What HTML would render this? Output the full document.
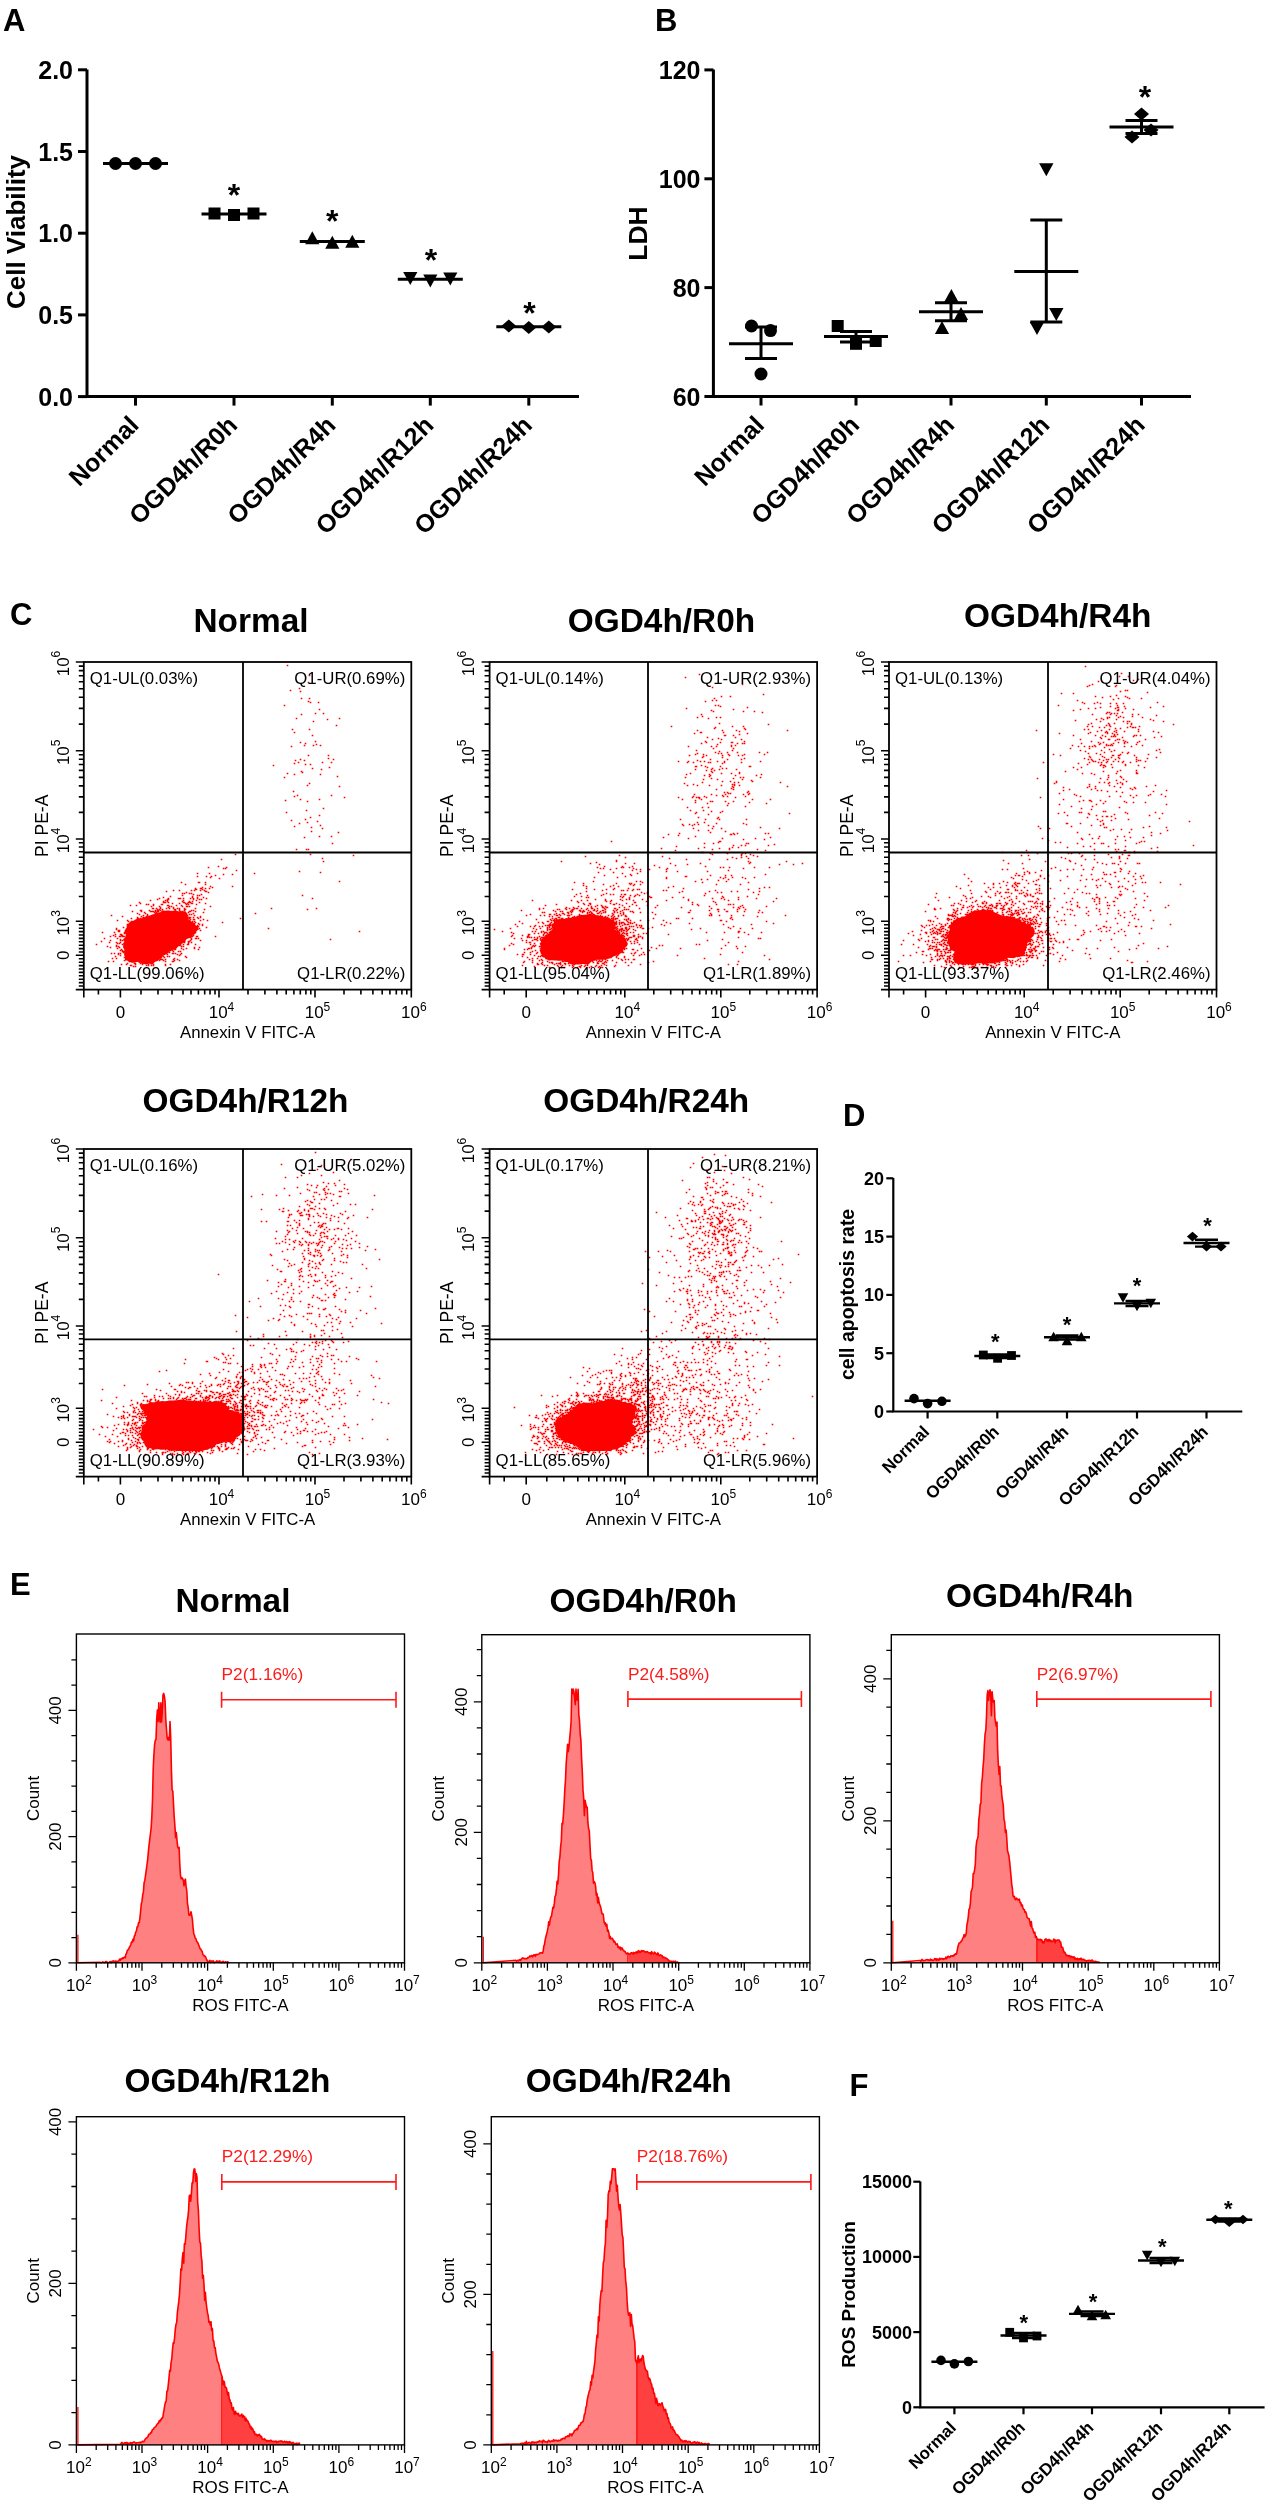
<!DOCTYPE html>
<html><head><meta charset="utf-8"><style>html,body{margin:0;padding:0;background:#fff;width:1267px;height:2500px;overflow:hidden}svg{display:block;will-change:transform}</style></head><body>
<svg width="1267" height="2500" viewBox="0 0 1267 2500">
<rect width="1267" height="2500" fill="#fff"/>
<g stroke="#000" stroke-width="3" fill="none">
<path d="M87 69.5V396.6H579"/>
<path d="M78 396.6H87"/>
<path d="M78 314.9H87"/>
<path d="M78 233.2H87"/>
<path d="M78 151.5H87"/>
<path d="M78 69.8H87"/>
<path d="M135.5 396.6V405.6"/>
<path d="M234 396.6V405.6"/>
<path d="M332.3 396.6V405.6"/>
<path d="M430.3 396.6V405.6"/>
<path d="M528.8 396.6V405.6"/>
</g>
<g font-family="Liberation Sans" font-weight="bold" font-size="25" text-anchor="end" fill="#000">
<text x="73" y="405.6">0.0</text>
<text x="73" y="323.9">0.5</text>
<text x="73" y="242.2">1.0</text>
<text x="73" y="160.5">1.5</text>
<text x="73" y="78.8">2.0</text>
</g>
<text font-family="Liberation Sans" font-weight="bold" font-size="26" text-anchor="middle" transform="translate(24.5 232) rotate(-90)">Cell Viability</text>
<g font-family="Liberation Sans" font-weight="bold" font-size="25" text-anchor="end">
<text transform="translate(140.2 426.6) rotate(-45)">Normal</text>
<text transform="translate(238.7 426.6) rotate(-45)">OGD4h/R0h</text>
<text transform="translate(337 426.6) rotate(-45)">OGD4h/R4h</text>
<text transform="translate(435 426.6) rotate(-45)">OGD4h/R12h</text>
<text transform="translate(533.5 426.6) rotate(-45)">OGD4h/R24h</text>
</g>
<g fill="#000">
<circle cx="115.5" cy="163.5" r="6.5"/>
<circle cx="135.5" cy="163.5" r="6.5"/>
<circle cx="155.5" cy="163.5" r="6.5"/>
<rect x="208.5" y="207.5" width="12" height="12"/>
<rect x="228" y="209" width="12" height="12"/>
<rect x="247.5" y="207.5" width="12" height="12"/>
<path d="M312.3 231.3L319.4 244.3L305.2 244.3Z"/>
<path d="M332.3 235.8L339.4 248.8L325.2 248.8Z"/>
<path d="M352.3 234.8L359.4 247.8L345.2 247.8Z"/>
<path d="M410.3 285.1L417.4 272.1L403.2 272.1Z"/>
<path d="M430.3 287.6L437.4 274.6L423.2 274.6Z"/>
<path d="M450.3 285.6L457.4 272.6L443.2 272.6Z"/>
<path d="M508.8 319.5L516.3 326L508.8 332.5L501.3 326Z"/>
<path d="M528.8 321L536.3 327.5L528.8 334L521.3 327.5Z"/>
<path d="M548.8 320.5L556.3 327L548.8 333.5L541.3 327Z"/>
</g>
<g stroke="#000" stroke-width="3" fill="none">
<path d="M103 163.5H168"/>
<path d="M201.5 213.9H266.5"/>
<path d="M299.8 241.4H364.8"/>
<path d="M397.8 279.3H462.8"/>
<path d="M496.3 326.8H561.3"/>
</g>
<g font-family="Liberation Sans" font-weight="bold" font-size="32" text-anchor="middle">
<text x="234" y="206.3">*</text>
<text x="332.3" y="232.3">*</text>
<text x="431" y="271.1">*</text>
<text x="529.5" y="324.1">*</text>
</g>
<g stroke="#000" stroke-width="3" fill="none">
<path d="M713.4 69.5V396.5H1191"/>
<path d="M704.4 396.5H713.4"/>
<path d="M704.4 287.6H713.4"/>
<path d="M704.4 178.8H713.4"/>
<path d="M704.4 69.9H713.4"/>
<path d="M761 396.5V405.5"/>
<path d="M856 396.5V405.5"/>
<path d="M951 396.5V405.5"/>
<path d="M1046.3 396.5V405.5"/>
<path d="M1141.5 396.5V405.5"/>
</g>
<g font-family="Liberation Sans" font-weight="bold" font-size="25" text-anchor="end" fill="#000">
<text x="700.5" y="405.5">60</text>
<text x="700.5" y="296.6">80</text>
<text x="700.5" y="187.8">100</text>
<text x="700.5" y="78.9">120</text>
</g>
<text font-family="Liberation Sans" font-weight="bold" font-size="26.5" text-anchor="middle" transform="translate(647 233.5) rotate(-90)">LDH</text>
<g font-family="Liberation Sans" font-weight="bold" font-size="25" text-anchor="end">
<text transform="translate(765.7 426.5) rotate(-45)">Normal</text>
<text transform="translate(860.7 426.5) rotate(-45)">OGD4h/R0h</text>
<text transform="translate(955.7 426.5) rotate(-45)">OGD4h/R4h</text>
<text transform="translate(1051 426.5) rotate(-45)">OGD4h/R12h</text>
<text transform="translate(1146.2 426.5) rotate(-45)">OGD4h/R24h</text>
</g>
<g fill="#000">
<circle cx="751.5" cy="326" r="6.5"/>
<circle cx="770.5" cy="330.6" r="6.5"/>
<circle cx="761" cy="374" r="6.5"/>
<rect x="831.7" y="320" width="12" height="12"/>
<rect x="850" y="337.8" width="12" height="12"/>
<rect x="869.7" y="335" width="12" height="12"/>
<path d="M951.4 288.9L958.5 301.9L944.2 301.9Z"/>
<path d="M961 306.9L968.1 319.9L953.9 319.9Z"/>
<path d="M942 320.9L949.1 333.9L934.9 333.9Z"/>
<path d="M1046.3 176.2L1053.5 163.2L1039.1 163.2Z"/>
<path d="M1056.3 321.1L1063.5 308.1L1049.1 308.1Z"/>
<path d="M1037 335.1L1044.2 322.1L1029.8 322.1Z"/>
<path d="M1141.5 107.5L1149 114L1141.5 120.5L1134 114Z"/>
<path d="M1151 123.5L1158.5 130L1151 136.5L1143.5 130Z"/>
<path d="M1132 130.5L1139.5 137L1132 143.5L1124.5 137Z"/>
</g>
<g stroke="#000" stroke-width="3" fill="none">
<path d="M729 343.8H793"/>
<path d="M761 327V358.6M745 327H777M745 358.6H777"/>
<path d="M824 336.5H888"/>
<path d="M856 331.5V341.9M840 331.5H872M840 341.9H872"/>
<path d="M919 311.7H983"/>
<path d="M951 302.8V320.8M935 302.8H967M935 320.8H967"/>
<path d="M1014.3 271.5H1078.3"/>
<path d="M1046.3 220V322M1030.3 220H1062.3M1030.3 322H1062.3"/>
<path d="M1109.5 127H1173.5"/>
<path d="M1141.5 120.6V133.4M1125.5 120.6H1157.5M1125.5 133.4H1157.5"/>
</g>
<g font-family="Liberation Sans" font-weight="bold" font-size="32" text-anchor="middle">
<text x="1145" y="108.3">*</text>
</g>
<g stroke="#000" stroke-width="2.2" fill="none">
<path d="M893.3 1178V1411.5H1242.3"/>
<path d="M886.3 1411.5H893.3"/>
<path d="M886.3 1353.2H893.3"/>
<path d="M886.3 1294.9H893.3"/>
<path d="M886.3 1236.6H893.3"/>
<path d="M886.3 1178.3H893.3"/>
<path d="M927.6 1411.5V1418.5"/>
<path d="M997.3 1411.5V1418.5"/>
<path d="M1067 1411.5V1418.5"/>
<path d="M1137 1411.5V1418.5"/>
<path d="M1206.5 1411.5V1418.5"/>
</g>
<g font-family="Liberation Sans" font-weight="bold" font-size="18" text-anchor="end" fill="#000">
<text x="884" y="1418">0</text>
<text x="884" y="1359.7">5</text>
<text x="884" y="1301.4">10</text>
<text x="884" y="1243.1">15</text>
<text x="884" y="1184.8">20</text>
</g>
<text font-family="Liberation Sans" font-weight="bold" font-size="19.5" text-anchor="middle" transform="translate(854 1294.4) rotate(-90)">cell apoptosis rate</text>
<g font-family="Liberation Sans" font-weight="bold" font-size="17" text-anchor="end">
<text transform="translate(930.3 1432.8) rotate(-45)">Normal</text>
<text transform="translate(1000 1432.8) rotate(-45)">OGD4h/R0h</text>
<text transform="translate(1069.7 1432.8) rotate(-45)">OGD4h/R4h</text>
<text transform="translate(1139.7 1432.8) rotate(-45)">OGD4h/R12h</text>
<text transform="translate(1209.2 1432.8) rotate(-45)">OGD4h/R24h</text>
</g>
<g fill="#000">
<circle cx="914" cy="1398.6" r="4.8"/>
<circle cx="927.6" cy="1403.6" r="4.8"/>
<circle cx="941.9" cy="1401.3" r="4.8"/>
<rect x="978.9" y="1350.6" width="8.8" height="8.8"/>
<rect x="993.2" y="1353.9" width="8.8" height="8.8"/>
<rect x="1007.1" y="1351.1" width="8.8" height="8.8"/>
<path d="M1053.6 1331.7L1058.9 1341.3L1048.3 1341.3Z"/>
<path d="M1067 1335.7L1072.3 1345.3L1061.7 1345.3Z"/>
<path d="M1081.3 1331.7L1086.6 1341.3L1076 1341.3Z"/>
<path d="M1123 1302.8L1128.3 1293.2L1117.7 1293.2Z"/>
<path d="M1137 1311.3L1142.3 1301.7L1131.7 1301.7Z"/>
<path d="M1150.8 1308.3L1156.1 1298.7L1145.5 1298.7Z"/>
<path d="M1192.5 1231.8L1198.1 1236.6L1192.5 1241.4L1186.9 1236.6Z"/>
<path d="M1206.5 1241.8L1212.1 1246.6L1206.5 1251.4L1200.9 1246.6Z"/>
<path d="M1221 1241.8L1226.6 1246.6L1221 1251.4L1215.4 1246.6Z"/>
</g>
<g stroke="#000" stroke-width="2.4" fill="none">
<path d="M904.6 1400.8H950.6"/>
<path d="M974.3 1356H1020.3"/>
<path d="M997.3 1354.5V1358M985.8 1354.5H1008.8M985.8 1358H1008.8"/>
<path d="M1044 1337.3H1090"/>
<path d="M1067 1335.5V1339.5M1055.5 1335.5H1078.5M1055.5 1339.5H1078.5"/>
<path d="M1114 1303.4H1160"/>
<path d="M1137 1301V1306M1125.5 1301H1148.5M1125.5 1306H1148.5"/>
<path d="M1183.5 1243H1229.5"/>
<path d="M1206.5 1239.8V1246.6M1195 1239.8H1218M1195 1246.6H1218"/>
</g>
<g font-family="Liberation Sans" font-weight="bold" font-size="22" text-anchor="middle">
<text x="995.2" y="1348.5">*</text>
<text x="1067" y="1332">*</text>
<text x="1137" y="1293.2">*</text>
<text x="1207.6" y="1232.5">*</text>
</g>
<g stroke="#000" stroke-width="2.2" fill="none">
<path d="M920.3 2181.5V2407.3H1264.6"/>
<path d="M913.3 2407.3H920.3"/>
<path d="M913.3 2332.1H920.3"/>
<path d="M913.3 2256.9H920.3"/>
<path d="M913.3 2181.7H920.3"/>
<path d="M954.4 2407.3V2414.3"/>
<path d="M1023.5 2407.3V2414.3"/>
<path d="M1092 2407.3V2414.3"/>
<path d="M1161 2407.3V2414.3"/>
<path d="M1229.3 2407.3V2414.3"/>
</g>
<g font-family="Liberation Sans" font-weight="bold" font-size="18" text-anchor="end" fill="#000">
<text x="912" y="2413.8">0</text>
<text x="912" y="2338.6">5000</text>
<text x="912" y="2263.4">10000</text>
<text x="912" y="2188.2">15000</text>
</g>
<text font-family="Liberation Sans" font-weight="bold" font-size="19" text-anchor="middle" transform="translate(854.5 2294.5) rotate(-90)">ROS Production</text>
<g font-family="Liberation Sans" font-weight="bold" font-size="17" text-anchor="end">
<text transform="translate(957.1 2428.6) rotate(-45)">Normal</text>
<text transform="translate(1026.2 2428.6) rotate(-45)">OGD4h/R0h</text>
<text transform="translate(1094.7 2428.6) rotate(-45)">OGD4h/R4h</text>
<text transform="translate(1163.7 2428.6) rotate(-45)">OGD4h/R12h</text>
<text transform="translate(1232 2428.6) rotate(-45)">OGD4h/R24h</text>
</g>
<g fill="#000">
<circle cx="941" cy="2360.4" r="4.8"/>
<circle cx="954.4" cy="2363.9" r="4.8"/>
<circle cx="968.4" cy="2361.5" r="4.8"/>
<rect x="1005.3" y="2327.9" width="8.8" height="8.8"/>
<rect x="1019.1" y="2333.5" width="8.8" height="8.8"/>
<rect x="1032.6" y="2331.6" width="8.8" height="8.8"/>
<path d="M1078 2304.7L1083.3 2314.3L1072.7 2314.3Z"/>
<path d="M1092 2310.7L1097.3 2320.3L1086.7 2320.3Z"/>
<path d="M1105.7 2309.7L1111 2319.3L1100.4 2319.3Z"/>
<path d="M1147.2 2260.3L1152.5 2250.7L1141.9 2250.7Z"/>
<path d="M1161 2267.3L1166.3 2257.7L1155.7 2257.7Z"/>
<path d="M1174.8 2266.3L1180.1 2256.7L1169.5 2256.7Z"/>
<path d="M1215.4 2214.7L1221 2219.5L1215.4 2224.3L1209.8 2219.5Z"/>
<path d="M1229.3 2217.5L1234.9 2222.3L1229.3 2227.1L1223.7 2222.3Z"/>
<path d="M1243 2214.7L1248.6 2219.5L1243 2224.3L1237.4 2219.5Z"/>
</g>
<g stroke="#000" stroke-width="2.4" fill="none">
<path d="M931.4 2361.8H977.4"/>
<path d="M1000.5 2335.5H1046.5"/>
<path d="M1023.5 2333V2338M1012 2333H1035M1012 2338H1035"/>
<path d="M1069 2313.9H1115"/>
<path d="M1092 2311.5V2316M1080.5 2311.5H1103.5M1080.5 2316H1103.5"/>
<path d="M1138 2260.5H1184"/>
<path d="M1161 2258V2263M1149.5 2258H1172.5M1149.5 2263H1172.5"/>
<path d="M1206.3 2219.8H1252.3"/>
<path d="M1229.3 2218.5V2221.5M1217.8 2218.5H1240.8M1217.8 2221.5H1240.8"/>
</g>
<g font-family="Liberation Sans" font-weight="bold" font-size="22" text-anchor="middle">
<text x="1023.9" y="2329.8">*</text>
<text x="1093" y="2309.2">*</text>
<text x="1162.2" y="2254.2">*</text>
<text x="1228.3" y="2215.7">*</text>
</g>
<text x="3" y="31" font-family="Liberation Sans" font-weight="bold" font-size="31">A</text>
<text x="655" y="31" font-family="Liberation Sans" font-weight="bold" font-size="31">B</text>
<text x="10" y="624.5" font-family="Liberation Sans" font-weight="bold" font-size="31">C</text>
<text x="843" y="1126" font-family="Liberation Sans" font-weight="bold" font-size="31">D</text>
<text x="10" y="1595" font-family="Liberation Sans" font-weight="bold" font-size="31">E</text>
<text x="849.5" y="2096" font-family="Liberation Sans" font-weight="bold" font-size="31">F</text>
<text x="251" y="631.6" font-family="Liberation Sans" font-weight="bold" font-size="33.4" text-anchor="middle">Normal</text>
<path fill="#ff0000" d="M190.4 920.4 191.7 921.7 193.6 922.4 195.3 923.3 195.2 924.7 196.2 925.8 198.8 926.6 198.3 928.1 198.9 929.4 196.5 931 196.4 932.4 195.5 933.8 192.8 935.2 192.5 936.5 190.6 937.7 187.3 938.7 185.9 939.7 185.5 940.9 185.1 942.2 183 943 181.6 944 180.7 945.2 178.9 945.9 177.7 947.1 176.5 948.2 175 949.2 173 949.8 171.4 950.8 169.6 951.8 168 953.2 165.6 954.5 163.2 955.8 161.5 958.4 159.4 959.5 157.4 961.1 155.3 961.6 153.1 963.8 151 964.4 149.3 963.6 147.4 964 145.5 964.5 144 964.1 142.4 963.9 141.5 962.6 139.8 962.9 138.6 962.4 137.5 961.7 135.6 962.2 133.5 962.8 131.7 962.8 130.5 962.3 128.7 962.2 128.2 961 126.7 960.6 124.9 960.4 125 958.7 125.2 957.1 124.4 956.1 124.1 954.7 124.1 953.1 124.6 951.1 124.2 949.6 123.8 948.3 122.9 947.3 123.2 946 123.3 944.8 123 943.7 124.1 942.3 124.3 941.2 123.4 940.2 123.3 939.1 124.7 937.9 125.6 936.7 126.5 935.6 126 934.5 125.1 933.2 125.5 931.9 125.9 930.6 125.3 929 126.6 927.8 126.7 926.1 126.9 924.4 128.8 923.2 130.7 922 133 921 134.9 919.9 137 918.7 140.5 919 142.3 917.6 144.8 917 147.7 916 150.5 915.3 152.7 914.4 154.8 914 156.7 913.1 158.6 912.5 160.3 912.3 162.4 910.5 164.1 910.6 165.6 911 167.3 910.4 168.8 910.5 170.1 910.9 171.5 911.1 173.1 910.9 174.6 910.8 176.1 910.8 177.5 910.9 178.5 911.6 180.3 911.2 181.7 911.5 183.7 911.2 185.4 911.3 186.2 912.2 187 913.2 187.6 914.2 187 916.1 188.6 916.5 188.9 917.8 188.5 919.6Z"/>
<path fill="none" stroke="#ff0000" stroke-width="1.6" stroke-linecap="square" d="M287.5 665.5h0M309.5 675.5h0M308.5 682.5h0M299.5 688.5h0M290.5 690.5h0M300.5 691.5h0M301.5 698.5h0M309.5 698.5h0M308.5 701.5h0M310.5 702.5h0M318.5 702.5h0M284.5 705.5h0M319.5 709.5h0M315.5 713.5h0M323.5 713.5h0M301.5 714.5h0M296.5 718.5h0M339.5 718.5h0M327.5 719.5h0M313.5 721.5h0M336.5 725.5h0M292.5 729.5h0M309.5 729.5h0M294.5 732.5h0M312.5 735.5h0M315.5 741.5h0M300.5 742.5h0M305.5 743.5h0M316.5 744.5h0M304.5 745.5h0M313.5 745.5h0M320.5 745.5h0M291.5 746.5h0M308.5 755.5h0M328.5 755.5h0M328.5 758.5h0M300.5 759.5h0M333.5 759.5h0M295.5 760.5h0M304.5 760.5h0M298.5 762.5h0M322.5 762.5h0M331.5 762.5h0M294.5 763.5h0M305.5 764.5h0M310.5 764.5h0M273.5 765.5h0M329.5 767.5h0M312.5 768.5h0M321.5 769.5h0M301.5 771.5h0M302.5 772.5h0M287.5 773.5h0M294.5 774.5h0M320.5 774.5h0M337.5 776.5h0M284.5 777.5h0M309.5 783.5h0M307.5 785.5h0M339.5 786.5h0M293.5 791.5h0M297.5 795.5h0M331.5 795.5h0M294.5 796.5h0M344.5 797.5h0M300.5 799.5h0M319.5 799.5h0M285.5 800.5h0M307.5 801.5h0M323.5 808.5h0M306.5 810.5h0M286.5 812.5h0M319.5 815.5h0M310.5 817.5h0M305.5 819.5h0M291.5 820.5h0M317.5 821.5h0M307.5 822.5h0M299.5 823.5h0M320.5 825.5h0M294.5 826.5h0M311.5 827.5h0M322.5 828.5h0M311.5 831.5h0M338.5 832.5h0M319.5 836.5h0M331.5 836.5h0M304.5 837.5h0M332.5 843.5h0M296.5 849.5h0M306.5 849.5h0M308.5 849.5h0M235.5 854.5h0M310.5 854.5h0M353.5 855.5h0M322.5 858.5h0M221.5 859.5h0M323.5 861.5h0M218.5 866.5h0M208.5 867.5h0M226.5 867.5h0M223.5 868.5h0M225.5 868.5h0M236.5 870.5h0M299.5 871.5h0M320.5 872.5h0M197.5 873.5h0M209.5 873.5h0M254.5 873.5h0M223.5 874.5h0M232.5 874.5h0M215.5 875.5h0M197.5 876.5h0M206.5 876.5h0M211.5 876.5h0M210.5 877.5h0M219.5 878.5h0M339.5 881.5h0M181.5 882.5h0M198.5 882.5h0M199.5 882.5h0M205.5 882.5h0M185.5 884.5h0M205.5 884.5h0M210.5 886.5h0M232.5 886.5h0M202.5 887.5h0M212.5 887.5h0M195.5 888.5h0M200.5 888.5h0M201.5 888.5h0M205.5 888.5h0M209.5 888.5h0M195.5 889.5h0M196.5 889.5h0M202.5 889.5h0M173.5 890.5h0M179.5 890.5h0M191.5 890.5h0M194.5 890.5h0M200.5 890.5h0M204.5 890.5h0M166.5 891.5h0M205.5 891.5h0M206.5 891.5h0M186.5 892.5h0M208.5 892.5h0M182.5 893.5h0M184.5 893.5h0M189.5 893.5h0M191.5 893.5h0M193.5 894.5h0M201.5 894.5h0M182.5 895.5h0M197.5 895.5h0M199.5 895.5h0M302.5 895.5h0M170.5 896.5h0M192.5 896.5h0M163.5 897.5h0M192.5 897.5h0M197.5 897.5h0M203.5 897.5h0M159.5 898.5h0M168.5 898.5h0M178.5 898.5h0M179.5 898.5h0M180.5 898.5h0M183.5 898.5h0M190.5 898.5h0M193.5 898.5h0M197.5 898.5h0M206.5 898.5h0M312.5 898.5h0M157.5 899.5h0M167.5 899.5h0M168.5 899.5h0M193.5 899.5h0M199.5 899.5h0M201.5 899.5h0M150.5 900.5h0M165.5 900.5h0M167.5 900.5h0M183.5 900.5h0M196.5 900.5h0M163.5 901.5h0M167.5 901.5h0M182.5 901.5h0M189.5 901.5h0M192.5 901.5h0M139.5 902.5h0M163.5 902.5h0M164.5 902.5h0M165.5 902.5h0M168.5 902.5h0M183.5 902.5h0M184.5 902.5h0M188.5 902.5h0M189.5 902.5h0M190.5 902.5h0M199.5 902.5h0M140.5 903.5h0M172.5 903.5h0M179.5 903.5h0M185.5 903.5h0M187.5 903.5h0M191.5 903.5h0M192.5 903.5h0M205.5 903.5h0M146.5 904.5h0M148.5 904.5h0M153.5 904.5h0M161.5 904.5h0M162.5 904.5h0M186.5 904.5h0M188.5 904.5h0M196.5 904.5h0M130.5 905.5h0M136.5 905.5h0M153.5 905.5h0M167.5 905.5h0M168.5 905.5h0M176.5 905.5h0M181.5 905.5h0M151.5 906.5h0M159.5 906.5h0M169.5 906.5h0M171.5 906.5h0M182.5 906.5h0M186.5 906.5h0M187.5 906.5h0M189.5 906.5h0M210.5 906.5h0M160.5 907.5h0M168.5 907.5h0M173.5 907.5h0M152.5 908.5h0M153.5 908.5h0M156.5 908.5h0M160.5 908.5h0M166.5 908.5h0M169.5 908.5h0M173.5 908.5h0M177.5 908.5h0M179.5 908.5h0M184.5 908.5h0M195.5 908.5h0M271.5 908.5h0M316.5 908.5h0M157.5 909.5h0M159.5 909.5h0M162.5 909.5h0M174.5 909.5h0M175.5 909.5h0M179.5 909.5h0M184.5 909.5h0M185.5 909.5h0M204.5 909.5h0M307.5 909.5h0M140.5 910.5h0M141.5 910.5h0M149.5 910.5h0M155.5 910.5h0M157.5 910.5h0M158.5 910.5h0M160.5 910.5h0M175.5 910.5h0M179.5 910.5h0M184.5 910.5h0M191.5 910.5h0M193.5 910.5h0M132.5 911.5h0M141.5 911.5h0M150.5 911.5h0M151.5 911.5h0M152.5 911.5h0M153.5 911.5h0M155.5 911.5h0M157.5 911.5h0M158.5 911.5h0M162.5 911.5h0M165.5 911.5h0M166.5 911.5h0M169.5 911.5h0M171.5 911.5h0M173.5 911.5h0M174.5 911.5h0M180.5 911.5h0M182.5 911.5h0M189.5 911.5h0M190.5 911.5h0M195.5 911.5h0M144.5 912.5h0M154.5 912.5h0M156.5 912.5h0M165.5 912.5h0M171.5 912.5h0M175.5 912.5h0M176.5 912.5h0M179.5 912.5h0M181.5 912.5h0M188.5 912.5h0M203.5 912.5h0M137.5 913.5h0M145.5 913.5h0M155.5 913.5h0M157.5 913.5h0M166.5 913.5h0M170.5 913.5h0M171.5 913.5h0M172.5 913.5h0M173.5 913.5h0M174.5 913.5h0M178.5 913.5h0M180.5 913.5h0M184.5 913.5h0M193.5 913.5h0M255.5 913.5h0M139.5 914.5h0M147.5 914.5h0M163.5 914.5h0M164.5 914.5h0M167.5 914.5h0M169.5 914.5h0M171.5 914.5h0M172.5 914.5h0M176.5 914.5h0M181.5 914.5h0M182.5 914.5h0M185.5 914.5h0M189.5 914.5h0M191.5 914.5h0M111.5 915.5h0M143.5 915.5h0M147.5 915.5h0M152.5 915.5h0M153.5 915.5h0M154.5 915.5h0M156.5 915.5h0M157.5 915.5h0M164.5 915.5h0M165.5 915.5h0M166.5 915.5h0M168.5 915.5h0M169.5 915.5h0M172.5 915.5h0M173.5 915.5h0M174.5 915.5h0M175.5 915.5h0M184.5 915.5h0M187.5 915.5h0M194.5 915.5h0M122.5 916.5h0M141.5 916.5h0M146.5 916.5h0M153.5 916.5h0M154.5 916.5h0M156.5 916.5h0M157.5 916.5h0M158.5 916.5h0M163.5 916.5h0M164.5 916.5h0M165.5 916.5h0M166.5 916.5h0M167.5 916.5h0M172.5 916.5h0M174.5 916.5h0M177.5 916.5h0M178.5 916.5h0M179.5 916.5h0M181.5 916.5h0M185.5 916.5h0M200.5 916.5h0M137.5 917.5h0M143.5 917.5h0M148.5 917.5h0M152.5 917.5h0M154.5 917.5h0M155.5 917.5h0M157.5 917.5h0M158.5 917.5h0M160.5 917.5h0M165.5 917.5h0M166.5 917.5h0M169.5 917.5h0M172.5 917.5h0M175.5 917.5h0M177.5 917.5h0M178.5 917.5h0M179.5 917.5h0M184.5 917.5h0M189.5 917.5h0M190.5 917.5h0M193.5 917.5h0M197.5 917.5h0M200.5 917.5h0M131.5 918.5h0M137.5 918.5h0M138.5 918.5h0M140.5 918.5h0M151.5 918.5h0M154.5 918.5h0M156.5 918.5h0M158.5 918.5h0M161.5 918.5h0M162.5 918.5h0M163.5 918.5h0M167.5 918.5h0M168.5 918.5h0M170.5 918.5h0M172.5 918.5h0M174.5 918.5h0M177.5 918.5h0M185.5 918.5h0M189.5 918.5h0M198.5 918.5h0M240.5 918.5h0M139.5 919.5h0M140.5 919.5h0M143.5 919.5h0M145.5 919.5h0M151.5 919.5h0M153.5 919.5h0M154.5 919.5h0M157.5 919.5h0M158.5 919.5h0M161.5 919.5h0M162.5 919.5h0M163.5 919.5h0M164.5 919.5h0M170.5 919.5h0M171.5 919.5h0M174.5 919.5h0M178.5 919.5h0M182.5 919.5h0M183.5 919.5h0M186.5 919.5h0M187.5 919.5h0M190.5 919.5h0M193.5 919.5h0M194.5 919.5h0M203.5 919.5h0M117.5 920.5h0M127.5 920.5h0M135.5 920.5h0M138.5 920.5h0M139.5 920.5h0M142.5 920.5h0M143.5 920.5h0M145.5 920.5h0M150.5 920.5h0M153.5 920.5h0M154.5 920.5h0M155.5 920.5h0M158.5 920.5h0M159.5 920.5h0M160.5 920.5h0M161.5 920.5h0M163.5 920.5h0M164.5 920.5h0M165.5 920.5h0M167.5 920.5h0M169.5 920.5h0M170.5 920.5h0M171.5 920.5h0M173.5 920.5h0M174.5 920.5h0M177.5 920.5h0M178.5 920.5h0M180.5 920.5h0M183.5 920.5h0M185.5 920.5h0M186.5 920.5h0M187.5 920.5h0M189.5 920.5h0M200.5 920.5h0M207.5 920.5h0M128.5 921.5h0M131.5 921.5h0M132.5 921.5h0M135.5 921.5h0M140.5 921.5h0M144.5 921.5h0M147.5 921.5h0M148.5 921.5h0M150.5 921.5h0M153.5 921.5h0M154.5 921.5h0M155.5 921.5h0M157.5 921.5h0M160.5 921.5h0M161.5 921.5h0M162.5 921.5h0M163.5 921.5h0M165.5 921.5h0M166.5 921.5h0M167.5 921.5h0M169.5 921.5h0M171.5 921.5h0M172.5 921.5h0M176.5 921.5h0M177.5 921.5h0M179.5 921.5h0M184.5 921.5h0M192.5 921.5h0M194.5 921.5h0M130.5 922.5h0M139.5 922.5h0M141.5 922.5h0M145.5 922.5h0M146.5 922.5h0M150.5 922.5h0M153.5 922.5h0M155.5 922.5h0M157.5 922.5h0M160.5 922.5h0M161.5 922.5h0M162.5 922.5h0M163.5 922.5h0M165.5 922.5h0M166.5 922.5h0M171.5 922.5h0M172.5 922.5h0M173.5 922.5h0M175.5 922.5h0M177.5 922.5h0M180.5 922.5h0M181.5 922.5h0M183.5 922.5h0M186.5 922.5h0M187.5 922.5h0M195.5 922.5h0M222.5 922.5h0M133.5 923.5h0M134.5 923.5h0M136.5 923.5h0M138.5 923.5h0M141.5 923.5h0M142.5 923.5h0M143.5 923.5h0M147.5 923.5h0M151.5 923.5h0M153.5 923.5h0M155.5 923.5h0M156.5 923.5h0M157.5 923.5h0M158.5 923.5h0M159.5 923.5h0M160.5 923.5h0M161.5 923.5h0M163.5 923.5h0M164.5 923.5h0M165.5 923.5h0M167.5 923.5h0M169.5 923.5h0M170.5 923.5h0M171.5 923.5h0M172.5 923.5h0M175.5 923.5h0M176.5 923.5h0M177.5 923.5h0M198.5 923.5h0M127.5 924.5h0M132.5 924.5h0M134.5 924.5h0M138.5 924.5h0M140.5 924.5h0M141.5 924.5h0M144.5 924.5h0M146.5 924.5h0M147.5 924.5h0M148.5 924.5h0M149.5 924.5h0M151.5 924.5h0M152.5 924.5h0M153.5 924.5h0M154.5 924.5h0M156.5 924.5h0M157.5 924.5h0M158.5 924.5h0M159.5 924.5h0M160.5 924.5h0M164.5 924.5h0M166.5 924.5h0M167.5 924.5h0M168.5 924.5h0M169.5 924.5h0M170.5 924.5h0M172.5 924.5h0M174.5 924.5h0M176.5 924.5h0M177.5 924.5h0M178.5 924.5h0M182.5 924.5h0M199.5 924.5h0M202.5 924.5h0M131.5 925.5h0M133.5 925.5h0M139.5 925.5h0M140.5 925.5h0M141.5 925.5h0M142.5 925.5h0M143.5 925.5h0M145.5 925.5h0M146.5 925.5h0M147.5 925.5h0M148.5 925.5h0M153.5 925.5h0M155.5 925.5h0M156.5 925.5h0M158.5 925.5h0M160.5 925.5h0M162.5 925.5h0M163.5 925.5h0M164.5 925.5h0M165.5 925.5h0M166.5 925.5h0M172.5 925.5h0M174.5 925.5h0M175.5 925.5h0M178.5 925.5h0M179.5 925.5h0M180.5 925.5h0M184.5 925.5h0M197.5 925.5h0M202.5 925.5h0M129.5 926.5h0M132.5 926.5h0M140.5 926.5h0M141.5 926.5h0M142.5 926.5h0M146.5 926.5h0M150.5 926.5h0M151.5 926.5h0M152.5 926.5h0M153.5 926.5h0M155.5 926.5h0M156.5 926.5h0M158.5 926.5h0M160.5 926.5h0M161.5 926.5h0M162.5 926.5h0M163.5 926.5h0M164.5 926.5h0M165.5 926.5h0M166.5 926.5h0M168.5 926.5h0M169.5 926.5h0M171.5 926.5h0M175.5 926.5h0M176.5 926.5h0M179.5 926.5h0M180.5 926.5h0M181.5 926.5h0M182.5 926.5h0M184.5 926.5h0M189.5 926.5h0M194.5 926.5h0M197.5 926.5h0M198.5 926.5h0M123.5 927.5h0M128.5 927.5h0M129.5 927.5h0M132.5 927.5h0M135.5 927.5h0M136.5 927.5h0M141.5 927.5h0M142.5 927.5h0M145.5 927.5h0M147.5 927.5h0M148.5 927.5h0M149.5 927.5h0M152.5 927.5h0M155.5 927.5h0M158.5 927.5h0M159.5 927.5h0M160.5 927.5h0M161.5 927.5h0M162.5 927.5h0M164.5 927.5h0M168.5 927.5h0M169.5 927.5h0M170.5 927.5h0M171.5 927.5h0M172.5 927.5h0M176.5 927.5h0M182.5 927.5h0M183.5 927.5h0M189.5 927.5h0M191.5 927.5h0M206.5 927.5h0M116.5 928.5h0M134.5 928.5h0M136.5 928.5h0M142.5 928.5h0M143.5 928.5h0M144.5 928.5h0M146.5 928.5h0M147.5 928.5h0M148.5 928.5h0M150.5 928.5h0M151.5 928.5h0M152.5 928.5h0M153.5 928.5h0M154.5 928.5h0M158.5 928.5h0M159.5 928.5h0M160.5 928.5h0M161.5 928.5h0M162.5 928.5h0M163.5 928.5h0M164.5 928.5h0M166.5 928.5h0M167.5 928.5h0M168.5 928.5h0M169.5 928.5h0M170.5 928.5h0M171.5 928.5h0M172.5 928.5h0M173.5 928.5h0M174.5 928.5h0M175.5 928.5h0M178.5 928.5h0M179.5 928.5h0M180.5 928.5h0M185.5 928.5h0M190.5 928.5h0M195.5 928.5h0M199.5 928.5h0M268.5 928.5h0M116.5 929.5h0M127.5 929.5h0M131.5 929.5h0M132.5 929.5h0M137.5 929.5h0M139.5 929.5h0M140.5 929.5h0M143.5 929.5h0M147.5 929.5h0M150.5 929.5h0M154.5 929.5h0M155.5 929.5h0M156.5 929.5h0M157.5 929.5h0M158.5 929.5h0M159.5 929.5h0M160.5 929.5h0M161.5 929.5h0M162.5 929.5h0M164.5 929.5h0M165.5 929.5h0M166.5 929.5h0M167.5 929.5h0M168.5 929.5h0M169.5 929.5h0M171.5 929.5h0M174.5 929.5h0M176.5 929.5h0M177.5 929.5h0M178.5 929.5h0M183.5 929.5h0M184.5 929.5h0M185.5 929.5h0M194.5 929.5h0M118.5 930.5h0M119.5 930.5h0M125.5 930.5h0M128.5 930.5h0M132.5 930.5h0M133.5 930.5h0M135.5 930.5h0M137.5 930.5h0M139.5 930.5h0M140.5 930.5h0M141.5 930.5h0M142.5 930.5h0M143.5 930.5h0M144.5 930.5h0M145.5 930.5h0M146.5 930.5h0M147.5 930.5h0M148.5 930.5h0M149.5 930.5h0M150.5 930.5h0M151.5 930.5h0M152.5 930.5h0M153.5 930.5h0M154.5 930.5h0M156.5 930.5h0M157.5 930.5h0M158.5 930.5h0M159.5 930.5h0M160.5 930.5h0M163.5 930.5h0M164.5 930.5h0M165.5 930.5h0M166.5 930.5h0M167.5 930.5h0M168.5 930.5h0M170.5 930.5h0M171.5 930.5h0M172.5 930.5h0M173.5 930.5h0M175.5 930.5h0M176.5 930.5h0M177.5 930.5h0M183.5 930.5h0M187.5 930.5h0M188.5 930.5h0M190.5 930.5h0M192.5 930.5h0M200.5 930.5h0M118.5 931.5h0M119.5 931.5h0M125.5 931.5h0M130.5 931.5h0M133.5 931.5h0M134.5 931.5h0M135.5 931.5h0M138.5 931.5h0M140.5 931.5h0M141.5 931.5h0M142.5 931.5h0M144.5 931.5h0M146.5 931.5h0M147.5 931.5h0M148.5 931.5h0M149.5 931.5h0M150.5 931.5h0M151.5 931.5h0M154.5 931.5h0M155.5 931.5h0M158.5 931.5h0M159.5 931.5h0M160.5 931.5h0M162.5 931.5h0M163.5 931.5h0M165.5 931.5h0M166.5 931.5h0M167.5 931.5h0M168.5 931.5h0M170.5 931.5h0M172.5 931.5h0M174.5 931.5h0M176.5 931.5h0M177.5 931.5h0M178.5 931.5h0M182.5 931.5h0M183.5 931.5h0M185.5 931.5h0M188.5 931.5h0M190.5 931.5h0M359.5 931.5h0M102.5 932.5h0M114.5 932.5h0M124.5 932.5h0M125.5 932.5h0M129.5 932.5h0M131.5 932.5h0M132.5 932.5h0M135.5 932.5h0M141.5 932.5h0M142.5 932.5h0M143.5 932.5h0M144.5 932.5h0M145.5 932.5h0M146.5 932.5h0M147.5 932.5h0M148.5 932.5h0M150.5 932.5h0M151.5 932.5h0M152.5 932.5h0M153.5 932.5h0M154.5 932.5h0M155.5 932.5h0M157.5 932.5h0M158.5 932.5h0M159.5 932.5h0M160.5 932.5h0M161.5 932.5h0M162.5 932.5h0M163.5 932.5h0M164.5 932.5h0M165.5 932.5h0M167.5 932.5h0M169.5 932.5h0M170.5 932.5h0M171.5 932.5h0M172.5 932.5h0M173.5 932.5h0M175.5 932.5h0M176.5 932.5h0M181.5 932.5h0M183.5 932.5h0M189.5 932.5h0M124.5 933.5h0M126.5 933.5h0M129.5 933.5h0M132.5 933.5h0M133.5 933.5h0M136.5 933.5h0M137.5 933.5h0M139.5 933.5h0M143.5 933.5h0M144.5 933.5h0M145.5 933.5h0M147.5 933.5h0M148.5 933.5h0M150.5 933.5h0M153.5 933.5h0M154.5 933.5h0M155.5 933.5h0M157.5 933.5h0M158.5 933.5h0M159.5 933.5h0M160.5 933.5h0M161.5 933.5h0M162.5 933.5h0M163.5 933.5h0M164.5 933.5h0M165.5 933.5h0M167.5 933.5h0M168.5 933.5h0M169.5 933.5h0M170.5 933.5h0M171.5 933.5h0M174.5 933.5h0M176.5 933.5h0M177.5 933.5h0M178.5 933.5h0M181.5 933.5h0M187.5 933.5h0M192.5 933.5h0M115.5 934.5h0M120.5 934.5h0M121.5 934.5h0M126.5 934.5h0M127.5 934.5h0M132.5 934.5h0M133.5 934.5h0M135.5 934.5h0M140.5 934.5h0M141.5 934.5h0M143.5 934.5h0M144.5 934.5h0M145.5 934.5h0M146.5 934.5h0M147.5 934.5h0M148.5 934.5h0M149.5 934.5h0M150.5 934.5h0M151.5 934.5h0M153.5 934.5h0M154.5 934.5h0M155.5 934.5h0M158.5 934.5h0M159.5 934.5h0M160.5 934.5h0M161.5 934.5h0M162.5 934.5h0M163.5 934.5h0M164.5 934.5h0M165.5 934.5h0M166.5 934.5h0M167.5 934.5h0M169.5 934.5h0M171.5 934.5h0M172.5 934.5h0M173.5 934.5h0M174.5 934.5h0M175.5 934.5h0M181.5 934.5h0M186.5 934.5h0M189.5 934.5h0M113.5 935.5h0M121.5 935.5h0M122.5 935.5h0M126.5 935.5h0M128.5 935.5h0M129.5 935.5h0M137.5 935.5h0M138.5 935.5h0M139.5 935.5h0M141.5 935.5h0M142.5 935.5h0M143.5 935.5h0M144.5 935.5h0M145.5 935.5h0M146.5 935.5h0M147.5 935.5h0M148.5 935.5h0M150.5 935.5h0M151.5 935.5h0M152.5 935.5h0M153.5 935.5h0M154.5 935.5h0M155.5 935.5h0M156.5 935.5h0M157.5 935.5h0M158.5 935.5h0M159.5 935.5h0M160.5 935.5h0M161.5 935.5h0M162.5 935.5h0M164.5 935.5h0M165.5 935.5h0M166.5 935.5h0M169.5 935.5h0M171.5 935.5h0M173.5 935.5h0M176.5 935.5h0M177.5 935.5h0M180.5 935.5h0M181.5 935.5h0M182.5 935.5h0M186.5 935.5h0M189.5 935.5h0M193.5 935.5h0M110.5 936.5h0M115.5 936.5h0M119.5 936.5h0M120.5 936.5h0M122.5 936.5h0M123.5 936.5h0M124.5 936.5h0M126.5 936.5h0M127.5 936.5h0M130.5 936.5h0M131.5 936.5h0M133.5 936.5h0M136.5 936.5h0M137.5 936.5h0M138.5 936.5h0M141.5 936.5h0M142.5 936.5h0M144.5 936.5h0M145.5 936.5h0M146.5 936.5h0M147.5 936.5h0M148.5 936.5h0M150.5 936.5h0M151.5 936.5h0M152.5 936.5h0M153.5 936.5h0M154.5 936.5h0M155.5 936.5h0M156.5 936.5h0M157.5 936.5h0M158.5 936.5h0M159.5 936.5h0M160.5 936.5h0M161.5 936.5h0M162.5 936.5h0M163.5 936.5h0M164.5 936.5h0M165.5 936.5h0M167.5 936.5h0M168.5 936.5h0M169.5 936.5h0M170.5 936.5h0M178.5 936.5h0M180.5 936.5h0M181.5 936.5h0M183.5 936.5h0M187.5 936.5h0M191.5 936.5h0M192.5 936.5h0M196.5 936.5h0M197.5 936.5h0M215.5 936.5h0M128.5 937.5h0M133.5 937.5h0M134.5 937.5h0M136.5 937.5h0M138.5 937.5h0M139.5 937.5h0M140.5 937.5h0M141.5 937.5h0M142.5 937.5h0M144.5 937.5h0M145.5 937.5h0M146.5 937.5h0M148.5 937.5h0M149.5 937.5h0M150.5 937.5h0M151.5 937.5h0M152.5 937.5h0M153.5 937.5h0M154.5 937.5h0M156.5 937.5h0M157.5 937.5h0M158.5 937.5h0M159.5 937.5h0M160.5 937.5h0M161.5 937.5h0M162.5 937.5h0M164.5 937.5h0M167.5 937.5h0M168.5 937.5h0M170.5 937.5h0M174.5 937.5h0M175.5 937.5h0M176.5 937.5h0M177.5 937.5h0M180.5 937.5h0M181.5 937.5h0M183.5 937.5h0M190.5 937.5h0M104.5 938.5h0M117.5 938.5h0M133.5 938.5h0M134.5 938.5h0M136.5 938.5h0M138.5 938.5h0M139.5 938.5h0M142.5 938.5h0M143.5 938.5h0M144.5 938.5h0M145.5 938.5h0M146.5 938.5h0M147.5 938.5h0M148.5 938.5h0M149.5 938.5h0M152.5 938.5h0M154.5 938.5h0M155.5 938.5h0M157.5 938.5h0M159.5 938.5h0M160.5 938.5h0M162.5 938.5h0M163.5 938.5h0M164.5 938.5h0M166.5 938.5h0M167.5 938.5h0M170.5 938.5h0M171.5 938.5h0M174.5 938.5h0M175.5 938.5h0M176.5 938.5h0M180.5 938.5h0M181.5 938.5h0M184.5 938.5h0M191.5 938.5h0M195.5 938.5h0M196.5 938.5h0M198.5 938.5h0M120.5 939.5h0M124.5 939.5h0M126.5 939.5h0M129.5 939.5h0M133.5 939.5h0M134.5 939.5h0M136.5 939.5h0M137.5 939.5h0M138.5 939.5h0M141.5 939.5h0M142.5 939.5h0M145.5 939.5h0M146.5 939.5h0M147.5 939.5h0M150.5 939.5h0M151.5 939.5h0M152.5 939.5h0M155.5 939.5h0M156.5 939.5h0M158.5 939.5h0M159.5 939.5h0M160.5 939.5h0M162.5 939.5h0M163.5 939.5h0M164.5 939.5h0M166.5 939.5h0M167.5 939.5h0M168.5 939.5h0M169.5 939.5h0M170.5 939.5h0M171.5 939.5h0M172.5 939.5h0M175.5 939.5h0M176.5 939.5h0M178.5 939.5h0M180.5 939.5h0M181.5 939.5h0M184.5 939.5h0M191.5 939.5h0M330.5 939.5h0M110.5 940.5h0M120.5 940.5h0M122.5 940.5h0M124.5 940.5h0M127.5 940.5h0M131.5 940.5h0M133.5 940.5h0M134.5 940.5h0M138.5 940.5h0M139.5 940.5h0M141.5 940.5h0M143.5 940.5h0M145.5 940.5h0M146.5 940.5h0M147.5 940.5h0M149.5 940.5h0M151.5 940.5h0M152.5 940.5h0M153.5 940.5h0M154.5 940.5h0M155.5 940.5h0M156.5 940.5h0M158.5 940.5h0M162.5 940.5h0M163.5 940.5h0M167.5 940.5h0M169.5 940.5h0M171.5 940.5h0M173.5 940.5h0M174.5 940.5h0M175.5 940.5h0M178.5 940.5h0M180.5 940.5h0M182.5 940.5h0M190.5 940.5h0M200.5 940.5h0M101.5 941.5h0M130.5 941.5h0M131.5 941.5h0M133.5 941.5h0M137.5 941.5h0M138.5 941.5h0M139.5 941.5h0M140.5 941.5h0M141.5 941.5h0M145.5 941.5h0M146.5 941.5h0M149.5 941.5h0M150.5 941.5h0M151.5 941.5h0M153.5 941.5h0M154.5 941.5h0M156.5 941.5h0M157.5 941.5h0M158.5 941.5h0M160.5 941.5h0M161.5 941.5h0M163.5 941.5h0M165.5 941.5h0M166.5 941.5h0M167.5 941.5h0M171.5 941.5h0M173.5 941.5h0M174.5 941.5h0M175.5 941.5h0M179.5 941.5h0M180.5 941.5h0M181.5 941.5h0M184.5 941.5h0M188.5 941.5h0M189.5 941.5h0M109.5 942.5h0M116.5 942.5h0M120.5 942.5h0M130.5 942.5h0M132.5 942.5h0M133.5 942.5h0M134.5 942.5h0M135.5 942.5h0M137.5 942.5h0M139.5 942.5h0M140.5 942.5h0M141.5 942.5h0M143.5 942.5h0M147.5 942.5h0M148.5 942.5h0M149.5 942.5h0M150.5 942.5h0M152.5 942.5h0M153.5 942.5h0M154.5 942.5h0M155.5 942.5h0M156.5 942.5h0M158.5 942.5h0M159.5 942.5h0M160.5 942.5h0M161.5 942.5h0M163.5 942.5h0M164.5 942.5h0M165.5 942.5h0M166.5 942.5h0M167.5 942.5h0M170.5 942.5h0M173.5 942.5h0M174.5 942.5h0M175.5 942.5h0M177.5 942.5h0M178.5 942.5h0M184.5 942.5h0M188.5 942.5h0M191.5 942.5h0M117.5 943.5h0M119.5 943.5h0M124.5 943.5h0M126.5 943.5h0M131.5 943.5h0M133.5 943.5h0M136.5 943.5h0M140.5 943.5h0M141.5 943.5h0M142.5 943.5h0M147.5 943.5h0M148.5 943.5h0M149.5 943.5h0M150.5 943.5h0M151.5 943.5h0M152.5 943.5h0M156.5 943.5h0M157.5 943.5h0M158.5 943.5h0M159.5 943.5h0M160.5 943.5h0M164.5 943.5h0M166.5 943.5h0M168.5 943.5h0M170.5 943.5h0M171.5 943.5h0M175.5 943.5h0M176.5 943.5h0M178.5 943.5h0M180.5 943.5h0M188.5 943.5h0M96.5 944.5h0M122.5 944.5h0M125.5 944.5h0M128.5 944.5h0M131.5 944.5h0M133.5 944.5h0M135.5 944.5h0M137.5 944.5h0M138.5 944.5h0M139.5 944.5h0M140.5 944.5h0M141.5 944.5h0M142.5 944.5h0M144.5 944.5h0M146.5 944.5h0M147.5 944.5h0M150.5 944.5h0M151.5 944.5h0M152.5 944.5h0M153.5 944.5h0M154.5 944.5h0M156.5 944.5h0M157.5 944.5h0M158.5 944.5h0M159.5 944.5h0M161.5 944.5h0M162.5 944.5h0M165.5 944.5h0M166.5 944.5h0M167.5 944.5h0M168.5 944.5h0M169.5 944.5h0M170.5 944.5h0M171.5 944.5h0M172.5 944.5h0M176.5 944.5h0M178.5 944.5h0M183.5 944.5h0M187.5 944.5h0M188.5 944.5h0M195.5 944.5h0M116.5 945.5h0M128.5 945.5h0M131.5 945.5h0M133.5 945.5h0M134.5 945.5h0M136.5 945.5h0M140.5 945.5h0M143.5 945.5h0M144.5 945.5h0M149.5 945.5h0M152.5 945.5h0M153.5 945.5h0M154.5 945.5h0M155.5 945.5h0M157.5 945.5h0M158.5 945.5h0M160.5 945.5h0M161.5 945.5h0M164.5 945.5h0M165.5 945.5h0M167.5 945.5h0M170.5 945.5h0M179.5 945.5h0M180.5 945.5h0M107.5 946.5h0M116.5 946.5h0M118.5 946.5h0M128.5 946.5h0M130.5 946.5h0M132.5 946.5h0M136.5 946.5h0M138.5 946.5h0M142.5 946.5h0M143.5 946.5h0M144.5 946.5h0M145.5 946.5h0M147.5 946.5h0M149.5 946.5h0M150.5 946.5h0M152.5 946.5h0M154.5 946.5h0M155.5 946.5h0M156.5 946.5h0M157.5 946.5h0M158.5 946.5h0M159.5 946.5h0M160.5 946.5h0M162.5 946.5h0M163.5 946.5h0M164.5 946.5h0M167.5 946.5h0M168.5 946.5h0M169.5 946.5h0M173.5 946.5h0M176.5 946.5h0M181.5 946.5h0M183.5 946.5h0M110.5 947.5h0M119.5 947.5h0M124.5 947.5h0M125.5 947.5h0M126.5 947.5h0M128.5 947.5h0M132.5 947.5h0M134.5 947.5h0M139.5 947.5h0M141.5 947.5h0M142.5 947.5h0M144.5 947.5h0M145.5 947.5h0M146.5 947.5h0M148.5 947.5h0M149.5 947.5h0M150.5 947.5h0M152.5 947.5h0M153.5 947.5h0M154.5 947.5h0M162.5 947.5h0M165.5 947.5h0M168.5 947.5h0M169.5 947.5h0M171.5 947.5h0M172.5 947.5h0M175.5 947.5h0M194.5 947.5h0M199.5 947.5h0M117.5 948.5h0M136.5 948.5h0M137.5 948.5h0M138.5 948.5h0M139.5 948.5h0M141.5 948.5h0M143.5 948.5h0M145.5 948.5h0M146.5 948.5h0M147.5 948.5h0M150.5 948.5h0M151.5 948.5h0M152.5 948.5h0M154.5 948.5h0M155.5 948.5h0M156.5 948.5h0M157.5 948.5h0M158.5 948.5h0M159.5 948.5h0M160.5 948.5h0M162.5 948.5h0M163.5 948.5h0M164.5 948.5h0M166.5 948.5h0M168.5 948.5h0M173.5 948.5h0M175.5 948.5h0M181.5 948.5h0M186.5 948.5h0M194.5 948.5h0M121.5 949.5h0M128.5 949.5h0M139.5 949.5h0M140.5 949.5h0M143.5 949.5h0M144.5 949.5h0M145.5 949.5h0M147.5 949.5h0M148.5 949.5h0M150.5 949.5h0M153.5 949.5h0M156.5 949.5h0M157.5 949.5h0M159.5 949.5h0M160.5 949.5h0M162.5 949.5h0M163.5 949.5h0M166.5 949.5h0M168.5 949.5h0M169.5 949.5h0M174.5 949.5h0M175.5 949.5h0M183.5 949.5h0M198.5 949.5h0M120.5 950.5h0M122.5 950.5h0M130.5 950.5h0M133.5 950.5h0M134.5 950.5h0M136.5 950.5h0M137.5 950.5h0M138.5 950.5h0M139.5 950.5h0M144.5 950.5h0M145.5 950.5h0M148.5 950.5h0M151.5 950.5h0M153.5 950.5h0M154.5 950.5h0M155.5 950.5h0M157.5 950.5h0M158.5 950.5h0M160.5 950.5h0M161.5 950.5h0M163.5 950.5h0M164.5 950.5h0M172.5 950.5h0M122.5 951.5h0M123.5 951.5h0M124.5 951.5h0M127.5 951.5h0M133.5 951.5h0M134.5 951.5h0M136.5 951.5h0M138.5 951.5h0M139.5 951.5h0M140.5 951.5h0M141.5 951.5h0M144.5 951.5h0M147.5 951.5h0M148.5 951.5h0M149.5 951.5h0M150.5 951.5h0M151.5 951.5h0M153.5 951.5h0M154.5 951.5h0M155.5 951.5h0M160.5 951.5h0M161.5 951.5h0M163.5 951.5h0M164.5 951.5h0M166.5 951.5h0M167.5 951.5h0M173.5 951.5h0M178.5 951.5h0M180.5 951.5h0M123.5 952.5h0M129.5 952.5h0M134.5 952.5h0M136.5 952.5h0M137.5 952.5h0M139.5 952.5h0M140.5 952.5h0M141.5 952.5h0M143.5 952.5h0M145.5 952.5h0M146.5 952.5h0M147.5 952.5h0M149.5 952.5h0M150.5 952.5h0M151.5 952.5h0M153.5 952.5h0M154.5 952.5h0M155.5 952.5h0M157.5 952.5h0M160.5 952.5h0M161.5 952.5h0M163.5 952.5h0M165.5 952.5h0M166.5 952.5h0M169.5 952.5h0M111.5 953.5h0M114.5 953.5h0M118.5 953.5h0M120.5 953.5h0M126.5 953.5h0M129.5 953.5h0M132.5 953.5h0M133.5 953.5h0M135.5 953.5h0M136.5 953.5h0M138.5 953.5h0M144.5 953.5h0M146.5 953.5h0M147.5 953.5h0M150.5 953.5h0M152.5 953.5h0M159.5 953.5h0M160.5 953.5h0M165.5 953.5h0M166.5 953.5h0M172.5 953.5h0M173.5 953.5h0M175.5 953.5h0M181.5 953.5h0M118.5 954.5h0M133.5 954.5h0M134.5 954.5h0M142.5 954.5h0M143.5 954.5h0M145.5 954.5h0M147.5 954.5h0M148.5 954.5h0M151.5 954.5h0M154.5 954.5h0M155.5 954.5h0M159.5 954.5h0M167.5 954.5h0M177.5 954.5h0M180.5 954.5h0M120.5 955.5h0M127.5 955.5h0M128.5 955.5h0M129.5 955.5h0M133.5 955.5h0M134.5 955.5h0M135.5 955.5h0M137.5 955.5h0M139.5 955.5h0M140.5 955.5h0M142.5 955.5h0M144.5 955.5h0M147.5 955.5h0M149.5 955.5h0M179.5 955.5h0M115.5 956.5h0M128.5 956.5h0M129.5 956.5h0M131.5 956.5h0M132.5 956.5h0M133.5 956.5h0M144.5 956.5h0M150.5 956.5h0M152.5 956.5h0M153.5 956.5h0M160.5 956.5h0M163.5 956.5h0M167.5 956.5h0M169.5 956.5h0M185.5 956.5h0M124.5 957.5h0M125.5 957.5h0M126.5 957.5h0M131.5 957.5h0M132.5 957.5h0M133.5 957.5h0M136.5 957.5h0M142.5 957.5h0M143.5 957.5h0M145.5 957.5h0M147.5 957.5h0M149.5 957.5h0M151.5 957.5h0M155.5 957.5h0M157.5 957.5h0M158.5 957.5h0M164.5 957.5h0M186.5 957.5h0M112.5 958.5h0M116.5 958.5h0M129.5 958.5h0M131.5 958.5h0M140.5 958.5h0M145.5 958.5h0M155.5 958.5h0M159.5 958.5h0M174.5 958.5h0M129.5 959.5h0M130.5 959.5h0M132.5 959.5h0M135.5 959.5h0M141.5 959.5h0M148.5 959.5h0M152.5 959.5h0M153.5 959.5h0M160.5 959.5h0M161.5 959.5h0M162.5 959.5h0M165.5 959.5h0M173.5 959.5h0M177.5 959.5h0M124.5 960.5h0M131.5 960.5h0M134.5 960.5h0M136.5 960.5h0M137.5 960.5h0M139.5 960.5h0M144.5 960.5h0M145.5 960.5h0M147.5 960.5h0M150.5 960.5h0M152.5 960.5h0M154.5 960.5h0M155.5 960.5h0M156.5 960.5h0M159.5 960.5h0M163.5 960.5h0M174.5 960.5h0M179.5 960.5h0M108.5 961.5h0M113.5 961.5h0M134.5 961.5h0M139.5 961.5h0M146.5 961.5h0M151.5 961.5h0M165.5 961.5h0M172.5 961.5h0M173.5 961.5h0M141.5 962.5h0M142.5 962.5h0M145.5 962.5h0M149.5 962.5h0M150.5 962.5h0M152.5 962.5h0M127.5 963.5h0M134.5 963.5h0M135.5 963.5h0M140.5 963.5h0M142.5 963.5h0M147.5 963.5h0M151.5 963.5h0M152.5 963.5h0M121.5 964.5h0M126.5 964.5h0M135.5 964.5h0M142.5 964.5h0M148.5 964.5h0M153.5 964.5h0M165.5 964.5h0M170.5 964.5h0M130.5 965.5h0M131.5 965.5h0M146.5 965.5h0M148.5 965.5h0M151.5 965.5h0M153.5 965.5h0M165.5 965.5h0M133.5 966.5h0M135.5 966.5h0"/>
<g stroke="#000" stroke-width="1.8" fill="none">
<rect x="83.8" y="662" width="327.5" height="327.6"/>
<path d="M243 662V989.6M83.8 852.5H411.3"/>
<path stroke-width="1.6" d="M83.8 989.6v8M120.4 989.6v8M219 989.6v8M315 989.6v8M411.3 989.6v8M98.4 989.6v5M141 989.6v5M158 989.6v5M172 989.6v5M183 989.6v5M191 989.6v5M198.4 989.6v5M204.7 989.6v5M210 989.6v5M215 989.6v5M248 989.6v5M264.9 989.6v5M276.9 989.6v5M286.2 989.6v5M293.9 989.6v5M300.3 989.6v5M305.9 989.6v5M310.8 989.6v5M344 989.6v5M360.9 989.6v5M372.9 989.6v5M382.2 989.6v5M389.9 989.6v5M396.3 989.6v5M401.9 989.6v5M406.8 989.6v5M83.8 662h-8M83.8 750.8h-8M83.8 839h-8M83.8 921.3h-8M83.8 955.3h-8M83.8 989.6h-8M83.8 724.1h-5M83.8 708.4h-5M83.8 697.3h-5M83.8 688.7h-5M83.8 681.7h-5M83.8 675.8h-5M83.8 670.6h-5M83.8 666.1h-5M83.8 812.4h-5M83.8 796.9h-5M83.8 785.9h-5M83.8 777.4h-5M83.8 770.4h-5M83.8 764.5h-5M83.8 759.3h-5M83.8 754.8h-5M83.8 896.5h-5M83.8 882h-5M83.8 871.8h-5M83.8 863.8h-5M83.8 857.3h-5M83.8 851.7h-5M83.8 847h-5M83.8 842.8h-5M83.8 924.8h-5M83.8 928.2h-5M83.8 931.6h-5M83.8 935h-5M83.8 938.4h-5M83.8 941.8h-5M83.8 945.2h-5M83.8 948.6h-5M83.8 952h-5M83.8 958.8h-5M83.8 962.2h-5M83.8 965.6h-5M83.8 969h-5M83.8 972.4h-5M83.8 975.8h-5M83.8 979.2h-5M83.8 982.6h-5M83.8 986h-5"/>
</g>
<g font-family="Liberation Sans" fill="#000">
<text x="120.4" y="1017.6" font-size="17" text-anchor="middle">0</text>
<text x="221.5" y="1017.6" font-size="17" text-anchor="middle">10<tspan font-size="12" dy="-6.5">4</tspan></text>
<text x="317.5" y="1017.6" font-size="17" text-anchor="middle">10<tspan font-size="12" dy="-6.5">5</tspan></text>
<text x="413.8" y="1017.6" font-size="17" text-anchor="middle">10<tspan font-size="12" dy="-6.5">6</tspan></text>
<text x="0" y="0" font-size="17" text-anchor="middle" transform="translate(68.5 955.3) rotate(-90)">0</text>
<text x="0" y="0" font-size="17" text-anchor="middle" transform="translate(68.5 922.8) rotate(-90)">10<tspan font-size="12" dy="-8.5">3</tspan></text>
<text x="0" y="0" font-size="17" text-anchor="middle" transform="translate(68.5 840.5) rotate(-90)">10<tspan font-size="12" dy="-8.5">4</tspan></text>
<text x="0" y="0" font-size="17" text-anchor="middle" transform="translate(68.5 752.3) rotate(-90)">10<tspan font-size="12" dy="-8.5">5</tspan></text>
<text x="0" y="0" font-size="17" text-anchor="middle" transform="translate(68.5 663.5) rotate(-90)">10<tspan font-size="12" dy="-8.5">6</tspan></text>
<text x="247.6" y="1038.1" font-size="16.8" text-anchor="middle">Annexin V FITC-A</text>
<text transform="translate(47.5 825.8) rotate(-90)" font-size="17.5" text-anchor="middle">PI PE-A</text>
<g font-size="16.8">
<text x="89.8" y="684">Q1-UL(0.03%)</text>
<text x="405.3" y="684" text-anchor="end">Q1-UR(0.69%)</text>
<text x="89.8" y="978.6">Q1-LL(99.06%)</text>
<text x="405.3" y="978.6" text-anchor="end">Q1-LR(0.22%)</text>
</g></g>
<text x="661.5" y="631.6" font-family="Liberation Sans" font-weight="bold" font-size="33.4" text-anchor="middle">OGD4h/R0h</text>
<path fill="#ff0000" d="M623.8 936.4 625.2 938.2 626.4 939.8 626.4 941.3 627.6 942.9 627.6 944.3 627.1 945.7 625.3 946.9 624.9 948.3 623.6 949.4 623.1 950.7 622.5 952 621.2 953.1 619.1 953.9 617.7 954.8 616 955.6 614.1 956.3 612.4 957.1 611.3 958.2 609 958.5 606.9 958.9 605.4 959.8 602.7 959.6 600.6 959.8 598.2 959.7 596.1 959.8 594.4 960.7 592.4 961.1 590.5 962.3 588.3 963.7 585.1 964 582 963.9 579.2 964.5 576.7 964.5 574.4 964.5 572.2 964.5 570.4 963.9 568.7 963.2 567.6 961.9 565.4 962.1 563.8 961.6 563.1 960.2 560.5 960.8 558.5 960.7 556.6 960.4 554.2 960.4 551.9 960.3 548.9 960.5 547.7 959.5 545.3 959.1 544.8 957.8 542.6 957.2 541.7 956 542.1 954.3 541.4 953 540.2 951.9 540.3 950.4 540.6 948.8 541 947.2 540.6 945.6 539.6 943.8 541.2 941.8 540 940.2 542.6 938.8 542.2 937.4 545.2 936.3 545.2 935.1 547.4 934.2 549.3 933.3 550.3 932.4 550.8 931.4 551.5 930.4 552.3 929.5 552.5 928.3 551.9 926.7 551.2 924.9 552.2 923.8 553.9 923.1 553.7 921.2 555.3 920.3 556.9 919.3 559.9 919.6 561.4 918.5 564.4 919.1 566 918.1 568.6 918.3 570.8 917.9 572.6 916.6 575.3 917.1 577.7 915.9 580.8 914.8 584.1 915.1 586.8 914.7 589.6 913.5 591.9 914.2 594.3 914 596 915.3 598.2 915.3 599.9 916.1 602.2 915.9 603.3 917.2 606.1 916.5 606.6 918.2 609.4 917.7 610 919.1 612 919.5 614.3 919.6 614.2 921.3 615 922.3 616.4 923.1 615.9 924.7 615 926.4 616.9 926.9 614.9 928.8 614.7 930.1 615.8 930.9 617.2 931.7 618.6 932.6 618.6 933.9 620.8 935Z"/>
<path fill="none" stroke="#ff0000" stroke-width="1.6" stroke-linecap="square" d="M699.5 674.5h0M685.5 677.5h0M742.5 684.5h0M712.5 687.5h0M763.5 694.5h0M721.5 696.5h0M730.5 696.5h0M714.5 698.5h0M712.5 700.5h0M716.5 700.5h0M705.5 701.5h0M715.5 705.5h0M718.5 705.5h0M720.5 706.5h0M747.5 707.5h0M686.5 708.5h0M733.5 709.5h0M711.5 710.5h0M713.5 711.5h0M743.5 711.5h0M754.5 711.5h0M762.5 712.5h0M701.5 714.5h0M702.5 716.5h0M697.5 717.5h0M716.5 717.5h0M720.5 717.5h0M708.5 718.5h0M719.5 723.5h0M768.5 724.5h0M671.5 726.5h0M732.5 726.5h0M743.5 726.5h0M715.5 727.5h0M714.5 728.5h0M744.5 728.5h0M745.5 729.5h0M697.5 730.5h0M722.5 730.5h0M736.5 730.5h0M787.5 730.5h0M739.5 731.5h0M700.5 732.5h0M701.5 732.5h0M723.5 732.5h0M694.5 733.5h0M747.5 733.5h0M739.5 734.5h0M724.5 735.5h0M725.5 735.5h0M733.5 735.5h0M707.5 737.5h0M735.5 737.5h0M718.5 738.5h0M712.5 739.5h0M721.5 739.5h0M741.5 739.5h0M705.5 741.5h0M744.5 741.5h0M706.5 742.5h0M720.5 742.5h0M731.5 742.5h0M732.5 742.5h0M701.5 743.5h0M737.5 743.5h0M742.5 743.5h0M744.5 743.5h0M717.5 744.5h0M731.5 745.5h0M735.5 745.5h0M688.5 746.5h0M711.5 746.5h0M716.5 746.5h0M731.5 746.5h0M713.5 748.5h0M733.5 748.5h0M696.5 750.5h0M732.5 750.5h0M719.5 751.5h0M715.5 752.5h0M727.5 752.5h0M737.5 752.5h0M759.5 752.5h0M767.5 752.5h0M697.5 753.5h0M718.5 753.5h0M721.5 753.5h0M695.5 754.5h0M703.5 754.5h0M728.5 754.5h0M744.5 754.5h0M764.5 754.5h0M689.5 755.5h0M706.5 755.5h0M722.5 755.5h0M729.5 755.5h0M738.5 755.5h0M742.5 755.5h0M703.5 756.5h0M702.5 757.5h0M722.5 757.5h0M744.5 758.5h0M710.5 759.5h0M727.5 759.5h0M741.5 759.5h0M697.5 760.5h0M678.5 761.5h0M688.5 761.5h0M700.5 761.5h0M704.5 761.5h0M717.5 761.5h0M724.5 761.5h0M760.5 761.5h0M687.5 762.5h0M693.5 762.5h0M708.5 762.5h0M710.5 762.5h0M724.5 762.5h0M741.5 762.5h0M722.5 763.5h0M701.5 765.5h0M695.5 766.5h0M696.5 766.5h0M705.5 766.5h0M720.5 766.5h0M749.5 766.5h0M750.5 766.5h0M707.5 767.5h0M712.5 768.5h0M722.5 768.5h0M726.5 768.5h0M695.5 769.5h0M711.5 769.5h0M719.5 769.5h0M736.5 769.5h0M706.5 770.5h0M714.5 770.5h0M711.5 771.5h0M712.5 772.5h0M739.5 772.5h0M690.5 773.5h0M721.5 773.5h0M731.5 773.5h0M739.5 773.5h0M686.5 774.5h0M709.5 774.5h0M761.5 774.5h0M704.5 775.5h0M710.5 775.5h0M735.5 775.5h0M756.5 775.5h0M709.5 776.5h0M685.5 777.5h0M740.5 777.5h0M743.5 777.5h0M760.5 777.5h0M711.5 778.5h0M733.5 778.5h0M703.5 779.5h0M717.5 779.5h0M742.5 779.5h0M751.5 780.5h0M722.5 781.5h0M730.5 781.5h0M752.5 781.5h0M702.5 782.5h0M734.5 782.5h0M738.5 782.5h0M780.5 782.5h0M684.5 783.5h0M693.5 784.5h0M732.5 784.5h0M734.5 784.5h0M687.5 785.5h0M697.5 785.5h0M709.5 785.5h0M721.5 785.5h0M734.5 785.5h0M739.5 785.5h0M732.5 786.5h0M787.5 786.5h0M733.5 787.5h0M731.5 788.5h0M716.5 789.5h0M733.5 789.5h0M748.5 791.5h0M724.5 792.5h0M727.5 792.5h0M747.5 792.5h0M728.5 793.5h0M730.5 793.5h0M749.5 793.5h0M694.5 794.5h0M711.5 794.5h0M725.5 794.5h0M743.5 794.5h0M748.5 794.5h0M716.5 795.5h0M722.5 795.5h0M693.5 796.5h0M704.5 796.5h0M723.5 796.5h0M727.5 796.5h0M745.5 796.5h0M678.5 797.5h0M692.5 797.5h0M696.5 797.5h0M698.5 797.5h0M699.5 797.5h0M706.5 797.5h0M735.5 797.5h0M699.5 798.5h0M682.5 799.5h0M701.5 799.5h0M752.5 799.5h0M770.5 799.5h0M695.5 800.5h0M710.5 801.5h0M712.5 801.5h0M725.5 801.5h0M733.5 801.5h0M695.5 802.5h0M749.5 802.5h0M707.5 803.5h0M728.5 803.5h0M766.5 803.5h0M727.5 805.5h0M745.5 806.5h0M687.5 807.5h0M702.5 807.5h0M708.5 807.5h0M690.5 810.5h0M703.5 810.5h0M711.5 811.5h0M722.5 811.5h0M696.5 812.5h0M720.5 812.5h0M695.5 813.5h0M789.5 813.5h0M708.5 814.5h0M698.5 817.5h0M718.5 817.5h0M717.5 818.5h0M680.5 819.5h0M705.5 819.5h0M719.5 819.5h0M746.5 819.5h0M697.5 822.5h0M704.5 822.5h0M716.5 823.5h0M743.5 823.5h0M682.5 824.5h0M689.5 824.5h0M694.5 824.5h0M698.5 824.5h0M746.5 824.5h0M683.5 825.5h0M692.5 825.5h0M708.5 825.5h0M713.5 826.5h0M760.5 827.5h0M693.5 828.5h0M712.5 828.5h0M721.5 828.5h0M779.5 828.5h0M698.5 830.5h0M708.5 830.5h0M725.5 831.5h0M710.5 832.5h0M679.5 833.5h0M733.5 833.5h0M737.5 833.5h0M765.5 833.5h0M768.5 833.5h0M668.5 834.5h0M730.5 834.5h0M731.5 834.5h0M734.5 834.5h0M678.5 835.5h0M695.5 836.5h0M663.5 837.5h0M770.5 837.5h0M688.5 838.5h0M722.5 838.5h0M755.5 838.5h0M743.5 839.5h0M764.5 839.5h0M611.5 841.5h0M719.5 841.5h0M720.5 841.5h0M718.5 842.5h0M704.5 843.5h0M713.5 843.5h0M746.5 843.5h0M748.5 843.5h0M774.5 844.5h0M733.5 845.5h0M741.5 845.5h0M745.5 845.5h0M768.5 845.5h0M676.5 846.5h0M704.5 847.5h0M732.5 847.5h0M738.5 847.5h0M661.5 848.5h0M698.5 848.5h0M719.5 848.5h0M729.5 848.5h0M712.5 849.5h0M729.5 849.5h0M757.5 849.5h0M675.5 850.5h0M765.5 850.5h0M701.5 852.5h0M703.5 852.5h0M710.5 853.5h0M727.5 853.5h0M742.5 853.5h0M745.5 853.5h0M712.5 854.5h0M741.5 854.5h0M750.5 854.5h0M619.5 855.5h0M741.5 855.5h0M753.5 855.5h0M585.5 856.5h0M662.5 856.5h0M746.5 856.5h0M757.5 856.5h0M625.5 857.5h0M732.5 857.5h0M741.5 857.5h0M669.5 858.5h0M736.5 858.5h0M748.5 858.5h0M686.5 859.5h0M709.5 859.5h0M727.5 859.5h0M616.5 860.5h0M561.5 861.5h0M616.5 861.5h0M748.5 861.5h0M786.5 861.5h0M596.5 862.5h0M750.5 862.5h0M590.5 863.5h0M625.5 863.5h0M634.5 863.5h0M670.5 863.5h0M700.5 863.5h0M749.5 863.5h0M802.5 863.5h0M599.5 864.5h0M687.5 864.5h0M779.5 864.5h0M793.5 864.5h0M654.5 865.5h0M675.5 865.5h0M604.5 866.5h0M622.5 866.5h0M632.5 866.5h0M705.5 866.5h0M597.5 867.5h0M621.5 867.5h0M623.5 867.5h0M629.5 867.5h0M659.5 867.5h0M720.5 867.5h0M723.5 867.5h0M729.5 867.5h0M754.5 867.5h0M769.5 867.5h0M600.5 868.5h0M603.5 868.5h0M616.5 868.5h0M633.5 868.5h0M667.5 868.5h0M743.5 868.5h0M610.5 869.5h0M636.5 869.5h0M640.5 869.5h0M649.5 869.5h0M666.5 869.5h0M632.5 870.5h0M728.5 870.5h0M640.5 871.5h0M666.5 871.5h0M677.5 871.5h0M707.5 871.5h0M598.5 872.5h0M613.5 872.5h0M622.5 873.5h0M637.5 873.5h0M630.5 874.5h0M765.5 874.5h0M604.5 875.5h0M631.5 875.5h0M710.5 875.5h0M725.5 875.5h0M731.5 875.5h0M625.5 876.5h0M685.5 876.5h0M686.5 876.5h0M594.5 877.5h0M617.5 877.5h0M666.5 877.5h0M720.5 877.5h0M725.5 877.5h0M732.5 877.5h0M742.5 877.5h0M754.5 877.5h0M666.5 878.5h0M723.5 878.5h0M745.5 878.5h0M701.5 879.5h0M707.5 879.5h0M728.5 879.5h0M718.5 880.5h0M593.5 881.5h0M636.5 881.5h0M640.5 881.5h0M695.5 881.5h0M726.5 881.5h0M574.5 882.5h0M642.5 882.5h0M702.5 882.5h0M748.5 882.5h0M583.5 883.5h0M616.5 883.5h0M629.5 883.5h0M631.5 883.5h0M603.5 884.5h0M630.5 884.5h0M634.5 884.5h0M640.5 884.5h0M716.5 884.5h0M740.5 884.5h0M583.5 885.5h0M613.5 885.5h0M633.5 885.5h0M586.5 886.5h0M610.5 886.5h0M618.5 886.5h0M673.5 886.5h0M668.5 887.5h0M764.5 887.5h0M769.5 887.5h0M586.5 888.5h0M614.5 888.5h0M628.5 888.5h0M683.5 888.5h0M759.5 888.5h0M572.5 889.5h0M594.5 889.5h0M606.5 889.5h0M613.5 889.5h0M633.5 889.5h0M637.5 889.5h0M639.5 889.5h0M748.5 889.5h0M602.5 890.5h0M621.5 890.5h0M623.5 890.5h0M627.5 890.5h0M632.5 890.5h0M663.5 890.5h0M666.5 890.5h0M715.5 890.5h0M586.5 891.5h0M682.5 891.5h0M709.5 891.5h0M731.5 891.5h0M737.5 891.5h0M759.5 891.5h0M641.5 892.5h0M647.5 892.5h0M679.5 892.5h0M717.5 892.5h0M721.5 892.5h0M753.5 892.5h0M580.5 893.5h0M606.5 893.5h0M644.5 893.5h0M647.5 893.5h0M705.5 893.5h0M576.5 894.5h0M603.5 894.5h0M610.5 894.5h0M613.5 894.5h0M621.5 894.5h0M624.5 894.5h0M625.5 894.5h0M637.5 894.5h0M758.5 894.5h0M587.5 895.5h0M601.5 895.5h0M630.5 895.5h0M635.5 895.5h0M639.5 895.5h0M704.5 895.5h0M574.5 896.5h0M581.5 896.5h0M620.5 896.5h0M623.5 896.5h0M634.5 896.5h0M649.5 896.5h0M722.5 896.5h0M747.5 896.5h0M586.5 897.5h0M588.5 897.5h0M622.5 897.5h0M629.5 897.5h0M650.5 897.5h0M651.5 897.5h0M672.5 897.5h0M683.5 897.5h0M723.5 897.5h0M738.5 897.5h0M629.5 898.5h0M712.5 898.5h0M721.5 898.5h0M756.5 898.5h0M776.5 898.5h0M595.5 899.5h0M605.5 899.5h0M620.5 899.5h0M626.5 899.5h0M629.5 899.5h0M642.5 899.5h0M688.5 899.5h0M724.5 899.5h0M738.5 899.5h0M532.5 900.5h0M571.5 900.5h0M581.5 900.5h0M587.5 900.5h0M605.5 900.5h0M611.5 900.5h0M622.5 900.5h0M633.5 900.5h0M666.5 900.5h0M688.5 900.5h0M728.5 900.5h0M577.5 901.5h0M606.5 901.5h0M610.5 901.5h0M646.5 901.5h0M713.5 901.5h0M773.5 901.5h0M578.5 902.5h0M634.5 902.5h0M635.5 902.5h0M692.5 902.5h0M715.5 902.5h0M583.5 903.5h0M589.5 903.5h0M590.5 903.5h0M610.5 903.5h0M616.5 903.5h0M626.5 903.5h0M556.5 904.5h0M584.5 904.5h0M590.5 904.5h0M613.5 904.5h0M614.5 904.5h0M619.5 904.5h0M632.5 904.5h0M692.5 904.5h0M697.5 904.5h0M716.5 904.5h0M728.5 904.5h0M730.5 904.5h0M733.5 904.5h0M545.5 905.5h0M588.5 905.5h0M597.5 905.5h0M601.5 905.5h0M622.5 905.5h0M636.5 905.5h0M647.5 905.5h0M657.5 905.5h0M698.5 905.5h0M742.5 905.5h0M578.5 906.5h0M591.5 906.5h0M595.5 906.5h0M602.5 906.5h0M605.5 906.5h0M629.5 906.5h0M709.5 906.5h0M740.5 906.5h0M766.5 906.5h0M566.5 907.5h0M573.5 907.5h0M591.5 907.5h0M602.5 907.5h0M603.5 907.5h0M606.5 907.5h0M607.5 907.5h0M619.5 907.5h0M624.5 907.5h0M655.5 907.5h0M681.5 907.5h0M733.5 907.5h0M738.5 907.5h0M743.5 907.5h0M539.5 908.5h0M543.5 908.5h0M565.5 908.5h0M569.5 908.5h0M574.5 908.5h0M576.5 908.5h0M577.5 908.5h0M581.5 908.5h0M587.5 908.5h0M591.5 908.5h0M592.5 908.5h0M597.5 908.5h0M604.5 908.5h0M614.5 908.5h0M615.5 908.5h0M639.5 908.5h0M711.5 908.5h0M739.5 908.5h0M539.5 909.5h0M557.5 909.5h0M559.5 909.5h0M566.5 909.5h0M572.5 909.5h0M573.5 909.5h0M586.5 909.5h0M594.5 909.5h0M605.5 909.5h0M617.5 909.5h0M624.5 909.5h0M626.5 909.5h0M628.5 909.5h0M717.5 909.5h0M718.5 909.5h0M724.5 909.5h0M737.5 909.5h0M745.5 909.5h0M521.5 910.5h0M553.5 910.5h0M571.5 910.5h0M572.5 910.5h0M579.5 910.5h0M580.5 910.5h0M583.5 910.5h0M588.5 910.5h0M593.5 910.5h0M594.5 910.5h0M597.5 910.5h0M602.5 910.5h0M603.5 910.5h0M613.5 910.5h0M616.5 910.5h0M622.5 910.5h0M690.5 910.5h0M709.5 910.5h0M759.5 910.5h0M555.5 911.5h0M560.5 911.5h0M562.5 911.5h0M570.5 911.5h0M572.5 911.5h0M580.5 911.5h0M582.5 911.5h0M583.5 911.5h0M584.5 911.5h0M590.5 911.5h0M596.5 911.5h0M600.5 911.5h0M605.5 911.5h0M614.5 911.5h0M620.5 911.5h0M630.5 911.5h0M632.5 911.5h0M718.5 911.5h0M726.5 911.5h0M727.5 911.5h0M737.5 911.5h0M744.5 911.5h0M542.5 912.5h0M544.5 912.5h0M567.5 912.5h0M568.5 912.5h0M571.5 912.5h0M582.5 912.5h0M587.5 912.5h0M589.5 912.5h0M591.5 912.5h0M599.5 912.5h0M603.5 912.5h0M605.5 912.5h0M614.5 912.5h0M617.5 912.5h0M623.5 912.5h0M633.5 912.5h0M640.5 912.5h0M652.5 912.5h0M688.5 912.5h0M689.5 912.5h0M758.5 912.5h0M762.5 912.5h0M556.5 913.5h0M562.5 913.5h0M563.5 913.5h0M568.5 913.5h0M587.5 913.5h0M591.5 913.5h0M592.5 913.5h0M597.5 913.5h0M598.5 913.5h0M601.5 913.5h0M612.5 913.5h0M620.5 913.5h0M623.5 913.5h0M710.5 913.5h0M530.5 914.5h0M549.5 914.5h0M550.5 914.5h0M554.5 914.5h0M559.5 914.5h0M564.5 914.5h0M571.5 914.5h0M579.5 914.5h0M593.5 914.5h0M613.5 914.5h0M623.5 914.5h0M655.5 914.5h0M711.5 914.5h0M526.5 915.5h0M540.5 915.5h0M544.5 915.5h0M556.5 915.5h0M557.5 915.5h0M560.5 915.5h0M567.5 915.5h0M568.5 915.5h0M569.5 915.5h0M579.5 915.5h0M584.5 915.5h0M585.5 915.5h0M587.5 915.5h0M590.5 915.5h0M594.5 915.5h0M600.5 915.5h0M608.5 915.5h0M612.5 915.5h0M618.5 915.5h0M621.5 915.5h0M625.5 915.5h0M709.5 915.5h0M711.5 915.5h0M719.5 915.5h0M731.5 915.5h0M743.5 915.5h0M785.5 915.5h0M549.5 916.5h0M552.5 916.5h0M574.5 916.5h0M577.5 916.5h0M580.5 916.5h0M581.5 916.5h0M584.5 916.5h0M586.5 916.5h0M587.5 916.5h0M588.5 916.5h0M593.5 916.5h0M596.5 916.5h0M597.5 916.5h0M600.5 916.5h0M602.5 916.5h0M605.5 916.5h0M611.5 916.5h0M614.5 916.5h0M618.5 916.5h0M625.5 916.5h0M626.5 916.5h0M757.5 916.5h0M558.5 917.5h0M559.5 917.5h0M568.5 917.5h0M573.5 917.5h0M574.5 917.5h0M583.5 917.5h0M586.5 917.5h0M587.5 917.5h0M594.5 917.5h0M596.5 917.5h0M597.5 917.5h0M598.5 917.5h0M599.5 917.5h0M604.5 917.5h0M605.5 917.5h0M607.5 917.5h0M613.5 917.5h0M731.5 917.5h0M552.5 918.5h0M555.5 918.5h0M556.5 918.5h0M561.5 918.5h0M562.5 918.5h0M568.5 918.5h0M569.5 918.5h0M570.5 918.5h0M574.5 918.5h0M576.5 918.5h0M577.5 918.5h0M579.5 918.5h0M580.5 918.5h0M590.5 918.5h0M592.5 918.5h0M593.5 918.5h0M601.5 918.5h0M606.5 918.5h0M608.5 918.5h0M611.5 918.5h0M612.5 918.5h0M613.5 918.5h0M615.5 918.5h0M616.5 918.5h0M617.5 918.5h0M628.5 918.5h0M653.5 918.5h0M676.5 918.5h0M678.5 918.5h0M692.5 918.5h0M730.5 918.5h0M536.5 919.5h0M550.5 919.5h0M554.5 919.5h0M556.5 919.5h0M559.5 919.5h0M561.5 919.5h0M562.5 919.5h0M563.5 919.5h0M574.5 919.5h0M575.5 919.5h0M576.5 919.5h0M578.5 919.5h0M580.5 919.5h0M588.5 919.5h0M591.5 919.5h0M594.5 919.5h0M596.5 919.5h0M598.5 919.5h0M600.5 919.5h0M601.5 919.5h0M607.5 919.5h0M609.5 919.5h0M613.5 919.5h0M615.5 919.5h0M624.5 919.5h0M626.5 919.5h0M628.5 919.5h0M732.5 919.5h0M551.5 920.5h0M553.5 920.5h0M554.5 920.5h0M556.5 920.5h0M557.5 920.5h0M566.5 920.5h0M569.5 920.5h0M576.5 920.5h0M580.5 920.5h0M581.5 920.5h0M582.5 920.5h0M584.5 920.5h0M586.5 920.5h0M588.5 920.5h0M594.5 920.5h0M595.5 920.5h0M596.5 920.5h0M598.5 920.5h0M604.5 920.5h0M605.5 920.5h0M606.5 920.5h0M610.5 920.5h0M612.5 920.5h0M619.5 920.5h0M626.5 920.5h0M630.5 920.5h0M640.5 920.5h0M648.5 920.5h0M663.5 920.5h0M720.5 920.5h0M721.5 920.5h0M519.5 921.5h0M547.5 921.5h0M548.5 921.5h0M554.5 921.5h0M558.5 921.5h0M562.5 921.5h0M569.5 921.5h0M571.5 921.5h0M574.5 921.5h0M575.5 921.5h0M576.5 921.5h0M578.5 921.5h0M583.5 921.5h0M585.5 921.5h0M588.5 921.5h0M590.5 921.5h0M592.5 921.5h0M593.5 921.5h0M595.5 921.5h0M596.5 921.5h0M597.5 921.5h0M605.5 921.5h0M606.5 921.5h0M607.5 921.5h0M613.5 921.5h0M616.5 921.5h0M627.5 921.5h0M726.5 921.5h0M766.5 921.5h0M538.5 922.5h0M542.5 922.5h0M551.5 922.5h0M555.5 922.5h0M557.5 922.5h0M559.5 922.5h0M563.5 922.5h0M564.5 922.5h0M565.5 922.5h0M568.5 922.5h0M569.5 922.5h0M573.5 922.5h0M574.5 922.5h0M582.5 922.5h0M583.5 922.5h0M585.5 922.5h0M589.5 922.5h0M590.5 922.5h0M591.5 922.5h0M592.5 922.5h0M593.5 922.5h0M594.5 922.5h0M595.5 922.5h0M597.5 922.5h0M600.5 922.5h0M604.5 922.5h0M606.5 922.5h0M610.5 922.5h0M611.5 922.5h0M615.5 922.5h0M616.5 922.5h0M619.5 922.5h0M621.5 922.5h0M622.5 922.5h0M623.5 922.5h0M628.5 922.5h0M630.5 922.5h0M634.5 922.5h0M666.5 922.5h0M522.5 923.5h0M543.5 923.5h0M550.5 923.5h0M556.5 923.5h0M565.5 923.5h0M570.5 923.5h0M571.5 923.5h0M572.5 923.5h0M573.5 923.5h0M574.5 923.5h0M575.5 923.5h0M576.5 923.5h0M580.5 923.5h0M582.5 923.5h0M583.5 923.5h0M585.5 923.5h0M586.5 923.5h0M587.5 923.5h0M590.5 923.5h0M591.5 923.5h0M594.5 923.5h0M596.5 923.5h0M597.5 923.5h0M598.5 923.5h0M600.5 923.5h0M602.5 923.5h0M603.5 923.5h0M605.5 923.5h0M606.5 923.5h0M610.5 923.5h0M614.5 923.5h0M616.5 923.5h0M619.5 923.5h0M621.5 923.5h0M624.5 923.5h0M630.5 923.5h0M632.5 923.5h0M670.5 923.5h0M689.5 923.5h0M773.5 923.5h0M515.5 924.5h0M549.5 924.5h0M550.5 924.5h0M555.5 924.5h0M557.5 924.5h0M560.5 924.5h0M561.5 924.5h0M567.5 924.5h0M568.5 924.5h0M569.5 924.5h0M573.5 924.5h0M574.5 924.5h0M576.5 924.5h0M578.5 924.5h0M582.5 924.5h0M584.5 924.5h0M586.5 924.5h0M587.5 924.5h0M588.5 924.5h0M589.5 924.5h0M590.5 924.5h0M591.5 924.5h0M597.5 924.5h0M598.5 924.5h0M599.5 924.5h0M602.5 924.5h0M606.5 924.5h0M607.5 924.5h0M610.5 924.5h0M613.5 924.5h0M616.5 924.5h0M619.5 924.5h0M624.5 924.5h0M625.5 924.5h0M627.5 924.5h0M628.5 924.5h0M636.5 924.5h0M661.5 924.5h0M723.5 924.5h0M751.5 924.5h0M535.5 925.5h0M545.5 925.5h0M547.5 925.5h0M548.5 925.5h0M549.5 925.5h0M550.5 925.5h0M552.5 925.5h0M555.5 925.5h0M557.5 925.5h0M558.5 925.5h0M559.5 925.5h0M564.5 925.5h0M565.5 925.5h0M568.5 925.5h0M571.5 925.5h0M575.5 925.5h0M584.5 925.5h0M589.5 925.5h0M590.5 925.5h0M591.5 925.5h0M592.5 925.5h0M594.5 925.5h0M596.5 925.5h0M597.5 925.5h0M598.5 925.5h0M599.5 925.5h0M603.5 925.5h0M604.5 925.5h0M605.5 925.5h0M607.5 925.5h0M608.5 925.5h0M609.5 925.5h0M614.5 925.5h0M622.5 925.5h0M636.5 925.5h0M639.5 925.5h0M641.5 925.5h0M664.5 925.5h0M517.5 926.5h0M530.5 926.5h0M534.5 926.5h0M539.5 926.5h0M542.5 926.5h0M549.5 926.5h0M553.5 926.5h0M558.5 926.5h0M565.5 926.5h0M566.5 926.5h0M567.5 926.5h0M570.5 926.5h0M573.5 926.5h0M574.5 926.5h0M575.5 926.5h0M578.5 926.5h0M581.5 926.5h0M583.5 926.5h0M585.5 926.5h0M587.5 926.5h0M588.5 926.5h0M590.5 926.5h0M591.5 926.5h0M592.5 926.5h0M597.5 926.5h0M598.5 926.5h0M603.5 926.5h0M605.5 926.5h0M608.5 926.5h0M613.5 926.5h0M614.5 926.5h0M617.5 926.5h0M620.5 926.5h0M629.5 926.5h0M631.5 926.5h0M633.5 926.5h0M641.5 926.5h0M733.5 926.5h0M547.5 927.5h0M549.5 927.5h0M552.5 927.5h0M554.5 927.5h0M557.5 927.5h0M558.5 927.5h0M561.5 927.5h0M563.5 927.5h0M564.5 927.5h0M566.5 927.5h0M567.5 927.5h0M568.5 927.5h0M570.5 927.5h0M574.5 927.5h0M575.5 927.5h0M576.5 927.5h0M578.5 927.5h0M580.5 927.5h0M582.5 927.5h0M584.5 927.5h0M586.5 927.5h0M588.5 927.5h0M589.5 927.5h0M590.5 927.5h0M591.5 927.5h0M592.5 927.5h0M593.5 927.5h0M594.5 927.5h0M597.5 927.5h0M598.5 927.5h0M599.5 927.5h0M604.5 927.5h0M605.5 927.5h0M607.5 927.5h0M609.5 927.5h0M611.5 927.5h0M612.5 927.5h0M613.5 927.5h0M614.5 927.5h0M615.5 927.5h0M616.5 927.5h0M625.5 927.5h0M626.5 927.5h0M637.5 927.5h0M640.5 927.5h0M652.5 927.5h0M728.5 927.5h0M510.5 928.5h0M533.5 928.5h0M540.5 928.5h0M547.5 928.5h0M551.5 928.5h0M556.5 928.5h0M559.5 928.5h0M565.5 928.5h0M566.5 928.5h0M567.5 928.5h0M568.5 928.5h0M569.5 928.5h0M570.5 928.5h0M571.5 928.5h0M572.5 928.5h0M573.5 928.5h0M574.5 928.5h0M575.5 928.5h0M576.5 928.5h0M577.5 928.5h0M579.5 928.5h0M580.5 928.5h0M581.5 928.5h0M583.5 928.5h0M584.5 928.5h0M585.5 928.5h0M586.5 928.5h0M587.5 928.5h0M588.5 928.5h0M589.5 928.5h0M590.5 928.5h0M591.5 928.5h0M593.5 928.5h0M594.5 928.5h0M597.5 928.5h0M598.5 928.5h0M599.5 928.5h0M601.5 928.5h0M602.5 928.5h0M603.5 928.5h0M604.5 928.5h0M606.5 928.5h0M608.5 928.5h0M611.5 928.5h0M615.5 928.5h0M617.5 928.5h0M621.5 928.5h0M622.5 928.5h0M625.5 928.5h0M626.5 928.5h0M629.5 928.5h0M642.5 928.5h0M643.5 928.5h0M648.5 928.5h0M700.5 928.5h0M730.5 928.5h0M740.5 928.5h0M752.5 928.5h0M494.5 929.5h0M536.5 929.5h0M547.5 929.5h0M549.5 929.5h0M550.5 929.5h0M553.5 929.5h0M555.5 929.5h0M556.5 929.5h0M559.5 929.5h0M561.5 929.5h0M563.5 929.5h0M570.5 929.5h0M571.5 929.5h0M572.5 929.5h0M576.5 929.5h0M577.5 929.5h0M578.5 929.5h0M579.5 929.5h0M580.5 929.5h0M581.5 929.5h0M583.5 929.5h0M584.5 929.5h0M585.5 929.5h0M586.5 929.5h0M587.5 929.5h0M588.5 929.5h0M590.5 929.5h0M591.5 929.5h0M592.5 929.5h0M594.5 929.5h0M598.5 929.5h0M599.5 929.5h0M600.5 929.5h0M602.5 929.5h0M604.5 929.5h0M605.5 929.5h0M608.5 929.5h0M612.5 929.5h0M616.5 929.5h0M619.5 929.5h0M620.5 929.5h0M621.5 929.5h0M622.5 929.5h0M626.5 929.5h0M628.5 929.5h0M633.5 929.5h0M691.5 929.5h0M547.5 930.5h0M552.5 930.5h0M553.5 930.5h0M554.5 930.5h0M557.5 930.5h0M558.5 930.5h0M561.5 930.5h0M563.5 930.5h0M564.5 930.5h0M565.5 930.5h0M567.5 930.5h0M568.5 930.5h0M570.5 930.5h0M571.5 930.5h0M574.5 930.5h0M575.5 930.5h0M576.5 930.5h0M580.5 930.5h0M581.5 930.5h0M584.5 930.5h0M585.5 930.5h0M586.5 930.5h0M587.5 930.5h0M588.5 930.5h0M589.5 930.5h0M590.5 930.5h0M591.5 930.5h0M592.5 930.5h0M593.5 930.5h0M595.5 930.5h0M596.5 930.5h0M598.5 930.5h0M601.5 930.5h0M602.5 930.5h0M603.5 930.5h0M605.5 930.5h0M607.5 930.5h0M610.5 930.5h0M615.5 930.5h0M617.5 930.5h0M619.5 930.5h0M621.5 930.5h0M623.5 930.5h0M624.5 930.5h0M627.5 930.5h0M635.5 930.5h0M502.5 931.5h0M532.5 931.5h0M535.5 931.5h0M541.5 931.5h0M543.5 931.5h0M550.5 931.5h0M551.5 931.5h0M552.5 931.5h0M558.5 931.5h0M559.5 931.5h0M561.5 931.5h0M563.5 931.5h0M564.5 931.5h0M565.5 931.5h0M566.5 931.5h0M569.5 931.5h0M570.5 931.5h0M572.5 931.5h0M573.5 931.5h0M574.5 931.5h0M575.5 931.5h0M576.5 931.5h0M578.5 931.5h0M581.5 931.5h0M582.5 931.5h0M584.5 931.5h0M587.5 931.5h0M591.5 931.5h0M592.5 931.5h0M594.5 931.5h0M595.5 931.5h0M596.5 931.5h0M599.5 931.5h0M600.5 931.5h0M602.5 931.5h0M605.5 931.5h0M606.5 931.5h0M608.5 931.5h0M611.5 931.5h0M614.5 931.5h0M615.5 931.5h0M616.5 931.5h0M617.5 931.5h0M618.5 931.5h0M621.5 931.5h0M626.5 931.5h0M738.5 931.5h0M739.5 931.5h0M511.5 932.5h0M541.5 932.5h0M544.5 932.5h0M545.5 932.5h0M546.5 932.5h0M549.5 932.5h0M550.5 932.5h0M555.5 932.5h0M559.5 932.5h0M560.5 932.5h0M561.5 932.5h0M562.5 932.5h0M564.5 932.5h0M566.5 932.5h0M569.5 932.5h0M570.5 932.5h0M571.5 932.5h0M578.5 932.5h0M579.5 932.5h0M580.5 932.5h0M581.5 932.5h0M587.5 932.5h0M591.5 932.5h0M593.5 932.5h0M596.5 932.5h0M597.5 932.5h0M599.5 932.5h0M601.5 932.5h0M602.5 932.5h0M603.5 932.5h0M604.5 932.5h0M614.5 932.5h0M615.5 932.5h0M617.5 932.5h0M618.5 932.5h0M619.5 932.5h0M623.5 932.5h0M630.5 932.5h0M633.5 932.5h0M706.5 932.5h0M724.5 932.5h0M738.5 932.5h0M744.5 932.5h0M761.5 932.5h0M513.5 933.5h0M534.5 933.5h0M538.5 933.5h0M544.5 933.5h0M547.5 933.5h0M551.5 933.5h0M553.5 933.5h0M554.5 933.5h0M555.5 933.5h0M557.5 933.5h0M558.5 933.5h0M559.5 933.5h0M560.5 933.5h0M561.5 933.5h0M564.5 933.5h0M565.5 933.5h0M566.5 933.5h0M568.5 933.5h0M570.5 933.5h0M572.5 933.5h0M573.5 933.5h0M574.5 933.5h0M575.5 933.5h0M576.5 933.5h0M577.5 933.5h0M581.5 933.5h0M582.5 933.5h0M584.5 933.5h0M585.5 933.5h0M587.5 933.5h0M588.5 933.5h0M589.5 933.5h0M591.5 933.5h0M592.5 933.5h0M593.5 933.5h0M594.5 933.5h0M595.5 933.5h0M596.5 933.5h0M597.5 933.5h0M598.5 933.5h0M601.5 933.5h0M602.5 933.5h0M603.5 933.5h0M605.5 933.5h0M606.5 933.5h0M607.5 933.5h0M609.5 933.5h0M612.5 933.5h0M613.5 933.5h0M614.5 933.5h0M615.5 933.5h0M617.5 933.5h0M619.5 933.5h0M622.5 933.5h0M624.5 933.5h0M626.5 933.5h0M627.5 933.5h0M643.5 933.5h0M646.5 933.5h0M528.5 934.5h0M529.5 934.5h0M543.5 934.5h0M554.5 934.5h0M556.5 934.5h0M560.5 934.5h0M561.5 934.5h0M562.5 934.5h0M563.5 934.5h0M564.5 934.5h0M565.5 934.5h0M568.5 934.5h0M570.5 934.5h0M571.5 934.5h0M572.5 934.5h0M574.5 934.5h0M575.5 934.5h0M576.5 934.5h0M577.5 934.5h0M578.5 934.5h0M580.5 934.5h0M581.5 934.5h0M582.5 934.5h0M584.5 934.5h0M586.5 934.5h0M588.5 934.5h0M589.5 934.5h0M590.5 934.5h0M591.5 934.5h0M592.5 934.5h0M593.5 934.5h0M594.5 934.5h0M595.5 934.5h0M596.5 934.5h0M599.5 934.5h0M601.5 934.5h0M602.5 934.5h0M603.5 934.5h0M604.5 934.5h0M606.5 934.5h0M607.5 934.5h0M608.5 934.5h0M609.5 934.5h0M611.5 934.5h0M617.5 934.5h0M619.5 934.5h0M621.5 934.5h0M626.5 934.5h0M638.5 934.5h0M668.5 934.5h0M748.5 934.5h0M512.5 935.5h0M522.5 935.5h0M528.5 935.5h0M543.5 935.5h0M546.5 935.5h0M547.5 935.5h0M553.5 935.5h0M558.5 935.5h0M560.5 935.5h0M562.5 935.5h0M563.5 935.5h0M566.5 935.5h0M567.5 935.5h0M568.5 935.5h0M569.5 935.5h0M572.5 935.5h0M575.5 935.5h0M576.5 935.5h0M577.5 935.5h0M578.5 935.5h0M579.5 935.5h0M580.5 935.5h0M582.5 935.5h0M583.5 935.5h0M585.5 935.5h0M586.5 935.5h0M587.5 935.5h0M589.5 935.5h0M591.5 935.5h0M592.5 935.5h0M594.5 935.5h0M596.5 935.5h0M597.5 935.5h0M601.5 935.5h0M604.5 935.5h0M605.5 935.5h0M606.5 935.5h0M607.5 935.5h0M608.5 935.5h0M609.5 935.5h0M611.5 935.5h0M615.5 935.5h0M618.5 935.5h0M620.5 935.5h0M621.5 935.5h0M622.5 935.5h0M623.5 935.5h0M627.5 935.5h0M633.5 935.5h0M634.5 935.5h0M511.5 936.5h0M527.5 936.5h0M528.5 936.5h0M539.5 936.5h0M545.5 936.5h0M549.5 936.5h0M551.5 936.5h0M557.5 936.5h0M560.5 936.5h0M561.5 936.5h0M562.5 936.5h0M564.5 936.5h0M565.5 936.5h0M566.5 936.5h0M568.5 936.5h0M570.5 936.5h0M571.5 936.5h0M575.5 936.5h0M576.5 936.5h0M577.5 936.5h0M579.5 936.5h0M580.5 936.5h0M582.5 936.5h0M583.5 936.5h0M584.5 936.5h0M585.5 936.5h0M586.5 936.5h0M587.5 936.5h0M588.5 936.5h0M590.5 936.5h0M591.5 936.5h0M592.5 936.5h0M593.5 936.5h0M594.5 936.5h0M595.5 936.5h0M596.5 936.5h0M598.5 936.5h0M600.5 936.5h0M602.5 936.5h0M603.5 936.5h0M605.5 936.5h0M607.5 936.5h0M609.5 936.5h0M610.5 936.5h0M612.5 936.5h0M614.5 936.5h0M616.5 936.5h0M618.5 936.5h0M620.5 936.5h0M621.5 936.5h0M624.5 936.5h0M633.5 936.5h0M634.5 936.5h0M638.5 936.5h0M640.5 936.5h0M527.5 937.5h0M529.5 937.5h0M531.5 937.5h0M534.5 937.5h0M537.5 937.5h0M541.5 937.5h0M542.5 937.5h0M544.5 937.5h0M547.5 937.5h0M548.5 937.5h0M549.5 937.5h0M550.5 937.5h0M556.5 937.5h0M558.5 937.5h0M560.5 937.5h0M561.5 937.5h0M562.5 937.5h0M563.5 937.5h0M564.5 937.5h0M565.5 937.5h0M568.5 937.5h0M570.5 937.5h0M571.5 937.5h0M575.5 937.5h0M576.5 937.5h0M577.5 937.5h0M578.5 937.5h0M579.5 937.5h0M580.5 937.5h0M581.5 937.5h0M582.5 937.5h0M583.5 937.5h0M584.5 937.5h0M585.5 937.5h0M586.5 937.5h0M587.5 937.5h0M588.5 937.5h0M589.5 937.5h0M590.5 937.5h0M594.5 937.5h0M595.5 937.5h0M596.5 937.5h0M597.5 937.5h0M599.5 937.5h0M603.5 937.5h0M604.5 937.5h0M605.5 937.5h0M608.5 937.5h0M610.5 937.5h0M613.5 937.5h0M614.5 937.5h0M617.5 937.5h0M620.5 937.5h0M622.5 937.5h0M629.5 937.5h0M630.5 937.5h0M631.5 937.5h0M638.5 937.5h0M642.5 937.5h0M738.5 937.5h0M514.5 938.5h0M521.5 938.5h0M537.5 938.5h0M540.5 938.5h0M545.5 938.5h0M547.5 938.5h0M548.5 938.5h0M553.5 938.5h0M554.5 938.5h0M556.5 938.5h0M557.5 938.5h0M561.5 938.5h0M562.5 938.5h0M563.5 938.5h0M564.5 938.5h0M567.5 938.5h0M568.5 938.5h0M569.5 938.5h0M571.5 938.5h0M572.5 938.5h0M573.5 938.5h0M574.5 938.5h0M575.5 938.5h0M576.5 938.5h0M577.5 938.5h0M579.5 938.5h0M581.5 938.5h0M582.5 938.5h0M583.5 938.5h0M584.5 938.5h0M587.5 938.5h0M588.5 938.5h0M589.5 938.5h0M590.5 938.5h0M593.5 938.5h0M594.5 938.5h0M597.5 938.5h0M598.5 938.5h0M599.5 938.5h0M600.5 938.5h0M601.5 938.5h0M602.5 938.5h0M603.5 938.5h0M605.5 938.5h0M606.5 938.5h0M608.5 938.5h0M609.5 938.5h0M610.5 938.5h0M612.5 938.5h0M614.5 938.5h0M616.5 938.5h0M617.5 938.5h0M618.5 938.5h0M620.5 938.5h0M621.5 938.5h0M626.5 938.5h0M628.5 938.5h0M636.5 938.5h0M642.5 938.5h0M758.5 938.5h0M760.5 938.5h0M534.5 939.5h0M535.5 939.5h0M536.5 939.5h0M540.5 939.5h0M542.5 939.5h0M543.5 939.5h0M546.5 939.5h0M550.5 939.5h0M551.5 939.5h0M552.5 939.5h0M554.5 939.5h0M555.5 939.5h0M556.5 939.5h0M558.5 939.5h0M560.5 939.5h0M562.5 939.5h0M563.5 939.5h0M564.5 939.5h0M566.5 939.5h0M568.5 939.5h0M569.5 939.5h0M571.5 939.5h0M572.5 939.5h0M573.5 939.5h0M574.5 939.5h0M575.5 939.5h0M576.5 939.5h0M577.5 939.5h0M580.5 939.5h0M582.5 939.5h0M583.5 939.5h0M584.5 939.5h0M585.5 939.5h0M587.5 939.5h0M589.5 939.5h0M592.5 939.5h0M593.5 939.5h0M594.5 939.5h0M595.5 939.5h0M596.5 939.5h0M597.5 939.5h0M599.5 939.5h0M601.5 939.5h0M602.5 939.5h0M605.5 939.5h0M607.5 939.5h0M608.5 939.5h0M609.5 939.5h0M610.5 939.5h0M611.5 939.5h0M614.5 939.5h0M615.5 939.5h0M620.5 939.5h0M627.5 939.5h0M628.5 939.5h0M635.5 939.5h0M636.5 939.5h0M722.5 939.5h0M522.5 940.5h0M526.5 940.5h0M532.5 940.5h0M537.5 940.5h0M542.5 940.5h0M551.5 940.5h0M552.5 940.5h0M553.5 940.5h0M555.5 940.5h0M562.5 940.5h0M563.5 940.5h0M564.5 940.5h0M565.5 940.5h0M568.5 940.5h0M569.5 940.5h0M570.5 940.5h0M573.5 940.5h0M575.5 940.5h0M577.5 940.5h0M578.5 940.5h0M579.5 940.5h0M580.5 940.5h0M581.5 940.5h0M582.5 940.5h0M584.5 940.5h0M585.5 940.5h0M586.5 940.5h0M587.5 940.5h0M589.5 940.5h0M590.5 940.5h0M591.5 940.5h0M592.5 940.5h0M593.5 940.5h0M596.5 940.5h0M599.5 940.5h0M600.5 940.5h0M602.5 940.5h0M604.5 940.5h0M605.5 940.5h0M606.5 940.5h0M608.5 940.5h0M617.5 940.5h0M624.5 940.5h0M627.5 940.5h0M637.5 940.5h0M707.5 940.5h0M542.5 941.5h0M545.5 941.5h0M547.5 941.5h0M550.5 941.5h0M551.5 941.5h0M552.5 941.5h0M554.5 941.5h0M555.5 941.5h0M558.5 941.5h0M560.5 941.5h0M561.5 941.5h0M563.5 941.5h0M565.5 941.5h0M566.5 941.5h0M567.5 941.5h0M569.5 941.5h0M570.5 941.5h0M571.5 941.5h0M572.5 941.5h0M573.5 941.5h0M574.5 941.5h0M576.5 941.5h0M577.5 941.5h0M580.5 941.5h0M581.5 941.5h0M584.5 941.5h0M585.5 941.5h0M586.5 941.5h0M587.5 941.5h0M588.5 941.5h0M589.5 941.5h0M591.5 941.5h0M592.5 941.5h0M594.5 941.5h0M595.5 941.5h0M598.5 941.5h0M599.5 941.5h0M601.5 941.5h0M603.5 941.5h0M605.5 941.5h0M606.5 941.5h0M607.5 941.5h0M609.5 941.5h0M610.5 941.5h0M615.5 941.5h0M618.5 941.5h0M619.5 941.5h0M622.5 941.5h0M624.5 941.5h0M630.5 941.5h0M634.5 941.5h0M526.5 942.5h0M529.5 942.5h0M530.5 942.5h0M543.5 942.5h0M544.5 942.5h0M545.5 942.5h0M547.5 942.5h0M548.5 942.5h0M549.5 942.5h0M550.5 942.5h0M551.5 942.5h0M553.5 942.5h0M556.5 942.5h0M557.5 942.5h0M559.5 942.5h0M562.5 942.5h0M563.5 942.5h0M564.5 942.5h0M565.5 942.5h0M566.5 942.5h0M567.5 942.5h0M568.5 942.5h0M572.5 942.5h0M576.5 942.5h0M578.5 942.5h0M579.5 942.5h0M580.5 942.5h0M581.5 942.5h0M582.5 942.5h0M584.5 942.5h0M585.5 942.5h0M586.5 942.5h0M588.5 942.5h0M590.5 942.5h0M591.5 942.5h0M592.5 942.5h0M593.5 942.5h0M594.5 942.5h0M595.5 942.5h0M597.5 942.5h0M599.5 942.5h0M600.5 942.5h0M601.5 942.5h0M602.5 942.5h0M604.5 942.5h0M605.5 942.5h0M607.5 942.5h0M612.5 942.5h0M614.5 942.5h0M620.5 942.5h0M624.5 942.5h0M625.5 942.5h0M637.5 942.5h0M728.5 942.5h0M511.5 943.5h0M534.5 943.5h0M541.5 943.5h0M546.5 943.5h0M547.5 943.5h0M549.5 943.5h0M550.5 943.5h0M552.5 943.5h0M554.5 943.5h0M559.5 943.5h0M561.5 943.5h0M562.5 943.5h0M563.5 943.5h0M565.5 943.5h0M566.5 943.5h0M569.5 943.5h0M570.5 943.5h0M572.5 943.5h0M573.5 943.5h0M575.5 943.5h0M576.5 943.5h0M577.5 943.5h0M582.5 943.5h0M583.5 943.5h0M584.5 943.5h0M585.5 943.5h0M586.5 943.5h0M588.5 943.5h0M590.5 943.5h0M591.5 943.5h0M592.5 943.5h0M593.5 943.5h0M594.5 943.5h0M595.5 943.5h0M596.5 943.5h0M598.5 943.5h0M600.5 943.5h0M601.5 943.5h0M604.5 943.5h0M608.5 943.5h0M609.5 943.5h0M611.5 943.5h0M612.5 943.5h0M615.5 943.5h0M617.5 943.5h0M618.5 943.5h0M620.5 943.5h0M621.5 943.5h0M626.5 943.5h0M631.5 943.5h0M634.5 943.5h0M513.5 944.5h0M530.5 944.5h0M543.5 944.5h0M546.5 944.5h0M548.5 944.5h0M551.5 944.5h0M553.5 944.5h0M554.5 944.5h0M556.5 944.5h0M557.5 944.5h0M558.5 944.5h0M559.5 944.5h0M560.5 944.5h0M561.5 944.5h0M563.5 944.5h0M564.5 944.5h0M565.5 944.5h0M566.5 944.5h0M568.5 944.5h0M569.5 944.5h0M570.5 944.5h0M571.5 944.5h0M572.5 944.5h0M573.5 944.5h0M577.5 944.5h0M578.5 944.5h0M579.5 944.5h0M580.5 944.5h0M581.5 944.5h0M582.5 944.5h0M583.5 944.5h0M584.5 944.5h0M585.5 944.5h0M587.5 944.5h0M588.5 944.5h0M591.5 944.5h0M594.5 944.5h0M595.5 944.5h0M596.5 944.5h0M597.5 944.5h0M600.5 944.5h0M602.5 944.5h0M603.5 944.5h0M604.5 944.5h0M608.5 944.5h0M609.5 944.5h0M617.5 944.5h0M624.5 944.5h0M626.5 944.5h0M639.5 944.5h0M696.5 944.5h0M699.5 944.5h0M509.5 945.5h0M533.5 945.5h0M535.5 945.5h0M547.5 945.5h0M548.5 945.5h0M549.5 945.5h0M551.5 945.5h0M552.5 945.5h0M553.5 945.5h0M557.5 945.5h0M558.5 945.5h0M559.5 945.5h0M561.5 945.5h0M565.5 945.5h0M566.5 945.5h0M567.5 945.5h0M568.5 945.5h0M569.5 945.5h0M570.5 945.5h0M571.5 945.5h0M572.5 945.5h0M574.5 945.5h0M576.5 945.5h0M577.5 945.5h0M578.5 945.5h0M579.5 945.5h0M580.5 945.5h0M581.5 945.5h0M582.5 945.5h0M583.5 945.5h0M586.5 945.5h0M587.5 945.5h0M589.5 945.5h0M590.5 945.5h0M591.5 945.5h0M593.5 945.5h0M594.5 945.5h0M595.5 945.5h0M597.5 945.5h0M598.5 945.5h0M599.5 945.5h0M601.5 945.5h0M602.5 945.5h0M604.5 945.5h0M606.5 945.5h0M608.5 945.5h0M609.5 945.5h0M619.5 945.5h0M622.5 945.5h0M659.5 945.5h0M662.5 945.5h0M725.5 945.5h0M532.5 946.5h0M534.5 946.5h0M539.5 946.5h0M540.5 946.5h0M545.5 946.5h0M548.5 946.5h0M551.5 946.5h0M552.5 946.5h0M555.5 946.5h0M556.5 946.5h0M557.5 946.5h0M559.5 946.5h0M561.5 946.5h0M562.5 946.5h0M565.5 946.5h0M566.5 946.5h0M567.5 946.5h0M571.5 946.5h0M572.5 946.5h0M573.5 946.5h0M575.5 946.5h0M577.5 946.5h0M579.5 946.5h0M580.5 946.5h0M583.5 946.5h0M585.5 946.5h0M588.5 946.5h0M590.5 946.5h0M591.5 946.5h0M593.5 946.5h0M596.5 946.5h0M597.5 946.5h0M598.5 946.5h0M599.5 946.5h0M600.5 946.5h0M601.5 946.5h0M602.5 946.5h0M604.5 946.5h0M605.5 946.5h0M606.5 946.5h0M608.5 946.5h0M610.5 946.5h0M614.5 946.5h0M615.5 946.5h0M617.5 946.5h0M619.5 946.5h0M620.5 946.5h0M625.5 946.5h0M736.5 946.5h0M745.5 946.5h0M531.5 947.5h0M542.5 947.5h0M547.5 947.5h0M551.5 947.5h0M554.5 947.5h0M555.5 947.5h0M557.5 947.5h0M559.5 947.5h0M560.5 947.5h0M561.5 947.5h0M566.5 947.5h0M574.5 947.5h0M579.5 947.5h0M580.5 947.5h0M584.5 947.5h0M585.5 947.5h0M586.5 947.5h0M588.5 947.5h0M589.5 947.5h0M590.5 947.5h0M592.5 947.5h0M594.5 947.5h0M595.5 947.5h0M596.5 947.5h0M597.5 947.5h0M598.5 947.5h0M602.5 947.5h0M605.5 947.5h0M606.5 947.5h0M607.5 947.5h0M608.5 947.5h0M609.5 947.5h0M613.5 947.5h0M615.5 947.5h0M620.5 947.5h0M621.5 947.5h0M623.5 947.5h0M651.5 947.5h0M504.5 948.5h0M528.5 948.5h0M529.5 948.5h0M531.5 948.5h0M540.5 948.5h0M554.5 948.5h0M555.5 948.5h0M556.5 948.5h0M560.5 948.5h0M561.5 948.5h0M564.5 948.5h0M565.5 948.5h0M567.5 948.5h0M568.5 948.5h0M569.5 948.5h0M571.5 948.5h0M574.5 948.5h0M575.5 948.5h0M577.5 948.5h0M578.5 948.5h0M579.5 948.5h0M581.5 948.5h0M582.5 948.5h0M583.5 948.5h0M585.5 948.5h0M587.5 948.5h0M588.5 948.5h0M590.5 948.5h0M592.5 948.5h0M593.5 948.5h0M596.5 948.5h0M597.5 948.5h0M599.5 948.5h0M600.5 948.5h0M602.5 948.5h0M607.5 948.5h0M608.5 948.5h0M609.5 948.5h0M613.5 948.5h0M614.5 948.5h0M616.5 948.5h0M617.5 948.5h0M624.5 948.5h0M626.5 948.5h0M641.5 948.5h0M656.5 948.5h0M680.5 948.5h0M721.5 948.5h0M737.5 948.5h0M504.5 949.5h0M524.5 949.5h0M527.5 949.5h0M542.5 949.5h0M547.5 949.5h0M550.5 949.5h0M551.5 949.5h0M556.5 949.5h0M557.5 949.5h0M558.5 949.5h0M559.5 949.5h0M560.5 949.5h0M561.5 949.5h0M566.5 949.5h0M567.5 949.5h0M571.5 949.5h0M573.5 949.5h0M575.5 949.5h0M576.5 949.5h0M577.5 949.5h0M578.5 949.5h0M579.5 949.5h0M580.5 949.5h0M581.5 949.5h0M582.5 949.5h0M583.5 949.5h0M584.5 949.5h0M585.5 949.5h0M588.5 949.5h0M589.5 949.5h0M590.5 949.5h0M594.5 949.5h0M595.5 949.5h0M596.5 949.5h0M599.5 949.5h0M602.5 949.5h0M603.5 949.5h0M605.5 949.5h0M609.5 949.5h0M611.5 949.5h0M612.5 949.5h0M617.5 949.5h0M624.5 949.5h0M632.5 949.5h0M633.5 949.5h0M535.5 950.5h0M540.5 950.5h0M543.5 950.5h0M548.5 950.5h0M559.5 950.5h0M560.5 950.5h0M562.5 950.5h0M563.5 950.5h0M564.5 950.5h0M565.5 950.5h0M568.5 950.5h0M569.5 950.5h0M570.5 950.5h0M571.5 950.5h0M572.5 950.5h0M574.5 950.5h0M575.5 950.5h0M577.5 950.5h0M581.5 950.5h0M583.5 950.5h0M585.5 950.5h0M586.5 950.5h0M595.5 950.5h0M597.5 950.5h0M603.5 950.5h0M604.5 950.5h0M607.5 950.5h0M609.5 950.5h0M612.5 950.5h0M618.5 950.5h0M621.5 950.5h0M637.5 950.5h0M649.5 950.5h0M532.5 951.5h0M543.5 951.5h0M546.5 951.5h0M547.5 951.5h0M548.5 951.5h0M550.5 951.5h0M553.5 951.5h0M556.5 951.5h0M557.5 951.5h0M560.5 951.5h0M562.5 951.5h0M564.5 951.5h0M565.5 951.5h0M567.5 951.5h0M570.5 951.5h0M571.5 951.5h0M572.5 951.5h0M573.5 951.5h0M574.5 951.5h0M575.5 951.5h0M576.5 951.5h0M578.5 951.5h0M582.5 951.5h0M583.5 951.5h0M584.5 951.5h0M589.5 951.5h0M591.5 951.5h0M592.5 951.5h0M593.5 951.5h0M594.5 951.5h0M595.5 951.5h0M596.5 951.5h0M601.5 951.5h0M603.5 951.5h0M605.5 951.5h0M606.5 951.5h0M613.5 951.5h0M617.5 951.5h0M618.5 951.5h0M620.5 951.5h0M622.5 951.5h0M524.5 952.5h0M530.5 952.5h0M537.5 952.5h0M541.5 952.5h0M546.5 952.5h0M547.5 952.5h0M549.5 952.5h0M553.5 952.5h0M554.5 952.5h0M555.5 952.5h0M557.5 952.5h0M558.5 952.5h0M559.5 952.5h0M566.5 952.5h0M567.5 952.5h0M568.5 952.5h0M569.5 952.5h0M570.5 952.5h0M574.5 952.5h0M575.5 952.5h0M578.5 952.5h0M579.5 952.5h0M581.5 952.5h0M582.5 952.5h0M584.5 952.5h0M586.5 952.5h0M589.5 952.5h0M590.5 952.5h0M594.5 952.5h0M595.5 952.5h0M596.5 952.5h0M597.5 952.5h0M601.5 952.5h0M603.5 952.5h0M604.5 952.5h0M607.5 952.5h0M608.5 952.5h0M609.5 952.5h0M619.5 952.5h0M620.5 952.5h0M622.5 952.5h0M623.5 952.5h0M635.5 952.5h0M643.5 952.5h0M742.5 952.5h0M536.5 953.5h0M541.5 953.5h0M545.5 953.5h0M553.5 953.5h0M555.5 953.5h0M558.5 953.5h0M559.5 953.5h0M562.5 953.5h0M563.5 953.5h0M567.5 953.5h0M571.5 953.5h0M573.5 953.5h0M578.5 953.5h0M579.5 953.5h0M583.5 953.5h0M584.5 953.5h0M585.5 953.5h0M586.5 953.5h0M587.5 953.5h0M590.5 953.5h0M591.5 953.5h0M592.5 953.5h0M595.5 953.5h0M601.5 953.5h0M603.5 953.5h0M606.5 953.5h0M608.5 953.5h0M610.5 953.5h0M611.5 953.5h0M613.5 953.5h0M631.5 953.5h0M634.5 953.5h0M517.5 954.5h0M522.5 954.5h0M523.5 954.5h0M530.5 954.5h0M545.5 954.5h0M546.5 954.5h0M551.5 954.5h0M552.5 954.5h0M554.5 954.5h0M558.5 954.5h0M567.5 954.5h0M568.5 954.5h0M570.5 954.5h0M572.5 954.5h0M573.5 954.5h0M574.5 954.5h0M579.5 954.5h0M580.5 954.5h0M583.5 954.5h0M585.5 954.5h0M587.5 954.5h0M589.5 954.5h0M590.5 954.5h0M591.5 954.5h0M594.5 954.5h0M595.5 954.5h0M600.5 954.5h0M601.5 954.5h0M603.5 954.5h0M611.5 954.5h0M613.5 954.5h0M615.5 954.5h0M618.5 954.5h0M641.5 954.5h0M644.5 954.5h0M720.5 954.5h0M534.5 955.5h0M541.5 955.5h0M542.5 955.5h0M552.5 955.5h0M556.5 955.5h0M558.5 955.5h0M561.5 955.5h0M563.5 955.5h0M568.5 955.5h0M569.5 955.5h0M570.5 955.5h0M573.5 955.5h0M575.5 955.5h0M576.5 955.5h0M583.5 955.5h0M584.5 955.5h0M587.5 955.5h0M590.5 955.5h0M591.5 955.5h0M593.5 955.5h0M594.5 955.5h0M595.5 955.5h0M596.5 955.5h0M598.5 955.5h0M601.5 955.5h0M604.5 955.5h0M605.5 955.5h0M617.5 955.5h0M633.5 955.5h0M639.5 955.5h0M677.5 955.5h0M764.5 955.5h0M522.5 956.5h0M538.5 956.5h0M540.5 956.5h0M547.5 956.5h0M550.5 956.5h0M558.5 956.5h0M560.5 956.5h0M562.5 956.5h0M565.5 956.5h0M569.5 956.5h0M574.5 956.5h0M577.5 956.5h0M578.5 956.5h0M580.5 956.5h0M582.5 956.5h0M583.5 956.5h0M585.5 956.5h0M587.5 956.5h0M591.5 956.5h0M592.5 956.5h0M593.5 956.5h0M599.5 956.5h0M600.5 956.5h0M610.5 956.5h0M611.5 956.5h0M616.5 956.5h0M624.5 956.5h0M527.5 957.5h0M546.5 957.5h0M548.5 957.5h0M549.5 957.5h0M550.5 957.5h0M552.5 957.5h0M553.5 957.5h0M554.5 957.5h0M559.5 957.5h0M560.5 957.5h0M562.5 957.5h0M563.5 957.5h0M564.5 957.5h0M567.5 957.5h0M570.5 957.5h0M572.5 957.5h0M573.5 957.5h0M577.5 957.5h0M583.5 957.5h0M584.5 957.5h0M587.5 957.5h0M588.5 957.5h0M589.5 957.5h0M590.5 957.5h0M594.5 957.5h0M595.5 957.5h0M597.5 957.5h0M598.5 957.5h0M603.5 957.5h0M608.5 957.5h0M616.5 957.5h0M624.5 957.5h0M532.5 958.5h0M537.5 958.5h0M546.5 958.5h0M547.5 958.5h0M553.5 958.5h0M554.5 958.5h0M556.5 958.5h0M557.5 958.5h0M559.5 958.5h0M560.5 958.5h0M561.5 958.5h0M567.5 958.5h0M571.5 958.5h0M575.5 958.5h0M577.5 958.5h0M579.5 958.5h0M580.5 958.5h0M581.5 958.5h0M583.5 958.5h0M585.5 958.5h0M588.5 958.5h0M592.5 958.5h0M596.5 958.5h0M597.5 958.5h0M598.5 958.5h0M599.5 958.5h0M602.5 958.5h0M618.5 958.5h0M704.5 958.5h0M529.5 959.5h0M541.5 959.5h0M548.5 959.5h0M557.5 959.5h0M561.5 959.5h0M571.5 959.5h0M572.5 959.5h0M574.5 959.5h0M577.5 959.5h0M585.5 959.5h0M592.5 959.5h0M594.5 959.5h0M595.5 959.5h0M602.5 959.5h0M605.5 959.5h0M621.5 959.5h0M625.5 959.5h0M628.5 959.5h0M633.5 959.5h0M634.5 959.5h0M769.5 959.5h0M532.5 960.5h0M539.5 960.5h0M542.5 960.5h0M562.5 960.5h0M567.5 960.5h0M575.5 960.5h0M578.5 960.5h0M581.5 960.5h0M582.5 960.5h0M585.5 960.5h0M586.5 960.5h0M587.5 960.5h0M589.5 960.5h0M590.5 960.5h0M596.5 960.5h0M599.5 960.5h0M602.5 960.5h0M607.5 960.5h0M612.5 960.5h0M622.5 960.5h0M524.5 961.5h0M547.5 961.5h0M562.5 961.5h0M563.5 961.5h0M569.5 961.5h0M570.5 961.5h0M571.5 961.5h0M572.5 961.5h0M576.5 961.5h0M579.5 961.5h0M582.5 961.5h0M592.5 961.5h0M598.5 961.5h0M600.5 961.5h0M601.5 961.5h0M605.5 961.5h0M653.5 961.5h0M738.5 961.5h0M523.5 962.5h0M532.5 962.5h0M542.5 962.5h0M549.5 962.5h0M551.5 962.5h0M552.5 962.5h0M560.5 962.5h0M570.5 962.5h0M576.5 962.5h0M579.5 962.5h0M583.5 962.5h0M589.5 962.5h0M593.5 962.5h0M597.5 962.5h0M604.5 962.5h0M606.5 962.5h0M616.5 962.5h0M625.5 962.5h0M631.5 962.5h0M648.5 962.5h0M537.5 963.5h0M541.5 963.5h0M552.5 963.5h0M556.5 963.5h0M558.5 963.5h0M559.5 963.5h0M560.5 963.5h0M564.5 963.5h0M565.5 963.5h0M568.5 963.5h0M572.5 963.5h0M573.5 963.5h0M584.5 963.5h0M585.5 963.5h0M586.5 963.5h0M587.5 963.5h0M588.5 963.5h0M597.5 963.5h0M598.5 963.5h0M602.5 963.5h0M603.5 963.5h0M537.5 964.5h0M538.5 964.5h0M542.5 964.5h0M554.5 964.5h0M560.5 964.5h0M565.5 964.5h0M573.5 964.5h0M574.5 964.5h0M587.5 964.5h0M604.5 964.5h0M640.5 964.5h0M728.5 964.5h0M737.5 964.5h0M522.5 965.5h0M544.5 965.5h0M547.5 965.5h0M557.5 965.5h0M562.5 965.5h0M569.5 965.5h0M572.5 965.5h0M581.5 965.5h0M585.5 965.5h0M587.5 965.5h0M596.5 965.5h0M601.5 965.5h0M606.5 965.5h0M615.5 965.5h0M628.5 965.5h0M534.5 966.5h0M558.5 966.5h0M561.5 966.5h0M573.5 966.5h0M579.5 966.5h0M580.5 966.5h0M584.5 966.5h0M591.5 966.5h0M595.5 966.5h0M599.5 966.5h0M614.5 966.5h0M549.5 967.5h0M561.5 967.5h0M564.5 967.5h0M572.5 967.5h0M577.5 967.5h0M580.5 967.5h0M589.5 967.5h0M598.5 967.5h0M600.5 967.5h0M602.5 967.5h0"/>
<g stroke="#000" stroke-width="1.8" fill="none">
<rect x="489.6" y="662" width="327.5" height="327.6"/>
<path d="M648 662V989.6M489.6 852.5H817.1"/>
<path stroke-width="1.6" d="M489.6 989.6v8M526.2 989.6v8M624.8 989.6v8M720.8 989.6v8M817.1 989.6v8M504.2 989.6v5M546.8 989.6v5M563.8 989.6v5M577.8 989.6v5M588.8 989.6v5M596.8 989.6v5M604.2 989.6v5M610.5 989.6v5M615.8 989.6v5M620.8 989.6v5M653.8 989.6v5M670.7 989.6v5M682.7 989.6v5M692 989.6v5M699.7 989.6v5M706.1 989.6v5M711.7 989.6v5M716.6 989.6v5M749.8 989.6v5M766.7 989.6v5M778.7 989.6v5M788 989.6v5M795.7 989.6v5M802.1 989.6v5M807.7 989.6v5M812.6 989.6v5M489.6 662h-8M489.6 750.8h-8M489.6 839h-8M489.6 921.3h-8M489.6 955.3h-8M489.6 989.6h-8M489.6 724.1h-5M489.6 708.4h-5M489.6 697.3h-5M489.6 688.7h-5M489.6 681.7h-5M489.6 675.8h-5M489.6 670.6h-5M489.6 666.1h-5M489.6 812.4h-5M489.6 796.9h-5M489.6 785.9h-5M489.6 777.4h-5M489.6 770.4h-5M489.6 764.5h-5M489.6 759.3h-5M489.6 754.8h-5M489.6 896.5h-5M489.6 882h-5M489.6 871.8h-5M489.6 863.8h-5M489.6 857.3h-5M489.6 851.7h-5M489.6 847h-5M489.6 842.8h-5M489.6 924.8h-5M489.6 928.2h-5M489.6 931.6h-5M489.6 935h-5M489.6 938.4h-5M489.6 941.8h-5M489.6 945.2h-5M489.6 948.6h-5M489.6 952h-5M489.6 958.8h-5M489.6 962.2h-5M489.6 965.6h-5M489.6 969h-5M489.6 972.4h-5M489.6 975.8h-5M489.6 979.2h-5M489.6 982.6h-5M489.6 986h-5"/>
</g>
<g font-family="Liberation Sans" fill="#000">
<text x="526.2" y="1017.6" font-size="17" text-anchor="middle">0</text>
<text x="627.3" y="1017.6" font-size="17" text-anchor="middle">10<tspan font-size="12" dy="-6.5">4</tspan></text>
<text x="723.3" y="1017.6" font-size="17" text-anchor="middle">10<tspan font-size="12" dy="-6.5">5</tspan></text>
<text x="819.6" y="1017.6" font-size="17" text-anchor="middle">10<tspan font-size="12" dy="-6.5">6</tspan></text>
<text x="0" y="0" font-size="17" text-anchor="middle" transform="translate(474.3 955.3) rotate(-90)">0</text>
<text x="0" y="0" font-size="17" text-anchor="middle" transform="translate(474.3 922.8) rotate(-90)">10<tspan font-size="12" dy="-8.5">3</tspan></text>
<text x="0" y="0" font-size="17" text-anchor="middle" transform="translate(474.3 840.5) rotate(-90)">10<tspan font-size="12" dy="-8.5">4</tspan></text>
<text x="0" y="0" font-size="17" text-anchor="middle" transform="translate(474.3 752.3) rotate(-90)">10<tspan font-size="12" dy="-8.5">5</tspan></text>
<text x="0" y="0" font-size="17" text-anchor="middle" transform="translate(474.3 663.5) rotate(-90)">10<tspan font-size="12" dy="-8.5">6</tspan></text>
<text x="653.4" y="1038.1" font-size="16.8" text-anchor="middle">Annexin V FITC-A</text>
<text transform="translate(453.3 825.8) rotate(-90)" font-size="17.5" text-anchor="middle">PI PE-A</text>
<g font-size="16.8">
<text x="495.6" y="684">Q1-UL(0.14%)</text>
<text x="811.1" y="684" text-anchor="end">Q1-UR(2.93%)</text>
<text x="495.6" y="978.6">Q1-LL(95.04%)</text>
<text x="811.1" y="978.6" text-anchor="end">Q1-LR(1.89%)</text>
</g></g>
<text x="1057.7" y="626.8" font-family="Liberation Sans" font-weight="bold" font-size="33.4" text-anchor="middle">OGD4h/R4h</text>
<path fill="#ff0000" d="M1033.8 935.6 1031.4 937.8 1030 939.5 1030.8 941.1 1028.1 942.3 1027 943.6 1028.1 945.2 1026.4 946.2 1027 947.7 1026 948.9 1026.2 950.4 1024.7 951.4 1025.2 953.1 1024.7 954.5 1022.6 955.2 1021.4 956.3 1019.3 956.9 1016.1 956.7 1015.1 957.8 1012.6 957.9 1010.1 957.9 1007.8 957.8 1007 959.4 1004.8 959.4 1003.3 960.4 1001.6 961.4 999.5 961.8 997.5 962.7 994.9 962.5 992.5 963.5 989.3 963.2 986.1 964.2 983.5 964.2 981.3 963.1 978.9 963.3 976.5 963.6 973.4 964.5 971.3 964.5 968.5 964.5 966.3 964.5 963.5 964.5 961.2 964.5 959.1 964.2 956.9 963.7 955.6 962.6 954 961.6 953.9 959.7 953.2 958.3 953.4 956.5 953.2 955 953.9 953.2 954.8 951.4 952.8 950.8 951.8 949.8 951 948.7 950.8 947.4 949.3 946.3 949.5 944.9 947.2 943.7 947.3 942.1 947.7 940.1 948.3 938.2 946.6 936.6 946.6 935 949.2 933.8 947.8 932.3 949.1 931.1 949.9 929.9 949.7 928.4 948.7 926.7 948.8 925.3 951.1 924.6 950.7 922.8 952.9 922.2 952.9 920.5 955.3 920 956 918.7 957.8 917.9 960.4 917.8 961.5 916.5 964.2 916.6 966.1 916.1 967 914.4 969.3 914.1 970.8 912.8 972.6 911.5 974.6 910.3 977.4 910.4 980.1 910.2 982.8 909 986.5 910.2 990 909.8 992.7 910.8 994.8 912.6 996.8 913.5 998.7 914.3 1000.5 914.9 1002.1 915.5 1003.8 916 1005.6 916.2 1008 915.9 1009.3 916.7 1011.1 917 1013.5 916.9 1014.5 918 1016.2 918.4 1019 918.3 1019.6 919.6 1021.1 920.3 1021.4 921.7 1023.8 922.1 1025.8 922.7 1026.2 924.1 1029.3 924.5 1031 925.6 1031.1 927.1 1033.7 928.2 1034.1 929.8 1034.9 931.4 1033.8 933.4Z"/>
<path fill="none" stroke="#ff0000" stroke-width="1.6" stroke-linecap="square" d="M1085.5 666.5h0M1121.5 673.5h0M1119.5 676.5h0M1128.5 676.5h0M1138.5 679.5h0M1133.5 680.5h0M1098.5 681.5h0M1092.5 684.5h0M1089.5 685.5h0M1116.5 685.5h0M1087.5 686.5h0M1115.5 686.5h0M1125.5 690.5h0M1127.5 690.5h0M1120.5 691.5h0M1147.5 692.5h0M1061.5 693.5h0M1073.5 693.5h0M1116.5 695.5h0M1095.5 696.5h0M1110.5 696.5h0M1125.5 696.5h0M1102.5 697.5h0M1127.5 697.5h0M1118.5 698.5h0M1129.5 698.5h0M1141.5 698.5h0M1113.5 699.5h0M1077.5 700.5h0M1082.5 702.5h0M1097.5 702.5h0M1157.5 702.5h0M1084.5 703.5h0M1094.5 703.5h0M1100.5 703.5h0M1110.5 703.5h0M1116.5 703.5h0M1123.5 703.5h0M1058.5 705.5h0M1117.5 705.5h0M1110.5 706.5h0M1124.5 706.5h0M1163.5 706.5h0M1100.5 707.5h0M1117.5 707.5h0M1118.5 707.5h0M1150.5 707.5h0M1088.5 708.5h0M1095.5 708.5h0M1115.5 708.5h0M1125.5 708.5h0M1080.5 709.5h0M1118.5 709.5h0M1133.5 709.5h0M1073.5 710.5h0M1117.5 710.5h0M1118.5 710.5h0M1107.5 712.5h0M1109.5 712.5h0M1122.5 712.5h0M1106.5 713.5h0M1111.5 713.5h0M1114.5 713.5h0M1117.5 713.5h0M1092.5 714.5h0M1110.5 714.5h0M1132.5 714.5h0M1138.5 714.5h0M1116.5 715.5h0M1156.5 715.5h0M1120.5 716.5h0M1132.5 716.5h0M1107.5 717.5h0M1109.5 717.5h0M1118.5 717.5h0M1123.5 717.5h0M1142.5 717.5h0M1101.5 718.5h0M1107.5 718.5h0M1096.5 719.5h0M1103.5 719.5h0M1116.5 719.5h0M1150.5 719.5h0M1075.5 720.5h0M1153.5 720.5h0M1100.5 721.5h0M1123.5 721.5h0M1127.5 721.5h0M1129.5 721.5h0M1163.5 721.5h0M1091.5 723.5h0M1108.5 723.5h0M1114.5 723.5h0M1127.5 723.5h0M1131.5 723.5h0M1088.5 724.5h0M1109.5 724.5h0M1131.5 724.5h0M1173.5 724.5h0M1106.5 725.5h0M1109.5 725.5h0M1087.5 726.5h0M1092.5 726.5h0M1110.5 726.5h0M1130.5 726.5h0M1139.5 726.5h0M1099.5 727.5h0M1104.5 727.5h0M1127.5 727.5h0M1132.5 727.5h0M1133.5 727.5h0M1135.5 727.5h0M1115.5 728.5h0M1120.5 728.5h0M1084.5 729.5h0M1088.5 729.5h0M1109.5 729.5h0M1138.5 729.5h0M1036.5 730.5h0M1101.5 730.5h0M1116.5 730.5h0M1097.5 731.5h0M1106.5 731.5h0M1114.5 731.5h0M1124.5 731.5h0M1138.5 731.5h0M1153.5 731.5h0M1090.5 732.5h0M1105.5 732.5h0M1107.5 732.5h0M1116.5 732.5h0M1158.5 732.5h0M1059.5 733.5h0M1088.5 733.5h0M1107.5 733.5h0M1112.5 733.5h0M1114.5 734.5h0M1117.5 734.5h0M1073.5 735.5h0M1095.5 735.5h0M1102.5 735.5h0M1114.5 735.5h0M1134.5 735.5h0M1136.5 735.5h0M1140.5 735.5h0M1105.5 736.5h0M1111.5 736.5h0M1113.5 736.5h0M1115.5 736.5h0M1133.5 736.5h0M1161.5 736.5h0M1100.5 737.5h0M1122.5 737.5h0M1154.5 737.5h0M1101.5 738.5h0M1080.5 739.5h0M1108.5 739.5h0M1109.5 739.5h0M1117.5 739.5h0M1119.5 739.5h0M1145.5 739.5h0M1115.5 740.5h0M1123.5 740.5h0M1091.5 741.5h0M1125.5 741.5h0M1139.5 741.5h0M1098.5 742.5h0M1103.5 742.5h0M1118.5 742.5h0M1124.5 742.5h0M1127.5 742.5h0M1137.5 742.5h0M1081.5 743.5h0M1100.5 743.5h0M1113.5 743.5h0M1124.5 743.5h0M1099.5 744.5h0M1106.5 744.5h0M1111.5 744.5h0M1136.5 744.5h0M1072.5 745.5h0M1094.5 745.5h0M1106.5 745.5h0M1108.5 745.5h0M1110.5 745.5h0M1112.5 745.5h0M1142.5 745.5h0M1078.5 746.5h0M1084.5 746.5h0M1089.5 746.5h0M1092.5 746.5h0M1095.5 746.5h0M1124.5 746.5h0M1131.5 746.5h0M1104.5 747.5h0M1070.5 748.5h0M1089.5 748.5h0M1109.5 749.5h0M1159.5 749.5h0M1080.5 750.5h0M1101.5 750.5h0M1114.5 750.5h0M1156.5 750.5h0M1085.5 751.5h0M1111.5 751.5h0M1104.5 752.5h0M1122.5 752.5h0M1128.5 752.5h0M1160.5 752.5h0M1088.5 753.5h0M1096.5 753.5h0M1127.5 753.5h0M1053.5 754.5h0M1100.5 754.5h0M1120.5 754.5h0M1148.5 754.5h0M1060.5 755.5h0M1112.5 755.5h0M1113.5 755.5h0M1118.5 755.5h0M1119.5 755.5h0M1134.5 755.5h0M1089.5 756.5h0M1102.5 756.5h0M1090.5 757.5h0M1104.5 757.5h0M1111.5 757.5h0M1118.5 757.5h0M1136.5 757.5h0M1156.5 757.5h0M1084.5 758.5h0M1119.5 758.5h0M1147.5 758.5h0M1088.5 759.5h0M1091.5 759.5h0M1099.5 759.5h0M1106.5 759.5h0M1108.5 759.5h0M1115.5 759.5h0M1136.5 759.5h0M1092.5 760.5h0M1103.5 760.5h0M1138.5 760.5h0M1140.5 760.5h0M1093.5 761.5h0M1095.5 761.5h0M1107.5 761.5h0M1113.5 761.5h0M1118.5 761.5h0M1123.5 761.5h0M1136.5 761.5h0M1145.5 761.5h0M1043.5 762.5h0M1089.5 762.5h0M1098.5 762.5h0M1101.5 762.5h0M1106.5 762.5h0M1122.5 762.5h0M1130.5 762.5h0M1078.5 763.5h0M1087.5 764.5h0M1101.5 764.5h0M1111.5 764.5h0M1125.5 764.5h0M1100.5 765.5h0M1103.5 765.5h0M1104.5 765.5h0M1125.5 765.5h0M1138.5 765.5h0M1105.5 766.5h0M1073.5 767.5h0M1081.5 767.5h0M1103.5 767.5h0M1112.5 767.5h0M1144.5 767.5h0M1077.5 769.5h0M1120.5 770.5h0M1136.5 770.5h0M1065.5 771.5h0M1103.5 771.5h0M1117.5 771.5h0M1136.5 772.5h0M1082.5 773.5h0M1091.5 773.5h0M1116.5 773.5h0M1136.5 773.5h0M1137.5 773.5h0M1094.5 774.5h0M1108.5 775.5h0M1120.5 776.5h0M1108.5 777.5h0M1121.5 777.5h0M1037.5 778.5h0M1100.5 778.5h0M1107.5 779.5h0M1123.5 779.5h0M1116.5 780.5h0M1056.5 781.5h0M1126.5 781.5h0M1056.5 782.5h0M1099.5 782.5h0M1104.5 782.5h0M1109.5 782.5h0M1120.5 782.5h0M1054.5 783.5h0M1108.5 783.5h0M1117.5 783.5h0M1122.5 783.5h0M1089.5 784.5h0M1122.5 784.5h0M1109.5 785.5h0M1155.5 785.5h0M1089.5 786.5h0M1095.5 786.5h0M1114.5 786.5h0M1146.5 786.5h0M1063.5 787.5h0M1087.5 787.5h0M1120.5 787.5h0M1134.5 787.5h0M1095.5 788.5h0M1130.5 788.5h0M1135.5 788.5h0M1069.5 789.5h0M1091.5 789.5h0M1132.5 789.5h0M1063.5 790.5h0M1097.5 790.5h0M1101.5 790.5h0M1166.5 790.5h0M1107.5 791.5h0M1116.5 791.5h0M1153.5 791.5h0M1122.5 792.5h0M1059.5 793.5h0M1074.5 794.5h0M1150.5 794.5h0M1161.5 794.5h0M1076.5 795.5h0M1130.5 795.5h0M1136.5 795.5h0M1148.5 795.5h0M1080.5 796.5h0M1109.5 796.5h0M1120.5 796.5h0M1165.5 796.5h0M1040.5 797.5h0M1133.5 797.5h0M1063.5 799.5h0M1083.5 800.5h0M1089.5 800.5h0M1090.5 800.5h0M1100.5 800.5h0M1079.5 801.5h0M1091.5 801.5h0M1105.5 801.5h0M1124.5 801.5h0M1126.5 802.5h0M1133.5 802.5h0M1145.5 802.5h0M1103.5 803.5h0M1059.5 804.5h0M1096.5 804.5h0M1166.5 804.5h0M1071.5 806.5h0M1092.5 806.5h0M1119.5 807.5h0M1081.5 808.5h0M1091.5 809.5h0M1103.5 811.5h0M1105.5 811.5h0M1064.5 812.5h0M1079.5 812.5h0M1081.5 812.5h0M1125.5 812.5h0M1155.5 812.5h0M1058.5 813.5h0M1088.5 813.5h0M1127.5 813.5h0M1162.5 813.5h0M1089.5 814.5h0M1114.5 814.5h0M1067.5 815.5h0M1096.5 815.5h0M1149.5 815.5h0M1102.5 816.5h0M1106.5 816.5h0M1107.5 816.5h0M1111.5 816.5h0M1087.5 817.5h0M1115.5 818.5h0M1159.5 818.5h0M1097.5 819.5h0M1128.5 819.5h0M1102.5 820.5h0M1111.5 820.5h0M1100.5 821.5h0M1189.5 821.5h0M1066.5 823.5h0M1067.5 823.5h0M1080.5 823.5h0M1103.5 823.5h0M1103.5 824.5h0M1091.5 825.5h0M1100.5 825.5h0M1038.5 826.5h0M1071.5 826.5h0M1149.5 826.5h0M1104.5 827.5h0M1106.5 827.5h0M1143.5 827.5h0M1166.5 827.5h0M1040.5 828.5h0M1049.5 828.5h0M1113.5 829.5h0M1121.5 829.5h0M1131.5 829.5h0M1110.5 830.5h0M1167.5 830.5h0M1077.5 832.5h0M1129.5 832.5h0M1151.5 832.5h0M1160.5 833.5h0M1089.5 834.5h0M1151.5 835.5h0M1099.5 836.5h0M1117.5 836.5h0M1124.5 836.5h0M1130.5 837.5h0M1143.5 837.5h0M1042.5 838.5h0M1081.5 838.5h0M1092.5 838.5h0M1098.5 838.5h0M1082.5 839.5h0M1115.5 839.5h0M1048.5 840.5h0M1125.5 840.5h0M1141.5 841.5h0M1144.5 841.5h0M1055.5 842.5h0M1060.5 842.5h0M1139.5 842.5h0M1077.5 843.5h0M1094.5 843.5h0M1101.5 843.5h0M1103.5 843.5h0M1115.5 843.5h0M1136.5 843.5h0M1193.5 845.5h0M1083.5 846.5h0M1090.5 846.5h0M1108.5 846.5h0M1125.5 846.5h0M1067.5 847.5h0M1157.5 847.5h0M1151.5 848.5h0M1094.5 849.5h0M1115.5 849.5h0M1118.5 849.5h0M1026.5 850.5h0M1124.5 850.5h0M1125.5 850.5h0M1116.5 851.5h0M1134.5 851.5h0M1157.5 851.5h0M1002.5 852.5h0M1129.5 852.5h0M1134.5 852.5h0M1037.5 853.5h0M1068.5 853.5h0M1071.5 853.5h0M1079.5 853.5h0M1108.5 854.5h0M1122.5 854.5h0M1021.5 855.5h0M1028.5 855.5h0M1082.5 855.5h0M1094.5 855.5h0M1128.5 855.5h0M1129.5 855.5h0M1081.5 856.5h0M1119.5 856.5h0M1061.5 857.5h0M1111.5 857.5h0M1119.5 857.5h0M1065.5 858.5h0M1119.5 858.5h0M1127.5 858.5h0M1029.5 859.5h0M1085.5 859.5h0M1094.5 859.5h0M1003.5 860.5h0M1069.5 860.5h0M1045.5 861.5h0M1070.5 861.5h0M1120.5 861.5h0M1097.5 862.5h0M1008.5 863.5h0M1022.5 863.5h0M1075.5 863.5h0M1102.5 863.5h0M1112.5 863.5h0M1114.5 863.5h0M1125.5 863.5h0M1137.5 863.5h0M1139.5 863.5h0M1106.5 864.5h0M1118.5 864.5h0M1081.5 865.5h0M1055.5 867.5h0M1093.5 867.5h0M1023.5 868.5h0M1051.5 868.5h0M1120.5 868.5h0M1002.5 869.5h0M1007.5 869.5h0M1067.5 869.5h0M1073.5 869.5h0M1083.5 869.5h0M1092.5 869.5h0M1121.5 869.5h0M1041.5 870.5h0M1060.5 870.5h0M1027.5 871.5h0M1120.5 871.5h0M1129.5 871.5h0M1024.5 872.5h0M1029.5 872.5h0M1035.5 872.5h0M1103.5 872.5h0M1114.5 872.5h0M1115.5 872.5h0M1016.5 873.5h0M1029.5 873.5h0M1128.5 873.5h0M1135.5 873.5h0M964.5 874.5h0M1024.5 874.5h0M1091.5 874.5h0M1104.5 874.5h0M1106.5 874.5h0M1110.5 874.5h0M1015.5 875.5h0M1018.5 875.5h0M1019.5 875.5h0M1040.5 875.5h0M1048.5 875.5h0M1081.5 875.5h0M1143.5 875.5h0M1022.5 876.5h0M1040.5 876.5h0M1067.5 876.5h0M1115.5 876.5h0M1133.5 876.5h0M1140.5 876.5h0M1011.5 877.5h0M968.5 878.5h0M1013.5 878.5h0M1044.5 878.5h0M1102.5 878.5h0M1124.5 878.5h0M1141.5 878.5h0M1022.5 879.5h0M1038.5 879.5h0M1086.5 879.5h0M1092.5 879.5h0M1098.5 879.5h0M1135.5 879.5h0M1026.5 880.5h0M1036.5 880.5h0M1060.5 880.5h0M1080.5 880.5h0M1096.5 880.5h0M971.5 881.5h0M1003.5 881.5h0M1033.5 881.5h0M1048.5 881.5h0M1105.5 881.5h0M1118.5 881.5h0M1128.5 881.5h0M1007.5 882.5h0M1015.5 882.5h0M1142.5 882.5h0M1145.5 882.5h0M1160.5 882.5h0M984.5 883.5h0M993.5 883.5h0M999.5 883.5h0M1014.5 883.5h0M1017.5 883.5h0M1018.5 883.5h0M1019.5 883.5h0M1028.5 883.5h0M1109.5 883.5h0M1135.5 883.5h0M993.5 884.5h0M1015.5 884.5h0M1035.5 884.5h0M1036.5 884.5h0M1110.5 884.5h0M1180.5 884.5h0M968.5 885.5h0M1006.5 885.5h0M1012.5 885.5h0M1016.5 885.5h0M1039.5 885.5h0M1096.5 885.5h0M1100.5 885.5h0M1132.5 885.5h0M956.5 886.5h0M1012.5 886.5h0M1017.5 886.5h0M1085.5 886.5h0M1119.5 886.5h0M1122.5 886.5h0M988.5 887.5h0M993.5 887.5h0M1000.5 887.5h0M1014.5 887.5h0M1024.5 887.5h0M1097.5 887.5h0M1111.5 887.5h0M1118.5 887.5h0M960.5 888.5h0M1039.5 888.5h0M1050.5 888.5h0M1068.5 888.5h0M1125.5 888.5h0M990.5 889.5h0M1007.5 889.5h0M1008.5 889.5h0M1015.5 889.5h0M1036.5 889.5h0M1077.5 889.5h0M1127.5 889.5h0M970.5 890.5h0M1015.5 890.5h0M1017.5 890.5h0M1021.5 890.5h0M1027.5 890.5h0M1039.5 890.5h0M985.5 891.5h0M997.5 891.5h0M1120.5 891.5h0M1133.5 891.5h0M986.5 892.5h0M1000.5 892.5h0M1005.5 892.5h0M1006.5 892.5h0M1008.5 892.5h0M1023.5 892.5h0M1037.5 892.5h0M1074.5 892.5h0M1082.5 892.5h0M936.5 893.5h0M971.5 893.5h0M995.5 893.5h0M999.5 893.5h0M1011.5 893.5h0M1019.5 893.5h0M1021.5 893.5h0M1026.5 893.5h0M1035.5 893.5h0M1039.5 893.5h0M1041.5 893.5h0M1064.5 893.5h0M1086.5 893.5h0M1089.5 893.5h0M1144.5 893.5h0M1027.5 894.5h0M1030.5 894.5h0M1096.5 894.5h0M1119.5 894.5h0M1121.5 894.5h0M963.5 895.5h0M995.5 895.5h0M1024.5 895.5h0M1027.5 895.5h0M1030.5 895.5h0M1120.5 895.5h0M965.5 896.5h0M981.5 896.5h0M988.5 896.5h0M1001.5 896.5h0M1009.5 896.5h0M1016.5 896.5h0M1025.5 896.5h0M1032.5 896.5h0M1033.5 896.5h0M1147.5 896.5h0M935.5 897.5h0M949.5 897.5h0M972.5 897.5h0M990.5 897.5h0M1007.5 897.5h0M1096.5 897.5h0M1097.5 897.5h0M1105.5 897.5h0M1115.5 897.5h0M966.5 898.5h0M970.5 898.5h0M1004.5 898.5h0M1016.5 898.5h0M1037.5 898.5h0M1054.5 898.5h0M1072.5 898.5h0M1092.5 898.5h0M1099.5 898.5h0M1117.5 898.5h0M1135.5 898.5h0M1011.5 899.5h0M1038.5 899.5h0M1094.5 899.5h0M1099.5 899.5h0M938.5 900.5h0M961.5 900.5h0M976.5 900.5h0M999.5 900.5h0M1009.5 900.5h0M1144.5 900.5h0M966.5 901.5h0M975.5 901.5h0M984.5 901.5h0M1012.5 901.5h0M1019.5 901.5h0M1028.5 901.5h0M1030.5 901.5h0M1032.5 901.5h0M1036.5 901.5h0M1042.5 901.5h0M1049.5 901.5h0M1070.5 901.5h0M1094.5 901.5h0M1099.5 901.5h0M1113.5 901.5h0M1114.5 901.5h0M972.5 902.5h0M982.5 902.5h0M986.5 902.5h0M1005.5 902.5h0M1012.5 902.5h0M1035.5 902.5h0M1066.5 902.5h0M1077.5 902.5h0M1107.5 902.5h0M954.5 903.5h0M958.5 903.5h0M982.5 903.5h0M983.5 903.5h0M986.5 903.5h0M996.5 903.5h0M997.5 903.5h0M999.5 903.5h0M1000.5 903.5h0M1006.5 903.5h0M1007.5 903.5h0M1015.5 903.5h0M1023.5 903.5h0M1034.5 903.5h0M1037.5 903.5h0M1040.5 903.5h0M1042.5 903.5h0M1099.5 903.5h0M928.5 904.5h0M960.5 904.5h0M977.5 904.5h0M991.5 904.5h0M1006.5 904.5h0M1011.5 904.5h0M1024.5 904.5h0M1042.5 904.5h0M1071.5 904.5h0M1096.5 904.5h0M1136.5 904.5h0M951.5 905.5h0M953.5 905.5h0M963.5 905.5h0M971.5 905.5h0M985.5 905.5h0M989.5 905.5h0M990.5 905.5h0M992.5 905.5h0M996.5 905.5h0M997.5 905.5h0M1001.5 905.5h0M1004.5 905.5h0M1013.5 905.5h0M1050.5 905.5h0M1077.5 905.5h0M1107.5 905.5h0M1109.5 905.5h0M1114.5 905.5h0M1168.5 905.5h0M969.5 906.5h0M973.5 906.5h0M978.5 906.5h0M980.5 906.5h0M984.5 906.5h0M992.5 906.5h0M996.5 906.5h0M1003.5 906.5h0M1031.5 906.5h0M1035.5 906.5h0M1037.5 906.5h0M1040.5 906.5h0M1046.5 906.5h0M1077.5 906.5h0M962.5 907.5h0M963.5 907.5h0M967.5 907.5h0M972.5 907.5h0M982.5 907.5h0M986.5 907.5h0M988.5 907.5h0M994.5 907.5h0M995.5 907.5h0M1003.5 907.5h0M1011.5 907.5h0M1018.5 907.5h0M1033.5 907.5h0M1047.5 907.5h0M1049.5 907.5h0M1062.5 907.5h0M1079.5 907.5h0M1086.5 907.5h0M1134.5 907.5h0M1143.5 907.5h0M1165.5 907.5h0M934.5 908.5h0M940.5 908.5h0M957.5 908.5h0M988.5 908.5h0M990.5 908.5h0M991.5 908.5h0M996.5 908.5h0M1000.5 908.5h0M1001.5 908.5h0M1002.5 908.5h0M1008.5 908.5h0M1009.5 908.5h0M1026.5 908.5h0M1036.5 908.5h0M1042.5 908.5h0M1096.5 908.5h0M1108.5 908.5h0M934.5 909.5h0M935.5 909.5h0M953.5 909.5h0M961.5 909.5h0M971.5 909.5h0M977.5 909.5h0M983.5 909.5h0M987.5 909.5h0M1003.5 909.5h0M1004.5 909.5h0M1009.5 909.5h0M1020.5 909.5h0M1023.5 909.5h0M1030.5 909.5h0M1041.5 909.5h0M1048.5 909.5h0M1067.5 909.5h0M1070.5 909.5h0M1099.5 909.5h0M954.5 910.5h0M957.5 910.5h0M968.5 910.5h0M978.5 910.5h0M982.5 910.5h0M984.5 910.5h0M985.5 910.5h0M990.5 910.5h0M992.5 910.5h0M1002.5 910.5h0M1011.5 910.5h0M1015.5 910.5h0M1016.5 910.5h0M1018.5 910.5h0M1042.5 910.5h0M1072.5 910.5h0M1118.5 910.5h0M1150.5 910.5h0M925.5 911.5h0M956.5 911.5h0M971.5 911.5h0M982.5 911.5h0M987.5 911.5h0M989.5 911.5h0M1007.5 911.5h0M1009.5 911.5h0M1015.5 911.5h0M1021.5 911.5h0M1039.5 911.5h0M1044.5 911.5h0M1057.5 911.5h0M1088.5 911.5h0M1099.5 911.5h0M1130.5 911.5h0M953.5 912.5h0M955.5 912.5h0M967.5 912.5h0M971.5 912.5h0M983.5 912.5h0M987.5 912.5h0M988.5 912.5h0M989.5 912.5h0M991.5 912.5h0M997.5 912.5h0M1002.5 912.5h0M1006.5 912.5h0M1011.5 912.5h0M1017.5 912.5h0M1018.5 912.5h0M1024.5 912.5h0M1028.5 912.5h0M1030.5 912.5h0M1124.5 912.5h0M955.5 913.5h0M960.5 913.5h0M969.5 913.5h0M970.5 913.5h0M973.5 913.5h0M975.5 913.5h0M981.5 913.5h0M992.5 913.5h0M993.5 913.5h0M996.5 913.5h0M1012.5 913.5h0M1014.5 913.5h0M1016.5 913.5h0M1018.5 913.5h0M1022.5 913.5h0M1023.5 913.5h0M1086.5 913.5h0M1107.5 913.5h0M1118.5 913.5h0M948.5 914.5h0M952.5 914.5h0M957.5 914.5h0M965.5 914.5h0M966.5 914.5h0M967.5 914.5h0M972.5 914.5h0M984.5 914.5h0M991.5 914.5h0M1002.5 914.5h0M1003.5 914.5h0M1008.5 914.5h0M1010.5 914.5h0M1011.5 914.5h0M1012.5 914.5h0M1013.5 914.5h0M1018.5 914.5h0M1019.5 914.5h0M1037.5 914.5h0M1064.5 914.5h0M1070.5 914.5h0M1100.5 914.5h0M1135.5 914.5h0M948.5 915.5h0M949.5 915.5h0M950.5 915.5h0M951.5 915.5h0M952.5 915.5h0M954.5 915.5h0M968.5 915.5h0M979.5 915.5h0M981.5 915.5h0M983.5 915.5h0M987.5 915.5h0M992.5 915.5h0M995.5 915.5h0M997.5 915.5h0M998.5 915.5h0M1003.5 915.5h0M1011.5 915.5h0M1012.5 915.5h0M1017.5 915.5h0M1026.5 915.5h0M1038.5 915.5h0M1074.5 915.5h0M1088.5 915.5h0M1120.5 915.5h0M1132.5 915.5h0M935.5 916.5h0M952.5 916.5h0M953.5 916.5h0M955.5 916.5h0M966.5 916.5h0M972.5 916.5h0M974.5 916.5h0M975.5 916.5h0M976.5 916.5h0M977.5 916.5h0M985.5 916.5h0M990.5 916.5h0M992.5 916.5h0M995.5 916.5h0M998.5 916.5h0M1000.5 916.5h0M1006.5 916.5h0M1010.5 916.5h0M1026.5 916.5h0M1034.5 916.5h0M957.5 917.5h0M969.5 917.5h0M971.5 917.5h0M975.5 917.5h0M979.5 917.5h0M985.5 917.5h0M987.5 917.5h0M989.5 917.5h0M992.5 917.5h0M994.5 917.5h0M996.5 917.5h0M998.5 917.5h0M999.5 917.5h0M1002.5 917.5h0M1008.5 917.5h0M1012.5 917.5h0M1014.5 917.5h0M1019.5 917.5h0M1020.5 917.5h0M1033.5 917.5h0M1036.5 917.5h0M1049.5 917.5h0M1054.5 917.5h0M1124.5 917.5h0M937.5 918.5h0M947.5 918.5h0M948.5 918.5h0M954.5 918.5h0M961.5 918.5h0M964.5 918.5h0M966.5 918.5h0M973.5 918.5h0M976.5 918.5h0M978.5 918.5h0M979.5 918.5h0M980.5 918.5h0M981.5 918.5h0M982.5 918.5h0M987.5 918.5h0M991.5 918.5h0M997.5 918.5h0M999.5 918.5h0M1000.5 918.5h0M1002.5 918.5h0M1004.5 918.5h0M1005.5 918.5h0M1009.5 918.5h0M1019.5 918.5h0M1022.5 918.5h0M1024.5 918.5h0M1029.5 918.5h0M1030.5 918.5h0M1040.5 918.5h0M1047.5 918.5h0M1115.5 918.5h0M1134.5 918.5h0M947.5 919.5h0M949.5 919.5h0M951.5 919.5h0M957.5 919.5h0M958.5 919.5h0M962.5 919.5h0M967.5 919.5h0M971.5 919.5h0M976.5 919.5h0M979.5 919.5h0M983.5 919.5h0M985.5 919.5h0M986.5 919.5h0M988.5 919.5h0M991.5 919.5h0M992.5 919.5h0M995.5 919.5h0M996.5 919.5h0M1001.5 919.5h0M1003.5 919.5h0M1004.5 919.5h0M1007.5 919.5h0M1008.5 919.5h0M1017.5 919.5h0M1018.5 919.5h0M1022.5 919.5h0M1025.5 919.5h0M1027.5 919.5h0M1029.5 919.5h0M1032.5 919.5h0M1035.5 919.5h0M1138.5 919.5h0M928.5 920.5h0M930.5 920.5h0M948.5 920.5h0M957.5 920.5h0M958.5 920.5h0M959.5 920.5h0M960.5 920.5h0M967.5 920.5h0M971.5 920.5h0M973.5 920.5h0M974.5 920.5h0M979.5 920.5h0M980.5 920.5h0M982.5 920.5h0M983.5 920.5h0M984.5 920.5h0M986.5 920.5h0M987.5 920.5h0M988.5 920.5h0M990.5 920.5h0M992.5 920.5h0M993.5 920.5h0M994.5 920.5h0M1000.5 920.5h0M1002.5 920.5h0M1006.5 920.5h0M1008.5 920.5h0M1012.5 920.5h0M1020.5 920.5h0M1023.5 920.5h0M1030.5 920.5h0M1031.5 920.5h0M1036.5 920.5h0M1047.5 920.5h0M1061.5 920.5h0M1064.5 920.5h0M1153.5 920.5h0M930.5 921.5h0M933.5 921.5h0M961.5 921.5h0M965.5 921.5h0M970.5 921.5h0M971.5 921.5h0M972.5 921.5h0M973.5 921.5h0M974.5 921.5h0M976.5 921.5h0M980.5 921.5h0M981.5 921.5h0M983.5 921.5h0M985.5 921.5h0M986.5 921.5h0M987.5 921.5h0M988.5 921.5h0M990.5 921.5h0M992.5 921.5h0M994.5 921.5h0M997.5 921.5h0M1002.5 921.5h0M1003.5 921.5h0M1004.5 921.5h0M1006.5 921.5h0M1008.5 921.5h0M1010.5 921.5h0M1013.5 921.5h0M1020.5 921.5h0M1024.5 921.5h0M1025.5 921.5h0M1027.5 921.5h0M1033.5 921.5h0M1036.5 921.5h0M1056.5 921.5h0M1106.5 921.5h0M951.5 922.5h0M955.5 922.5h0M956.5 922.5h0M961.5 922.5h0M963.5 922.5h0M964.5 922.5h0M965.5 922.5h0M970.5 922.5h0M971.5 922.5h0M973.5 922.5h0M974.5 922.5h0M979.5 922.5h0M982.5 922.5h0M983.5 922.5h0M984.5 922.5h0M985.5 922.5h0M986.5 922.5h0M989.5 922.5h0M990.5 922.5h0M995.5 922.5h0M997.5 922.5h0M998.5 922.5h0M1005.5 922.5h0M1007.5 922.5h0M1010.5 922.5h0M1023.5 922.5h0M1024.5 922.5h0M1028.5 922.5h0M1030.5 922.5h0M1034.5 922.5h0M1041.5 922.5h0M1129.5 922.5h0M939.5 923.5h0M947.5 923.5h0M956.5 923.5h0M957.5 923.5h0M958.5 923.5h0M960.5 923.5h0M963.5 923.5h0M968.5 923.5h0M971.5 923.5h0M973.5 923.5h0M974.5 923.5h0M978.5 923.5h0M979.5 923.5h0M980.5 923.5h0M983.5 923.5h0M984.5 923.5h0M985.5 923.5h0M986.5 923.5h0M987.5 923.5h0M988.5 923.5h0M990.5 923.5h0M991.5 923.5h0M992.5 923.5h0M993.5 923.5h0M997.5 923.5h0M998.5 923.5h0M999.5 923.5h0M1001.5 923.5h0M1002.5 923.5h0M1003.5 923.5h0M1005.5 923.5h0M1006.5 923.5h0M1007.5 923.5h0M1009.5 923.5h0M1011.5 923.5h0M1012.5 923.5h0M1016.5 923.5h0M1017.5 923.5h0M1018.5 923.5h0M1019.5 923.5h0M1023.5 923.5h0M1027.5 923.5h0M1030.5 923.5h0M1031.5 923.5h0M1032.5 923.5h0M1035.5 923.5h0M1037.5 923.5h0M1046.5 923.5h0M1117.5 923.5h0M932.5 924.5h0M941.5 924.5h0M945.5 924.5h0M957.5 924.5h0M959.5 924.5h0M965.5 924.5h0M968.5 924.5h0M971.5 924.5h0M972.5 924.5h0M979.5 924.5h0M980.5 924.5h0M981.5 924.5h0M982.5 924.5h0M983.5 924.5h0M985.5 924.5h0M986.5 924.5h0M989.5 924.5h0M991.5 924.5h0M992.5 924.5h0M993.5 924.5h0M995.5 924.5h0M996.5 924.5h0M998.5 924.5h0M1002.5 924.5h0M1003.5 924.5h0M1006.5 924.5h0M1007.5 924.5h0M1010.5 924.5h0M1011.5 924.5h0M1013.5 924.5h0M1015.5 924.5h0M1016.5 924.5h0M1018.5 924.5h0M1024.5 924.5h0M1028.5 924.5h0M1029.5 924.5h0M1030.5 924.5h0M1031.5 924.5h0M1033.5 924.5h0M1039.5 924.5h0M1040.5 924.5h0M1058.5 924.5h0M1065.5 924.5h0M1170.5 924.5h0M921.5 925.5h0M926.5 925.5h0M929.5 925.5h0M936.5 925.5h0M945.5 925.5h0M950.5 925.5h0M956.5 925.5h0M959.5 925.5h0M960.5 925.5h0M966.5 925.5h0M967.5 925.5h0M970.5 925.5h0M972.5 925.5h0M973.5 925.5h0M974.5 925.5h0M977.5 925.5h0M980.5 925.5h0M981.5 925.5h0M983.5 925.5h0M984.5 925.5h0M985.5 925.5h0M986.5 925.5h0M989.5 925.5h0M990.5 925.5h0M991.5 925.5h0M994.5 925.5h0M995.5 925.5h0M998.5 925.5h0M1000.5 925.5h0M1001.5 925.5h0M1002.5 925.5h0M1003.5 925.5h0M1005.5 925.5h0M1007.5 925.5h0M1019.5 925.5h0M1020.5 925.5h0M1023.5 925.5h0M1024.5 925.5h0M1026.5 925.5h0M1046.5 925.5h0M1075.5 925.5h0M1096.5 925.5h0M1128.5 925.5h0M922.5 926.5h0M941.5 926.5h0M942.5 926.5h0M943.5 926.5h0M962.5 926.5h0M967.5 926.5h0M968.5 926.5h0M976.5 926.5h0M979.5 926.5h0M980.5 926.5h0M982.5 926.5h0M983.5 926.5h0M987.5 926.5h0M988.5 926.5h0M991.5 926.5h0M992.5 926.5h0M996.5 926.5h0M997.5 926.5h0M998.5 926.5h0M1000.5 926.5h0M1004.5 926.5h0M1005.5 926.5h0M1006.5 926.5h0M1008.5 926.5h0M1009.5 926.5h0M1011.5 926.5h0M1014.5 926.5h0M1015.5 926.5h0M1022.5 926.5h0M1029.5 926.5h0M1035.5 926.5h0M1038.5 926.5h0M1039.5 926.5h0M1103.5 926.5h0M1104.5 926.5h0M1135.5 926.5h0M1136.5 926.5h0M1141.5 926.5h0M924.5 927.5h0M934.5 927.5h0M940.5 927.5h0M948.5 927.5h0M954.5 927.5h0M958.5 927.5h0M961.5 927.5h0M962.5 927.5h0M966.5 927.5h0M969.5 927.5h0M971.5 927.5h0M973.5 927.5h0M975.5 927.5h0M977.5 927.5h0M978.5 927.5h0M979.5 927.5h0M981.5 927.5h0M982.5 927.5h0M983.5 927.5h0M985.5 927.5h0M987.5 927.5h0M988.5 927.5h0M991.5 927.5h0M992.5 927.5h0M997.5 927.5h0M999.5 927.5h0M1000.5 927.5h0M1002.5 927.5h0M1003.5 927.5h0M1007.5 927.5h0M1009.5 927.5h0M1010.5 927.5h0M1011.5 927.5h0M1013.5 927.5h0M1017.5 927.5h0M1022.5 927.5h0M1025.5 927.5h0M1028.5 927.5h0M1030.5 927.5h0M1031.5 927.5h0M1032.5 927.5h0M1048.5 927.5h0M1106.5 927.5h0M1110.5 927.5h0M932.5 928.5h0M935.5 928.5h0M942.5 928.5h0M943.5 928.5h0M950.5 928.5h0M951.5 928.5h0M955.5 928.5h0M957.5 928.5h0M958.5 928.5h0M961.5 928.5h0M965.5 928.5h0M969.5 928.5h0M974.5 928.5h0M976.5 928.5h0M977.5 928.5h0M978.5 928.5h0M979.5 928.5h0M980.5 928.5h0M981.5 928.5h0M985.5 928.5h0M986.5 928.5h0M987.5 928.5h0M991.5 928.5h0M992.5 928.5h0M994.5 928.5h0M996.5 928.5h0M997.5 928.5h0M998.5 928.5h0M999.5 928.5h0M1005.5 928.5h0M1006.5 928.5h0M1008.5 928.5h0M1010.5 928.5h0M1014.5 928.5h0M1016.5 928.5h0M1019.5 928.5h0M1021.5 928.5h0M1022.5 928.5h0M1026.5 928.5h0M1028.5 928.5h0M1035.5 928.5h0M1047.5 928.5h0M1100.5 928.5h0M1151.5 928.5h0M930.5 929.5h0M937.5 929.5h0M938.5 929.5h0M939.5 929.5h0M941.5 929.5h0M945.5 929.5h0M951.5 929.5h0M952.5 929.5h0M953.5 929.5h0M955.5 929.5h0M959.5 929.5h0M961.5 929.5h0M962.5 929.5h0M965.5 929.5h0M966.5 929.5h0M967.5 929.5h0M968.5 929.5h0M973.5 929.5h0M978.5 929.5h0M979.5 929.5h0M980.5 929.5h0M981.5 929.5h0M982.5 929.5h0M983.5 929.5h0M984.5 929.5h0M985.5 929.5h0M987.5 929.5h0M988.5 929.5h0M990.5 929.5h0M991.5 929.5h0M993.5 929.5h0M994.5 929.5h0M995.5 929.5h0M998.5 929.5h0M1002.5 929.5h0M1005.5 929.5h0M1006.5 929.5h0M1007.5 929.5h0M1008.5 929.5h0M1010.5 929.5h0M1011.5 929.5h0M1012.5 929.5h0M1016.5 929.5h0M1018.5 929.5h0M1021.5 929.5h0M1032.5 929.5h0M1033.5 929.5h0M1098.5 929.5h0M1121.5 929.5h0M921.5 930.5h0M933.5 930.5h0M939.5 930.5h0M947.5 930.5h0M953.5 930.5h0M958.5 930.5h0M960.5 930.5h0M962.5 930.5h0M964.5 930.5h0M966.5 930.5h0M967.5 930.5h0M968.5 930.5h0M969.5 930.5h0M970.5 930.5h0M971.5 930.5h0M972.5 930.5h0M973.5 930.5h0M974.5 930.5h0M979.5 930.5h0M980.5 930.5h0M981.5 930.5h0M982.5 930.5h0M984.5 930.5h0M987.5 930.5h0M990.5 930.5h0M991.5 930.5h0M993.5 930.5h0M994.5 930.5h0M995.5 930.5h0M996.5 930.5h0M998.5 930.5h0M999.5 930.5h0M1000.5 930.5h0M1003.5 930.5h0M1004.5 930.5h0M1008.5 930.5h0M1009.5 930.5h0M1010.5 930.5h0M1013.5 930.5h0M1019.5 930.5h0M1023.5 930.5h0M1024.5 930.5h0M1026.5 930.5h0M1030.5 930.5h0M1038.5 930.5h0M1046.5 930.5h0M1048.5 930.5h0M1083.5 930.5h0M1109.5 930.5h0M912.5 931.5h0M932.5 931.5h0M936.5 931.5h0M940.5 931.5h0M941.5 931.5h0M943.5 931.5h0M952.5 931.5h0M955.5 931.5h0M956.5 931.5h0M959.5 931.5h0M962.5 931.5h0M963.5 931.5h0M964.5 931.5h0M965.5 931.5h0M967.5 931.5h0M968.5 931.5h0M969.5 931.5h0M971.5 931.5h0M975.5 931.5h0M976.5 931.5h0M977.5 931.5h0M980.5 931.5h0M981.5 931.5h0M982.5 931.5h0M983.5 931.5h0M984.5 931.5h0M986.5 931.5h0M989.5 931.5h0M990.5 931.5h0M991.5 931.5h0M996.5 931.5h0M1000.5 931.5h0M1001.5 931.5h0M1003.5 931.5h0M1006.5 931.5h0M1007.5 931.5h0M1008.5 931.5h0M1009.5 931.5h0M1010.5 931.5h0M1011.5 931.5h0M1013.5 931.5h0M1014.5 931.5h0M1015.5 931.5h0M1018.5 931.5h0M1019.5 931.5h0M1021.5 931.5h0M1023.5 931.5h0M1026.5 931.5h0M1040.5 931.5h0M1041.5 931.5h0M1045.5 931.5h0M1090.5 931.5h0M1101.5 931.5h0M1106.5 931.5h0M1118.5 931.5h0M1124.5 931.5h0M925.5 932.5h0M926.5 932.5h0M930.5 932.5h0M934.5 932.5h0M937.5 932.5h0M946.5 932.5h0M947.5 932.5h0M952.5 932.5h0M963.5 932.5h0M965.5 932.5h0M966.5 932.5h0M967.5 932.5h0M969.5 932.5h0M975.5 932.5h0M977.5 932.5h0M980.5 932.5h0M981.5 932.5h0M984.5 932.5h0M985.5 932.5h0M987.5 932.5h0M988.5 932.5h0M990.5 932.5h0M991.5 932.5h0M993.5 932.5h0M994.5 932.5h0M996.5 932.5h0M997.5 932.5h0M999.5 932.5h0M1000.5 932.5h0M1001.5 932.5h0M1002.5 932.5h0M1003.5 932.5h0M1004.5 932.5h0M1007.5 932.5h0M1010.5 932.5h0M1011.5 932.5h0M1012.5 932.5h0M1013.5 932.5h0M1015.5 932.5h0M1017.5 932.5h0M1019.5 932.5h0M1020.5 932.5h0M1023.5 932.5h0M1026.5 932.5h0M1032.5 932.5h0M1039.5 932.5h0M1042.5 932.5h0M1045.5 932.5h0M1057.5 932.5h0M1084.5 932.5h0M908.5 933.5h0M926.5 933.5h0M933.5 933.5h0M935.5 933.5h0M937.5 933.5h0M939.5 933.5h0M940.5 933.5h0M947.5 933.5h0M949.5 933.5h0M951.5 933.5h0M953.5 933.5h0M957.5 933.5h0M959.5 933.5h0M960.5 933.5h0M961.5 933.5h0M962.5 933.5h0M963.5 933.5h0M967.5 933.5h0M968.5 933.5h0M973.5 933.5h0M974.5 933.5h0M975.5 933.5h0M976.5 933.5h0M977.5 933.5h0M978.5 933.5h0M980.5 933.5h0M981.5 933.5h0M982.5 933.5h0M983.5 933.5h0M985.5 933.5h0M986.5 933.5h0M987.5 933.5h0M988.5 933.5h0M990.5 933.5h0M991.5 933.5h0M992.5 933.5h0M994.5 933.5h0M995.5 933.5h0M996.5 933.5h0M998.5 933.5h0M999.5 933.5h0M1000.5 933.5h0M1001.5 933.5h0M1003.5 933.5h0M1004.5 933.5h0M1006.5 933.5h0M1007.5 933.5h0M1008.5 933.5h0M1012.5 933.5h0M1013.5 933.5h0M1014.5 933.5h0M1016.5 933.5h0M1021.5 933.5h0M1022.5 933.5h0M1025.5 933.5h0M1028.5 933.5h0M1033.5 933.5h0M1034.5 933.5h0M1035.5 933.5h0M1037.5 933.5h0M1049.5 933.5h0M1114.5 933.5h0M1139.5 933.5h0M920.5 934.5h0M931.5 934.5h0M937.5 934.5h0M943.5 934.5h0M945.5 934.5h0M946.5 934.5h0M949.5 934.5h0M950.5 934.5h0M951.5 934.5h0M952.5 934.5h0M953.5 934.5h0M955.5 934.5h0M956.5 934.5h0M959.5 934.5h0M961.5 934.5h0M962.5 934.5h0M964.5 934.5h0M965.5 934.5h0M966.5 934.5h0M967.5 934.5h0M970.5 934.5h0M972.5 934.5h0M973.5 934.5h0M979.5 934.5h0M981.5 934.5h0M983.5 934.5h0M984.5 934.5h0M986.5 934.5h0M987.5 934.5h0M988.5 934.5h0M989.5 934.5h0M990.5 934.5h0M991.5 934.5h0M996.5 934.5h0M998.5 934.5h0M999.5 934.5h0M1001.5 934.5h0M1002.5 934.5h0M1006.5 934.5h0M1009.5 934.5h0M1011.5 934.5h0M1013.5 934.5h0M1015.5 934.5h0M1018.5 934.5h0M1019.5 934.5h0M1020.5 934.5h0M1022.5 934.5h0M1025.5 934.5h0M1027.5 934.5h0M1030.5 934.5h0M1046.5 934.5h0M1049.5 934.5h0M1053.5 934.5h0M1083.5 934.5h0M913.5 935.5h0M942.5 935.5h0M945.5 935.5h0M948.5 935.5h0M956.5 935.5h0M957.5 935.5h0M958.5 935.5h0M959.5 935.5h0M963.5 935.5h0M965.5 935.5h0M971.5 935.5h0M972.5 935.5h0M974.5 935.5h0M975.5 935.5h0M976.5 935.5h0M977.5 935.5h0M978.5 935.5h0M980.5 935.5h0M981.5 935.5h0M982.5 935.5h0M983.5 935.5h0M984.5 935.5h0M986.5 935.5h0M987.5 935.5h0M988.5 935.5h0M989.5 935.5h0M993.5 935.5h0M994.5 935.5h0M995.5 935.5h0M996.5 935.5h0M998.5 935.5h0M999.5 935.5h0M1001.5 935.5h0M1004.5 935.5h0M1005.5 935.5h0M1006.5 935.5h0M1007.5 935.5h0M1008.5 935.5h0M1009.5 935.5h0M1011.5 935.5h0M1018.5 935.5h0M1020.5 935.5h0M1023.5 935.5h0M1026.5 935.5h0M1027.5 935.5h0M1029.5 935.5h0M1030.5 935.5h0M1032.5 935.5h0M1038.5 935.5h0M1042.5 935.5h0M1050.5 935.5h0M1081.5 935.5h0M1125.5 935.5h0M928.5 936.5h0M941.5 936.5h0M942.5 936.5h0M943.5 936.5h0M947.5 936.5h0M951.5 936.5h0M952.5 936.5h0M953.5 936.5h0M954.5 936.5h0M958.5 936.5h0M960.5 936.5h0M961.5 936.5h0M963.5 936.5h0M964.5 936.5h0M966.5 936.5h0M967.5 936.5h0M968.5 936.5h0M970.5 936.5h0M971.5 936.5h0M972.5 936.5h0M973.5 936.5h0M974.5 936.5h0M976.5 936.5h0M978.5 936.5h0M980.5 936.5h0M981.5 936.5h0M982.5 936.5h0M983.5 936.5h0M986.5 936.5h0M987.5 936.5h0M988.5 936.5h0M989.5 936.5h0M990.5 936.5h0M992.5 936.5h0M994.5 936.5h0M997.5 936.5h0M998.5 936.5h0M1000.5 936.5h0M1001.5 936.5h0M1002.5 936.5h0M1004.5 936.5h0M1007.5 936.5h0M1009.5 936.5h0M1010.5 936.5h0M1015.5 936.5h0M1019.5 936.5h0M1022.5 936.5h0M1024.5 936.5h0M1028.5 936.5h0M1038.5 936.5h0M933.5 937.5h0M934.5 937.5h0M944.5 937.5h0M946.5 937.5h0M947.5 937.5h0M950.5 937.5h0M954.5 937.5h0M955.5 937.5h0M956.5 937.5h0M957.5 937.5h0M960.5 937.5h0M962.5 937.5h0M963.5 937.5h0M964.5 937.5h0M965.5 937.5h0M968.5 937.5h0M969.5 937.5h0M973.5 937.5h0M974.5 937.5h0M975.5 937.5h0M977.5 937.5h0M979.5 937.5h0M981.5 937.5h0M982.5 937.5h0M983.5 937.5h0M984.5 937.5h0M985.5 937.5h0M986.5 937.5h0M987.5 937.5h0M988.5 937.5h0M990.5 937.5h0M992.5 937.5h0M993.5 937.5h0M995.5 937.5h0M996.5 937.5h0M997.5 937.5h0M998.5 937.5h0M999.5 937.5h0M1000.5 937.5h0M1001.5 937.5h0M1002.5 937.5h0M1003.5 937.5h0M1004.5 937.5h0M1006.5 937.5h0M1007.5 937.5h0M1010.5 937.5h0M1011.5 937.5h0M1013.5 937.5h0M1014.5 937.5h0M1016.5 937.5h0M1018.5 937.5h0M1020.5 937.5h0M1021.5 937.5h0M1022.5 937.5h0M1026.5 937.5h0M1030.5 937.5h0M1037.5 937.5h0M1038.5 937.5h0M1040.5 937.5h0M921.5 938.5h0M945.5 938.5h0M946.5 938.5h0M948.5 938.5h0M951.5 938.5h0M954.5 938.5h0M955.5 938.5h0M957.5 938.5h0M964.5 938.5h0M965.5 938.5h0M968.5 938.5h0M970.5 938.5h0M971.5 938.5h0M975.5 938.5h0M976.5 938.5h0M977.5 938.5h0M978.5 938.5h0M980.5 938.5h0M984.5 938.5h0M985.5 938.5h0M987.5 938.5h0M989.5 938.5h0M990.5 938.5h0M991.5 938.5h0M992.5 938.5h0M995.5 938.5h0M996.5 938.5h0M997.5 938.5h0M998.5 938.5h0M1001.5 938.5h0M1004.5 938.5h0M1007.5 938.5h0M1008.5 938.5h0M1010.5 938.5h0M1014.5 938.5h0M1015.5 938.5h0M1017.5 938.5h0M1022.5 938.5h0M1023.5 938.5h0M1025.5 938.5h0M1041.5 938.5h0M1048.5 938.5h0M1050.5 938.5h0M1051.5 938.5h0M1054.5 938.5h0M918.5 939.5h0M935.5 939.5h0M937.5 939.5h0M943.5 939.5h0M949.5 939.5h0M951.5 939.5h0M956.5 939.5h0M957.5 939.5h0M958.5 939.5h0M959.5 939.5h0M960.5 939.5h0M963.5 939.5h0M965.5 939.5h0M968.5 939.5h0M969.5 939.5h0M970.5 939.5h0M971.5 939.5h0M972.5 939.5h0M977.5 939.5h0M979.5 939.5h0M980.5 939.5h0M981.5 939.5h0M982.5 939.5h0M983.5 939.5h0M984.5 939.5h0M987.5 939.5h0M988.5 939.5h0M989.5 939.5h0M990.5 939.5h0M991.5 939.5h0M994.5 939.5h0M999.5 939.5h0M1000.5 939.5h0M1003.5 939.5h0M1006.5 939.5h0M1007.5 939.5h0M1008.5 939.5h0M1009.5 939.5h0M1013.5 939.5h0M1014.5 939.5h0M1016.5 939.5h0M1028.5 939.5h0M1030.5 939.5h0M1031.5 939.5h0M1037.5 939.5h0M1069.5 939.5h0M1077.5 939.5h0M1078.5 939.5h0M1111.5 939.5h0M903.5 940.5h0M919.5 940.5h0M928.5 940.5h0M932.5 940.5h0M942.5 940.5h0M944.5 940.5h0M945.5 940.5h0M946.5 940.5h0M953.5 940.5h0M954.5 940.5h0M959.5 940.5h0M961.5 940.5h0M962.5 940.5h0M964.5 940.5h0M965.5 940.5h0M969.5 940.5h0M970.5 940.5h0M971.5 940.5h0M972.5 940.5h0M973.5 940.5h0M974.5 940.5h0M975.5 940.5h0M976.5 940.5h0M977.5 940.5h0M979.5 940.5h0M981.5 940.5h0M983.5 940.5h0M984.5 940.5h0M985.5 940.5h0M987.5 940.5h0M988.5 940.5h0M992.5 940.5h0M993.5 940.5h0M994.5 940.5h0M995.5 940.5h0M996.5 940.5h0M998.5 940.5h0M1002.5 940.5h0M1003.5 940.5h0M1006.5 940.5h0M1007.5 940.5h0M1008.5 940.5h0M1009.5 940.5h0M1013.5 940.5h0M1014.5 940.5h0M1017.5 940.5h0M1019.5 940.5h0M1028.5 940.5h0M1030.5 940.5h0M1032.5 940.5h0M1041.5 940.5h0M1042.5 940.5h0M1048.5 940.5h0M1055.5 940.5h0M1100.5 940.5h0M925.5 941.5h0M928.5 941.5h0M941.5 941.5h0M950.5 941.5h0M951.5 941.5h0M954.5 941.5h0M955.5 941.5h0M957.5 941.5h0M958.5 941.5h0M959.5 941.5h0M960.5 941.5h0M961.5 941.5h0M963.5 941.5h0M966.5 941.5h0M967.5 941.5h0M968.5 941.5h0M969.5 941.5h0M970.5 941.5h0M972.5 941.5h0M973.5 941.5h0M974.5 941.5h0M975.5 941.5h0M976.5 941.5h0M978.5 941.5h0M979.5 941.5h0M980.5 941.5h0M983.5 941.5h0M984.5 941.5h0M986.5 941.5h0M987.5 941.5h0M989.5 941.5h0M991.5 941.5h0M992.5 941.5h0M993.5 941.5h0M994.5 941.5h0M996.5 941.5h0M1001.5 941.5h0M1002.5 941.5h0M1004.5 941.5h0M1005.5 941.5h0M1008.5 941.5h0M1010.5 941.5h0M1013.5 941.5h0M1014.5 941.5h0M1015.5 941.5h0M1018.5 941.5h0M1020.5 941.5h0M1022.5 941.5h0M1028.5 941.5h0M1029.5 941.5h0M1030.5 941.5h0M1036.5 941.5h0M1050.5 941.5h0M1051.5 941.5h0M1056.5 941.5h0M1063.5 941.5h0M932.5 942.5h0M934.5 942.5h0M937.5 942.5h0M939.5 942.5h0M944.5 942.5h0M947.5 942.5h0M948.5 942.5h0M949.5 942.5h0M951.5 942.5h0M953.5 942.5h0M954.5 942.5h0M956.5 942.5h0M958.5 942.5h0M962.5 942.5h0M965.5 942.5h0M967.5 942.5h0M970.5 942.5h0M971.5 942.5h0M973.5 942.5h0M975.5 942.5h0M977.5 942.5h0M980.5 942.5h0M981.5 942.5h0M983.5 942.5h0M984.5 942.5h0M986.5 942.5h0M987.5 942.5h0M988.5 942.5h0M990.5 942.5h0M993.5 942.5h0M996.5 942.5h0M1000.5 942.5h0M1003.5 942.5h0M1004.5 942.5h0M1006.5 942.5h0M1010.5 942.5h0M1011.5 942.5h0M1013.5 942.5h0M1015.5 942.5h0M1016.5 942.5h0M1018.5 942.5h0M1019.5 942.5h0M1024.5 942.5h0M1025.5 942.5h0M1026.5 942.5h0M1033.5 942.5h0M1038.5 942.5h0M1059.5 942.5h0M1063.5 942.5h0M943.5 943.5h0M949.5 943.5h0M952.5 943.5h0M953.5 943.5h0M958.5 943.5h0M961.5 943.5h0M963.5 943.5h0M966.5 943.5h0M968.5 943.5h0M969.5 943.5h0M971.5 943.5h0M972.5 943.5h0M975.5 943.5h0M976.5 943.5h0M979.5 943.5h0M980.5 943.5h0M981.5 943.5h0M982.5 943.5h0M983.5 943.5h0M984.5 943.5h0M985.5 943.5h0M987.5 943.5h0M988.5 943.5h0M989.5 943.5h0M990.5 943.5h0M991.5 943.5h0M992.5 943.5h0M993.5 943.5h0M994.5 943.5h0M996.5 943.5h0M999.5 943.5h0M1000.5 943.5h0M1003.5 943.5h0M1004.5 943.5h0M1005.5 943.5h0M1007.5 943.5h0M1010.5 943.5h0M1011.5 943.5h0M1012.5 943.5h0M1021.5 943.5h0M1023.5 943.5h0M1024.5 943.5h0M1029.5 943.5h0M1030.5 943.5h0M1042.5 943.5h0M1143.5 943.5h0M901.5 944.5h0M913.5 944.5h0M927.5 944.5h0M936.5 944.5h0M939.5 944.5h0M940.5 944.5h0M941.5 944.5h0M944.5 944.5h0M945.5 944.5h0M954.5 944.5h0M956.5 944.5h0M960.5 944.5h0M961.5 944.5h0M962.5 944.5h0M963.5 944.5h0M965.5 944.5h0M968.5 944.5h0M969.5 944.5h0M972.5 944.5h0M973.5 944.5h0M975.5 944.5h0M979.5 944.5h0M980.5 944.5h0M981.5 944.5h0M983.5 944.5h0M985.5 944.5h0M986.5 944.5h0M987.5 944.5h0M988.5 944.5h0M989.5 944.5h0M990.5 944.5h0M993.5 944.5h0M994.5 944.5h0M997.5 944.5h0M999.5 944.5h0M1001.5 944.5h0M1002.5 944.5h0M1003.5 944.5h0M1004.5 944.5h0M1005.5 944.5h0M1008.5 944.5h0M1009.5 944.5h0M1011.5 944.5h0M1012.5 944.5h0M1014.5 944.5h0M1016.5 944.5h0M1017.5 944.5h0M1019.5 944.5h0M1020.5 944.5h0M1022.5 944.5h0M1028.5 944.5h0M1030.5 944.5h0M1032.5 944.5h0M1039.5 944.5h0M1053.5 944.5h0M930.5 945.5h0M941.5 945.5h0M946.5 945.5h0M947.5 945.5h0M949.5 945.5h0M951.5 945.5h0M952.5 945.5h0M954.5 945.5h0M956.5 945.5h0M960.5 945.5h0M962.5 945.5h0M965.5 945.5h0M966.5 945.5h0M969.5 945.5h0M972.5 945.5h0M977.5 945.5h0M978.5 945.5h0M979.5 945.5h0M981.5 945.5h0M982.5 945.5h0M983.5 945.5h0M984.5 945.5h0M985.5 945.5h0M986.5 945.5h0M988.5 945.5h0M994.5 945.5h0M997.5 945.5h0M999.5 945.5h0M1001.5 945.5h0M1004.5 945.5h0M1007.5 945.5h0M1010.5 945.5h0M1012.5 945.5h0M1013.5 945.5h0M1014.5 945.5h0M1018.5 945.5h0M1022.5 945.5h0M1023.5 945.5h0M1025.5 945.5h0M1031.5 945.5h0M1138.5 945.5h0M929.5 946.5h0M932.5 946.5h0M933.5 946.5h0M934.5 946.5h0M936.5 946.5h0M943.5 946.5h0M953.5 946.5h0M954.5 946.5h0M955.5 946.5h0M957.5 946.5h0M960.5 946.5h0M962.5 946.5h0M963.5 946.5h0M965.5 946.5h0M966.5 946.5h0M967.5 946.5h0M970.5 946.5h0M971.5 946.5h0M973.5 946.5h0M975.5 946.5h0M976.5 946.5h0M977.5 946.5h0M978.5 946.5h0M980.5 946.5h0M981.5 946.5h0M982.5 946.5h0M984.5 946.5h0M985.5 946.5h0M986.5 946.5h0M988.5 946.5h0M989.5 946.5h0M990.5 946.5h0M991.5 946.5h0M992.5 946.5h0M993.5 946.5h0M994.5 946.5h0M995.5 946.5h0M997.5 946.5h0M998.5 946.5h0M1000.5 946.5h0M1001.5 946.5h0M1006.5 946.5h0M1007.5 946.5h0M1008.5 946.5h0M1013.5 946.5h0M1014.5 946.5h0M1016.5 946.5h0M1019.5 946.5h0M1020.5 946.5h0M1022.5 946.5h0M1025.5 946.5h0M1035.5 946.5h0M1037.5 946.5h0M1038.5 946.5h0M1167.5 946.5h0M918.5 947.5h0M936.5 947.5h0M946.5 947.5h0M950.5 947.5h0M951.5 947.5h0M952.5 947.5h0M956.5 947.5h0M958.5 947.5h0M959.5 947.5h0M960.5 947.5h0M961.5 947.5h0M962.5 947.5h0M964.5 947.5h0M965.5 947.5h0M966.5 947.5h0M967.5 947.5h0M968.5 947.5h0M971.5 947.5h0M974.5 947.5h0M975.5 947.5h0M976.5 947.5h0M978.5 947.5h0M980.5 947.5h0M982.5 947.5h0M983.5 947.5h0M984.5 947.5h0M985.5 947.5h0M987.5 947.5h0M988.5 947.5h0M990.5 947.5h0M992.5 947.5h0M993.5 947.5h0M995.5 947.5h0M996.5 947.5h0M1001.5 947.5h0M1002.5 947.5h0M1003.5 947.5h0M1004.5 947.5h0M1005.5 947.5h0M1006.5 947.5h0M1013.5 947.5h0M1015.5 947.5h0M1017.5 947.5h0M1019.5 947.5h0M1020.5 947.5h0M1025.5 947.5h0M1030.5 947.5h0M1035.5 947.5h0M1043.5 947.5h0M1049.5 947.5h0M1052.5 947.5h0M1067.5 947.5h0M1114.5 947.5h0M929.5 948.5h0M930.5 948.5h0M932.5 948.5h0M946.5 948.5h0M947.5 948.5h0M950.5 948.5h0M953.5 948.5h0M958.5 948.5h0M959.5 948.5h0M966.5 948.5h0M967.5 948.5h0M968.5 948.5h0M969.5 948.5h0M971.5 948.5h0M972.5 948.5h0M973.5 948.5h0M977.5 948.5h0M978.5 948.5h0M979.5 948.5h0M980.5 948.5h0M981.5 948.5h0M982.5 948.5h0M983.5 948.5h0M985.5 948.5h0M986.5 948.5h0M987.5 948.5h0M990.5 948.5h0M991.5 948.5h0M992.5 948.5h0M994.5 948.5h0M995.5 948.5h0M997.5 948.5h0M998.5 948.5h0M1000.5 948.5h0M1001.5 948.5h0M1004.5 948.5h0M1005.5 948.5h0M1008.5 948.5h0M1012.5 948.5h0M1013.5 948.5h0M1015.5 948.5h0M1033.5 948.5h0M1034.5 948.5h0M1053.5 948.5h0M1086.5 948.5h0M1097.5 948.5h0M1136.5 948.5h0M1158.5 948.5h0M928.5 949.5h0M935.5 949.5h0M937.5 949.5h0M938.5 949.5h0M939.5 949.5h0M943.5 949.5h0M945.5 949.5h0M946.5 949.5h0M950.5 949.5h0M951.5 949.5h0M952.5 949.5h0M953.5 949.5h0M954.5 949.5h0M960.5 949.5h0M962.5 949.5h0M963.5 949.5h0M967.5 949.5h0M969.5 949.5h0M970.5 949.5h0M971.5 949.5h0M972.5 949.5h0M975.5 949.5h0M976.5 949.5h0M977.5 949.5h0M978.5 949.5h0M980.5 949.5h0M981.5 949.5h0M982.5 949.5h0M983.5 949.5h0M984.5 949.5h0M986.5 949.5h0M988.5 949.5h0M989.5 949.5h0M990.5 949.5h0M994.5 949.5h0M996.5 949.5h0M997.5 949.5h0M998.5 949.5h0M1009.5 949.5h0M1011.5 949.5h0M1012.5 949.5h0M1018.5 949.5h0M1020.5 949.5h0M1028.5 949.5h0M1029.5 949.5h0M1031.5 949.5h0M1034.5 949.5h0M1049.5 949.5h0M1129.5 949.5h0M934.5 950.5h0M936.5 950.5h0M937.5 950.5h0M948.5 950.5h0M949.5 950.5h0M950.5 950.5h0M954.5 950.5h0M955.5 950.5h0M959.5 950.5h0M960.5 950.5h0M963.5 950.5h0M968.5 950.5h0M973.5 950.5h0M974.5 950.5h0M975.5 950.5h0M976.5 950.5h0M977.5 950.5h0M978.5 950.5h0M979.5 950.5h0M981.5 950.5h0M982.5 950.5h0M987.5 950.5h0M988.5 950.5h0M989.5 950.5h0M993.5 950.5h0M995.5 950.5h0M996.5 950.5h0M997.5 950.5h0M998.5 950.5h0M999.5 950.5h0M1002.5 950.5h0M1005.5 950.5h0M1009.5 950.5h0M1010.5 950.5h0M1011.5 950.5h0M1017.5 950.5h0M1020.5 950.5h0M1023.5 950.5h0M1031.5 950.5h0M1032.5 950.5h0M1035.5 950.5h0M1036.5 950.5h0M1072.5 950.5h0M922.5 951.5h0M923.5 951.5h0M937.5 951.5h0M940.5 951.5h0M941.5 951.5h0M944.5 951.5h0M956.5 951.5h0M958.5 951.5h0M962.5 951.5h0M963.5 951.5h0M966.5 951.5h0M967.5 951.5h0M970.5 951.5h0M971.5 951.5h0M973.5 951.5h0M974.5 951.5h0M977.5 951.5h0M980.5 951.5h0M981.5 951.5h0M982.5 951.5h0M983.5 951.5h0M985.5 951.5h0M986.5 951.5h0M987.5 951.5h0M988.5 951.5h0M991.5 951.5h0M992.5 951.5h0M994.5 951.5h0M995.5 951.5h0M996.5 951.5h0M997.5 951.5h0M998.5 951.5h0M999.5 951.5h0M1003.5 951.5h0M1006.5 951.5h0M1010.5 951.5h0M1020.5 951.5h0M1023.5 951.5h0M1029.5 951.5h0M1030.5 951.5h0M1031.5 951.5h0M1035.5 951.5h0M1041.5 951.5h0M1043.5 951.5h0M1118.5 951.5h0M916.5 952.5h0M945.5 952.5h0M947.5 952.5h0M948.5 952.5h0M950.5 952.5h0M955.5 952.5h0M958.5 952.5h0M961.5 952.5h0M963.5 952.5h0M964.5 952.5h0M965.5 952.5h0M968.5 952.5h0M969.5 952.5h0M970.5 952.5h0M971.5 952.5h0M972.5 952.5h0M974.5 952.5h0M975.5 952.5h0M977.5 952.5h0M978.5 952.5h0M979.5 952.5h0M980.5 952.5h0M982.5 952.5h0M984.5 952.5h0M985.5 952.5h0M988.5 952.5h0M990.5 952.5h0M993.5 952.5h0M997.5 952.5h0M999.5 952.5h0M1001.5 952.5h0M1002.5 952.5h0M1004.5 952.5h0M1005.5 952.5h0M1008.5 952.5h0M1009.5 952.5h0M1010.5 952.5h0M1011.5 952.5h0M1012.5 952.5h0M1014.5 952.5h0M1023.5 952.5h0M1026.5 952.5h0M1030.5 952.5h0M1057.5 952.5h0M937.5 953.5h0M941.5 953.5h0M945.5 953.5h0M958.5 953.5h0M960.5 953.5h0M961.5 953.5h0M963.5 953.5h0M966.5 953.5h0M969.5 953.5h0M970.5 953.5h0M973.5 953.5h0M974.5 953.5h0M975.5 953.5h0M976.5 953.5h0M977.5 953.5h0M982.5 953.5h0M988.5 953.5h0M989.5 953.5h0M990.5 953.5h0M991.5 953.5h0M992.5 953.5h0M994.5 953.5h0M996.5 953.5h0M997.5 953.5h0M999.5 953.5h0M1001.5 953.5h0M1003.5 953.5h0M1015.5 953.5h0M1022.5 953.5h0M1032.5 953.5h0M1039.5 953.5h0M1048.5 953.5h0M1050.5 953.5h0M1085.5 953.5h0M922.5 954.5h0M930.5 954.5h0M937.5 954.5h0M953.5 954.5h0M960.5 954.5h0M962.5 954.5h0M963.5 954.5h0M965.5 954.5h0M967.5 954.5h0M970.5 954.5h0M972.5 954.5h0M973.5 954.5h0M975.5 954.5h0M976.5 954.5h0M977.5 954.5h0M978.5 954.5h0M979.5 954.5h0M980.5 954.5h0M984.5 954.5h0M986.5 954.5h0M990.5 954.5h0M996.5 954.5h0M997.5 954.5h0M998.5 954.5h0M1002.5 954.5h0M1003.5 954.5h0M1005.5 954.5h0M1006.5 954.5h0M1007.5 954.5h0M1009.5 954.5h0M1010.5 954.5h0M1012.5 954.5h0M1015.5 954.5h0M1026.5 954.5h0M1053.5 954.5h0M1089.5 954.5h0M903.5 955.5h0M910.5 955.5h0M926.5 955.5h0M937.5 955.5h0M940.5 955.5h0M941.5 955.5h0M942.5 955.5h0M944.5 955.5h0M950.5 955.5h0M957.5 955.5h0M958.5 955.5h0M965.5 955.5h0M966.5 955.5h0M969.5 955.5h0M970.5 955.5h0M973.5 955.5h0M975.5 955.5h0M976.5 955.5h0M978.5 955.5h0M982.5 955.5h0M983.5 955.5h0M984.5 955.5h0M985.5 955.5h0M986.5 955.5h0M987.5 955.5h0M988.5 955.5h0M992.5 955.5h0M994.5 955.5h0M995.5 955.5h0M998.5 955.5h0M1000.5 955.5h0M1004.5 955.5h0M1005.5 955.5h0M1017.5 955.5h0M1018.5 955.5h0M1021.5 955.5h0M1022.5 955.5h0M1023.5 955.5h0M1024.5 955.5h0M1026.5 955.5h0M1027.5 955.5h0M1029.5 955.5h0M1030.5 955.5h0M1032.5 955.5h0M1033.5 955.5h0M1036.5 955.5h0M1046.5 955.5h0M1062.5 955.5h0M935.5 956.5h0M939.5 956.5h0M942.5 956.5h0M947.5 956.5h0M948.5 956.5h0M949.5 956.5h0M952.5 956.5h0M956.5 956.5h0M957.5 956.5h0M961.5 956.5h0M963.5 956.5h0M964.5 956.5h0M970.5 956.5h0M971.5 956.5h0M972.5 956.5h0M973.5 956.5h0M977.5 956.5h0M978.5 956.5h0M979.5 956.5h0M981.5 956.5h0M982.5 956.5h0M983.5 956.5h0M985.5 956.5h0M988.5 956.5h0M990.5 956.5h0M993.5 956.5h0M995.5 956.5h0M998.5 956.5h0M999.5 956.5h0M1007.5 956.5h0M1008.5 956.5h0M1015.5 956.5h0M1017.5 956.5h0M1029.5 956.5h0M931.5 957.5h0M949.5 957.5h0M954.5 957.5h0M958.5 957.5h0M963.5 957.5h0M965.5 957.5h0M966.5 957.5h0M968.5 957.5h0M971.5 957.5h0M974.5 957.5h0M978.5 957.5h0M981.5 957.5h0M985.5 957.5h0M988.5 957.5h0M991.5 957.5h0M997.5 957.5h0M1003.5 957.5h0M1013.5 957.5h0M1028.5 957.5h0M1031.5 957.5h0M1032.5 957.5h0M1037.5 957.5h0M940.5 958.5h0M943.5 958.5h0M947.5 958.5h0M949.5 958.5h0M950.5 958.5h0M962.5 958.5h0M966.5 958.5h0M970.5 958.5h0M971.5 958.5h0M972.5 958.5h0M973.5 958.5h0M976.5 958.5h0M977.5 958.5h0M981.5 958.5h0M984.5 958.5h0M985.5 958.5h0M987.5 958.5h0M994.5 958.5h0M996.5 958.5h0M997.5 958.5h0M1003.5 958.5h0M1020.5 958.5h0M1026.5 958.5h0M1037.5 958.5h0M1060.5 958.5h0M1090.5 958.5h0M1110.5 958.5h0M931.5 959.5h0M932.5 959.5h0M937.5 959.5h0M939.5 959.5h0M947.5 959.5h0M953.5 959.5h0M957.5 959.5h0M958.5 959.5h0M961.5 959.5h0M962.5 959.5h0M965.5 959.5h0M969.5 959.5h0M972.5 959.5h0M974.5 959.5h0M977.5 959.5h0M978.5 959.5h0M979.5 959.5h0M988.5 959.5h0M990.5 959.5h0M993.5 959.5h0M1006.5 959.5h0M1007.5 959.5h0M1018.5 959.5h0M1065.5 959.5h0M937.5 960.5h0M945.5 960.5h0M949.5 960.5h0M957.5 960.5h0M967.5 960.5h0M968.5 960.5h0M975.5 960.5h0M979.5 960.5h0M980.5 960.5h0M981.5 960.5h0M984.5 960.5h0M985.5 960.5h0M997.5 960.5h0M998.5 960.5h0M999.5 960.5h0M1000.5 960.5h0M1002.5 960.5h0M1003.5 960.5h0M1004.5 960.5h0M1005.5 960.5h0M1007.5 960.5h0M1009.5 960.5h0M1012.5 960.5h0M1017.5 960.5h0M1027.5 960.5h0M1045.5 960.5h0M1127.5 960.5h0M898.5 961.5h0M930.5 961.5h0M945.5 961.5h0M946.5 961.5h0M949.5 961.5h0M951.5 961.5h0M960.5 961.5h0M965.5 961.5h0M972.5 961.5h0M975.5 961.5h0M977.5 961.5h0M978.5 961.5h0M983.5 961.5h0M987.5 961.5h0M990.5 961.5h0M991.5 961.5h0M992.5 961.5h0M998.5 961.5h0M1007.5 961.5h0M1010.5 961.5h0M1015.5 961.5h0M1020.5 961.5h0M1023.5 961.5h0M1026.5 961.5h0M1059.5 961.5h0M1147.5 961.5h0M923.5 962.5h0M946.5 962.5h0M949.5 962.5h0M952.5 962.5h0M953.5 962.5h0M955.5 962.5h0M961.5 962.5h0M966.5 962.5h0M967.5 962.5h0M972.5 962.5h0M976.5 962.5h0M980.5 962.5h0M989.5 962.5h0M994.5 962.5h0M999.5 962.5h0M1005.5 962.5h0M1010.5 962.5h0M1012.5 962.5h0M1131.5 962.5h0M1132.5 962.5h0M952.5 963.5h0M962.5 963.5h0M970.5 963.5h0M971.5 963.5h0M972.5 963.5h0M982.5 963.5h0M983.5 963.5h0M985.5 963.5h0M994.5 963.5h0M995.5 963.5h0M1006.5 963.5h0M1012.5 963.5h0M946.5 964.5h0M954.5 964.5h0M958.5 964.5h0M962.5 964.5h0M963.5 964.5h0M965.5 964.5h0M968.5 964.5h0M971.5 964.5h0M972.5 964.5h0M973.5 964.5h0M975.5 964.5h0M979.5 964.5h0M983.5 964.5h0M986.5 964.5h0M987.5 964.5h0M988.5 964.5h0M998.5 964.5h0M999.5 964.5h0M1005.5 964.5h0M1016.5 964.5h0M1023.5 964.5h0M934.5 965.5h0M950.5 965.5h0M975.5 965.5h0M987.5 965.5h0M990.5 965.5h0M991.5 965.5h0M996.5 965.5h0M1006.5 965.5h0M1007.5 965.5h0M1011.5 965.5h0M1019.5 965.5h0M1043.5 965.5h0M941.5 966.5h0M951.5 966.5h0M963.5 966.5h0M972.5 966.5h0M973.5 966.5h0M974.5 966.5h0M991.5 966.5h0M993.5 966.5h0M1019.5 966.5h0M944.5 967.5h0M959.5 967.5h0M969.5 967.5h0M971.5 967.5h0M973.5 967.5h0M977.5 967.5h0M981.5 967.5h0M982.5 967.5h0M986.5 967.5h0M995.5 967.5h0M1005.5 967.5h0M1160.5 967.5h0"/>
<g stroke="#000" stroke-width="1.8" fill="none">
<rect x="889" y="662" width="327.5" height="327.6"/>
<path d="M1048 662V989.6M889 852.5H1216.5"/>
<path stroke-width="1.6" d="M889 989.6v8M925.6 989.6v8M1024.2 989.6v8M1120.2 989.6v8M1216.5 989.6v8M903.6 989.6v5M946.2 989.6v5M963.2 989.6v5M977.2 989.6v5M988.2 989.6v5M996.2 989.6v5M1003.6 989.6v5M1009.9 989.6v5M1015.2 989.6v5M1020.2 989.6v5M1053.2 989.6v5M1070.1 989.6v5M1082.1 989.6v5M1091.4 989.6v5M1099.1 989.6v5M1105.5 989.6v5M1111.1 989.6v5M1116 989.6v5M1149.2 989.6v5M1166.1 989.6v5M1178.1 989.6v5M1187.4 989.6v5M1195.1 989.6v5M1201.5 989.6v5M1207.1 989.6v5M1212 989.6v5M889 662h-8M889 750.8h-8M889 839h-8M889 921.3h-8M889 955.3h-8M889 989.6h-8M889 724.1h-5M889 708.4h-5M889 697.3h-5M889 688.7h-5M889 681.7h-5M889 675.8h-5M889 670.6h-5M889 666.1h-5M889 812.4h-5M889 796.9h-5M889 785.9h-5M889 777.4h-5M889 770.4h-5M889 764.5h-5M889 759.3h-5M889 754.8h-5M889 896.5h-5M889 882h-5M889 871.8h-5M889 863.8h-5M889 857.3h-5M889 851.7h-5M889 847h-5M889 842.8h-5M889 924.8h-5M889 928.2h-5M889 931.6h-5M889 935h-5M889 938.4h-5M889 941.8h-5M889 945.2h-5M889 948.6h-5M889 952h-5M889 958.8h-5M889 962.2h-5M889 965.6h-5M889 969h-5M889 972.4h-5M889 975.8h-5M889 979.2h-5M889 982.6h-5M889 986h-5"/>
</g>
<g font-family="Liberation Sans" fill="#000">
<text x="925.6" y="1017.6" font-size="17" text-anchor="middle">0</text>
<text x="1026.7" y="1017.6" font-size="17" text-anchor="middle">10<tspan font-size="12" dy="-6.5">4</tspan></text>
<text x="1122.7" y="1017.6" font-size="17" text-anchor="middle">10<tspan font-size="12" dy="-6.5">5</tspan></text>
<text x="1219" y="1017.6" font-size="17" text-anchor="middle">10<tspan font-size="12" dy="-6.5">6</tspan></text>
<text x="0" y="0" font-size="17" text-anchor="middle" transform="translate(873.7 955.3) rotate(-90)">0</text>
<text x="0" y="0" font-size="17" text-anchor="middle" transform="translate(873.7 922.8) rotate(-90)">10<tspan font-size="12" dy="-8.5">3</tspan></text>
<text x="0" y="0" font-size="17" text-anchor="middle" transform="translate(873.7 840.5) rotate(-90)">10<tspan font-size="12" dy="-8.5">4</tspan></text>
<text x="0" y="0" font-size="17" text-anchor="middle" transform="translate(873.7 752.3) rotate(-90)">10<tspan font-size="12" dy="-8.5">5</tspan></text>
<text x="0" y="0" font-size="17" text-anchor="middle" transform="translate(873.7 663.5) rotate(-90)">10<tspan font-size="12" dy="-8.5">6</tspan></text>
<text x="1052.8" y="1038.1" font-size="16.8" text-anchor="middle">Annexin V FITC-A</text>
<text transform="translate(852.7 825.8) rotate(-90)" font-size="17.5" text-anchor="middle">PI PE-A</text>
<g font-size="16.8">
<text x="895" y="684">Q1-UL(0.13%)</text>
<text x="1210.5" y="684" text-anchor="end">Q1-UR(4.04%)</text>
<text x="895" y="978.6">Q1-LL(93.37%)</text>
<text x="1210.5" y="978.6" text-anchor="end">Q1-LR(2.46%)</text>
</g></g>
<text x="245.5" y="1112" font-family="Liberation Sans" font-weight="bold" font-size="33.4" text-anchor="middle">OGD4h/R12h</text>
<path fill="#ff0000" d="M243.9 1423.1 244.7 1426.9 245.6 1429.3 244.3 1431.1 243.1 1432.7 240.3 1433.8 240.1 1435.2 238.3 1436.2 237 1437.2 235.7 1438.1 234.9 1439.1 235.4 1440.6 233.5 1441.2 231.6 1441.7 229.5 1442.2 225.8 1441.8 223.9 1442.2 222.5 1442.7 220.8 1443.2 219.3 1443.7 217.9 1444.3 215.1 1444 214.8 1445.6 213.7 1446.8 212 1447.7 209.8 1448.3 207.9 1449.7 204.8 1449.9 202 1451 197.5 1451 189.9 1451 182.7 1451 178.2 1451 175.2 1450.7 172 1450.7 169.4 1450.3 167.3 1449.6 165 1449.4 162.2 1449.7 159.9 1449.5 157.9 1449.2 155.1 1449.3 151.8 1449.9 151.4 1448.4 149.7 1447.9 147 1447.9 146.7 1446.5 145.3 1445.8 144.8 1444.7 144.6 1443.5 142.2 1443.1 143.8 1441.2 142.5 1440.3 142.4 1439.1 140.6 1438.2 141.1 1436.7 140.7 1435.4 139.7 1434 141.5 1432 141.6 1430 141.6 1426.7 145.2 1423.5 146.4 1421.8 146.8 1420.3 145.8 1418.9 146.3 1417.7 147.1 1416.6 146.1 1415.2 145.4 1413.9 143.5 1412.2 143.6 1411 141.1 1408.9 140.3 1407.3 140.4 1405.9 141.9 1405 142.7 1403.9 146.8 1404.2 148.4 1403.5 149.3 1402.3 152.1 1402.2 155.3 1402.4 156.7 1401.5 159.6 1401.6 161.7 1400.9 164.9 1401.3 167.6 1401 170.1 1400.4 173.6 1400.6 176.9 1400.2 180.9 1399.5 188.1 1400.5 194.8 1401.2 198.5 1401.5 201.6 1401.6 204.9 1401 207 1401.7 209.4 1401.9 211.6 1402.1 215.4 1400.7 217 1401.4 219 1401.7 220.9 1402.1 222.7 1402.5 224.4 1402.9 226.7 1403.1 226.3 1404.7 226.5 1405.9 227.9 1406.4 227.7 1407.8 230.2 1407.9 228.7 1409.7 231 1410 233.3 1410.4 234.3 1411.3 238.1 1411.6 238.8 1412.8 240.2 1414 242.5 1415.3 242.7 1417.1 244.6 1419.1Z"/>
<path fill="none" stroke="#ff0000" stroke-width="1.6" stroke-linecap="square" d="M315.5 1152.5h0M351.5 1159.5h0M281.5 1164.5h0M321.5 1165.5h0M317.5 1169.5h0M333.5 1172.5h0M309.5 1173.5h0M301.5 1175.5h0M321.5 1175.5h0M285.5 1177.5h0M297.5 1177.5h0M339.5 1180.5h0M323.5 1182.5h0M328.5 1183.5h0M334.5 1183.5h0M307.5 1184.5h0M344.5 1184.5h0M311.5 1185.5h0M317.5 1185.5h0M335.5 1185.5h0M326.5 1186.5h0M297.5 1187.5h0M316.5 1187.5h0M284.5 1188.5h0M324.5 1188.5h0M344.5 1188.5h0M307.5 1189.5h0M323.5 1189.5h0M328.5 1189.5h0M347.5 1189.5h0M309.5 1190.5h0M324.5 1190.5h0M339.5 1191.5h0M341.5 1191.5h0M314.5 1192.5h0M316.5 1192.5h0M325.5 1192.5h0M300.5 1193.5h0M327.5 1193.5h0M330.5 1193.5h0M348.5 1193.5h0M262.5 1194.5h0M319.5 1194.5h0M325.5 1194.5h0M333.5 1194.5h0M276.5 1195.5h0M289.5 1195.5h0M374.5 1195.5h0M251.5 1196.5h0M313.5 1196.5h0M339.5 1196.5h0M340.5 1196.5h0M326.5 1197.5h0M314.5 1199.5h0M321.5 1199.5h0M324.5 1199.5h0M307.5 1200.5h0M331.5 1200.5h0M305.5 1201.5h0M310.5 1201.5h0M311.5 1202.5h0M312.5 1202.5h0M319.5 1203.5h0M337.5 1203.5h0M307.5 1204.5h0M350.5 1204.5h0M355.5 1204.5h0M309.5 1205.5h0M333.5 1205.5h0M299.5 1206.5h0M315.5 1206.5h0M283.5 1208.5h0M310.5 1208.5h0M311.5 1208.5h0M312.5 1208.5h0M319.5 1208.5h0M324.5 1208.5h0M261.5 1209.5h0M279.5 1209.5h0M304.5 1209.5h0M314.5 1209.5h0M325.5 1209.5h0M372.5 1209.5h0M288.5 1210.5h0M298.5 1210.5h0M304.5 1210.5h0M308.5 1210.5h0M282.5 1211.5h0M283.5 1211.5h0M297.5 1211.5h0M308.5 1211.5h0M345.5 1211.5h0M301.5 1212.5h0M299.5 1213.5h0M300.5 1213.5h0M317.5 1213.5h0M323.5 1213.5h0M340.5 1213.5h0M289.5 1214.5h0M291.5 1214.5h0M306.5 1214.5h0M308.5 1214.5h0M309.5 1214.5h0M326.5 1214.5h0M342.5 1214.5h0M289.5 1215.5h0M300.5 1215.5h0M301.5 1215.5h0M302.5 1215.5h0M309.5 1215.5h0M318.5 1215.5h0M331.5 1215.5h0M353.5 1215.5h0M309.5 1216.5h0M313.5 1216.5h0M320.5 1216.5h0M334.5 1216.5h0M288.5 1217.5h0M326.5 1217.5h0M338.5 1217.5h0M348.5 1217.5h0M367.5 1217.5h0M308.5 1218.5h0M330.5 1218.5h0M347.5 1218.5h0M308.5 1219.5h0M294.5 1220.5h0M299.5 1220.5h0M330.5 1220.5h0M261.5 1221.5h0M266.5 1221.5h0M287.5 1221.5h0M288.5 1221.5h0M338.5 1221.5h0M296.5 1222.5h0M314.5 1222.5h0M318.5 1222.5h0M299.5 1223.5h0M323.5 1223.5h0M325.5 1223.5h0M344.5 1223.5h0M299.5 1224.5h0M322.5 1224.5h0M287.5 1225.5h0M290.5 1225.5h0M299.5 1225.5h0M310.5 1225.5h0M319.5 1225.5h0M321.5 1225.5h0M318.5 1226.5h0M321.5 1226.5h0M322.5 1226.5h0M297.5 1227.5h0M320.5 1227.5h0M326.5 1227.5h0M292.5 1228.5h0M303.5 1228.5h0M337.5 1228.5h0M338.5 1228.5h0M348.5 1228.5h0M324.5 1229.5h0M329.5 1229.5h0M334.5 1229.5h0M341.5 1229.5h0M287.5 1230.5h0M296.5 1230.5h0M316.5 1230.5h0M276.5 1231.5h0M289.5 1231.5h0M305.5 1231.5h0M307.5 1231.5h0M327.5 1231.5h0M352.5 1231.5h0M288.5 1232.5h0M307.5 1232.5h0M309.5 1232.5h0M321.5 1232.5h0M323.5 1232.5h0M297.5 1233.5h0M315.5 1233.5h0M320.5 1233.5h0M324.5 1233.5h0M348.5 1233.5h0M287.5 1234.5h0M309.5 1234.5h0M310.5 1235.5h0M313.5 1235.5h0M320.5 1235.5h0M335.5 1235.5h0M345.5 1235.5h0M356.5 1235.5h0M285.5 1236.5h0M324.5 1236.5h0M326.5 1236.5h0M327.5 1236.5h0M321.5 1237.5h0M275.5 1238.5h0M302.5 1238.5h0M327.5 1238.5h0M333.5 1238.5h0M338.5 1238.5h0M351.5 1238.5h0M285.5 1239.5h0M289.5 1239.5h0M319.5 1239.5h0M331.5 1239.5h0M338.5 1239.5h0M343.5 1239.5h0M295.5 1240.5h0M346.5 1240.5h0M282.5 1241.5h0M293.5 1241.5h0M299.5 1241.5h0M305.5 1241.5h0M320.5 1241.5h0M322.5 1241.5h0M335.5 1241.5h0M355.5 1241.5h0M285.5 1242.5h0M294.5 1242.5h0M300.5 1242.5h0M306.5 1242.5h0M309.5 1242.5h0M313.5 1242.5h0M319.5 1242.5h0M324.5 1242.5h0M276.5 1243.5h0M279.5 1243.5h0M311.5 1243.5h0M316.5 1243.5h0M318.5 1243.5h0M334.5 1243.5h0M359.5 1243.5h0M289.5 1244.5h0M299.5 1244.5h0M302.5 1244.5h0M308.5 1244.5h0M318.5 1244.5h0M342.5 1244.5h0M350.5 1244.5h0M301.5 1245.5h0M308.5 1245.5h0M317.5 1245.5h0M322.5 1245.5h0M347.5 1245.5h0M331.5 1246.5h0M367.5 1246.5h0M294.5 1247.5h0M321.5 1247.5h0M329.5 1247.5h0M339.5 1247.5h0M359.5 1247.5h0M308.5 1248.5h0M342.5 1248.5h0M346.5 1248.5h0M351.5 1248.5h0M287.5 1249.5h0M293.5 1249.5h0M315.5 1249.5h0M329.5 1249.5h0M375.5 1249.5h0M304.5 1250.5h0M308.5 1250.5h0M317.5 1250.5h0M319.5 1250.5h0M328.5 1250.5h0M365.5 1250.5h0M282.5 1251.5h0M315.5 1251.5h0M341.5 1251.5h0M310.5 1252.5h0M318.5 1252.5h0M302.5 1253.5h0M308.5 1253.5h0M320.5 1253.5h0M332.5 1253.5h0M270.5 1254.5h0M310.5 1254.5h0M343.5 1254.5h0M271.5 1255.5h0M313.5 1255.5h0M314.5 1255.5h0M317.5 1255.5h0M321.5 1255.5h0M341.5 1255.5h0M347.5 1255.5h0M303.5 1256.5h0M314.5 1256.5h0M320.5 1256.5h0M347.5 1257.5h0M304.5 1258.5h0M334.5 1258.5h0M284.5 1259.5h0M304.5 1259.5h0M323.5 1259.5h0M379.5 1259.5h0M287.5 1260.5h0M309.5 1260.5h0M322.5 1260.5h0M334.5 1260.5h0M312.5 1261.5h0M340.5 1261.5h0M302.5 1262.5h0M319.5 1262.5h0M343.5 1262.5h0M346.5 1262.5h0M289.5 1263.5h0M309.5 1263.5h0M315.5 1263.5h0M319.5 1263.5h0M294.5 1264.5h0M308.5 1264.5h0M320.5 1264.5h0M331.5 1264.5h0M362.5 1264.5h0M272.5 1265.5h0M291.5 1265.5h0M288.5 1266.5h0M308.5 1266.5h0M316.5 1266.5h0M312.5 1267.5h0M301.5 1268.5h0M315.5 1268.5h0M318.5 1268.5h0M366.5 1268.5h0M277.5 1269.5h0M300.5 1269.5h0M298.5 1270.5h0M309.5 1270.5h0M280.5 1271.5h0M281.5 1271.5h0M301.5 1271.5h0M332.5 1271.5h0M299.5 1272.5h0M322.5 1272.5h0M338.5 1272.5h0M342.5 1273.5h0M218.5 1274.5h0M310.5 1274.5h0M315.5 1274.5h0M300.5 1275.5h0M308.5 1275.5h0M315.5 1275.5h0M325.5 1275.5h0M335.5 1275.5h0M299.5 1276.5h0M302.5 1276.5h0M311.5 1276.5h0M331.5 1276.5h0M325.5 1277.5h0M351.5 1278.5h0M285.5 1279.5h0M299.5 1279.5h0M267.5 1280.5h0M314.5 1280.5h0M319.5 1280.5h0M327.5 1280.5h0M284.5 1281.5h0M285.5 1281.5h0M303.5 1281.5h0M315.5 1281.5h0M317.5 1281.5h0M331.5 1281.5h0M332.5 1281.5h0M278.5 1282.5h0M308.5 1282.5h0M330.5 1282.5h0M291.5 1283.5h0M325.5 1283.5h0M281.5 1284.5h0M291.5 1285.5h0M313.5 1285.5h0M327.5 1285.5h0M335.5 1285.5h0M278.5 1286.5h0M299.5 1286.5h0M333.5 1286.5h0M371.5 1286.5h0M288.5 1287.5h0M308.5 1287.5h0M346.5 1287.5h0M359.5 1287.5h0M321.5 1288.5h0M339.5 1288.5h0M293.5 1289.5h0M336.5 1290.5h0M276.5 1291.5h0M301.5 1291.5h0M357.5 1291.5h0M287.5 1292.5h0M349.5 1292.5h0M271.5 1293.5h0M293.5 1293.5h0M299.5 1293.5h0M334.5 1293.5h0M283.5 1294.5h0M325.5 1294.5h0M333.5 1294.5h0M313.5 1295.5h0M334.5 1295.5h0M335.5 1295.5h0M370.5 1296.5h0M291.5 1297.5h0M312.5 1297.5h0M317.5 1297.5h0M328.5 1297.5h0M334.5 1297.5h0M258.5 1298.5h0M278.5 1298.5h0M319.5 1298.5h0M282.5 1299.5h0M291.5 1299.5h0M345.5 1299.5h0M321.5 1300.5h0M322.5 1300.5h0M325.5 1300.5h0M249.5 1301.5h0M289.5 1301.5h0M293.5 1301.5h0M300.5 1301.5h0M308.5 1304.5h0M309.5 1304.5h0M280.5 1305.5h0M285.5 1305.5h0M260.5 1306.5h0M289.5 1306.5h0M312.5 1306.5h0M335.5 1306.5h0M290.5 1307.5h0M308.5 1307.5h0M318.5 1308.5h0M325.5 1308.5h0M375.5 1308.5h0M323.5 1309.5h0M324.5 1309.5h0M339.5 1309.5h0M283.5 1310.5h0M345.5 1310.5h0M360.5 1310.5h0M341.5 1311.5h0M345.5 1312.5h0M307.5 1313.5h0M309.5 1313.5h0M311.5 1313.5h0M366.5 1313.5h0M280.5 1314.5h0M296.5 1314.5h0M319.5 1314.5h0M329.5 1314.5h0M235.5 1315.5h0M289.5 1315.5h0M330.5 1315.5h0M284.5 1316.5h0M291.5 1316.5h0M303.5 1316.5h0M319.5 1316.5h0M326.5 1316.5h0M247.5 1317.5h0M338.5 1317.5h0M273.5 1318.5h0M332.5 1318.5h0M356.5 1318.5h0M279.5 1319.5h0M307.5 1319.5h0M336.5 1319.5h0M268.5 1320.5h0M278.5 1320.5h0M340.5 1321.5h0M291.5 1322.5h0M327.5 1322.5h0M331.5 1322.5h0M350.5 1322.5h0M311.5 1323.5h0M339.5 1323.5h0M381.5 1323.5h0M294.5 1324.5h0M315.5 1324.5h0M294.5 1325.5h0M324.5 1325.5h0M316.5 1326.5h0M332.5 1326.5h0M352.5 1326.5h0M337.5 1329.5h0M321.5 1330.5h0M323.5 1330.5h0M332.5 1330.5h0M236.5 1331.5h0M285.5 1331.5h0M302.5 1331.5h0M324.5 1333.5h0M341.5 1333.5h0M263.5 1334.5h0M310.5 1334.5h0M286.5 1335.5h0M314.5 1335.5h0M321.5 1335.5h0M250.5 1336.5h0M263.5 1336.5h0M279.5 1336.5h0M310.5 1336.5h0M314.5 1336.5h0M329.5 1336.5h0M310.5 1337.5h0M342.5 1337.5h0M258.5 1338.5h0M261.5 1339.5h0M297.5 1339.5h0M247.5 1340.5h0M325.5 1340.5h0M331.5 1340.5h0M316.5 1341.5h0M322.5 1341.5h0M332.5 1341.5h0M348.5 1341.5h0M296.5 1342.5h0M312.5 1342.5h0M315.5 1342.5h0M319.5 1342.5h0M333.5 1342.5h0M343.5 1342.5h0M268.5 1343.5h0M316.5 1343.5h0M322.5 1343.5h0M274.5 1344.5h0M293.5 1344.5h0M304.5 1344.5h0M328.5 1344.5h0M250.5 1345.5h0M253.5 1345.5h0M309.5 1345.5h0M318.5 1345.5h0M315.5 1346.5h0M329.5 1347.5h0M233.5 1348.5h0M264.5 1348.5h0M276.5 1348.5h0M290.5 1348.5h0M286.5 1349.5h0M291.5 1349.5h0M315.5 1349.5h0M323.5 1349.5h0M336.5 1349.5h0M303.5 1350.5h0M291.5 1351.5h0M293.5 1351.5h0M301.5 1351.5h0M296.5 1352.5h0M222.5 1353.5h0M270.5 1353.5h0M327.5 1353.5h0M223.5 1354.5h0M272.5 1354.5h0M228.5 1355.5h0M233.5 1355.5h0M279.5 1355.5h0M320.5 1355.5h0M331.5 1355.5h0M333.5 1355.5h0M295.5 1356.5h0M312.5 1356.5h0M322.5 1356.5h0M327.5 1356.5h0M349.5 1356.5h0M214.5 1357.5h0M225.5 1357.5h0M261.5 1357.5h0M216.5 1358.5h0M230.5 1358.5h0M316.5 1358.5h0M318.5 1358.5h0M356.5 1358.5h0M185.5 1359.5h0M218.5 1359.5h0M226.5 1359.5h0M276.5 1359.5h0M291.5 1359.5h0M295.5 1359.5h0M310.5 1359.5h0M331.5 1359.5h0M338.5 1359.5h0M358.5 1359.5h0M321.5 1360.5h0M206.5 1361.5h0M207.5 1361.5h0M277.5 1361.5h0M293.5 1361.5h0M317.5 1361.5h0M341.5 1361.5h0M346.5 1361.5h0M376.5 1361.5h0M223.5 1362.5h0M225.5 1362.5h0M290.5 1362.5h0M302.5 1362.5h0M310.5 1362.5h0M321.5 1362.5h0M184.5 1363.5h0M228.5 1363.5h0M230.5 1363.5h0M237.5 1363.5h0M269.5 1363.5h0M271.5 1363.5h0M276.5 1363.5h0M334.5 1363.5h0M252.5 1364.5h0M260.5 1364.5h0M264.5 1364.5h0M319.5 1364.5h0M261.5 1365.5h0M264.5 1365.5h0M313.5 1365.5h0M241.5 1366.5h0M252.5 1366.5h0M260.5 1366.5h0M288.5 1366.5h0M292.5 1366.5h0M303.5 1366.5h0M321.5 1366.5h0M261.5 1367.5h0M265.5 1367.5h0M272.5 1367.5h0M299.5 1367.5h0M318.5 1367.5h0M250.5 1368.5h0M287.5 1368.5h0M334.5 1368.5h0M223.5 1369.5h0M247.5 1369.5h0M252.5 1369.5h0M258.5 1369.5h0M312.5 1369.5h0M316.5 1369.5h0M166.5 1370.5h0M245.5 1370.5h0M275.5 1370.5h0M159.5 1371.5h0M228.5 1371.5h0M251.5 1371.5h0M267.5 1371.5h0M318.5 1371.5h0M219.5 1372.5h0M239.5 1372.5h0M242.5 1372.5h0M254.5 1372.5h0M317.5 1372.5h0M209.5 1373.5h0M254.5 1373.5h0M260.5 1373.5h0M295.5 1373.5h0M303.5 1373.5h0M310.5 1373.5h0M316.5 1373.5h0M334.5 1373.5h0M200.5 1374.5h0M237.5 1374.5h0M280.5 1374.5h0M282.5 1374.5h0M318.5 1374.5h0M339.5 1374.5h0M210.5 1375.5h0M284.5 1375.5h0M371.5 1375.5h0M236.5 1376.5h0M241.5 1376.5h0M269.5 1376.5h0M314.5 1376.5h0M321.5 1376.5h0M216.5 1377.5h0M236.5 1377.5h0M240.5 1377.5h0M260.5 1377.5h0M309.5 1377.5h0M373.5 1377.5h0M215.5 1378.5h0M225.5 1378.5h0M240.5 1378.5h0M299.5 1378.5h0M303.5 1378.5h0M306.5 1378.5h0M379.5 1378.5h0M244.5 1379.5h0M262.5 1379.5h0M271.5 1379.5h0M283.5 1379.5h0M322.5 1379.5h0M329.5 1379.5h0M222.5 1380.5h0M228.5 1380.5h0M229.5 1380.5h0M243.5 1380.5h0M259.5 1380.5h0M276.5 1380.5h0M289.5 1380.5h0M315.5 1380.5h0M350.5 1380.5h0M202.5 1381.5h0M225.5 1381.5h0M237.5 1381.5h0M238.5 1381.5h0M245.5 1381.5h0M246.5 1381.5h0M263.5 1381.5h0M264.5 1381.5h0M268.5 1381.5h0M301.5 1381.5h0M309.5 1381.5h0M186.5 1382.5h0M188.5 1382.5h0M192.5 1382.5h0M228.5 1382.5h0M234.5 1382.5h0M238.5 1382.5h0M244.5 1382.5h0M253.5 1382.5h0M257.5 1382.5h0M266.5 1382.5h0M267.5 1382.5h0M279.5 1382.5h0M293.5 1382.5h0M325.5 1382.5h0M329.5 1382.5h0M169.5 1383.5h0M192.5 1383.5h0M200.5 1383.5h0M224.5 1383.5h0M230.5 1383.5h0M238.5 1383.5h0M241.5 1383.5h0M248.5 1383.5h0M315.5 1383.5h0M329.5 1383.5h0M351.5 1383.5h0M147.5 1384.5h0M180.5 1384.5h0M211.5 1384.5h0M218.5 1384.5h0M220.5 1384.5h0M223.5 1384.5h0M237.5 1384.5h0M247.5 1384.5h0M266.5 1384.5h0M280.5 1384.5h0M284.5 1384.5h0M290.5 1384.5h0M310.5 1384.5h0M124.5 1385.5h0M179.5 1385.5h0M182.5 1385.5h0M205.5 1385.5h0M211.5 1385.5h0M217.5 1385.5h0M236.5 1385.5h0M243.5 1385.5h0M244.5 1385.5h0M275.5 1385.5h0M282.5 1385.5h0M312.5 1385.5h0M171.5 1386.5h0M194.5 1386.5h0M200.5 1386.5h0M209.5 1386.5h0M220.5 1386.5h0M228.5 1386.5h0M230.5 1386.5h0M235.5 1386.5h0M241.5 1386.5h0M243.5 1386.5h0M268.5 1386.5h0M283.5 1386.5h0M286.5 1386.5h0M287.5 1386.5h0M315.5 1386.5h0M375.5 1386.5h0M185.5 1387.5h0M189.5 1387.5h0M190.5 1387.5h0M206.5 1387.5h0M236.5 1387.5h0M237.5 1387.5h0M240.5 1387.5h0M253.5 1387.5h0M276.5 1387.5h0M293.5 1387.5h0M188.5 1388.5h0M197.5 1388.5h0M227.5 1388.5h0M239.5 1388.5h0M251.5 1388.5h0M258.5 1388.5h0M261.5 1388.5h0M270.5 1388.5h0M291.5 1388.5h0M302.5 1388.5h0M319.5 1388.5h0M324.5 1388.5h0M336.5 1388.5h0M102.5 1389.5h0M156.5 1389.5h0M174.5 1389.5h0M175.5 1389.5h0M232.5 1389.5h0M254.5 1389.5h0M259.5 1389.5h0M263.5 1389.5h0M304.5 1389.5h0M326.5 1389.5h0M343.5 1389.5h0M160.5 1390.5h0M196.5 1390.5h0M204.5 1390.5h0M206.5 1390.5h0M233.5 1390.5h0M237.5 1390.5h0M259.5 1390.5h0M285.5 1390.5h0M288.5 1390.5h0M316.5 1390.5h0M322.5 1390.5h0M338.5 1390.5h0M341.5 1390.5h0M177.5 1391.5h0M181.5 1391.5h0M198.5 1391.5h0M199.5 1391.5h0M206.5 1391.5h0M210.5 1391.5h0M211.5 1391.5h0M222.5 1391.5h0M232.5 1391.5h0M233.5 1391.5h0M234.5 1391.5h0M235.5 1391.5h0M238.5 1391.5h0M248.5 1391.5h0M265.5 1391.5h0M267.5 1391.5h0M275.5 1391.5h0M292.5 1391.5h0M297.5 1391.5h0M303.5 1391.5h0M317.5 1391.5h0M359.5 1391.5h0M181.5 1392.5h0M184.5 1392.5h0M212.5 1392.5h0M213.5 1392.5h0M216.5 1392.5h0M217.5 1392.5h0M229.5 1392.5h0M274.5 1392.5h0M299.5 1392.5h0M333.5 1392.5h0M142.5 1393.5h0M166.5 1393.5h0M196.5 1393.5h0M198.5 1393.5h0M201.5 1393.5h0M219.5 1393.5h0M220.5 1393.5h0M227.5 1393.5h0M228.5 1393.5h0M254.5 1393.5h0M336.5 1393.5h0M344.5 1393.5h0M175.5 1394.5h0M179.5 1394.5h0M191.5 1394.5h0M214.5 1394.5h0M219.5 1394.5h0M223.5 1394.5h0M224.5 1394.5h0M225.5 1394.5h0M230.5 1394.5h0M233.5 1394.5h0M237.5 1394.5h0M246.5 1394.5h0M259.5 1394.5h0M309.5 1394.5h0M322.5 1394.5h0M154.5 1395.5h0M168.5 1395.5h0M179.5 1395.5h0M193.5 1395.5h0M194.5 1395.5h0M200.5 1395.5h0M209.5 1395.5h0M210.5 1395.5h0M221.5 1395.5h0M229.5 1395.5h0M230.5 1395.5h0M231.5 1395.5h0M235.5 1395.5h0M247.5 1395.5h0M270.5 1395.5h0M280.5 1395.5h0M289.5 1395.5h0M322.5 1395.5h0M323.5 1395.5h0M334.5 1395.5h0M357.5 1395.5h0M144.5 1396.5h0M146.5 1396.5h0M159.5 1396.5h0M162.5 1396.5h0M170.5 1396.5h0M187.5 1396.5h0M192.5 1396.5h0M200.5 1396.5h0M206.5 1396.5h0M209.5 1396.5h0M212.5 1396.5h0M219.5 1396.5h0M220.5 1396.5h0M223.5 1396.5h0M224.5 1396.5h0M227.5 1396.5h0M241.5 1396.5h0M243.5 1396.5h0M244.5 1396.5h0M245.5 1396.5h0M251.5 1396.5h0M265.5 1396.5h0M266.5 1396.5h0M312.5 1396.5h0M116.5 1397.5h0M154.5 1397.5h0M173.5 1397.5h0M178.5 1397.5h0M186.5 1397.5h0M190.5 1397.5h0M202.5 1397.5h0M205.5 1397.5h0M206.5 1397.5h0M207.5 1397.5h0M208.5 1397.5h0M212.5 1397.5h0M216.5 1397.5h0M218.5 1397.5h0M223.5 1397.5h0M230.5 1397.5h0M237.5 1397.5h0M244.5 1397.5h0M268.5 1397.5h0M284.5 1397.5h0M319.5 1397.5h0M339.5 1397.5h0M163.5 1398.5h0M168.5 1398.5h0M170.5 1398.5h0M173.5 1398.5h0M177.5 1398.5h0M182.5 1398.5h0M184.5 1398.5h0M185.5 1398.5h0M195.5 1398.5h0M196.5 1398.5h0M205.5 1398.5h0M206.5 1398.5h0M209.5 1398.5h0M215.5 1398.5h0M219.5 1398.5h0M222.5 1398.5h0M231.5 1398.5h0M232.5 1398.5h0M243.5 1398.5h0M273.5 1398.5h0M274.5 1398.5h0M291.5 1398.5h0M319.5 1398.5h0M150.5 1399.5h0M151.5 1399.5h0M155.5 1399.5h0M176.5 1399.5h0M183.5 1399.5h0M186.5 1399.5h0M188.5 1399.5h0M189.5 1399.5h0M190.5 1399.5h0M203.5 1399.5h0M208.5 1399.5h0M226.5 1399.5h0M228.5 1399.5h0M244.5 1399.5h0M245.5 1399.5h0M270.5 1399.5h0M272.5 1399.5h0M276.5 1399.5h0M285.5 1399.5h0M287.5 1399.5h0M292.5 1399.5h0M300.5 1399.5h0M305.5 1399.5h0M307.5 1399.5h0M373.5 1399.5h0M101.5 1400.5h0M131.5 1400.5h0M143.5 1400.5h0M147.5 1400.5h0M150.5 1400.5h0M155.5 1400.5h0M158.5 1400.5h0M182.5 1400.5h0M194.5 1400.5h0M200.5 1400.5h0M203.5 1400.5h0M205.5 1400.5h0M207.5 1400.5h0M221.5 1400.5h0M222.5 1400.5h0M223.5 1400.5h0M229.5 1400.5h0M240.5 1400.5h0M241.5 1400.5h0M250.5 1400.5h0M258.5 1400.5h0M273.5 1400.5h0M291.5 1400.5h0M296.5 1400.5h0M301.5 1400.5h0M302.5 1400.5h0M303.5 1400.5h0M304.5 1400.5h0M306.5 1400.5h0M315.5 1400.5h0M147.5 1401.5h0M149.5 1401.5h0M157.5 1401.5h0M158.5 1401.5h0M168.5 1401.5h0M175.5 1401.5h0M182.5 1401.5h0M189.5 1401.5h0M190.5 1401.5h0M191.5 1401.5h0M192.5 1401.5h0M193.5 1401.5h0M195.5 1401.5h0M196.5 1401.5h0M198.5 1401.5h0M200.5 1401.5h0M203.5 1401.5h0M204.5 1401.5h0M209.5 1401.5h0M210.5 1401.5h0M216.5 1401.5h0M218.5 1401.5h0M220.5 1401.5h0M221.5 1401.5h0M226.5 1401.5h0M227.5 1401.5h0M228.5 1401.5h0M230.5 1401.5h0M234.5 1401.5h0M249.5 1401.5h0M339.5 1401.5h0M137.5 1402.5h0M150.5 1402.5h0M155.5 1402.5h0M165.5 1402.5h0M166.5 1402.5h0M167.5 1402.5h0M170.5 1402.5h0M171.5 1402.5h0M172.5 1402.5h0M176.5 1402.5h0M178.5 1402.5h0M180.5 1402.5h0M181.5 1402.5h0M186.5 1402.5h0M190.5 1402.5h0M197.5 1402.5h0M199.5 1402.5h0M200.5 1402.5h0M203.5 1402.5h0M207.5 1402.5h0M211.5 1402.5h0M214.5 1402.5h0M215.5 1402.5h0M221.5 1402.5h0M235.5 1402.5h0M239.5 1402.5h0M257.5 1402.5h0M262.5 1402.5h0M301.5 1402.5h0M304.5 1402.5h0M318.5 1402.5h0M381.5 1402.5h0M112.5 1403.5h0M137.5 1403.5h0M141.5 1403.5h0M153.5 1403.5h0M157.5 1403.5h0M159.5 1403.5h0M172.5 1403.5h0M175.5 1403.5h0M180.5 1403.5h0M183.5 1403.5h0M187.5 1403.5h0M192.5 1403.5h0M196.5 1403.5h0M197.5 1403.5h0M199.5 1403.5h0M202.5 1403.5h0M203.5 1403.5h0M209.5 1403.5h0M210.5 1403.5h0M212.5 1403.5h0M215.5 1403.5h0M221.5 1403.5h0M226.5 1403.5h0M230.5 1403.5h0M236.5 1403.5h0M241.5 1403.5h0M250.5 1403.5h0M258.5 1403.5h0M282.5 1403.5h0M291.5 1403.5h0M300.5 1403.5h0M345.5 1403.5h0M388.5 1403.5h0M132.5 1404.5h0M140.5 1404.5h0M141.5 1404.5h0M146.5 1404.5h0M147.5 1404.5h0M148.5 1404.5h0M149.5 1404.5h0M160.5 1404.5h0M163.5 1404.5h0M181.5 1404.5h0M182.5 1404.5h0M183.5 1404.5h0M185.5 1404.5h0M186.5 1404.5h0M187.5 1404.5h0M189.5 1404.5h0M191.5 1404.5h0M195.5 1404.5h0M196.5 1404.5h0M198.5 1404.5h0M199.5 1404.5h0M201.5 1404.5h0M203.5 1404.5h0M204.5 1404.5h0M206.5 1404.5h0M209.5 1404.5h0M212.5 1404.5h0M214.5 1404.5h0M215.5 1404.5h0M217.5 1404.5h0M220.5 1404.5h0M223.5 1404.5h0M233.5 1404.5h0M235.5 1404.5h0M243.5 1404.5h0M246.5 1404.5h0M260.5 1404.5h0M286.5 1404.5h0M319.5 1404.5h0M332.5 1404.5h0M334.5 1404.5h0M341.5 1404.5h0M130.5 1405.5h0M140.5 1405.5h0M143.5 1405.5h0M147.5 1405.5h0M148.5 1405.5h0M154.5 1405.5h0M157.5 1405.5h0M158.5 1405.5h0M166.5 1405.5h0M169.5 1405.5h0M172.5 1405.5h0M173.5 1405.5h0M174.5 1405.5h0M178.5 1405.5h0M182.5 1405.5h0M183.5 1405.5h0M186.5 1405.5h0M188.5 1405.5h0M189.5 1405.5h0M190.5 1405.5h0M194.5 1405.5h0M197.5 1405.5h0M199.5 1405.5h0M200.5 1405.5h0M204.5 1405.5h0M208.5 1405.5h0M210.5 1405.5h0M213.5 1405.5h0M217.5 1405.5h0M218.5 1405.5h0M233.5 1405.5h0M237.5 1405.5h0M242.5 1405.5h0M245.5 1405.5h0M246.5 1405.5h0M256.5 1405.5h0M262.5 1405.5h0M265.5 1405.5h0M267.5 1405.5h0M284.5 1405.5h0M123.5 1406.5h0M145.5 1406.5h0M146.5 1406.5h0M149.5 1406.5h0M156.5 1406.5h0M161.5 1406.5h0M167.5 1406.5h0M170.5 1406.5h0M171.5 1406.5h0M175.5 1406.5h0M176.5 1406.5h0M178.5 1406.5h0M180.5 1406.5h0M181.5 1406.5h0M183.5 1406.5h0M187.5 1406.5h0M188.5 1406.5h0M190.5 1406.5h0M191.5 1406.5h0M192.5 1406.5h0M194.5 1406.5h0M196.5 1406.5h0M199.5 1406.5h0M203.5 1406.5h0M204.5 1406.5h0M206.5 1406.5h0M209.5 1406.5h0M211.5 1406.5h0M214.5 1406.5h0M215.5 1406.5h0M218.5 1406.5h0M224.5 1406.5h0M225.5 1406.5h0M228.5 1406.5h0M234.5 1406.5h0M235.5 1406.5h0M237.5 1406.5h0M241.5 1406.5h0M242.5 1406.5h0M245.5 1406.5h0M247.5 1406.5h0M248.5 1406.5h0M250.5 1406.5h0M255.5 1406.5h0M264.5 1406.5h0M271.5 1406.5h0M285.5 1406.5h0M325.5 1406.5h0M133.5 1407.5h0M136.5 1407.5h0M144.5 1407.5h0M146.5 1407.5h0M149.5 1407.5h0M152.5 1407.5h0M154.5 1407.5h0M159.5 1407.5h0M160.5 1407.5h0M163.5 1407.5h0M164.5 1407.5h0M165.5 1407.5h0M166.5 1407.5h0M168.5 1407.5h0M170.5 1407.5h0M171.5 1407.5h0M172.5 1407.5h0M173.5 1407.5h0M174.5 1407.5h0M178.5 1407.5h0M180.5 1407.5h0M181.5 1407.5h0M182.5 1407.5h0M183.5 1407.5h0M184.5 1407.5h0M185.5 1407.5h0M192.5 1407.5h0M193.5 1407.5h0M195.5 1407.5h0M196.5 1407.5h0M200.5 1407.5h0M201.5 1407.5h0M206.5 1407.5h0M209.5 1407.5h0M210.5 1407.5h0M215.5 1407.5h0M220.5 1407.5h0M221.5 1407.5h0M226.5 1407.5h0M227.5 1407.5h0M228.5 1407.5h0M230.5 1407.5h0M231.5 1407.5h0M234.5 1407.5h0M237.5 1407.5h0M242.5 1407.5h0M265.5 1407.5h0M266.5 1407.5h0M282.5 1407.5h0M288.5 1407.5h0M299.5 1407.5h0M116.5 1408.5h0M134.5 1408.5h0M144.5 1408.5h0M147.5 1408.5h0M161.5 1408.5h0M163.5 1408.5h0M164.5 1408.5h0M165.5 1408.5h0M170.5 1408.5h0M172.5 1408.5h0M173.5 1408.5h0M174.5 1408.5h0M176.5 1408.5h0M182.5 1408.5h0M183.5 1408.5h0M185.5 1408.5h0M188.5 1408.5h0M189.5 1408.5h0M191.5 1408.5h0M192.5 1408.5h0M193.5 1408.5h0M195.5 1408.5h0M198.5 1408.5h0M199.5 1408.5h0M202.5 1408.5h0M204.5 1408.5h0M206.5 1408.5h0M208.5 1408.5h0M209.5 1408.5h0M210.5 1408.5h0M212.5 1408.5h0M213.5 1408.5h0M217.5 1408.5h0M218.5 1408.5h0M222.5 1408.5h0M232.5 1408.5h0M234.5 1408.5h0M246.5 1408.5h0M250.5 1408.5h0M253.5 1408.5h0M330.5 1408.5h0M339.5 1408.5h0M138.5 1409.5h0M147.5 1409.5h0M150.5 1409.5h0M153.5 1409.5h0M154.5 1409.5h0M155.5 1409.5h0M161.5 1409.5h0M162.5 1409.5h0M164.5 1409.5h0M166.5 1409.5h0M169.5 1409.5h0M172.5 1409.5h0M182.5 1409.5h0M187.5 1409.5h0M190.5 1409.5h0M193.5 1409.5h0M196.5 1409.5h0M198.5 1409.5h0M199.5 1409.5h0M200.5 1409.5h0M203.5 1409.5h0M204.5 1409.5h0M205.5 1409.5h0M206.5 1409.5h0M223.5 1409.5h0M226.5 1409.5h0M227.5 1409.5h0M234.5 1409.5h0M236.5 1409.5h0M237.5 1409.5h0M240.5 1409.5h0M241.5 1409.5h0M280.5 1409.5h0M327.5 1409.5h0M134.5 1410.5h0M144.5 1410.5h0M155.5 1410.5h0M156.5 1410.5h0M157.5 1410.5h0M161.5 1410.5h0M164.5 1410.5h0M172.5 1410.5h0M174.5 1410.5h0M175.5 1410.5h0M177.5 1410.5h0M181.5 1410.5h0M182.5 1410.5h0M183.5 1410.5h0M184.5 1410.5h0M185.5 1410.5h0M190.5 1410.5h0M191.5 1410.5h0M192.5 1410.5h0M193.5 1410.5h0M199.5 1410.5h0M203.5 1410.5h0M208.5 1410.5h0M209.5 1410.5h0M210.5 1410.5h0M211.5 1410.5h0M212.5 1410.5h0M213.5 1410.5h0M214.5 1410.5h0M215.5 1410.5h0M216.5 1410.5h0M217.5 1410.5h0M219.5 1410.5h0M221.5 1410.5h0M222.5 1410.5h0M223.5 1410.5h0M224.5 1410.5h0M225.5 1410.5h0M227.5 1410.5h0M228.5 1410.5h0M235.5 1410.5h0M236.5 1410.5h0M237.5 1410.5h0M238.5 1410.5h0M240.5 1410.5h0M242.5 1410.5h0M251.5 1410.5h0M257.5 1410.5h0M258.5 1410.5h0M260.5 1410.5h0M123.5 1411.5h0M133.5 1411.5h0M139.5 1411.5h0M142.5 1411.5h0M144.5 1411.5h0M147.5 1411.5h0M152.5 1411.5h0M154.5 1411.5h0M157.5 1411.5h0M160.5 1411.5h0M162.5 1411.5h0M163.5 1411.5h0M165.5 1411.5h0M168.5 1411.5h0M171.5 1411.5h0M173.5 1411.5h0M174.5 1411.5h0M177.5 1411.5h0M178.5 1411.5h0M179.5 1411.5h0M181.5 1411.5h0M182.5 1411.5h0M183.5 1411.5h0M185.5 1411.5h0M187.5 1411.5h0M188.5 1411.5h0M189.5 1411.5h0M190.5 1411.5h0M191.5 1411.5h0M192.5 1411.5h0M193.5 1411.5h0M195.5 1411.5h0M203.5 1411.5h0M204.5 1411.5h0M206.5 1411.5h0M207.5 1411.5h0M208.5 1411.5h0M210.5 1411.5h0M212.5 1411.5h0M213.5 1411.5h0M215.5 1411.5h0M217.5 1411.5h0M218.5 1411.5h0M220.5 1411.5h0M223.5 1411.5h0M228.5 1411.5h0M232.5 1411.5h0M242.5 1411.5h0M244.5 1411.5h0M247.5 1411.5h0M253.5 1411.5h0M276.5 1411.5h0M281.5 1411.5h0M290.5 1411.5h0M313.5 1411.5h0M124.5 1412.5h0M127.5 1412.5h0M133.5 1412.5h0M135.5 1412.5h0M147.5 1412.5h0M148.5 1412.5h0M152.5 1412.5h0M155.5 1412.5h0M162.5 1412.5h0M165.5 1412.5h0M171.5 1412.5h0M173.5 1412.5h0M174.5 1412.5h0M175.5 1412.5h0M176.5 1412.5h0M178.5 1412.5h0M179.5 1412.5h0M180.5 1412.5h0M181.5 1412.5h0M182.5 1412.5h0M183.5 1412.5h0M185.5 1412.5h0M188.5 1412.5h0M191.5 1412.5h0M192.5 1412.5h0M194.5 1412.5h0M196.5 1412.5h0M198.5 1412.5h0M201.5 1412.5h0M203.5 1412.5h0M204.5 1412.5h0M208.5 1412.5h0M209.5 1412.5h0M211.5 1412.5h0M212.5 1412.5h0M214.5 1412.5h0M215.5 1412.5h0M216.5 1412.5h0M220.5 1412.5h0M222.5 1412.5h0M223.5 1412.5h0M229.5 1412.5h0M231.5 1412.5h0M238.5 1412.5h0M243.5 1412.5h0M249.5 1412.5h0M254.5 1412.5h0M257.5 1412.5h0M258.5 1412.5h0M260.5 1412.5h0M262.5 1412.5h0M138.5 1413.5h0M140.5 1413.5h0M141.5 1413.5h0M142.5 1413.5h0M143.5 1413.5h0M144.5 1413.5h0M149.5 1413.5h0M152.5 1413.5h0M153.5 1413.5h0M155.5 1413.5h0M158.5 1413.5h0M159.5 1413.5h0M163.5 1413.5h0M164.5 1413.5h0M165.5 1413.5h0M167.5 1413.5h0M168.5 1413.5h0M169.5 1413.5h0M173.5 1413.5h0M174.5 1413.5h0M176.5 1413.5h0M177.5 1413.5h0M178.5 1413.5h0M180.5 1413.5h0M181.5 1413.5h0M183.5 1413.5h0M184.5 1413.5h0M185.5 1413.5h0M187.5 1413.5h0M188.5 1413.5h0M194.5 1413.5h0M195.5 1413.5h0M196.5 1413.5h0M197.5 1413.5h0M198.5 1413.5h0M200.5 1413.5h0M202.5 1413.5h0M203.5 1413.5h0M204.5 1413.5h0M205.5 1413.5h0M207.5 1413.5h0M209.5 1413.5h0M210.5 1413.5h0M212.5 1413.5h0M213.5 1413.5h0M216.5 1413.5h0M220.5 1413.5h0M222.5 1413.5h0M223.5 1413.5h0M224.5 1413.5h0M232.5 1413.5h0M235.5 1413.5h0M236.5 1413.5h0M240.5 1413.5h0M241.5 1413.5h0M243.5 1413.5h0M245.5 1413.5h0M247.5 1413.5h0M260.5 1413.5h0M295.5 1413.5h0M299.5 1413.5h0M307.5 1413.5h0M316.5 1413.5h0M107.5 1414.5h0M129.5 1414.5h0M137.5 1414.5h0M141.5 1414.5h0M145.5 1414.5h0M147.5 1414.5h0M148.5 1414.5h0M153.5 1414.5h0M155.5 1414.5h0M156.5 1414.5h0M157.5 1414.5h0M159.5 1414.5h0M161.5 1414.5h0M162.5 1414.5h0M165.5 1414.5h0M166.5 1414.5h0M167.5 1414.5h0M168.5 1414.5h0M171.5 1414.5h0M173.5 1414.5h0M174.5 1414.5h0M175.5 1414.5h0M176.5 1414.5h0M179.5 1414.5h0M182.5 1414.5h0M184.5 1414.5h0M185.5 1414.5h0M187.5 1414.5h0M188.5 1414.5h0M189.5 1414.5h0M192.5 1414.5h0M194.5 1414.5h0M196.5 1414.5h0M197.5 1414.5h0M198.5 1414.5h0M199.5 1414.5h0M201.5 1414.5h0M202.5 1414.5h0M204.5 1414.5h0M205.5 1414.5h0M206.5 1414.5h0M207.5 1414.5h0M210.5 1414.5h0M212.5 1414.5h0M214.5 1414.5h0M217.5 1414.5h0M220.5 1414.5h0M221.5 1414.5h0M224.5 1414.5h0M230.5 1414.5h0M241.5 1414.5h0M246.5 1414.5h0M247.5 1414.5h0M262.5 1414.5h0M277.5 1414.5h0M123.5 1415.5h0M129.5 1415.5h0M142.5 1415.5h0M144.5 1415.5h0M145.5 1415.5h0M148.5 1415.5h0M152.5 1415.5h0M154.5 1415.5h0M155.5 1415.5h0M156.5 1415.5h0M157.5 1415.5h0M159.5 1415.5h0M163.5 1415.5h0M167.5 1415.5h0M168.5 1415.5h0M169.5 1415.5h0M170.5 1415.5h0M171.5 1415.5h0M172.5 1415.5h0M174.5 1415.5h0M175.5 1415.5h0M179.5 1415.5h0M181.5 1415.5h0M184.5 1415.5h0M185.5 1415.5h0M189.5 1415.5h0M191.5 1415.5h0M192.5 1415.5h0M193.5 1415.5h0M194.5 1415.5h0M195.5 1415.5h0M196.5 1415.5h0M198.5 1415.5h0M199.5 1415.5h0M200.5 1415.5h0M203.5 1415.5h0M205.5 1415.5h0M206.5 1415.5h0M207.5 1415.5h0M208.5 1415.5h0M210.5 1415.5h0M214.5 1415.5h0M215.5 1415.5h0M216.5 1415.5h0M219.5 1415.5h0M221.5 1415.5h0M224.5 1415.5h0M230.5 1415.5h0M243.5 1415.5h0M245.5 1415.5h0M249.5 1415.5h0M252.5 1415.5h0M254.5 1415.5h0M263.5 1415.5h0M264.5 1415.5h0M271.5 1415.5h0M275.5 1415.5h0M278.5 1415.5h0M290.5 1415.5h0M302.5 1415.5h0M303.5 1415.5h0M113.5 1416.5h0M121.5 1416.5h0M123.5 1416.5h0M132.5 1416.5h0M133.5 1416.5h0M134.5 1416.5h0M135.5 1416.5h0M139.5 1416.5h0M156.5 1416.5h0M157.5 1416.5h0M158.5 1416.5h0M159.5 1416.5h0M161.5 1416.5h0M164.5 1416.5h0M165.5 1416.5h0M171.5 1416.5h0M172.5 1416.5h0M174.5 1416.5h0M175.5 1416.5h0M176.5 1416.5h0M179.5 1416.5h0M180.5 1416.5h0M181.5 1416.5h0M182.5 1416.5h0M184.5 1416.5h0M185.5 1416.5h0M187.5 1416.5h0M188.5 1416.5h0M189.5 1416.5h0M190.5 1416.5h0M193.5 1416.5h0M194.5 1416.5h0M195.5 1416.5h0M197.5 1416.5h0M199.5 1416.5h0M200.5 1416.5h0M204.5 1416.5h0M205.5 1416.5h0M206.5 1416.5h0M208.5 1416.5h0M209.5 1416.5h0M210.5 1416.5h0M211.5 1416.5h0M212.5 1416.5h0M215.5 1416.5h0M218.5 1416.5h0M220.5 1416.5h0M222.5 1416.5h0M224.5 1416.5h0M225.5 1416.5h0M226.5 1416.5h0M228.5 1416.5h0M230.5 1416.5h0M233.5 1416.5h0M235.5 1416.5h0M237.5 1416.5h0M240.5 1416.5h0M241.5 1416.5h0M251.5 1416.5h0M258.5 1416.5h0M285.5 1416.5h0M301.5 1416.5h0M332.5 1416.5h0M344.5 1416.5h0M118.5 1417.5h0M123.5 1417.5h0M127.5 1417.5h0M136.5 1417.5h0M141.5 1417.5h0M143.5 1417.5h0M145.5 1417.5h0M146.5 1417.5h0M148.5 1417.5h0M154.5 1417.5h0M158.5 1417.5h0M160.5 1417.5h0M166.5 1417.5h0M169.5 1417.5h0M172.5 1417.5h0M173.5 1417.5h0M175.5 1417.5h0M178.5 1417.5h0M179.5 1417.5h0M180.5 1417.5h0M181.5 1417.5h0M185.5 1417.5h0M186.5 1417.5h0M187.5 1417.5h0M188.5 1417.5h0M189.5 1417.5h0M190.5 1417.5h0M191.5 1417.5h0M192.5 1417.5h0M195.5 1417.5h0M196.5 1417.5h0M198.5 1417.5h0M199.5 1417.5h0M201.5 1417.5h0M202.5 1417.5h0M204.5 1417.5h0M207.5 1417.5h0M209.5 1417.5h0M214.5 1417.5h0M218.5 1417.5h0M221.5 1417.5h0M231.5 1417.5h0M236.5 1417.5h0M238.5 1417.5h0M240.5 1417.5h0M244.5 1417.5h0M247.5 1417.5h0M262.5 1417.5h0M296.5 1417.5h0M121.5 1418.5h0M124.5 1418.5h0M139.5 1418.5h0M147.5 1418.5h0M148.5 1418.5h0M151.5 1418.5h0M152.5 1418.5h0M153.5 1418.5h0M158.5 1418.5h0M160.5 1418.5h0M161.5 1418.5h0M162.5 1418.5h0M163.5 1418.5h0M165.5 1418.5h0M168.5 1418.5h0M170.5 1418.5h0M172.5 1418.5h0M173.5 1418.5h0M174.5 1418.5h0M177.5 1418.5h0M179.5 1418.5h0M180.5 1418.5h0M182.5 1418.5h0M186.5 1418.5h0M187.5 1418.5h0M188.5 1418.5h0M189.5 1418.5h0M191.5 1418.5h0M192.5 1418.5h0M194.5 1418.5h0M195.5 1418.5h0M197.5 1418.5h0M198.5 1418.5h0M200.5 1418.5h0M204.5 1418.5h0M205.5 1418.5h0M207.5 1418.5h0M208.5 1418.5h0M209.5 1418.5h0M210.5 1418.5h0M212.5 1418.5h0M214.5 1418.5h0M218.5 1418.5h0M220.5 1418.5h0M224.5 1418.5h0M228.5 1418.5h0M230.5 1418.5h0M231.5 1418.5h0M237.5 1418.5h0M242.5 1418.5h0M252.5 1418.5h0M263.5 1418.5h0M321.5 1418.5h0M133.5 1419.5h0M140.5 1419.5h0M147.5 1419.5h0M150.5 1419.5h0M159.5 1419.5h0M160.5 1419.5h0M163.5 1419.5h0M164.5 1419.5h0M165.5 1419.5h0M166.5 1419.5h0M173.5 1419.5h0M174.5 1419.5h0M176.5 1419.5h0M178.5 1419.5h0M179.5 1419.5h0M180.5 1419.5h0M182.5 1419.5h0M183.5 1419.5h0M185.5 1419.5h0M186.5 1419.5h0M187.5 1419.5h0M188.5 1419.5h0M189.5 1419.5h0M190.5 1419.5h0M191.5 1419.5h0M193.5 1419.5h0M195.5 1419.5h0M196.5 1419.5h0M197.5 1419.5h0M198.5 1419.5h0M199.5 1419.5h0M200.5 1419.5h0M202.5 1419.5h0M203.5 1419.5h0M205.5 1419.5h0M207.5 1419.5h0M208.5 1419.5h0M211.5 1419.5h0M212.5 1419.5h0M213.5 1419.5h0M215.5 1419.5h0M216.5 1419.5h0M217.5 1419.5h0M219.5 1419.5h0M222.5 1419.5h0M223.5 1419.5h0M228.5 1419.5h0M236.5 1419.5h0M241.5 1419.5h0M243.5 1419.5h0M244.5 1419.5h0M254.5 1419.5h0M255.5 1419.5h0M258.5 1419.5h0M274.5 1419.5h0M303.5 1419.5h0M322.5 1419.5h0M372.5 1419.5h0M132.5 1420.5h0M139.5 1420.5h0M142.5 1420.5h0M148.5 1420.5h0M149.5 1420.5h0M150.5 1420.5h0M152.5 1420.5h0M153.5 1420.5h0M154.5 1420.5h0M156.5 1420.5h0M160.5 1420.5h0M162.5 1420.5h0M166.5 1420.5h0M167.5 1420.5h0M169.5 1420.5h0M174.5 1420.5h0M175.5 1420.5h0M176.5 1420.5h0M177.5 1420.5h0M178.5 1420.5h0M179.5 1420.5h0M181.5 1420.5h0M182.5 1420.5h0M183.5 1420.5h0M184.5 1420.5h0M185.5 1420.5h0M186.5 1420.5h0M187.5 1420.5h0M188.5 1420.5h0M190.5 1420.5h0M191.5 1420.5h0M192.5 1420.5h0M193.5 1420.5h0M195.5 1420.5h0M200.5 1420.5h0M203.5 1420.5h0M204.5 1420.5h0M205.5 1420.5h0M209.5 1420.5h0M211.5 1420.5h0M213.5 1420.5h0M217.5 1420.5h0M219.5 1420.5h0M221.5 1420.5h0M228.5 1420.5h0M229.5 1420.5h0M230.5 1420.5h0M235.5 1420.5h0M236.5 1420.5h0M237.5 1420.5h0M239.5 1420.5h0M289.5 1420.5h0M312.5 1420.5h0M146.5 1421.5h0M148.5 1421.5h0M150.5 1421.5h0M154.5 1421.5h0M155.5 1421.5h0M157.5 1421.5h0M158.5 1421.5h0M159.5 1421.5h0M160.5 1421.5h0M162.5 1421.5h0M164.5 1421.5h0M165.5 1421.5h0M166.5 1421.5h0M167.5 1421.5h0M169.5 1421.5h0M170.5 1421.5h0M173.5 1421.5h0M179.5 1421.5h0M180.5 1421.5h0M182.5 1421.5h0M183.5 1421.5h0M184.5 1421.5h0M185.5 1421.5h0M188.5 1421.5h0M192.5 1421.5h0M193.5 1421.5h0M194.5 1421.5h0M195.5 1421.5h0M198.5 1421.5h0M201.5 1421.5h0M202.5 1421.5h0M203.5 1421.5h0M205.5 1421.5h0M208.5 1421.5h0M209.5 1421.5h0M211.5 1421.5h0M212.5 1421.5h0M213.5 1421.5h0M214.5 1421.5h0M217.5 1421.5h0M218.5 1421.5h0M219.5 1421.5h0M221.5 1421.5h0M223.5 1421.5h0M225.5 1421.5h0M228.5 1421.5h0M230.5 1421.5h0M233.5 1421.5h0M236.5 1421.5h0M239.5 1421.5h0M240.5 1421.5h0M242.5 1421.5h0M245.5 1421.5h0M251.5 1421.5h0M252.5 1421.5h0M262.5 1421.5h0M269.5 1421.5h0M286.5 1421.5h0M301.5 1421.5h0M318.5 1421.5h0M124.5 1422.5h0M128.5 1422.5h0M135.5 1422.5h0M137.5 1422.5h0M142.5 1422.5h0M144.5 1422.5h0M145.5 1422.5h0M148.5 1422.5h0M150.5 1422.5h0M153.5 1422.5h0M155.5 1422.5h0M159.5 1422.5h0M161.5 1422.5h0M162.5 1422.5h0M163.5 1422.5h0M164.5 1422.5h0M165.5 1422.5h0M167.5 1422.5h0M168.5 1422.5h0M169.5 1422.5h0M171.5 1422.5h0M173.5 1422.5h0M174.5 1422.5h0M175.5 1422.5h0M177.5 1422.5h0M178.5 1422.5h0M179.5 1422.5h0M181.5 1422.5h0M182.5 1422.5h0M183.5 1422.5h0M184.5 1422.5h0M185.5 1422.5h0M186.5 1422.5h0M187.5 1422.5h0M188.5 1422.5h0M189.5 1422.5h0M190.5 1422.5h0M191.5 1422.5h0M193.5 1422.5h0M195.5 1422.5h0M197.5 1422.5h0M198.5 1422.5h0M199.5 1422.5h0M200.5 1422.5h0M201.5 1422.5h0M203.5 1422.5h0M204.5 1422.5h0M205.5 1422.5h0M206.5 1422.5h0M207.5 1422.5h0M208.5 1422.5h0M212.5 1422.5h0M213.5 1422.5h0M215.5 1422.5h0M216.5 1422.5h0M217.5 1422.5h0M218.5 1422.5h0M219.5 1422.5h0M220.5 1422.5h0M222.5 1422.5h0M225.5 1422.5h0M227.5 1422.5h0M230.5 1422.5h0M232.5 1422.5h0M247.5 1422.5h0M280.5 1422.5h0M306.5 1422.5h0M316.5 1422.5h0M128.5 1423.5h0M132.5 1423.5h0M134.5 1423.5h0M135.5 1423.5h0M142.5 1423.5h0M143.5 1423.5h0M147.5 1423.5h0M148.5 1423.5h0M155.5 1423.5h0M156.5 1423.5h0M162.5 1423.5h0M169.5 1423.5h0M170.5 1423.5h0M172.5 1423.5h0M173.5 1423.5h0M174.5 1423.5h0M175.5 1423.5h0M177.5 1423.5h0M178.5 1423.5h0M180.5 1423.5h0M182.5 1423.5h0M183.5 1423.5h0M184.5 1423.5h0M185.5 1423.5h0M186.5 1423.5h0M187.5 1423.5h0M188.5 1423.5h0M189.5 1423.5h0M191.5 1423.5h0M192.5 1423.5h0M194.5 1423.5h0M196.5 1423.5h0M197.5 1423.5h0M198.5 1423.5h0M201.5 1423.5h0M202.5 1423.5h0M204.5 1423.5h0M205.5 1423.5h0M206.5 1423.5h0M209.5 1423.5h0M210.5 1423.5h0M211.5 1423.5h0M214.5 1423.5h0M215.5 1423.5h0M216.5 1423.5h0M217.5 1423.5h0M220.5 1423.5h0M221.5 1423.5h0M222.5 1423.5h0M223.5 1423.5h0M232.5 1423.5h0M233.5 1423.5h0M234.5 1423.5h0M241.5 1423.5h0M244.5 1423.5h0M249.5 1423.5h0M277.5 1423.5h0M283.5 1423.5h0M324.5 1423.5h0M344.5 1423.5h0M118.5 1424.5h0M124.5 1424.5h0M127.5 1424.5h0M128.5 1424.5h0M134.5 1424.5h0M148.5 1424.5h0M149.5 1424.5h0M150.5 1424.5h0M151.5 1424.5h0M152.5 1424.5h0M153.5 1424.5h0M154.5 1424.5h0M158.5 1424.5h0M161.5 1424.5h0M162.5 1424.5h0M163.5 1424.5h0M164.5 1424.5h0M167.5 1424.5h0M169.5 1424.5h0M171.5 1424.5h0M172.5 1424.5h0M173.5 1424.5h0M175.5 1424.5h0M176.5 1424.5h0M178.5 1424.5h0M179.5 1424.5h0M180.5 1424.5h0M183.5 1424.5h0M185.5 1424.5h0M186.5 1424.5h0M189.5 1424.5h0M191.5 1424.5h0M192.5 1424.5h0M194.5 1424.5h0M196.5 1424.5h0M197.5 1424.5h0M198.5 1424.5h0M199.5 1424.5h0M200.5 1424.5h0M201.5 1424.5h0M202.5 1424.5h0M204.5 1424.5h0M205.5 1424.5h0M206.5 1424.5h0M208.5 1424.5h0M209.5 1424.5h0M210.5 1424.5h0M211.5 1424.5h0M214.5 1424.5h0M215.5 1424.5h0M216.5 1424.5h0M218.5 1424.5h0M219.5 1424.5h0M221.5 1424.5h0M222.5 1424.5h0M224.5 1424.5h0M225.5 1424.5h0M229.5 1424.5h0M231.5 1424.5h0M234.5 1424.5h0M238.5 1424.5h0M248.5 1424.5h0M256.5 1424.5h0M263.5 1424.5h0M307.5 1424.5h0M357.5 1424.5h0M114.5 1425.5h0M127.5 1425.5h0M131.5 1425.5h0M136.5 1425.5h0M141.5 1425.5h0M143.5 1425.5h0M149.5 1425.5h0M150.5 1425.5h0M153.5 1425.5h0M154.5 1425.5h0M155.5 1425.5h0M157.5 1425.5h0M158.5 1425.5h0M159.5 1425.5h0M160.5 1425.5h0M161.5 1425.5h0M162.5 1425.5h0M163.5 1425.5h0M165.5 1425.5h0M168.5 1425.5h0M170.5 1425.5h0M172.5 1425.5h0M174.5 1425.5h0M177.5 1425.5h0M178.5 1425.5h0M181.5 1425.5h0M182.5 1425.5h0M184.5 1425.5h0M186.5 1425.5h0M187.5 1425.5h0M188.5 1425.5h0M189.5 1425.5h0M190.5 1425.5h0M191.5 1425.5h0M193.5 1425.5h0M194.5 1425.5h0M195.5 1425.5h0M196.5 1425.5h0M197.5 1425.5h0M198.5 1425.5h0M199.5 1425.5h0M203.5 1425.5h0M204.5 1425.5h0M207.5 1425.5h0M209.5 1425.5h0M210.5 1425.5h0M211.5 1425.5h0M213.5 1425.5h0M215.5 1425.5h0M216.5 1425.5h0M218.5 1425.5h0M220.5 1425.5h0M221.5 1425.5h0M222.5 1425.5h0M226.5 1425.5h0M228.5 1425.5h0M229.5 1425.5h0M232.5 1425.5h0M235.5 1425.5h0M242.5 1425.5h0M249.5 1425.5h0M251.5 1425.5h0M261.5 1425.5h0M262.5 1425.5h0M265.5 1425.5h0M271.5 1425.5h0M287.5 1425.5h0M343.5 1425.5h0M345.5 1425.5h0M101.5 1426.5h0M146.5 1426.5h0M148.5 1426.5h0M152.5 1426.5h0M153.5 1426.5h0M156.5 1426.5h0M158.5 1426.5h0M160.5 1426.5h0M161.5 1426.5h0M162.5 1426.5h0M164.5 1426.5h0M165.5 1426.5h0M170.5 1426.5h0M171.5 1426.5h0M172.5 1426.5h0M174.5 1426.5h0M175.5 1426.5h0M176.5 1426.5h0M177.5 1426.5h0M179.5 1426.5h0M180.5 1426.5h0M181.5 1426.5h0M183.5 1426.5h0M185.5 1426.5h0M187.5 1426.5h0M188.5 1426.5h0M189.5 1426.5h0M191.5 1426.5h0M192.5 1426.5h0M193.5 1426.5h0M195.5 1426.5h0M197.5 1426.5h0M199.5 1426.5h0M200.5 1426.5h0M203.5 1426.5h0M204.5 1426.5h0M207.5 1426.5h0M208.5 1426.5h0M210.5 1426.5h0M211.5 1426.5h0M213.5 1426.5h0M214.5 1426.5h0M215.5 1426.5h0M229.5 1426.5h0M231.5 1426.5h0M237.5 1426.5h0M239.5 1426.5h0M240.5 1426.5h0M241.5 1426.5h0M247.5 1426.5h0M251.5 1426.5h0M254.5 1426.5h0M255.5 1426.5h0M257.5 1426.5h0M328.5 1426.5h0M102.5 1427.5h0M107.5 1427.5h0M132.5 1427.5h0M135.5 1427.5h0M138.5 1427.5h0M139.5 1427.5h0M140.5 1427.5h0M143.5 1427.5h0M144.5 1427.5h0M149.5 1427.5h0M150.5 1427.5h0M153.5 1427.5h0M155.5 1427.5h0M156.5 1427.5h0M158.5 1427.5h0M160.5 1427.5h0M161.5 1427.5h0M164.5 1427.5h0M166.5 1427.5h0M167.5 1427.5h0M169.5 1427.5h0M171.5 1427.5h0M172.5 1427.5h0M174.5 1427.5h0M175.5 1427.5h0M176.5 1427.5h0M177.5 1427.5h0M178.5 1427.5h0M179.5 1427.5h0M181.5 1427.5h0M183.5 1427.5h0M185.5 1427.5h0M186.5 1427.5h0M187.5 1427.5h0M188.5 1427.5h0M190.5 1427.5h0M191.5 1427.5h0M192.5 1427.5h0M193.5 1427.5h0M200.5 1427.5h0M201.5 1427.5h0M202.5 1427.5h0M203.5 1427.5h0M208.5 1427.5h0M211.5 1427.5h0M215.5 1427.5h0M220.5 1427.5h0M226.5 1427.5h0M227.5 1427.5h0M230.5 1427.5h0M240.5 1427.5h0M269.5 1427.5h0M273.5 1427.5h0M296.5 1427.5h0M348.5 1427.5h0M116.5 1428.5h0M130.5 1428.5h0M132.5 1428.5h0M136.5 1428.5h0M137.5 1428.5h0M139.5 1428.5h0M144.5 1428.5h0M149.5 1428.5h0M150.5 1428.5h0M151.5 1428.5h0M152.5 1428.5h0M153.5 1428.5h0M155.5 1428.5h0M159.5 1428.5h0M161.5 1428.5h0M163.5 1428.5h0M164.5 1428.5h0M166.5 1428.5h0M168.5 1428.5h0M170.5 1428.5h0M171.5 1428.5h0M174.5 1428.5h0M175.5 1428.5h0M177.5 1428.5h0M179.5 1428.5h0M180.5 1428.5h0M181.5 1428.5h0M182.5 1428.5h0M183.5 1428.5h0M185.5 1428.5h0M186.5 1428.5h0M188.5 1428.5h0M189.5 1428.5h0M190.5 1428.5h0M191.5 1428.5h0M192.5 1428.5h0M194.5 1428.5h0M196.5 1428.5h0M198.5 1428.5h0M199.5 1428.5h0M200.5 1428.5h0M201.5 1428.5h0M202.5 1428.5h0M209.5 1428.5h0M211.5 1428.5h0M212.5 1428.5h0M214.5 1428.5h0M215.5 1428.5h0M221.5 1428.5h0M224.5 1428.5h0M227.5 1428.5h0M229.5 1428.5h0M230.5 1428.5h0M233.5 1428.5h0M247.5 1428.5h0M248.5 1428.5h0M249.5 1428.5h0M252.5 1428.5h0M305.5 1428.5h0M338.5 1428.5h0M93.5 1429.5h0M123.5 1429.5h0M126.5 1429.5h0M133.5 1429.5h0M143.5 1429.5h0M144.5 1429.5h0M145.5 1429.5h0M146.5 1429.5h0M149.5 1429.5h0M156.5 1429.5h0M157.5 1429.5h0M160.5 1429.5h0M163.5 1429.5h0M165.5 1429.5h0M166.5 1429.5h0M167.5 1429.5h0M168.5 1429.5h0M169.5 1429.5h0M170.5 1429.5h0M173.5 1429.5h0M174.5 1429.5h0M175.5 1429.5h0M177.5 1429.5h0M178.5 1429.5h0M179.5 1429.5h0M180.5 1429.5h0M181.5 1429.5h0M182.5 1429.5h0M183.5 1429.5h0M184.5 1429.5h0M186.5 1429.5h0M188.5 1429.5h0M189.5 1429.5h0M190.5 1429.5h0M191.5 1429.5h0M193.5 1429.5h0M194.5 1429.5h0M195.5 1429.5h0M197.5 1429.5h0M198.5 1429.5h0M199.5 1429.5h0M201.5 1429.5h0M203.5 1429.5h0M205.5 1429.5h0M206.5 1429.5h0M211.5 1429.5h0M212.5 1429.5h0M214.5 1429.5h0M215.5 1429.5h0M216.5 1429.5h0M218.5 1429.5h0M219.5 1429.5h0M220.5 1429.5h0M221.5 1429.5h0M223.5 1429.5h0M225.5 1429.5h0M227.5 1429.5h0M228.5 1429.5h0M230.5 1429.5h0M232.5 1429.5h0M236.5 1429.5h0M240.5 1429.5h0M253.5 1429.5h0M266.5 1429.5h0M269.5 1429.5h0M297.5 1429.5h0M315.5 1429.5h0M113.5 1430.5h0M127.5 1430.5h0M130.5 1430.5h0M135.5 1430.5h0M140.5 1430.5h0M144.5 1430.5h0M145.5 1430.5h0M150.5 1430.5h0M155.5 1430.5h0M159.5 1430.5h0M160.5 1430.5h0M162.5 1430.5h0M164.5 1430.5h0M167.5 1430.5h0M168.5 1430.5h0M171.5 1430.5h0M172.5 1430.5h0M173.5 1430.5h0M175.5 1430.5h0M176.5 1430.5h0M178.5 1430.5h0M179.5 1430.5h0M180.5 1430.5h0M181.5 1430.5h0M182.5 1430.5h0M184.5 1430.5h0M185.5 1430.5h0M186.5 1430.5h0M187.5 1430.5h0M190.5 1430.5h0M191.5 1430.5h0M192.5 1430.5h0M194.5 1430.5h0M197.5 1430.5h0M198.5 1430.5h0M201.5 1430.5h0M202.5 1430.5h0M207.5 1430.5h0M208.5 1430.5h0M209.5 1430.5h0M210.5 1430.5h0M211.5 1430.5h0M212.5 1430.5h0M214.5 1430.5h0M215.5 1430.5h0M217.5 1430.5h0M222.5 1430.5h0M228.5 1430.5h0M239.5 1430.5h0M240.5 1430.5h0M256.5 1430.5h0M258.5 1430.5h0M303.5 1430.5h0M304.5 1430.5h0M127.5 1431.5h0M136.5 1431.5h0M139.5 1431.5h0M142.5 1431.5h0M144.5 1431.5h0M151.5 1431.5h0M156.5 1431.5h0M157.5 1431.5h0M159.5 1431.5h0M161.5 1431.5h0M169.5 1431.5h0M170.5 1431.5h0M172.5 1431.5h0M175.5 1431.5h0M177.5 1431.5h0M179.5 1431.5h0M180.5 1431.5h0M181.5 1431.5h0M182.5 1431.5h0M185.5 1431.5h0M189.5 1431.5h0M190.5 1431.5h0M192.5 1431.5h0M193.5 1431.5h0M196.5 1431.5h0M197.5 1431.5h0M199.5 1431.5h0M200.5 1431.5h0M202.5 1431.5h0M205.5 1431.5h0M212.5 1431.5h0M215.5 1431.5h0M216.5 1431.5h0M217.5 1431.5h0M218.5 1431.5h0M224.5 1431.5h0M226.5 1431.5h0M230.5 1431.5h0M233.5 1431.5h0M234.5 1431.5h0M235.5 1431.5h0M237.5 1431.5h0M240.5 1431.5h0M241.5 1431.5h0M247.5 1431.5h0M285.5 1431.5h0M300.5 1431.5h0M307.5 1431.5h0M312.5 1431.5h0M326.5 1431.5h0M122.5 1432.5h0M123.5 1432.5h0M130.5 1432.5h0M132.5 1432.5h0M137.5 1432.5h0M143.5 1432.5h0M147.5 1432.5h0M157.5 1432.5h0M158.5 1432.5h0M160.5 1432.5h0M162.5 1432.5h0M164.5 1432.5h0M165.5 1432.5h0M166.5 1432.5h0M168.5 1432.5h0M170.5 1432.5h0M174.5 1432.5h0M175.5 1432.5h0M176.5 1432.5h0M178.5 1432.5h0M180.5 1432.5h0M181.5 1432.5h0M182.5 1432.5h0M183.5 1432.5h0M184.5 1432.5h0M186.5 1432.5h0M187.5 1432.5h0M188.5 1432.5h0M190.5 1432.5h0M194.5 1432.5h0M195.5 1432.5h0M196.5 1432.5h0M197.5 1432.5h0M198.5 1432.5h0M199.5 1432.5h0M201.5 1432.5h0M205.5 1432.5h0M206.5 1432.5h0M207.5 1432.5h0M208.5 1432.5h0M209.5 1432.5h0M212.5 1432.5h0M213.5 1432.5h0M215.5 1432.5h0M217.5 1432.5h0M222.5 1432.5h0M225.5 1432.5h0M231.5 1432.5h0M234.5 1432.5h0M235.5 1432.5h0M236.5 1432.5h0M241.5 1432.5h0M242.5 1432.5h0M249.5 1432.5h0M254.5 1432.5h0M272.5 1432.5h0M284.5 1432.5h0M291.5 1432.5h0M321.5 1432.5h0M324.5 1432.5h0M120.5 1433.5h0M125.5 1433.5h0M135.5 1433.5h0M139.5 1433.5h0M141.5 1433.5h0M142.5 1433.5h0M146.5 1433.5h0M148.5 1433.5h0M151.5 1433.5h0M155.5 1433.5h0M156.5 1433.5h0M157.5 1433.5h0M158.5 1433.5h0M161.5 1433.5h0M162.5 1433.5h0M164.5 1433.5h0M165.5 1433.5h0M166.5 1433.5h0M167.5 1433.5h0M172.5 1433.5h0M173.5 1433.5h0M174.5 1433.5h0M175.5 1433.5h0M176.5 1433.5h0M177.5 1433.5h0M179.5 1433.5h0M181.5 1433.5h0M182.5 1433.5h0M186.5 1433.5h0M187.5 1433.5h0M188.5 1433.5h0M190.5 1433.5h0M191.5 1433.5h0M192.5 1433.5h0M195.5 1433.5h0M197.5 1433.5h0M198.5 1433.5h0M200.5 1433.5h0M204.5 1433.5h0M205.5 1433.5h0M206.5 1433.5h0M208.5 1433.5h0M214.5 1433.5h0M218.5 1433.5h0M221.5 1433.5h0M223.5 1433.5h0M227.5 1433.5h0M228.5 1433.5h0M229.5 1433.5h0M233.5 1433.5h0M235.5 1433.5h0M241.5 1433.5h0M254.5 1433.5h0M297.5 1433.5h0M300.5 1433.5h0M318.5 1433.5h0M99.5 1434.5h0M112.5 1434.5h0M138.5 1434.5h0M140.5 1434.5h0M142.5 1434.5h0M143.5 1434.5h0M144.5 1434.5h0M145.5 1434.5h0M149.5 1434.5h0M154.5 1434.5h0M158.5 1434.5h0M159.5 1434.5h0M160.5 1434.5h0M161.5 1434.5h0M163.5 1434.5h0M167.5 1434.5h0M168.5 1434.5h0M170.5 1434.5h0M171.5 1434.5h0M175.5 1434.5h0M177.5 1434.5h0M181.5 1434.5h0M182.5 1434.5h0M186.5 1434.5h0M188.5 1434.5h0M189.5 1434.5h0M190.5 1434.5h0M193.5 1434.5h0M194.5 1434.5h0M196.5 1434.5h0M197.5 1434.5h0M198.5 1434.5h0M200.5 1434.5h0M201.5 1434.5h0M204.5 1434.5h0M207.5 1434.5h0M209.5 1434.5h0M210.5 1434.5h0M212.5 1434.5h0M217.5 1434.5h0M218.5 1434.5h0M219.5 1434.5h0M222.5 1434.5h0M226.5 1434.5h0M228.5 1434.5h0M233.5 1434.5h0M237.5 1434.5h0M239.5 1434.5h0M257.5 1434.5h0M315.5 1434.5h0M330.5 1434.5h0M344.5 1434.5h0M125.5 1435.5h0M128.5 1435.5h0M132.5 1435.5h0M137.5 1435.5h0M148.5 1435.5h0M151.5 1435.5h0M153.5 1435.5h0M154.5 1435.5h0M157.5 1435.5h0M159.5 1435.5h0M161.5 1435.5h0M162.5 1435.5h0M163.5 1435.5h0M164.5 1435.5h0M165.5 1435.5h0M166.5 1435.5h0M170.5 1435.5h0M173.5 1435.5h0M175.5 1435.5h0M178.5 1435.5h0M179.5 1435.5h0M181.5 1435.5h0M182.5 1435.5h0M184.5 1435.5h0M185.5 1435.5h0M187.5 1435.5h0M188.5 1435.5h0M190.5 1435.5h0M193.5 1435.5h0M194.5 1435.5h0M195.5 1435.5h0M196.5 1435.5h0M197.5 1435.5h0M200.5 1435.5h0M201.5 1435.5h0M203.5 1435.5h0M204.5 1435.5h0M205.5 1435.5h0M206.5 1435.5h0M208.5 1435.5h0M209.5 1435.5h0M212.5 1435.5h0M214.5 1435.5h0M218.5 1435.5h0M222.5 1435.5h0M226.5 1435.5h0M228.5 1435.5h0M237.5 1435.5h0M255.5 1435.5h0M293.5 1435.5h0M105.5 1436.5h0M117.5 1436.5h0M141.5 1436.5h0M142.5 1436.5h0M151.5 1436.5h0M154.5 1436.5h0M155.5 1436.5h0M156.5 1436.5h0M158.5 1436.5h0M159.5 1436.5h0M160.5 1436.5h0M161.5 1436.5h0M162.5 1436.5h0M165.5 1436.5h0M166.5 1436.5h0M167.5 1436.5h0M168.5 1436.5h0M169.5 1436.5h0M174.5 1436.5h0M177.5 1436.5h0M179.5 1436.5h0M181.5 1436.5h0M185.5 1436.5h0M187.5 1436.5h0M190.5 1436.5h0M192.5 1436.5h0M193.5 1436.5h0M195.5 1436.5h0M198.5 1436.5h0M201.5 1436.5h0M203.5 1436.5h0M207.5 1436.5h0M208.5 1436.5h0M212.5 1436.5h0M213.5 1436.5h0M214.5 1436.5h0M217.5 1436.5h0M219.5 1436.5h0M225.5 1436.5h0M228.5 1436.5h0M231.5 1436.5h0M232.5 1436.5h0M233.5 1436.5h0M234.5 1436.5h0M244.5 1436.5h0M255.5 1436.5h0M133.5 1437.5h0M139.5 1437.5h0M141.5 1437.5h0M149.5 1437.5h0M153.5 1437.5h0M158.5 1437.5h0M159.5 1437.5h0M160.5 1437.5h0M162.5 1437.5h0M163.5 1437.5h0M166.5 1437.5h0M167.5 1437.5h0M168.5 1437.5h0M169.5 1437.5h0M172.5 1437.5h0M178.5 1437.5h0M179.5 1437.5h0M182.5 1437.5h0M183.5 1437.5h0M186.5 1437.5h0M187.5 1437.5h0M188.5 1437.5h0M189.5 1437.5h0M193.5 1437.5h0M197.5 1437.5h0M200.5 1437.5h0M204.5 1437.5h0M205.5 1437.5h0M206.5 1437.5h0M209.5 1437.5h0M210.5 1437.5h0M211.5 1437.5h0M213.5 1437.5h0M218.5 1437.5h0M222.5 1437.5h0M223.5 1437.5h0M227.5 1437.5h0M229.5 1437.5h0M231.5 1437.5h0M253.5 1437.5h0M261.5 1437.5h0M274.5 1437.5h0M334.5 1437.5h0M349.5 1437.5h0M128.5 1438.5h0M135.5 1438.5h0M142.5 1438.5h0M145.5 1438.5h0M150.5 1438.5h0M152.5 1438.5h0M155.5 1438.5h0M157.5 1438.5h0M158.5 1438.5h0M161.5 1438.5h0M163.5 1438.5h0M164.5 1438.5h0M166.5 1438.5h0M167.5 1438.5h0M168.5 1438.5h0M169.5 1438.5h0M172.5 1438.5h0M176.5 1438.5h0M180.5 1438.5h0M182.5 1438.5h0M183.5 1438.5h0M184.5 1438.5h0M185.5 1438.5h0M186.5 1438.5h0M187.5 1438.5h0M190.5 1438.5h0M194.5 1438.5h0M195.5 1438.5h0M198.5 1438.5h0M199.5 1438.5h0M201.5 1438.5h0M204.5 1438.5h0M205.5 1438.5h0M207.5 1438.5h0M208.5 1438.5h0M212.5 1438.5h0M216.5 1438.5h0M217.5 1438.5h0M235.5 1438.5h0M237.5 1438.5h0M256.5 1438.5h0M362.5 1438.5h0M109.5 1439.5h0M128.5 1439.5h0M137.5 1439.5h0M138.5 1439.5h0M142.5 1439.5h0M145.5 1439.5h0M150.5 1439.5h0M154.5 1439.5h0M156.5 1439.5h0M157.5 1439.5h0M158.5 1439.5h0M160.5 1439.5h0M163.5 1439.5h0M164.5 1439.5h0M165.5 1439.5h0M167.5 1439.5h0M168.5 1439.5h0M170.5 1439.5h0M173.5 1439.5h0M174.5 1439.5h0M175.5 1439.5h0M178.5 1439.5h0M180.5 1439.5h0M181.5 1439.5h0M182.5 1439.5h0M184.5 1439.5h0M191.5 1439.5h0M193.5 1439.5h0M194.5 1439.5h0M196.5 1439.5h0M197.5 1439.5h0M198.5 1439.5h0M199.5 1439.5h0M201.5 1439.5h0M202.5 1439.5h0M203.5 1439.5h0M213.5 1439.5h0M217.5 1439.5h0M220.5 1439.5h0M221.5 1439.5h0M240.5 1439.5h0M244.5 1439.5h0M251.5 1439.5h0M281.5 1439.5h0M334.5 1439.5h0M387.5 1439.5h0M122.5 1440.5h0M131.5 1440.5h0M138.5 1440.5h0M153.5 1440.5h0M163.5 1440.5h0M164.5 1440.5h0M165.5 1440.5h0M166.5 1440.5h0M170.5 1440.5h0M172.5 1440.5h0M173.5 1440.5h0M174.5 1440.5h0M176.5 1440.5h0M178.5 1440.5h0M180.5 1440.5h0M183.5 1440.5h0M185.5 1440.5h0M186.5 1440.5h0M187.5 1440.5h0M189.5 1440.5h0M190.5 1440.5h0M201.5 1440.5h0M204.5 1440.5h0M205.5 1440.5h0M209.5 1440.5h0M212.5 1440.5h0M215.5 1440.5h0M218.5 1440.5h0M221.5 1440.5h0M224.5 1440.5h0M225.5 1440.5h0M228.5 1440.5h0M231.5 1440.5h0M232.5 1440.5h0M245.5 1440.5h0M246.5 1440.5h0M247.5 1440.5h0M252.5 1440.5h0M267.5 1440.5h0M268.5 1440.5h0M312.5 1440.5h0M349.5 1440.5h0M107.5 1441.5h0M110.5 1441.5h0M118.5 1441.5h0M122.5 1441.5h0M135.5 1441.5h0M150.5 1441.5h0M154.5 1441.5h0M156.5 1441.5h0M160.5 1441.5h0M161.5 1441.5h0M162.5 1441.5h0M168.5 1441.5h0M170.5 1441.5h0M171.5 1441.5h0M172.5 1441.5h0M173.5 1441.5h0M174.5 1441.5h0M176.5 1441.5h0M180.5 1441.5h0M181.5 1441.5h0M182.5 1441.5h0M183.5 1441.5h0M185.5 1441.5h0M191.5 1441.5h0M192.5 1441.5h0M194.5 1441.5h0M195.5 1441.5h0M203.5 1441.5h0M206.5 1441.5h0M213.5 1441.5h0M214.5 1441.5h0M216.5 1441.5h0M222.5 1441.5h0M229.5 1441.5h0M233.5 1441.5h0M241.5 1441.5h0M250.5 1441.5h0M320.5 1441.5h0M329.5 1441.5h0M109.5 1442.5h0M132.5 1442.5h0M137.5 1442.5h0M139.5 1442.5h0M144.5 1442.5h0M152.5 1442.5h0M155.5 1442.5h0M158.5 1442.5h0M161.5 1442.5h0M162.5 1442.5h0M164.5 1442.5h0M168.5 1442.5h0M169.5 1442.5h0M172.5 1442.5h0M177.5 1442.5h0M178.5 1442.5h0M180.5 1442.5h0M182.5 1442.5h0M184.5 1442.5h0M185.5 1442.5h0M188.5 1442.5h0M189.5 1442.5h0M191.5 1442.5h0M197.5 1442.5h0M201.5 1442.5h0M205.5 1442.5h0M207.5 1442.5h0M209.5 1442.5h0M210.5 1442.5h0M215.5 1442.5h0M225.5 1442.5h0M226.5 1442.5h0M230.5 1442.5h0M232.5 1442.5h0M241.5 1442.5h0M262.5 1442.5h0M297.5 1442.5h0M312.5 1442.5h0M333.5 1442.5h0M114.5 1443.5h0M126.5 1443.5h0M137.5 1443.5h0M140.5 1443.5h0M149.5 1443.5h0M153.5 1443.5h0M155.5 1443.5h0M156.5 1443.5h0M163.5 1443.5h0M166.5 1443.5h0M171.5 1443.5h0M174.5 1443.5h0M175.5 1443.5h0M181.5 1443.5h0M185.5 1443.5h0M187.5 1443.5h0M190.5 1443.5h0M191.5 1443.5h0M194.5 1443.5h0M201.5 1443.5h0M202.5 1443.5h0M204.5 1443.5h0M205.5 1443.5h0M206.5 1443.5h0M208.5 1443.5h0M213.5 1443.5h0M231.5 1443.5h0M265.5 1443.5h0M286.5 1443.5h0M125.5 1444.5h0M130.5 1444.5h0M134.5 1444.5h0M145.5 1444.5h0M146.5 1444.5h0M147.5 1444.5h0M152.5 1444.5h0M153.5 1444.5h0M155.5 1444.5h0M162.5 1444.5h0M166.5 1444.5h0M167.5 1444.5h0M168.5 1444.5h0M169.5 1444.5h0M171.5 1444.5h0M173.5 1444.5h0M175.5 1444.5h0M178.5 1444.5h0M179.5 1444.5h0M187.5 1444.5h0M195.5 1444.5h0M202.5 1444.5h0M205.5 1444.5h0M207.5 1444.5h0M208.5 1444.5h0M209.5 1444.5h0M215.5 1444.5h0M221.5 1444.5h0M225.5 1444.5h0M232.5 1444.5h0M239.5 1444.5h0M258.5 1444.5h0M330.5 1444.5h0M123.5 1445.5h0M133.5 1445.5h0M136.5 1445.5h0M146.5 1445.5h0M153.5 1445.5h0M159.5 1445.5h0M171.5 1445.5h0M178.5 1445.5h0M182.5 1445.5h0M191.5 1445.5h0M193.5 1445.5h0M199.5 1445.5h0M206.5 1445.5h0M214.5 1445.5h0M225.5 1445.5h0M304.5 1445.5h0M305.5 1445.5h0M118.5 1446.5h0M131.5 1446.5h0M136.5 1446.5h0M137.5 1446.5h0M142.5 1446.5h0M146.5 1446.5h0M147.5 1446.5h0M151.5 1446.5h0M155.5 1446.5h0M160.5 1446.5h0M173.5 1446.5h0M175.5 1446.5h0M176.5 1446.5h0M179.5 1446.5h0M181.5 1446.5h0M183.5 1446.5h0M189.5 1446.5h0M208.5 1446.5h0M210.5 1446.5h0M211.5 1446.5h0M212.5 1446.5h0M213.5 1446.5h0M214.5 1446.5h0M217.5 1446.5h0M221.5 1446.5h0M225.5 1446.5h0M248.5 1446.5h0M302.5 1446.5h0M127.5 1447.5h0M130.5 1447.5h0M139.5 1447.5h0M148.5 1447.5h0M155.5 1447.5h0M158.5 1447.5h0M159.5 1447.5h0M162.5 1447.5h0M164.5 1447.5h0M165.5 1447.5h0M174.5 1447.5h0M180.5 1447.5h0M182.5 1447.5h0M185.5 1447.5h0M191.5 1447.5h0M195.5 1447.5h0M197.5 1447.5h0M207.5 1447.5h0M208.5 1447.5h0M209.5 1447.5h0M210.5 1447.5h0M212.5 1447.5h0M218.5 1447.5h0M228.5 1447.5h0M234.5 1447.5h0M315.5 1447.5h0M127.5 1448.5h0M137.5 1448.5h0M147.5 1448.5h0M148.5 1448.5h0M155.5 1448.5h0M160.5 1448.5h0M161.5 1448.5h0M189.5 1448.5h0M191.5 1448.5h0M192.5 1448.5h0M193.5 1448.5h0M195.5 1448.5h0M211.5 1448.5h0M218.5 1448.5h0M219.5 1448.5h0M226.5 1448.5h0M227.5 1448.5h0M231.5 1448.5h0M233.5 1448.5h0M274.5 1448.5h0M127.5 1449.5h0M140.5 1449.5h0M147.5 1449.5h0M153.5 1449.5h0M165.5 1449.5h0M168.5 1449.5h0M169.5 1449.5h0M173.5 1449.5h0M188.5 1449.5h0M197.5 1449.5h0M203.5 1449.5h0M219.5 1449.5h0M225.5 1449.5h0M226.5 1449.5h0M238.5 1449.5h0M255.5 1449.5h0M260.5 1449.5h0M126.5 1450.5h0M139.5 1450.5h0M150.5 1450.5h0M169.5 1450.5h0M171.5 1450.5h0M176.5 1450.5h0M189.5 1450.5h0M190.5 1450.5h0M196.5 1450.5h0M197.5 1450.5h0M211.5 1450.5h0M213.5 1450.5h0M219.5 1450.5h0M264.5 1450.5h0M139.5 1451.5h0M167.5 1451.5h0M174.5 1451.5h0M182.5 1451.5h0M185.5 1451.5h0M189.5 1451.5h0M192.5 1451.5h0M195.5 1451.5h0M196.5 1451.5h0M198.5 1451.5h0M199.5 1451.5h0M202.5 1451.5h0M222.5 1451.5h0M253.5 1451.5h0M150.5 1452.5h0M156.5 1452.5h0M162.5 1452.5h0M163.5 1452.5h0M165.5 1452.5h0M183.5 1452.5h0M190.5 1452.5h0M196.5 1452.5h0M207.5 1452.5h0M212.5 1452.5h0M309.5 1452.5h0M162.5 1453.5h0M170.5 1453.5h0M172.5 1453.5h0M177.5 1453.5h0M182.5 1453.5h0M187.5 1453.5h0M188.5 1453.5h0M194.5 1453.5h0M195.5 1453.5h0M210.5 1453.5h0M237.5 1453.5h0M319.5 1453.5h0M145.5 1454.5h0M162.5 1454.5h0M172.5 1454.5h0M174.5 1454.5h0M183.5 1454.5h0M186.5 1454.5h0M188.5 1454.5h0M199.5 1454.5h0M247.5 1454.5h0M312.5 1454.5h0"/>
<g stroke="#000" stroke-width="1.8" fill="none">
<rect x="83.8" y="1149" width="327.5" height="327.6"/>
<path d="M243 1149V1476.6M83.8 1339.3H411.3"/>
<path stroke-width="1.6" d="M83.8 1476.6v8M120.4 1476.6v8M219 1476.6v8M315 1476.6v8M411.3 1476.6v8M98.4 1476.6v5M141 1476.6v5M158 1476.6v5M172 1476.6v5M183 1476.6v5M191 1476.6v5M198.4 1476.6v5M204.7 1476.6v5M210 1476.6v5M215 1476.6v5M248 1476.6v5M264.9 1476.6v5M276.9 1476.6v5M286.2 1476.6v5M293.9 1476.6v5M300.3 1476.6v5M305.9 1476.6v5M310.8 1476.6v5M344 1476.6v5M360.9 1476.6v5M372.9 1476.6v5M382.2 1476.6v5M389.9 1476.6v5M396.3 1476.6v5M401.9 1476.6v5M406.8 1476.6v5M83.8 1149h-8M83.8 1237.8h-8M83.8 1326h-8M83.8 1408.3h-8M83.8 1442.3h-8M83.8 1476.6h-8M83.8 1211.1h-5M83.8 1195.4h-5M83.8 1184.3h-5M83.8 1175.7h-5M83.8 1168.7h-5M83.8 1162.8h-5M83.8 1157.6h-5M83.8 1153.1h-5M83.8 1299.4h-5M83.8 1283.9h-5M83.8 1272.9h-5M83.8 1264.4h-5M83.8 1257.4h-5M83.8 1251.5h-5M83.8 1246.3h-5M83.8 1241.8h-5M83.8 1383.5h-5M83.8 1369h-5M83.8 1358.8h-5M83.8 1350.8h-5M83.8 1344.3h-5M83.8 1338.7h-5M83.8 1334h-5M83.8 1329.8h-5M83.8 1411.8h-5M83.8 1415.2h-5M83.8 1418.6h-5M83.8 1422h-5M83.8 1425.4h-5M83.8 1428.8h-5M83.8 1432.2h-5M83.8 1435.6h-5M83.8 1439h-5M83.8 1445.8h-5M83.8 1449.2h-5M83.8 1452.6h-5M83.8 1456h-5M83.8 1459.4h-5M83.8 1462.8h-5M83.8 1466.2h-5M83.8 1469.6h-5M83.8 1473h-5"/>
</g>
<g font-family="Liberation Sans" fill="#000">
<text x="120.4" y="1504.6" font-size="17" text-anchor="middle">0</text>
<text x="221.5" y="1504.6" font-size="17" text-anchor="middle">10<tspan font-size="12" dy="-6.5">4</tspan></text>
<text x="317.5" y="1504.6" font-size="17" text-anchor="middle">10<tspan font-size="12" dy="-6.5">5</tspan></text>
<text x="413.8" y="1504.6" font-size="17" text-anchor="middle">10<tspan font-size="12" dy="-6.5">6</tspan></text>
<text x="0" y="0" font-size="17" text-anchor="middle" transform="translate(68.5 1442.3) rotate(-90)">0</text>
<text x="0" y="0" font-size="17" text-anchor="middle" transform="translate(68.5 1409.8) rotate(-90)">10<tspan font-size="12" dy="-8.5">3</tspan></text>
<text x="0" y="0" font-size="17" text-anchor="middle" transform="translate(68.5 1327.5) rotate(-90)">10<tspan font-size="12" dy="-8.5">4</tspan></text>
<text x="0" y="0" font-size="17" text-anchor="middle" transform="translate(68.5 1239.3) rotate(-90)">10<tspan font-size="12" dy="-8.5">5</tspan></text>
<text x="0" y="0" font-size="17" text-anchor="middle" transform="translate(68.5 1150.5) rotate(-90)">10<tspan font-size="12" dy="-8.5">6</tspan></text>
<text x="247.6" y="1525.1" font-size="16.8" text-anchor="middle">Annexin V FITC-A</text>
<text transform="translate(47.5 1312.8) rotate(-90)" font-size="17.5" text-anchor="middle">PI PE-A</text>
<g font-size="16.8">
<text x="89.8" y="1171">Q1-UL(0.16%)</text>
<text x="405.3" y="1171" text-anchor="end">Q1-UR(5.02%)</text>
<text x="89.8" y="1465.6">Q1-LL(90.89%)</text>
<text x="405.3" y="1465.6" text-anchor="end">Q1-LR(3.93%)</text>
</g></g>
<text x="646.2" y="1111.6" font-family="Liberation Sans" font-weight="bold" font-size="33.4" text-anchor="middle">OGD4h/R24h</text>
<path fill="#ff0000" d="M632.8 1421.1 633.4 1422.4 631.8 1423.8 633.5 1425 635.4 1426.3 635.4 1427.6 636.5 1429.1 634.9 1430.3 635.6 1431.8 634.7 1433 634.6 1434.5 633.6 1435.8 631.4 1436.6 630.7 1437.9 629.7 1439.1 629.8 1440.8 628.4 1442 626.3 1442.6 626.2 1444.6 623.9 1445.1 623.1 1446.8 620.7 1447.2 618.7 1447.9 617.7 1449.7 614.8 1449.3 612.6 1449.7 611 1451 608.7 1451 606.1 1450.7 604.2 1451 601.7 1451 599.3 1451 597 1451 594.5 1451 592.2 1451 589.8 1451 587.5 1451 585.8 1451 584 1451 582.5 1451 581.3 1450.5 580.3 1449.1 579 1448.1 577.7 1447.3 577.6 1445.5 575.5 1445.6 574.8 1444.5 573.3 1443.9 570.7 1444.2 569.4 1443.4 567.8 1442.8 565.7 1442.4 563.5 1441.9 563.3 1440.5 560 1440.2 561 1438.4 558.5 1437.7 557.5 1436.4 558.6 1434.6 556.1 1433.6 556.3 1431.9 555.1 1430.3 555.8 1428.7 555.3 1427.2 554.8 1425.7 553.1 1424 555.5 1422.6 555.2 1421 556.3 1419.6 558 1418.3 561.3 1417.5 563.2 1416.5 564.8 1415.4 566 1414.3 568.8 1413.9 568.8 1412.4 569.7 1411.2 570.6 1409.9 572.8 1409.4 572.4 1407.1 574.9 1406.9 576 1405.4 577.3 1404.2 578.9 1403.1 581.7 1403.4 583.4 1402.3 585.9 1402.7 588.3 1403.1 590.5 1403 592.6 1403.2 594.8 1403.1 596.9 1402.7 598.9 1401.4 601.1 1400.3 603 1401.1 605.1 1400.8 607.7 1398.9 609.7 1399.4 611.7 1399.6 613.6 1400 615.9 1399.7 618.2 1399.8 619.6 1400.8 621.5 1401.3 622.9 1402.2 626.2 1401.5 626.8 1403.1 629.6 1403 632.2 1403.3 632.6 1405 635.2 1405.3 636.6 1406.4 636.6 1408.2 637 1409.7 635.2 1412.1 635.2 1413.6 633.7 1415.5 634.4 1416.7 632.3 1418.5 632.2 1419.8Z"/>
<path fill="none" stroke="#ff0000" stroke-width="1.6" stroke-linecap="square" d="M714.5 1154.5h0M725.5 1155.5h0M702.5 1157.5h0M693.5 1163.5h0M722.5 1166.5h0M690.5 1167.5h0M708.5 1169.5h0M706.5 1170.5h0M724.5 1170.5h0M714.5 1172.5h0M731.5 1173.5h0M707.5 1177.5h0M709.5 1177.5h0M743.5 1177.5h0M713.5 1179.5h0M723.5 1179.5h0M749.5 1179.5h0M682.5 1180.5h0M713.5 1181.5h0M707.5 1182.5h0M726.5 1182.5h0M727.5 1182.5h0M705.5 1183.5h0M716.5 1183.5h0M733.5 1184.5h0M758.5 1184.5h0M707.5 1185.5h0M723.5 1185.5h0M762.5 1186.5h0M705.5 1187.5h0M710.5 1187.5h0M712.5 1187.5h0M720.5 1187.5h0M706.5 1188.5h0M689.5 1189.5h0M706.5 1189.5h0M748.5 1189.5h0M715.5 1191.5h0M722.5 1191.5h0M725.5 1191.5h0M726.5 1191.5h0M686.5 1192.5h0M717.5 1192.5h0M718.5 1192.5h0M748.5 1192.5h0M707.5 1193.5h0M715.5 1193.5h0M725.5 1193.5h0M727.5 1193.5h0M752.5 1193.5h0M724.5 1194.5h0M710.5 1195.5h0M722.5 1195.5h0M752.5 1195.5h0M693.5 1196.5h0M731.5 1196.5h0M760.5 1196.5h0M701.5 1197.5h0M702.5 1197.5h0M736.5 1197.5h0M703.5 1199.5h0M713.5 1199.5h0M741.5 1199.5h0M710.5 1200.5h0M690.5 1201.5h0M700.5 1201.5h0M712.5 1201.5h0M743.5 1201.5h0M693.5 1202.5h0M700.5 1202.5h0M713.5 1202.5h0M722.5 1202.5h0M739.5 1202.5h0M771.5 1202.5h0M688.5 1203.5h0M723.5 1203.5h0M728.5 1203.5h0M731.5 1203.5h0M747.5 1203.5h0M692.5 1204.5h0M698.5 1204.5h0M702.5 1204.5h0M733.5 1204.5h0M735.5 1204.5h0M694.5 1205.5h0M701.5 1205.5h0M724.5 1205.5h0M733.5 1205.5h0M743.5 1205.5h0M712.5 1206.5h0M727.5 1206.5h0M729.5 1206.5h0M730.5 1206.5h0M744.5 1206.5h0M710.5 1207.5h0M715.5 1207.5h0M717.5 1207.5h0M680.5 1208.5h0M709.5 1208.5h0M717.5 1208.5h0M720.5 1208.5h0M734.5 1208.5h0M738.5 1208.5h0M704.5 1209.5h0M708.5 1209.5h0M739.5 1209.5h0M743.5 1209.5h0M692.5 1210.5h0M726.5 1210.5h0M750.5 1210.5h0M704.5 1211.5h0M705.5 1211.5h0M722.5 1211.5h0M656.5 1212.5h0M713.5 1212.5h0M725.5 1212.5h0M695.5 1213.5h0M704.5 1213.5h0M705.5 1213.5h0M719.5 1213.5h0M722.5 1213.5h0M709.5 1214.5h0M720.5 1214.5h0M730.5 1214.5h0M677.5 1215.5h0M696.5 1215.5h0M714.5 1215.5h0M729.5 1215.5h0M702.5 1216.5h0M711.5 1216.5h0M720.5 1216.5h0M722.5 1216.5h0M665.5 1217.5h0M699.5 1217.5h0M716.5 1217.5h0M732.5 1217.5h0M760.5 1217.5h0M686.5 1218.5h0M687.5 1218.5h0M707.5 1218.5h0M708.5 1218.5h0M712.5 1218.5h0M717.5 1218.5h0M718.5 1218.5h0M724.5 1218.5h0M698.5 1219.5h0M703.5 1219.5h0M710.5 1219.5h0M718.5 1219.5h0M727.5 1219.5h0M733.5 1219.5h0M739.5 1219.5h0M741.5 1219.5h0M679.5 1220.5h0M691.5 1220.5h0M695.5 1220.5h0M719.5 1220.5h0M722.5 1220.5h0M728.5 1220.5h0M731.5 1220.5h0M738.5 1220.5h0M743.5 1220.5h0M691.5 1221.5h0M692.5 1221.5h0M695.5 1221.5h0M719.5 1221.5h0M720.5 1221.5h0M722.5 1221.5h0M746.5 1221.5h0M700.5 1222.5h0M707.5 1222.5h0M711.5 1222.5h0M712.5 1222.5h0M719.5 1222.5h0M721.5 1222.5h0M744.5 1222.5h0M687.5 1223.5h0M710.5 1223.5h0M719.5 1223.5h0M720.5 1223.5h0M729.5 1223.5h0M735.5 1223.5h0M681.5 1224.5h0M711.5 1224.5h0M717.5 1224.5h0M733.5 1224.5h0M743.5 1224.5h0M744.5 1224.5h0M669.5 1225.5h0M710.5 1225.5h0M730.5 1225.5h0M731.5 1225.5h0M750.5 1225.5h0M682.5 1226.5h0M700.5 1226.5h0M703.5 1226.5h0M712.5 1226.5h0M714.5 1226.5h0M719.5 1226.5h0M724.5 1226.5h0M725.5 1226.5h0M693.5 1227.5h0M696.5 1227.5h0M715.5 1227.5h0M727.5 1227.5h0M732.5 1227.5h0M746.5 1227.5h0M673.5 1228.5h0M699.5 1228.5h0M700.5 1228.5h0M717.5 1228.5h0M726.5 1228.5h0M750.5 1228.5h0M685.5 1229.5h0M721.5 1229.5h0M724.5 1229.5h0M725.5 1229.5h0M729.5 1229.5h0M735.5 1229.5h0M709.5 1230.5h0M714.5 1230.5h0M719.5 1230.5h0M722.5 1230.5h0M725.5 1230.5h0M730.5 1230.5h0M732.5 1230.5h0M750.5 1230.5h0M697.5 1231.5h0M705.5 1231.5h0M714.5 1231.5h0M718.5 1231.5h0M719.5 1231.5h0M728.5 1231.5h0M731.5 1231.5h0M702.5 1232.5h0M708.5 1232.5h0M718.5 1232.5h0M728.5 1232.5h0M748.5 1232.5h0M687.5 1233.5h0M696.5 1233.5h0M704.5 1233.5h0M712.5 1233.5h0M714.5 1233.5h0M736.5 1233.5h0M738.5 1233.5h0M688.5 1234.5h0M713.5 1234.5h0M714.5 1234.5h0M715.5 1234.5h0M721.5 1234.5h0M722.5 1234.5h0M723.5 1234.5h0M693.5 1235.5h0M705.5 1235.5h0M708.5 1235.5h0M723.5 1235.5h0M727.5 1235.5h0M740.5 1235.5h0M671.5 1236.5h0M691.5 1236.5h0M708.5 1236.5h0M726.5 1236.5h0M745.5 1236.5h0M683.5 1237.5h0M712.5 1237.5h0M715.5 1237.5h0M723.5 1237.5h0M679.5 1238.5h0M681.5 1238.5h0M699.5 1238.5h0M715.5 1238.5h0M734.5 1238.5h0M749.5 1238.5h0M715.5 1239.5h0M717.5 1239.5h0M726.5 1239.5h0M702.5 1240.5h0M727.5 1240.5h0M731.5 1240.5h0M733.5 1240.5h0M739.5 1240.5h0M692.5 1241.5h0M717.5 1241.5h0M718.5 1241.5h0M730.5 1241.5h0M746.5 1241.5h0M781.5 1241.5h0M707.5 1242.5h0M712.5 1242.5h0M723.5 1242.5h0M738.5 1242.5h0M741.5 1242.5h0M689.5 1243.5h0M727.5 1243.5h0M748.5 1243.5h0M690.5 1244.5h0M705.5 1244.5h0M711.5 1244.5h0M717.5 1244.5h0M722.5 1244.5h0M723.5 1244.5h0M727.5 1244.5h0M733.5 1244.5h0M735.5 1244.5h0M704.5 1245.5h0M714.5 1245.5h0M732.5 1245.5h0M687.5 1246.5h0M689.5 1247.5h0M727.5 1247.5h0M728.5 1247.5h0M734.5 1247.5h0M746.5 1247.5h0M753.5 1247.5h0M695.5 1248.5h0M697.5 1248.5h0M701.5 1248.5h0M708.5 1248.5h0M725.5 1248.5h0M727.5 1248.5h0M757.5 1248.5h0M693.5 1249.5h0M694.5 1249.5h0M712.5 1249.5h0M723.5 1249.5h0M667.5 1250.5h0M723.5 1250.5h0M734.5 1250.5h0M747.5 1250.5h0M645.5 1251.5h0M658.5 1251.5h0M670.5 1251.5h0M689.5 1251.5h0M704.5 1251.5h0M709.5 1251.5h0M715.5 1251.5h0M728.5 1251.5h0M746.5 1251.5h0M759.5 1251.5h0M761.5 1251.5h0M698.5 1252.5h0M700.5 1252.5h0M708.5 1252.5h0M729.5 1252.5h0M731.5 1252.5h0M735.5 1252.5h0M745.5 1252.5h0M699.5 1253.5h0M702.5 1253.5h0M703.5 1253.5h0M709.5 1253.5h0M720.5 1253.5h0M728.5 1253.5h0M729.5 1253.5h0M731.5 1254.5h0M798.5 1254.5h0M674.5 1255.5h0M693.5 1255.5h0M716.5 1255.5h0M730.5 1255.5h0M731.5 1255.5h0M745.5 1255.5h0M662.5 1256.5h0M690.5 1256.5h0M698.5 1256.5h0M704.5 1256.5h0M744.5 1256.5h0M753.5 1256.5h0M649.5 1257.5h0M690.5 1257.5h0M705.5 1257.5h0M709.5 1257.5h0M742.5 1257.5h0M778.5 1258.5h0M689.5 1259.5h0M703.5 1259.5h0M725.5 1259.5h0M773.5 1259.5h0M676.5 1260.5h0M695.5 1260.5h0M701.5 1260.5h0M736.5 1260.5h0M743.5 1260.5h0M716.5 1261.5h0M718.5 1261.5h0M735.5 1261.5h0M666.5 1262.5h0M721.5 1262.5h0M728.5 1262.5h0M730.5 1262.5h0M734.5 1262.5h0M690.5 1263.5h0M716.5 1264.5h0M728.5 1264.5h0M732.5 1264.5h0M733.5 1264.5h0M782.5 1264.5h0M697.5 1265.5h0M719.5 1265.5h0M721.5 1265.5h0M751.5 1265.5h0M758.5 1265.5h0M769.5 1265.5h0M680.5 1266.5h0M712.5 1266.5h0M725.5 1266.5h0M728.5 1266.5h0M720.5 1267.5h0M739.5 1267.5h0M746.5 1267.5h0M761.5 1267.5h0M698.5 1268.5h0M704.5 1268.5h0M715.5 1268.5h0M648.5 1269.5h0M689.5 1270.5h0M696.5 1270.5h0M737.5 1270.5h0M739.5 1270.5h0M740.5 1270.5h0M688.5 1271.5h0M699.5 1271.5h0M707.5 1271.5h0M723.5 1271.5h0M726.5 1271.5h0M729.5 1271.5h0M659.5 1272.5h0M702.5 1272.5h0M719.5 1272.5h0M721.5 1272.5h0M723.5 1272.5h0M751.5 1272.5h0M763.5 1272.5h0M710.5 1273.5h0M730.5 1273.5h0M704.5 1274.5h0M721.5 1274.5h0M736.5 1274.5h0M668.5 1275.5h0M707.5 1275.5h0M709.5 1275.5h0M719.5 1275.5h0M734.5 1275.5h0M688.5 1276.5h0M691.5 1276.5h0M713.5 1276.5h0M715.5 1276.5h0M720.5 1276.5h0M724.5 1276.5h0M738.5 1276.5h0M674.5 1277.5h0M679.5 1277.5h0M685.5 1277.5h0M714.5 1277.5h0M712.5 1278.5h0M714.5 1278.5h0M780.5 1278.5h0M709.5 1279.5h0M726.5 1279.5h0M711.5 1280.5h0M714.5 1280.5h0M736.5 1280.5h0M737.5 1280.5h0M746.5 1280.5h0M681.5 1281.5h0M716.5 1281.5h0M770.5 1281.5h0M711.5 1282.5h0M744.5 1282.5h0M790.5 1282.5h0M642.5 1283.5h0M673.5 1283.5h0M732.5 1283.5h0M703.5 1284.5h0M771.5 1284.5h0M656.5 1285.5h0M689.5 1285.5h0M722.5 1285.5h0M744.5 1285.5h0M703.5 1286.5h0M717.5 1286.5h0M736.5 1286.5h0M777.5 1286.5h0M716.5 1287.5h0M718.5 1287.5h0M683.5 1288.5h0M737.5 1288.5h0M679.5 1289.5h0M687.5 1289.5h0M722.5 1289.5h0M753.5 1289.5h0M760.5 1289.5h0M680.5 1290.5h0M690.5 1290.5h0M698.5 1290.5h0M716.5 1290.5h0M727.5 1290.5h0M747.5 1290.5h0M764.5 1290.5h0M778.5 1290.5h0M674.5 1291.5h0M686.5 1291.5h0M687.5 1291.5h0M701.5 1291.5h0M707.5 1291.5h0M711.5 1291.5h0M723.5 1291.5h0M724.5 1291.5h0M698.5 1292.5h0M716.5 1292.5h0M733.5 1292.5h0M763.5 1292.5h0M783.5 1292.5h0M687.5 1293.5h0M707.5 1293.5h0M724.5 1293.5h0M726.5 1293.5h0M729.5 1293.5h0M691.5 1295.5h0M699.5 1295.5h0M702.5 1295.5h0M717.5 1295.5h0M734.5 1295.5h0M741.5 1295.5h0M755.5 1296.5h0M705.5 1297.5h0M709.5 1297.5h0M729.5 1297.5h0M731.5 1297.5h0M757.5 1297.5h0M780.5 1297.5h0M669.5 1298.5h0M687.5 1299.5h0M692.5 1299.5h0M710.5 1299.5h0M687.5 1300.5h0M737.5 1300.5h0M666.5 1301.5h0M673.5 1301.5h0M692.5 1301.5h0M703.5 1301.5h0M721.5 1301.5h0M761.5 1301.5h0M699.5 1302.5h0M744.5 1302.5h0M775.5 1302.5h0M688.5 1303.5h0M733.5 1303.5h0M744.5 1303.5h0M748.5 1303.5h0M680.5 1304.5h0M689.5 1304.5h0M698.5 1304.5h0M715.5 1304.5h0M766.5 1304.5h0M694.5 1305.5h0M707.5 1305.5h0M715.5 1305.5h0M723.5 1305.5h0M726.5 1306.5h0M739.5 1306.5h0M741.5 1306.5h0M764.5 1306.5h0M689.5 1307.5h0M693.5 1307.5h0M705.5 1307.5h0M751.5 1307.5h0M644.5 1309.5h0M715.5 1309.5h0M723.5 1309.5h0M695.5 1310.5h0M698.5 1310.5h0M757.5 1310.5h0M758.5 1310.5h0M649.5 1311.5h0M675.5 1311.5h0M745.5 1311.5h0M750.5 1311.5h0M695.5 1312.5h0M716.5 1312.5h0M721.5 1312.5h0M729.5 1312.5h0M745.5 1312.5h0M717.5 1313.5h0M718.5 1313.5h0M740.5 1313.5h0M770.5 1313.5h0M689.5 1314.5h0M690.5 1314.5h0M697.5 1314.5h0M714.5 1314.5h0M730.5 1314.5h0M733.5 1314.5h0M715.5 1315.5h0M723.5 1315.5h0M735.5 1315.5h0M654.5 1316.5h0M686.5 1316.5h0M730.5 1316.5h0M690.5 1317.5h0M692.5 1317.5h0M711.5 1317.5h0M771.5 1317.5h0M717.5 1318.5h0M690.5 1319.5h0M776.5 1319.5h0M683.5 1320.5h0M712.5 1320.5h0M714.5 1320.5h0M752.5 1320.5h0M687.5 1321.5h0M722.5 1321.5h0M671.5 1322.5h0M688.5 1322.5h0M697.5 1322.5h0M728.5 1322.5h0M754.5 1322.5h0M777.5 1322.5h0M702.5 1323.5h0M706.5 1323.5h0M743.5 1323.5h0M754.5 1323.5h0M704.5 1324.5h0M682.5 1325.5h0M698.5 1325.5h0M702.5 1325.5h0M696.5 1326.5h0M708.5 1326.5h0M710.5 1326.5h0M734.5 1326.5h0M695.5 1327.5h0M685.5 1328.5h0M696.5 1328.5h0M724.5 1328.5h0M768.5 1328.5h0M715.5 1329.5h0M725.5 1329.5h0M646.5 1330.5h0M681.5 1330.5h0M735.5 1330.5h0M742.5 1330.5h0M641.5 1331.5h0M666.5 1331.5h0M717.5 1331.5h0M732.5 1331.5h0M692.5 1332.5h0M704.5 1332.5h0M721.5 1332.5h0M662.5 1333.5h0M703.5 1333.5h0M707.5 1333.5h0M710.5 1333.5h0M713.5 1333.5h0M724.5 1333.5h0M746.5 1333.5h0M750.5 1333.5h0M735.5 1334.5h0M746.5 1334.5h0M756.5 1334.5h0M734.5 1335.5h0M737.5 1335.5h0M656.5 1336.5h0M706.5 1336.5h0M709.5 1336.5h0M718.5 1336.5h0M698.5 1337.5h0M707.5 1337.5h0M708.5 1337.5h0M718.5 1337.5h0M735.5 1337.5h0M649.5 1338.5h0M706.5 1338.5h0M707.5 1338.5h0M726.5 1338.5h0M732.5 1338.5h0M740.5 1338.5h0M764.5 1338.5h0M650.5 1339.5h0M739.5 1339.5h0M769.5 1339.5h0M669.5 1340.5h0M675.5 1340.5h0M753.5 1340.5h0M661.5 1341.5h0M702.5 1341.5h0M711.5 1341.5h0M717.5 1341.5h0M719.5 1341.5h0M760.5 1341.5h0M653.5 1342.5h0M671.5 1342.5h0M695.5 1342.5h0M711.5 1342.5h0M717.5 1342.5h0M719.5 1342.5h0M726.5 1342.5h0M729.5 1342.5h0M735.5 1343.5h0M765.5 1343.5h0M698.5 1344.5h0M703.5 1344.5h0M713.5 1344.5h0M718.5 1344.5h0M703.5 1345.5h0M725.5 1345.5h0M666.5 1346.5h0M693.5 1346.5h0M712.5 1346.5h0M719.5 1346.5h0M729.5 1346.5h0M730.5 1346.5h0M659.5 1347.5h0M692.5 1347.5h0M708.5 1347.5h0M715.5 1347.5h0M724.5 1347.5h0M732.5 1347.5h0M622.5 1348.5h0M662.5 1348.5h0M692.5 1348.5h0M706.5 1348.5h0M714.5 1348.5h0M728.5 1348.5h0M729.5 1348.5h0M732.5 1348.5h0M768.5 1348.5h0M649.5 1349.5h0M699.5 1349.5h0M731.5 1349.5h0M641.5 1350.5h0M708.5 1350.5h0M720.5 1350.5h0M661.5 1351.5h0M678.5 1351.5h0M719.5 1351.5h0M745.5 1351.5h0M704.5 1352.5h0M712.5 1352.5h0M728.5 1352.5h0M746.5 1352.5h0M757.5 1352.5h0M640.5 1353.5h0M692.5 1353.5h0M707.5 1353.5h0M715.5 1353.5h0M733.5 1353.5h0M614.5 1354.5h0M638.5 1354.5h0M649.5 1354.5h0M666.5 1354.5h0M705.5 1354.5h0M765.5 1354.5h0M621.5 1355.5h0M672.5 1355.5h0M752.5 1355.5h0M669.5 1356.5h0M712.5 1356.5h0M779.5 1356.5h0M632.5 1357.5h0M636.5 1357.5h0M668.5 1357.5h0M676.5 1357.5h0M627.5 1358.5h0M663.5 1358.5h0M709.5 1358.5h0M632.5 1359.5h0M646.5 1359.5h0M694.5 1359.5h0M703.5 1359.5h0M736.5 1359.5h0M746.5 1359.5h0M747.5 1359.5h0M707.5 1360.5h0M619.5 1361.5h0M657.5 1361.5h0M683.5 1361.5h0M711.5 1361.5h0M735.5 1361.5h0M633.5 1362.5h0M674.5 1362.5h0M675.5 1362.5h0M680.5 1362.5h0M687.5 1362.5h0M691.5 1362.5h0M695.5 1362.5h0M698.5 1362.5h0M703.5 1362.5h0M768.5 1362.5h0M616.5 1363.5h0M628.5 1363.5h0M643.5 1363.5h0M715.5 1363.5h0M628.5 1364.5h0M631.5 1364.5h0M638.5 1364.5h0M673.5 1364.5h0M707.5 1364.5h0M621.5 1365.5h0M641.5 1365.5h0M650.5 1365.5h0M675.5 1365.5h0M685.5 1365.5h0M686.5 1365.5h0M735.5 1365.5h0M739.5 1365.5h0M766.5 1365.5h0M779.5 1365.5h0M634.5 1366.5h0M642.5 1366.5h0M652.5 1366.5h0M659.5 1366.5h0M747.5 1366.5h0M753.5 1366.5h0M583.5 1367.5h0M628.5 1367.5h0M656.5 1367.5h0M677.5 1367.5h0M684.5 1367.5h0M687.5 1367.5h0M711.5 1367.5h0M589.5 1368.5h0M636.5 1368.5h0M638.5 1368.5h0M657.5 1368.5h0M640.5 1369.5h0M648.5 1369.5h0M662.5 1369.5h0M685.5 1369.5h0M699.5 1369.5h0M700.5 1369.5h0M709.5 1369.5h0M729.5 1369.5h0M606.5 1370.5h0M609.5 1370.5h0M611.5 1370.5h0M646.5 1370.5h0M652.5 1370.5h0M678.5 1370.5h0M688.5 1370.5h0M689.5 1370.5h0M691.5 1370.5h0M696.5 1370.5h0M730.5 1370.5h0M587.5 1371.5h0M603.5 1371.5h0M657.5 1371.5h0M677.5 1371.5h0M706.5 1371.5h0M709.5 1371.5h0M717.5 1371.5h0M748.5 1371.5h0M598.5 1372.5h0M611.5 1372.5h0M629.5 1372.5h0M638.5 1372.5h0M709.5 1372.5h0M600.5 1373.5h0M611.5 1373.5h0M621.5 1373.5h0M630.5 1373.5h0M634.5 1373.5h0M648.5 1373.5h0M678.5 1373.5h0M682.5 1373.5h0M718.5 1373.5h0M719.5 1373.5h0M736.5 1373.5h0M595.5 1374.5h0M620.5 1374.5h0M643.5 1374.5h0M682.5 1374.5h0M695.5 1374.5h0M701.5 1374.5h0M711.5 1374.5h0M714.5 1374.5h0M741.5 1374.5h0M582.5 1375.5h0M592.5 1375.5h0M620.5 1375.5h0M625.5 1375.5h0M630.5 1375.5h0M647.5 1375.5h0M652.5 1375.5h0M667.5 1375.5h0M682.5 1375.5h0M692.5 1375.5h0M700.5 1375.5h0M734.5 1375.5h0M738.5 1375.5h0M747.5 1375.5h0M621.5 1376.5h0M625.5 1376.5h0M675.5 1376.5h0M681.5 1376.5h0M570.5 1377.5h0M590.5 1377.5h0M597.5 1377.5h0M612.5 1377.5h0M616.5 1377.5h0M650.5 1377.5h0M662.5 1377.5h0M676.5 1377.5h0M686.5 1377.5h0M689.5 1377.5h0M693.5 1377.5h0M716.5 1377.5h0M606.5 1378.5h0M620.5 1378.5h0M633.5 1378.5h0M635.5 1378.5h0M636.5 1378.5h0M650.5 1378.5h0M672.5 1378.5h0M748.5 1378.5h0M754.5 1378.5h0M635.5 1379.5h0M645.5 1379.5h0M649.5 1379.5h0M664.5 1379.5h0M668.5 1379.5h0M719.5 1379.5h0M729.5 1379.5h0M768.5 1379.5h0M614.5 1380.5h0M619.5 1380.5h0M635.5 1380.5h0M637.5 1380.5h0M643.5 1380.5h0M649.5 1380.5h0M657.5 1380.5h0M658.5 1380.5h0M680.5 1380.5h0M686.5 1380.5h0M708.5 1380.5h0M749.5 1380.5h0M587.5 1381.5h0M600.5 1381.5h0M636.5 1381.5h0M638.5 1381.5h0M683.5 1381.5h0M762.5 1381.5h0M589.5 1382.5h0M612.5 1382.5h0M631.5 1382.5h0M634.5 1382.5h0M641.5 1382.5h0M645.5 1382.5h0M652.5 1382.5h0M656.5 1382.5h0M669.5 1382.5h0M696.5 1382.5h0M703.5 1382.5h0M725.5 1382.5h0M739.5 1382.5h0M577.5 1383.5h0M600.5 1383.5h0M604.5 1383.5h0M609.5 1383.5h0M622.5 1383.5h0M636.5 1383.5h0M641.5 1383.5h0M654.5 1383.5h0M658.5 1383.5h0M660.5 1383.5h0M689.5 1383.5h0M725.5 1383.5h0M728.5 1383.5h0M597.5 1384.5h0M599.5 1384.5h0M610.5 1384.5h0M612.5 1384.5h0M622.5 1384.5h0M628.5 1384.5h0M633.5 1384.5h0M637.5 1384.5h0M638.5 1384.5h0M653.5 1384.5h0M672.5 1384.5h0M674.5 1384.5h0M700.5 1384.5h0M712.5 1384.5h0M720.5 1384.5h0M584.5 1385.5h0M626.5 1385.5h0M630.5 1385.5h0M632.5 1385.5h0M637.5 1385.5h0M641.5 1385.5h0M645.5 1385.5h0M658.5 1385.5h0M668.5 1385.5h0M670.5 1385.5h0M676.5 1385.5h0M680.5 1385.5h0M701.5 1385.5h0M703.5 1385.5h0M714.5 1385.5h0M736.5 1385.5h0M748.5 1385.5h0M609.5 1386.5h0M622.5 1386.5h0M662.5 1386.5h0M693.5 1386.5h0M601.5 1387.5h0M609.5 1387.5h0M613.5 1387.5h0M615.5 1387.5h0M620.5 1387.5h0M625.5 1387.5h0M630.5 1387.5h0M636.5 1387.5h0M645.5 1387.5h0M647.5 1387.5h0M666.5 1387.5h0M691.5 1387.5h0M696.5 1387.5h0M697.5 1387.5h0M749.5 1387.5h0M601.5 1388.5h0M619.5 1388.5h0M623.5 1388.5h0M642.5 1388.5h0M643.5 1388.5h0M647.5 1388.5h0M654.5 1388.5h0M657.5 1388.5h0M669.5 1388.5h0M685.5 1388.5h0M693.5 1388.5h0M600.5 1389.5h0M609.5 1389.5h0M613.5 1389.5h0M625.5 1389.5h0M632.5 1389.5h0M638.5 1389.5h0M647.5 1389.5h0M648.5 1389.5h0M652.5 1389.5h0M659.5 1389.5h0M673.5 1389.5h0M683.5 1389.5h0M684.5 1389.5h0M686.5 1389.5h0M690.5 1389.5h0M694.5 1389.5h0M699.5 1389.5h0M703.5 1389.5h0M713.5 1389.5h0M725.5 1389.5h0M753.5 1389.5h0M760.5 1389.5h0M610.5 1390.5h0M618.5 1390.5h0M622.5 1390.5h0M632.5 1390.5h0M634.5 1390.5h0M642.5 1390.5h0M646.5 1390.5h0M650.5 1390.5h0M669.5 1390.5h0M683.5 1390.5h0M700.5 1390.5h0M704.5 1390.5h0M710.5 1390.5h0M732.5 1390.5h0M753.5 1390.5h0M598.5 1391.5h0M599.5 1391.5h0M607.5 1391.5h0M612.5 1391.5h0M635.5 1391.5h0M637.5 1391.5h0M638.5 1391.5h0M640.5 1391.5h0M642.5 1391.5h0M645.5 1391.5h0M682.5 1391.5h0M690.5 1391.5h0M705.5 1391.5h0M708.5 1391.5h0M717.5 1391.5h0M727.5 1391.5h0M576.5 1392.5h0M593.5 1392.5h0M610.5 1392.5h0M616.5 1392.5h0M619.5 1392.5h0M631.5 1392.5h0M633.5 1392.5h0M637.5 1392.5h0M640.5 1392.5h0M647.5 1392.5h0M664.5 1392.5h0M707.5 1392.5h0M719.5 1392.5h0M755.5 1392.5h0M577.5 1393.5h0M583.5 1393.5h0M605.5 1393.5h0M619.5 1393.5h0M623.5 1393.5h0M624.5 1393.5h0M637.5 1393.5h0M649.5 1393.5h0M650.5 1393.5h0M657.5 1393.5h0M674.5 1393.5h0M677.5 1393.5h0M700.5 1393.5h0M709.5 1393.5h0M577.5 1394.5h0M596.5 1394.5h0M599.5 1394.5h0M600.5 1394.5h0M604.5 1394.5h0M606.5 1394.5h0M608.5 1394.5h0M612.5 1394.5h0M634.5 1394.5h0M635.5 1394.5h0M639.5 1394.5h0M643.5 1394.5h0M644.5 1394.5h0M664.5 1394.5h0M690.5 1394.5h0M541.5 1395.5h0M557.5 1395.5h0M571.5 1395.5h0M576.5 1395.5h0M578.5 1395.5h0M585.5 1395.5h0M586.5 1395.5h0M588.5 1395.5h0M591.5 1395.5h0M594.5 1395.5h0M597.5 1395.5h0M598.5 1395.5h0M611.5 1395.5h0M617.5 1395.5h0M619.5 1395.5h0M633.5 1395.5h0M634.5 1395.5h0M652.5 1395.5h0M665.5 1395.5h0M726.5 1395.5h0M745.5 1395.5h0M552.5 1396.5h0M577.5 1396.5h0M584.5 1396.5h0M592.5 1396.5h0M596.5 1396.5h0M603.5 1396.5h0M605.5 1396.5h0M607.5 1396.5h0M616.5 1396.5h0M617.5 1396.5h0M621.5 1396.5h0M631.5 1396.5h0M638.5 1396.5h0M639.5 1396.5h0M640.5 1396.5h0M647.5 1396.5h0M652.5 1396.5h0M653.5 1396.5h0M662.5 1396.5h0M680.5 1396.5h0M706.5 1396.5h0M708.5 1396.5h0M716.5 1396.5h0M735.5 1396.5h0M812.5 1396.5h0M589.5 1397.5h0M598.5 1397.5h0M603.5 1397.5h0M607.5 1397.5h0M608.5 1397.5h0M609.5 1397.5h0M611.5 1397.5h0M612.5 1397.5h0M613.5 1397.5h0M649.5 1397.5h0M651.5 1397.5h0M653.5 1397.5h0M660.5 1397.5h0M666.5 1397.5h0M718.5 1397.5h0M721.5 1397.5h0M729.5 1397.5h0M734.5 1397.5h0M741.5 1397.5h0M569.5 1398.5h0M590.5 1398.5h0M603.5 1398.5h0M612.5 1398.5h0M613.5 1398.5h0M621.5 1398.5h0M623.5 1398.5h0M624.5 1398.5h0M625.5 1398.5h0M630.5 1398.5h0M631.5 1398.5h0M637.5 1398.5h0M640.5 1398.5h0M654.5 1398.5h0M662.5 1398.5h0M677.5 1398.5h0M698.5 1398.5h0M713.5 1398.5h0M715.5 1398.5h0M718.5 1398.5h0M568.5 1399.5h0M576.5 1399.5h0M589.5 1399.5h0M590.5 1399.5h0M592.5 1399.5h0M593.5 1399.5h0M597.5 1399.5h0M605.5 1399.5h0M608.5 1399.5h0M610.5 1399.5h0M611.5 1399.5h0M612.5 1399.5h0M614.5 1399.5h0M621.5 1399.5h0M622.5 1399.5h0M625.5 1399.5h0M627.5 1399.5h0M629.5 1399.5h0M630.5 1399.5h0M631.5 1399.5h0M637.5 1399.5h0M638.5 1399.5h0M648.5 1399.5h0M652.5 1399.5h0M654.5 1399.5h0M660.5 1399.5h0M663.5 1399.5h0M668.5 1399.5h0M674.5 1399.5h0M681.5 1399.5h0M687.5 1399.5h0M746.5 1399.5h0M569.5 1400.5h0M589.5 1400.5h0M591.5 1400.5h0M593.5 1400.5h0M597.5 1400.5h0M599.5 1400.5h0M605.5 1400.5h0M606.5 1400.5h0M610.5 1400.5h0M612.5 1400.5h0M616.5 1400.5h0M619.5 1400.5h0M621.5 1400.5h0M628.5 1400.5h0M631.5 1400.5h0M635.5 1400.5h0M637.5 1400.5h0M650.5 1400.5h0M700.5 1400.5h0M731.5 1400.5h0M735.5 1400.5h0M747.5 1400.5h0M564.5 1401.5h0M565.5 1401.5h0M573.5 1401.5h0M578.5 1401.5h0M581.5 1401.5h0M594.5 1401.5h0M596.5 1401.5h0M601.5 1401.5h0M610.5 1401.5h0M611.5 1401.5h0M615.5 1401.5h0M616.5 1401.5h0M620.5 1401.5h0M628.5 1401.5h0M635.5 1401.5h0M636.5 1401.5h0M644.5 1401.5h0M647.5 1401.5h0M652.5 1401.5h0M701.5 1401.5h0M557.5 1402.5h0M562.5 1402.5h0M568.5 1402.5h0M572.5 1402.5h0M575.5 1402.5h0M576.5 1402.5h0M579.5 1402.5h0M591.5 1402.5h0M593.5 1402.5h0M596.5 1402.5h0M597.5 1402.5h0M599.5 1402.5h0M600.5 1402.5h0M604.5 1402.5h0M607.5 1402.5h0M613.5 1402.5h0M614.5 1402.5h0M615.5 1402.5h0M622.5 1402.5h0M624.5 1402.5h0M631.5 1402.5h0M632.5 1402.5h0M641.5 1402.5h0M643.5 1402.5h0M648.5 1402.5h0M663.5 1402.5h0M680.5 1402.5h0M687.5 1402.5h0M715.5 1402.5h0M564.5 1403.5h0M570.5 1403.5h0M571.5 1403.5h0M572.5 1403.5h0M575.5 1403.5h0M586.5 1403.5h0M588.5 1403.5h0M589.5 1403.5h0M594.5 1403.5h0M599.5 1403.5h0M604.5 1403.5h0M607.5 1403.5h0M615.5 1403.5h0M618.5 1403.5h0M619.5 1403.5h0M623.5 1403.5h0M624.5 1403.5h0M629.5 1403.5h0M634.5 1403.5h0M635.5 1403.5h0M643.5 1403.5h0M651.5 1403.5h0M652.5 1403.5h0M661.5 1403.5h0M732.5 1403.5h0M739.5 1403.5h0M554.5 1404.5h0M560.5 1404.5h0M573.5 1404.5h0M582.5 1404.5h0M587.5 1404.5h0M588.5 1404.5h0M589.5 1404.5h0M595.5 1404.5h0M596.5 1404.5h0M598.5 1404.5h0M599.5 1404.5h0M601.5 1404.5h0M602.5 1404.5h0M604.5 1404.5h0M605.5 1404.5h0M606.5 1404.5h0M608.5 1404.5h0M612.5 1404.5h0M613.5 1404.5h0M617.5 1404.5h0M622.5 1404.5h0M624.5 1404.5h0M625.5 1404.5h0M626.5 1404.5h0M628.5 1404.5h0M631.5 1404.5h0M634.5 1404.5h0M636.5 1404.5h0M637.5 1404.5h0M638.5 1404.5h0M639.5 1404.5h0M644.5 1404.5h0M650.5 1404.5h0M654.5 1404.5h0M656.5 1404.5h0M658.5 1404.5h0M659.5 1404.5h0M704.5 1404.5h0M732.5 1404.5h0M745.5 1404.5h0M752.5 1404.5h0M546.5 1405.5h0M561.5 1405.5h0M562.5 1405.5h0M574.5 1405.5h0M578.5 1405.5h0M580.5 1405.5h0M581.5 1405.5h0M582.5 1405.5h0M583.5 1405.5h0M584.5 1405.5h0M585.5 1405.5h0M586.5 1405.5h0M596.5 1405.5h0M598.5 1405.5h0M599.5 1405.5h0M600.5 1405.5h0M602.5 1405.5h0M603.5 1405.5h0M605.5 1405.5h0M608.5 1405.5h0M614.5 1405.5h0M615.5 1405.5h0M616.5 1405.5h0M618.5 1405.5h0M621.5 1405.5h0M624.5 1405.5h0M625.5 1405.5h0M626.5 1405.5h0M627.5 1405.5h0M628.5 1405.5h0M629.5 1405.5h0M633.5 1405.5h0M638.5 1405.5h0M639.5 1405.5h0M648.5 1405.5h0M649.5 1405.5h0M651.5 1405.5h0M654.5 1405.5h0M666.5 1405.5h0M667.5 1405.5h0M680.5 1405.5h0M683.5 1405.5h0M686.5 1405.5h0M708.5 1405.5h0M710.5 1405.5h0M732.5 1405.5h0M738.5 1405.5h0M748.5 1405.5h0M548.5 1406.5h0M557.5 1406.5h0M562.5 1406.5h0M565.5 1406.5h0M571.5 1406.5h0M576.5 1406.5h0M577.5 1406.5h0M578.5 1406.5h0M579.5 1406.5h0M580.5 1406.5h0M586.5 1406.5h0M590.5 1406.5h0M592.5 1406.5h0M593.5 1406.5h0M596.5 1406.5h0M597.5 1406.5h0M601.5 1406.5h0M602.5 1406.5h0M603.5 1406.5h0M605.5 1406.5h0M610.5 1406.5h0M612.5 1406.5h0M613.5 1406.5h0M614.5 1406.5h0M615.5 1406.5h0M616.5 1406.5h0M619.5 1406.5h0M620.5 1406.5h0M622.5 1406.5h0M625.5 1406.5h0M631.5 1406.5h0M632.5 1406.5h0M640.5 1406.5h0M645.5 1406.5h0M653.5 1406.5h0M687.5 1406.5h0M696.5 1406.5h0M705.5 1406.5h0M726.5 1406.5h0M514.5 1407.5h0M546.5 1407.5h0M557.5 1407.5h0M571.5 1407.5h0M576.5 1407.5h0M578.5 1407.5h0M579.5 1407.5h0M583.5 1407.5h0M584.5 1407.5h0M585.5 1407.5h0M588.5 1407.5h0M589.5 1407.5h0M590.5 1407.5h0M591.5 1407.5h0M592.5 1407.5h0M593.5 1407.5h0M594.5 1407.5h0M595.5 1407.5h0M596.5 1407.5h0M598.5 1407.5h0M601.5 1407.5h0M602.5 1407.5h0M606.5 1407.5h0M607.5 1407.5h0M612.5 1407.5h0M613.5 1407.5h0M615.5 1407.5h0M620.5 1407.5h0M622.5 1407.5h0M624.5 1407.5h0M625.5 1407.5h0M626.5 1407.5h0M629.5 1407.5h0M630.5 1407.5h0M633.5 1407.5h0M634.5 1407.5h0M644.5 1407.5h0M645.5 1407.5h0M648.5 1407.5h0M649.5 1407.5h0M651.5 1407.5h0M655.5 1407.5h0M659.5 1407.5h0M663.5 1407.5h0M672.5 1407.5h0M679.5 1407.5h0M700.5 1407.5h0M715.5 1407.5h0M729.5 1407.5h0M554.5 1408.5h0M570.5 1408.5h0M572.5 1408.5h0M574.5 1408.5h0M578.5 1408.5h0M579.5 1408.5h0M580.5 1408.5h0M581.5 1408.5h0M583.5 1408.5h0M586.5 1408.5h0M589.5 1408.5h0M593.5 1408.5h0M596.5 1408.5h0M598.5 1408.5h0M600.5 1408.5h0M602.5 1408.5h0M604.5 1408.5h0M608.5 1408.5h0M609.5 1408.5h0M610.5 1408.5h0M611.5 1408.5h0M612.5 1408.5h0M613.5 1408.5h0M614.5 1408.5h0M621.5 1408.5h0M623.5 1408.5h0M626.5 1408.5h0M628.5 1408.5h0M632.5 1408.5h0M635.5 1408.5h0M638.5 1408.5h0M645.5 1408.5h0M660.5 1408.5h0M685.5 1408.5h0M693.5 1408.5h0M702.5 1408.5h0M714.5 1408.5h0M560.5 1409.5h0M567.5 1409.5h0M569.5 1409.5h0M574.5 1409.5h0M575.5 1409.5h0M576.5 1409.5h0M577.5 1409.5h0M578.5 1409.5h0M580.5 1409.5h0M583.5 1409.5h0M585.5 1409.5h0M587.5 1409.5h0M591.5 1409.5h0M592.5 1409.5h0M593.5 1409.5h0M594.5 1409.5h0M596.5 1409.5h0M597.5 1409.5h0M598.5 1409.5h0M599.5 1409.5h0M601.5 1409.5h0M602.5 1409.5h0M604.5 1409.5h0M606.5 1409.5h0M607.5 1409.5h0M608.5 1409.5h0M610.5 1409.5h0M611.5 1409.5h0M613.5 1409.5h0M615.5 1409.5h0M616.5 1409.5h0M617.5 1409.5h0M618.5 1409.5h0M620.5 1409.5h0M621.5 1409.5h0M623.5 1409.5h0M624.5 1409.5h0M626.5 1409.5h0M627.5 1409.5h0M629.5 1409.5h0M630.5 1409.5h0M634.5 1409.5h0M636.5 1409.5h0M638.5 1409.5h0M645.5 1409.5h0M648.5 1409.5h0M653.5 1409.5h0M660.5 1409.5h0M668.5 1409.5h0M683.5 1409.5h0M759.5 1409.5h0M557.5 1410.5h0M560.5 1410.5h0M562.5 1410.5h0M565.5 1410.5h0M566.5 1410.5h0M567.5 1410.5h0M570.5 1410.5h0M571.5 1410.5h0M574.5 1410.5h0M575.5 1410.5h0M579.5 1410.5h0M580.5 1410.5h0M582.5 1410.5h0M588.5 1410.5h0M589.5 1410.5h0M591.5 1410.5h0M592.5 1410.5h0M593.5 1410.5h0M594.5 1410.5h0M595.5 1410.5h0M596.5 1410.5h0M600.5 1410.5h0M603.5 1410.5h0M607.5 1410.5h0M614.5 1410.5h0M615.5 1410.5h0M617.5 1410.5h0M618.5 1410.5h0M619.5 1410.5h0M620.5 1410.5h0M621.5 1410.5h0M622.5 1410.5h0M624.5 1410.5h0M626.5 1410.5h0M627.5 1410.5h0M631.5 1410.5h0M632.5 1410.5h0M633.5 1410.5h0M637.5 1410.5h0M639.5 1410.5h0M641.5 1410.5h0M642.5 1410.5h0M645.5 1410.5h0M652.5 1410.5h0M675.5 1410.5h0M680.5 1410.5h0M688.5 1410.5h0M694.5 1410.5h0M704.5 1410.5h0M726.5 1410.5h0M555.5 1411.5h0M574.5 1411.5h0M575.5 1411.5h0M576.5 1411.5h0M579.5 1411.5h0M584.5 1411.5h0M585.5 1411.5h0M588.5 1411.5h0M589.5 1411.5h0M590.5 1411.5h0M591.5 1411.5h0M592.5 1411.5h0M593.5 1411.5h0M594.5 1411.5h0M596.5 1411.5h0M597.5 1411.5h0M598.5 1411.5h0M600.5 1411.5h0M605.5 1411.5h0M606.5 1411.5h0M608.5 1411.5h0M609.5 1411.5h0M613.5 1411.5h0M614.5 1411.5h0M615.5 1411.5h0M617.5 1411.5h0M619.5 1411.5h0M620.5 1411.5h0M623.5 1411.5h0M624.5 1411.5h0M625.5 1411.5h0M626.5 1411.5h0M630.5 1411.5h0M636.5 1411.5h0M638.5 1411.5h0M640.5 1411.5h0M646.5 1411.5h0M648.5 1411.5h0M651.5 1411.5h0M657.5 1411.5h0M658.5 1411.5h0M663.5 1411.5h0M672.5 1411.5h0M689.5 1411.5h0M692.5 1411.5h0M704.5 1411.5h0M709.5 1411.5h0M734.5 1411.5h0M736.5 1411.5h0M737.5 1411.5h0M749.5 1411.5h0M547.5 1412.5h0M556.5 1412.5h0M557.5 1412.5h0M560.5 1412.5h0M565.5 1412.5h0M567.5 1412.5h0M568.5 1412.5h0M569.5 1412.5h0M572.5 1412.5h0M574.5 1412.5h0M577.5 1412.5h0M578.5 1412.5h0M580.5 1412.5h0M581.5 1412.5h0M582.5 1412.5h0M586.5 1412.5h0M588.5 1412.5h0M589.5 1412.5h0M590.5 1412.5h0M592.5 1412.5h0M593.5 1412.5h0M595.5 1412.5h0M596.5 1412.5h0M597.5 1412.5h0M598.5 1412.5h0M599.5 1412.5h0M600.5 1412.5h0M601.5 1412.5h0M602.5 1412.5h0M604.5 1412.5h0M605.5 1412.5h0M607.5 1412.5h0M611.5 1412.5h0M613.5 1412.5h0M614.5 1412.5h0M616.5 1412.5h0M617.5 1412.5h0M618.5 1412.5h0M619.5 1412.5h0M621.5 1412.5h0M624.5 1412.5h0M626.5 1412.5h0M627.5 1412.5h0M628.5 1412.5h0M630.5 1412.5h0M633.5 1412.5h0M634.5 1412.5h0M650.5 1412.5h0M653.5 1412.5h0M692.5 1412.5h0M550.5 1413.5h0M554.5 1413.5h0M558.5 1413.5h0M562.5 1413.5h0M563.5 1413.5h0M568.5 1413.5h0M574.5 1413.5h0M575.5 1413.5h0M576.5 1413.5h0M577.5 1413.5h0M581.5 1413.5h0M583.5 1413.5h0M584.5 1413.5h0M585.5 1413.5h0M589.5 1413.5h0M590.5 1413.5h0M593.5 1413.5h0M594.5 1413.5h0M595.5 1413.5h0M597.5 1413.5h0M598.5 1413.5h0M600.5 1413.5h0M601.5 1413.5h0M603.5 1413.5h0M604.5 1413.5h0M605.5 1413.5h0M607.5 1413.5h0M610.5 1413.5h0M611.5 1413.5h0M612.5 1413.5h0M619.5 1413.5h0M622.5 1413.5h0M624.5 1413.5h0M625.5 1413.5h0M629.5 1413.5h0M630.5 1413.5h0M637.5 1413.5h0M642.5 1413.5h0M646.5 1413.5h0M650.5 1413.5h0M663.5 1413.5h0M681.5 1413.5h0M684.5 1413.5h0M689.5 1413.5h0M691.5 1413.5h0M697.5 1413.5h0M716.5 1413.5h0M727.5 1413.5h0M756.5 1413.5h0M545.5 1414.5h0M548.5 1414.5h0M561.5 1414.5h0M562.5 1414.5h0M566.5 1414.5h0M568.5 1414.5h0M571.5 1414.5h0M572.5 1414.5h0M577.5 1414.5h0M578.5 1414.5h0M579.5 1414.5h0M580.5 1414.5h0M581.5 1414.5h0M582.5 1414.5h0M583.5 1414.5h0M585.5 1414.5h0M591.5 1414.5h0M592.5 1414.5h0M593.5 1414.5h0M594.5 1414.5h0M596.5 1414.5h0M598.5 1414.5h0M600.5 1414.5h0M601.5 1414.5h0M602.5 1414.5h0M603.5 1414.5h0M604.5 1414.5h0M609.5 1414.5h0M611.5 1414.5h0M612.5 1414.5h0M619.5 1414.5h0M622.5 1414.5h0M623.5 1414.5h0M630.5 1414.5h0M631.5 1414.5h0M632.5 1414.5h0M633.5 1414.5h0M634.5 1414.5h0M636.5 1414.5h0M647.5 1414.5h0M653.5 1414.5h0M660.5 1414.5h0M669.5 1414.5h0M686.5 1414.5h0M696.5 1414.5h0M736.5 1414.5h0M529.5 1415.5h0M536.5 1415.5h0M542.5 1415.5h0M552.5 1415.5h0M560.5 1415.5h0M562.5 1415.5h0M563.5 1415.5h0M564.5 1415.5h0M567.5 1415.5h0M570.5 1415.5h0M571.5 1415.5h0M572.5 1415.5h0M574.5 1415.5h0M578.5 1415.5h0M581.5 1415.5h0M583.5 1415.5h0M585.5 1415.5h0M587.5 1415.5h0M588.5 1415.5h0M589.5 1415.5h0M590.5 1415.5h0M592.5 1415.5h0M593.5 1415.5h0M594.5 1415.5h0M596.5 1415.5h0M599.5 1415.5h0M601.5 1415.5h0M603.5 1415.5h0M605.5 1415.5h0M606.5 1415.5h0M607.5 1415.5h0M609.5 1415.5h0M610.5 1415.5h0M611.5 1415.5h0M612.5 1415.5h0M613.5 1415.5h0M614.5 1415.5h0M615.5 1415.5h0M616.5 1415.5h0M620.5 1415.5h0M621.5 1415.5h0M622.5 1415.5h0M623.5 1415.5h0M624.5 1415.5h0M625.5 1415.5h0M629.5 1415.5h0M631.5 1415.5h0M634.5 1415.5h0M636.5 1415.5h0M637.5 1415.5h0M642.5 1415.5h0M644.5 1415.5h0M645.5 1415.5h0M653.5 1415.5h0M660.5 1415.5h0M667.5 1415.5h0M690.5 1415.5h0M699.5 1415.5h0M703.5 1415.5h0M704.5 1415.5h0M713.5 1415.5h0M724.5 1415.5h0M726.5 1415.5h0M738.5 1415.5h0M549.5 1416.5h0M552.5 1416.5h0M559.5 1416.5h0M562.5 1416.5h0M563.5 1416.5h0M564.5 1416.5h0M565.5 1416.5h0M566.5 1416.5h0M568.5 1416.5h0M571.5 1416.5h0M572.5 1416.5h0M573.5 1416.5h0M576.5 1416.5h0M579.5 1416.5h0M581.5 1416.5h0M583.5 1416.5h0M586.5 1416.5h0M588.5 1416.5h0M590.5 1416.5h0M593.5 1416.5h0M594.5 1416.5h0M595.5 1416.5h0M596.5 1416.5h0M597.5 1416.5h0M600.5 1416.5h0M602.5 1416.5h0M607.5 1416.5h0M608.5 1416.5h0M609.5 1416.5h0M610.5 1416.5h0M611.5 1416.5h0M613.5 1416.5h0M614.5 1416.5h0M615.5 1416.5h0M616.5 1416.5h0M618.5 1416.5h0M619.5 1416.5h0M623.5 1416.5h0M629.5 1416.5h0M632.5 1416.5h0M633.5 1416.5h0M634.5 1416.5h0M635.5 1416.5h0M636.5 1416.5h0M638.5 1416.5h0M639.5 1416.5h0M640.5 1416.5h0M642.5 1416.5h0M648.5 1416.5h0M660.5 1416.5h0M662.5 1416.5h0M682.5 1416.5h0M535.5 1417.5h0M536.5 1417.5h0M556.5 1417.5h0M558.5 1417.5h0M560.5 1417.5h0M566.5 1417.5h0M569.5 1417.5h0M579.5 1417.5h0M580.5 1417.5h0M581.5 1417.5h0M582.5 1417.5h0M586.5 1417.5h0M588.5 1417.5h0M589.5 1417.5h0M591.5 1417.5h0M594.5 1417.5h0M595.5 1417.5h0M596.5 1417.5h0M598.5 1417.5h0M599.5 1417.5h0M601.5 1417.5h0M602.5 1417.5h0M603.5 1417.5h0M604.5 1417.5h0M605.5 1417.5h0M607.5 1417.5h0M609.5 1417.5h0M610.5 1417.5h0M613.5 1417.5h0M614.5 1417.5h0M615.5 1417.5h0M616.5 1417.5h0M618.5 1417.5h0M619.5 1417.5h0M621.5 1417.5h0M623.5 1417.5h0M625.5 1417.5h0M626.5 1417.5h0M627.5 1417.5h0M629.5 1417.5h0M630.5 1417.5h0M633.5 1417.5h0M634.5 1417.5h0M635.5 1417.5h0M636.5 1417.5h0M644.5 1417.5h0M650.5 1417.5h0M654.5 1417.5h0M661.5 1417.5h0M685.5 1417.5h0M689.5 1417.5h0M702.5 1417.5h0M708.5 1417.5h0M709.5 1417.5h0M712.5 1417.5h0M728.5 1417.5h0M746.5 1417.5h0M538.5 1418.5h0M544.5 1418.5h0M547.5 1418.5h0M551.5 1418.5h0M557.5 1418.5h0M561.5 1418.5h0M562.5 1418.5h0M567.5 1418.5h0M568.5 1418.5h0M570.5 1418.5h0M572.5 1418.5h0M573.5 1418.5h0M574.5 1418.5h0M575.5 1418.5h0M576.5 1418.5h0M578.5 1418.5h0M579.5 1418.5h0M580.5 1418.5h0M582.5 1418.5h0M585.5 1418.5h0M586.5 1418.5h0M591.5 1418.5h0M592.5 1418.5h0M593.5 1418.5h0M594.5 1418.5h0M595.5 1418.5h0M596.5 1418.5h0M598.5 1418.5h0M599.5 1418.5h0M602.5 1418.5h0M603.5 1418.5h0M604.5 1418.5h0M605.5 1418.5h0M606.5 1418.5h0M607.5 1418.5h0M608.5 1418.5h0M609.5 1418.5h0M610.5 1418.5h0M612.5 1418.5h0M614.5 1418.5h0M615.5 1418.5h0M619.5 1418.5h0M620.5 1418.5h0M621.5 1418.5h0M622.5 1418.5h0M623.5 1418.5h0M625.5 1418.5h0M626.5 1418.5h0M627.5 1418.5h0M628.5 1418.5h0M630.5 1418.5h0M632.5 1418.5h0M633.5 1418.5h0M635.5 1418.5h0M637.5 1418.5h0M638.5 1418.5h0M642.5 1418.5h0M657.5 1418.5h0M667.5 1418.5h0M679.5 1418.5h0M708.5 1418.5h0M713.5 1418.5h0M733.5 1418.5h0M742.5 1418.5h0M545.5 1419.5h0M546.5 1419.5h0M552.5 1419.5h0M554.5 1419.5h0M559.5 1419.5h0M560.5 1419.5h0M563.5 1419.5h0M565.5 1419.5h0M568.5 1419.5h0M569.5 1419.5h0M572.5 1419.5h0M573.5 1419.5h0M574.5 1419.5h0M576.5 1419.5h0M577.5 1419.5h0M578.5 1419.5h0M581.5 1419.5h0M582.5 1419.5h0M585.5 1419.5h0M586.5 1419.5h0M587.5 1419.5h0M589.5 1419.5h0M591.5 1419.5h0M592.5 1419.5h0M594.5 1419.5h0M595.5 1419.5h0M596.5 1419.5h0M598.5 1419.5h0M599.5 1419.5h0M600.5 1419.5h0M601.5 1419.5h0M602.5 1419.5h0M608.5 1419.5h0M609.5 1419.5h0M610.5 1419.5h0M611.5 1419.5h0M613.5 1419.5h0M614.5 1419.5h0M617.5 1419.5h0M620.5 1419.5h0M622.5 1419.5h0M631.5 1419.5h0M632.5 1419.5h0M637.5 1419.5h0M638.5 1419.5h0M642.5 1419.5h0M651.5 1419.5h0M657.5 1419.5h0M661.5 1419.5h0M665.5 1419.5h0M708.5 1419.5h0M714.5 1419.5h0M730.5 1419.5h0M731.5 1419.5h0M746.5 1419.5h0M545.5 1420.5h0M557.5 1420.5h0M558.5 1420.5h0M560.5 1420.5h0M562.5 1420.5h0M565.5 1420.5h0M568.5 1420.5h0M569.5 1420.5h0M571.5 1420.5h0M573.5 1420.5h0M574.5 1420.5h0M575.5 1420.5h0M578.5 1420.5h0M579.5 1420.5h0M581.5 1420.5h0M582.5 1420.5h0M584.5 1420.5h0M586.5 1420.5h0M587.5 1420.5h0M588.5 1420.5h0M589.5 1420.5h0M590.5 1420.5h0M591.5 1420.5h0M592.5 1420.5h0M593.5 1420.5h0M594.5 1420.5h0M595.5 1420.5h0M596.5 1420.5h0M597.5 1420.5h0M601.5 1420.5h0M603.5 1420.5h0M605.5 1420.5h0M606.5 1420.5h0M607.5 1420.5h0M608.5 1420.5h0M609.5 1420.5h0M611.5 1420.5h0M613.5 1420.5h0M614.5 1420.5h0M615.5 1420.5h0M616.5 1420.5h0M617.5 1420.5h0M619.5 1420.5h0M620.5 1420.5h0M621.5 1420.5h0M622.5 1420.5h0M624.5 1420.5h0M625.5 1420.5h0M626.5 1420.5h0M627.5 1420.5h0M629.5 1420.5h0M630.5 1420.5h0M642.5 1420.5h0M650.5 1420.5h0M679.5 1420.5h0M694.5 1420.5h0M700.5 1420.5h0M717.5 1420.5h0M722.5 1420.5h0M728.5 1420.5h0M731.5 1420.5h0M542.5 1421.5h0M546.5 1421.5h0M558.5 1421.5h0M559.5 1421.5h0M562.5 1421.5h0M564.5 1421.5h0M566.5 1421.5h0M567.5 1421.5h0M568.5 1421.5h0M569.5 1421.5h0M572.5 1421.5h0M575.5 1421.5h0M577.5 1421.5h0M580.5 1421.5h0M582.5 1421.5h0M583.5 1421.5h0M584.5 1421.5h0M586.5 1421.5h0M587.5 1421.5h0M588.5 1421.5h0M594.5 1421.5h0M595.5 1421.5h0M596.5 1421.5h0M597.5 1421.5h0M598.5 1421.5h0M600.5 1421.5h0M602.5 1421.5h0M604.5 1421.5h0M605.5 1421.5h0M606.5 1421.5h0M607.5 1421.5h0M608.5 1421.5h0M611.5 1421.5h0M613.5 1421.5h0M614.5 1421.5h0M615.5 1421.5h0M616.5 1421.5h0M617.5 1421.5h0M618.5 1421.5h0M619.5 1421.5h0M620.5 1421.5h0M621.5 1421.5h0M628.5 1421.5h0M630.5 1421.5h0M634.5 1421.5h0M636.5 1421.5h0M638.5 1421.5h0M639.5 1421.5h0M646.5 1421.5h0M650.5 1421.5h0M651.5 1421.5h0M656.5 1421.5h0M665.5 1421.5h0M690.5 1421.5h0M700.5 1421.5h0M719.5 1421.5h0M554.5 1422.5h0M561.5 1422.5h0M565.5 1422.5h0M569.5 1422.5h0M570.5 1422.5h0M576.5 1422.5h0M577.5 1422.5h0M579.5 1422.5h0M581.5 1422.5h0M584.5 1422.5h0M585.5 1422.5h0M588.5 1422.5h0M590.5 1422.5h0M591.5 1422.5h0M592.5 1422.5h0M593.5 1422.5h0M594.5 1422.5h0M596.5 1422.5h0M597.5 1422.5h0M598.5 1422.5h0M599.5 1422.5h0M601.5 1422.5h0M602.5 1422.5h0M603.5 1422.5h0M604.5 1422.5h0M605.5 1422.5h0M607.5 1422.5h0M608.5 1422.5h0M610.5 1422.5h0M611.5 1422.5h0M613.5 1422.5h0M614.5 1422.5h0M617.5 1422.5h0M622.5 1422.5h0M625.5 1422.5h0M627.5 1422.5h0M629.5 1422.5h0M631.5 1422.5h0M634.5 1422.5h0M639.5 1422.5h0M645.5 1422.5h0M646.5 1422.5h0M653.5 1422.5h0M750.5 1422.5h0M555.5 1423.5h0M560.5 1423.5h0M564.5 1423.5h0M567.5 1423.5h0M569.5 1423.5h0M570.5 1423.5h0M572.5 1423.5h0M574.5 1423.5h0M575.5 1423.5h0M576.5 1423.5h0M577.5 1423.5h0M581.5 1423.5h0M586.5 1423.5h0M587.5 1423.5h0M590.5 1423.5h0M591.5 1423.5h0M592.5 1423.5h0M593.5 1423.5h0M594.5 1423.5h0M598.5 1423.5h0M599.5 1423.5h0M602.5 1423.5h0M603.5 1423.5h0M605.5 1423.5h0M606.5 1423.5h0M608.5 1423.5h0M611.5 1423.5h0M612.5 1423.5h0M613.5 1423.5h0M614.5 1423.5h0M616.5 1423.5h0M618.5 1423.5h0M619.5 1423.5h0M621.5 1423.5h0M623.5 1423.5h0M625.5 1423.5h0M626.5 1423.5h0M628.5 1423.5h0M631.5 1423.5h0M638.5 1423.5h0M643.5 1423.5h0M681.5 1423.5h0M690.5 1423.5h0M691.5 1423.5h0M696.5 1423.5h0M698.5 1423.5h0M742.5 1423.5h0M530.5 1424.5h0M543.5 1424.5h0M550.5 1424.5h0M551.5 1424.5h0M562.5 1424.5h0M563.5 1424.5h0M564.5 1424.5h0M565.5 1424.5h0M575.5 1424.5h0M580.5 1424.5h0M582.5 1424.5h0M586.5 1424.5h0M588.5 1424.5h0M590.5 1424.5h0M596.5 1424.5h0M597.5 1424.5h0M598.5 1424.5h0M600.5 1424.5h0M601.5 1424.5h0M603.5 1424.5h0M604.5 1424.5h0M606.5 1424.5h0M608.5 1424.5h0M610.5 1424.5h0M611.5 1424.5h0M612.5 1424.5h0M613.5 1424.5h0M614.5 1424.5h0M615.5 1424.5h0M617.5 1424.5h0M618.5 1424.5h0M620.5 1424.5h0M621.5 1424.5h0M624.5 1424.5h0M625.5 1424.5h0M626.5 1424.5h0M627.5 1424.5h0M637.5 1424.5h0M639.5 1424.5h0M641.5 1424.5h0M649.5 1424.5h0M650.5 1424.5h0M655.5 1424.5h0M661.5 1424.5h0M665.5 1424.5h0M682.5 1424.5h0M688.5 1424.5h0M709.5 1424.5h0M714.5 1424.5h0M722.5 1424.5h0M772.5 1424.5h0M521.5 1425.5h0M534.5 1425.5h0M558.5 1425.5h0M559.5 1425.5h0M563.5 1425.5h0M564.5 1425.5h0M565.5 1425.5h0M567.5 1425.5h0M570.5 1425.5h0M571.5 1425.5h0M573.5 1425.5h0M574.5 1425.5h0M575.5 1425.5h0M576.5 1425.5h0M577.5 1425.5h0M578.5 1425.5h0M579.5 1425.5h0M581.5 1425.5h0M582.5 1425.5h0M585.5 1425.5h0M586.5 1425.5h0M587.5 1425.5h0M588.5 1425.5h0M589.5 1425.5h0M590.5 1425.5h0M592.5 1425.5h0M593.5 1425.5h0M594.5 1425.5h0M595.5 1425.5h0M596.5 1425.5h0M597.5 1425.5h0M599.5 1425.5h0M600.5 1425.5h0M602.5 1425.5h0M606.5 1425.5h0M607.5 1425.5h0M608.5 1425.5h0M609.5 1425.5h0M610.5 1425.5h0M611.5 1425.5h0M612.5 1425.5h0M613.5 1425.5h0M614.5 1425.5h0M615.5 1425.5h0M616.5 1425.5h0M617.5 1425.5h0M620.5 1425.5h0M623.5 1425.5h0M624.5 1425.5h0M625.5 1425.5h0M627.5 1425.5h0M629.5 1425.5h0M630.5 1425.5h0M636.5 1425.5h0M637.5 1425.5h0M644.5 1425.5h0M646.5 1425.5h0M650.5 1425.5h0M667.5 1425.5h0M709.5 1425.5h0M719.5 1425.5h0M723.5 1425.5h0M731.5 1425.5h0M742.5 1425.5h0M750.5 1425.5h0M530.5 1426.5h0M542.5 1426.5h0M553.5 1426.5h0M557.5 1426.5h0M565.5 1426.5h0M568.5 1426.5h0M572.5 1426.5h0M573.5 1426.5h0M574.5 1426.5h0M577.5 1426.5h0M578.5 1426.5h0M579.5 1426.5h0M581.5 1426.5h0M582.5 1426.5h0M584.5 1426.5h0M585.5 1426.5h0M587.5 1426.5h0M588.5 1426.5h0M589.5 1426.5h0M591.5 1426.5h0M592.5 1426.5h0M595.5 1426.5h0M596.5 1426.5h0M597.5 1426.5h0M598.5 1426.5h0M600.5 1426.5h0M601.5 1426.5h0M602.5 1426.5h0M603.5 1426.5h0M604.5 1426.5h0M605.5 1426.5h0M606.5 1426.5h0M609.5 1426.5h0M610.5 1426.5h0M612.5 1426.5h0M613.5 1426.5h0M617.5 1426.5h0M618.5 1426.5h0M619.5 1426.5h0M620.5 1426.5h0M623.5 1426.5h0M626.5 1426.5h0M627.5 1426.5h0M629.5 1426.5h0M630.5 1426.5h0M631.5 1426.5h0M632.5 1426.5h0M635.5 1426.5h0M636.5 1426.5h0M640.5 1426.5h0M645.5 1426.5h0M646.5 1426.5h0M662.5 1426.5h0M671.5 1426.5h0M674.5 1426.5h0M680.5 1426.5h0M688.5 1426.5h0M718.5 1426.5h0M729.5 1426.5h0M533.5 1427.5h0M535.5 1427.5h0M538.5 1427.5h0M547.5 1427.5h0M551.5 1427.5h0M552.5 1427.5h0M558.5 1427.5h0M560.5 1427.5h0M561.5 1427.5h0M564.5 1427.5h0M565.5 1427.5h0M567.5 1427.5h0M569.5 1427.5h0M573.5 1427.5h0M574.5 1427.5h0M575.5 1427.5h0M577.5 1427.5h0M578.5 1427.5h0M579.5 1427.5h0M580.5 1427.5h0M581.5 1427.5h0M582.5 1427.5h0M583.5 1427.5h0M584.5 1427.5h0M585.5 1427.5h0M586.5 1427.5h0M587.5 1427.5h0M590.5 1427.5h0M592.5 1427.5h0M593.5 1427.5h0M594.5 1427.5h0M595.5 1427.5h0M596.5 1427.5h0M597.5 1427.5h0M599.5 1427.5h0M600.5 1427.5h0M601.5 1427.5h0M602.5 1427.5h0M604.5 1427.5h0M605.5 1427.5h0M606.5 1427.5h0M608.5 1427.5h0M610.5 1427.5h0M611.5 1427.5h0M612.5 1427.5h0M613.5 1427.5h0M614.5 1427.5h0M616.5 1427.5h0M617.5 1427.5h0M618.5 1427.5h0M619.5 1427.5h0M621.5 1427.5h0M623.5 1427.5h0M624.5 1427.5h0M627.5 1427.5h0M628.5 1427.5h0M632.5 1427.5h0M633.5 1427.5h0M634.5 1427.5h0M644.5 1427.5h0M659.5 1427.5h0M723.5 1427.5h0M531.5 1428.5h0M555.5 1428.5h0M559.5 1428.5h0M563.5 1428.5h0M566.5 1428.5h0M569.5 1428.5h0M573.5 1428.5h0M576.5 1428.5h0M579.5 1428.5h0M580.5 1428.5h0M582.5 1428.5h0M583.5 1428.5h0M584.5 1428.5h0M585.5 1428.5h0M586.5 1428.5h0M587.5 1428.5h0M588.5 1428.5h0M591.5 1428.5h0M592.5 1428.5h0M593.5 1428.5h0M594.5 1428.5h0M596.5 1428.5h0M597.5 1428.5h0M598.5 1428.5h0M599.5 1428.5h0M600.5 1428.5h0M601.5 1428.5h0M604.5 1428.5h0M605.5 1428.5h0M606.5 1428.5h0M607.5 1428.5h0M609.5 1428.5h0M610.5 1428.5h0M612.5 1428.5h0M613.5 1428.5h0M614.5 1428.5h0M616.5 1428.5h0M617.5 1428.5h0M618.5 1428.5h0M619.5 1428.5h0M620.5 1428.5h0M621.5 1428.5h0M622.5 1428.5h0M631.5 1428.5h0M632.5 1428.5h0M639.5 1428.5h0M641.5 1428.5h0M656.5 1428.5h0M659.5 1428.5h0M717.5 1428.5h0M530.5 1429.5h0M538.5 1429.5h0M545.5 1429.5h0M547.5 1429.5h0M548.5 1429.5h0M558.5 1429.5h0M560.5 1429.5h0M561.5 1429.5h0M562.5 1429.5h0M563.5 1429.5h0M564.5 1429.5h0M567.5 1429.5h0M568.5 1429.5h0M570.5 1429.5h0M571.5 1429.5h0M572.5 1429.5h0M574.5 1429.5h0M575.5 1429.5h0M577.5 1429.5h0M580.5 1429.5h0M581.5 1429.5h0M583.5 1429.5h0M586.5 1429.5h0M591.5 1429.5h0M592.5 1429.5h0M594.5 1429.5h0M595.5 1429.5h0M596.5 1429.5h0M598.5 1429.5h0M599.5 1429.5h0M602.5 1429.5h0M604.5 1429.5h0M606.5 1429.5h0M607.5 1429.5h0M608.5 1429.5h0M609.5 1429.5h0M610.5 1429.5h0M611.5 1429.5h0M612.5 1429.5h0M613.5 1429.5h0M615.5 1429.5h0M617.5 1429.5h0M619.5 1429.5h0M620.5 1429.5h0M623.5 1429.5h0M626.5 1429.5h0M631.5 1429.5h0M632.5 1429.5h0M635.5 1429.5h0M638.5 1429.5h0M644.5 1429.5h0M651.5 1429.5h0M654.5 1429.5h0M703.5 1429.5h0M740.5 1429.5h0M551.5 1430.5h0M552.5 1430.5h0M560.5 1430.5h0M562.5 1430.5h0M568.5 1430.5h0M569.5 1430.5h0M571.5 1430.5h0M572.5 1430.5h0M574.5 1430.5h0M575.5 1430.5h0M577.5 1430.5h0M578.5 1430.5h0M580.5 1430.5h0M581.5 1430.5h0M582.5 1430.5h0M583.5 1430.5h0M584.5 1430.5h0M585.5 1430.5h0M586.5 1430.5h0M587.5 1430.5h0M589.5 1430.5h0M590.5 1430.5h0M591.5 1430.5h0M592.5 1430.5h0M595.5 1430.5h0M596.5 1430.5h0M599.5 1430.5h0M600.5 1430.5h0M602.5 1430.5h0M603.5 1430.5h0M605.5 1430.5h0M607.5 1430.5h0M608.5 1430.5h0M609.5 1430.5h0M610.5 1430.5h0M615.5 1430.5h0M616.5 1430.5h0M617.5 1430.5h0M618.5 1430.5h0M621.5 1430.5h0M623.5 1430.5h0M624.5 1430.5h0M628.5 1430.5h0M629.5 1430.5h0M632.5 1430.5h0M637.5 1430.5h0M638.5 1430.5h0M642.5 1430.5h0M659.5 1430.5h0M675.5 1430.5h0M680.5 1430.5h0M694.5 1430.5h0M717.5 1430.5h0M545.5 1431.5h0M551.5 1431.5h0M552.5 1431.5h0M564.5 1431.5h0M565.5 1431.5h0M566.5 1431.5h0M568.5 1431.5h0M571.5 1431.5h0M572.5 1431.5h0M574.5 1431.5h0M576.5 1431.5h0M578.5 1431.5h0M579.5 1431.5h0M580.5 1431.5h0M582.5 1431.5h0M583.5 1431.5h0M584.5 1431.5h0M585.5 1431.5h0M586.5 1431.5h0M587.5 1431.5h0M588.5 1431.5h0M589.5 1431.5h0M590.5 1431.5h0M592.5 1431.5h0M593.5 1431.5h0M594.5 1431.5h0M595.5 1431.5h0M596.5 1431.5h0M598.5 1431.5h0M600.5 1431.5h0M601.5 1431.5h0M603.5 1431.5h0M604.5 1431.5h0M605.5 1431.5h0M606.5 1431.5h0M609.5 1431.5h0M611.5 1431.5h0M614.5 1431.5h0M616.5 1431.5h0M622.5 1431.5h0M623.5 1431.5h0M624.5 1431.5h0M625.5 1431.5h0M626.5 1431.5h0M627.5 1431.5h0M628.5 1431.5h0M633.5 1431.5h0M635.5 1431.5h0M644.5 1431.5h0M646.5 1431.5h0M649.5 1431.5h0M664.5 1431.5h0M704.5 1431.5h0M717.5 1431.5h0M724.5 1431.5h0M538.5 1432.5h0M540.5 1432.5h0M555.5 1432.5h0M557.5 1432.5h0M558.5 1432.5h0M564.5 1432.5h0M565.5 1432.5h0M566.5 1432.5h0M569.5 1432.5h0M571.5 1432.5h0M574.5 1432.5h0M577.5 1432.5h0M578.5 1432.5h0M579.5 1432.5h0M581.5 1432.5h0M583.5 1432.5h0M585.5 1432.5h0M586.5 1432.5h0M587.5 1432.5h0M589.5 1432.5h0M591.5 1432.5h0M592.5 1432.5h0M593.5 1432.5h0M594.5 1432.5h0M595.5 1432.5h0M597.5 1432.5h0M598.5 1432.5h0M599.5 1432.5h0M600.5 1432.5h0M601.5 1432.5h0M604.5 1432.5h0M605.5 1432.5h0M606.5 1432.5h0M608.5 1432.5h0M609.5 1432.5h0M610.5 1432.5h0M612.5 1432.5h0M614.5 1432.5h0M615.5 1432.5h0M618.5 1432.5h0M619.5 1432.5h0M623.5 1432.5h0M626.5 1432.5h0M629.5 1432.5h0M635.5 1432.5h0M636.5 1432.5h0M643.5 1432.5h0M644.5 1432.5h0M647.5 1432.5h0M679.5 1432.5h0M689.5 1432.5h0M703.5 1432.5h0M723.5 1432.5h0M749.5 1432.5h0M541.5 1433.5h0M543.5 1433.5h0M544.5 1433.5h0M553.5 1433.5h0M554.5 1433.5h0M555.5 1433.5h0M557.5 1433.5h0M563.5 1433.5h0M566.5 1433.5h0M568.5 1433.5h0M570.5 1433.5h0M571.5 1433.5h0M572.5 1433.5h0M574.5 1433.5h0M576.5 1433.5h0M577.5 1433.5h0M578.5 1433.5h0M579.5 1433.5h0M580.5 1433.5h0M582.5 1433.5h0M583.5 1433.5h0M585.5 1433.5h0M587.5 1433.5h0M589.5 1433.5h0M591.5 1433.5h0M592.5 1433.5h0M593.5 1433.5h0M594.5 1433.5h0M595.5 1433.5h0M597.5 1433.5h0M599.5 1433.5h0M600.5 1433.5h0M601.5 1433.5h0M602.5 1433.5h0M603.5 1433.5h0M604.5 1433.5h0M605.5 1433.5h0M609.5 1433.5h0M610.5 1433.5h0M611.5 1433.5h0M616.5 1433.5h0M617.5 1433.5h0M619.5 1433.5h0M620.5 1433.5h0M623.5 1433.5h0M624.5 1433.5h0M625.5 1433.5h0M626.5 1433.5h0M627.5 1433.5h0M628.5 1433.5h0M630.5 1433.5h0M631.5 1433.5h0M633.5 1433.5h0M634.5 1433.5h0M635.5 1433.5h0M639.5 1433.5h0M640.5 1433.5h0M641.5 1433.5h0M642.5 1433.5h0M663.5 1433.5h0M666.5 1433.5h0M715.5 1433.5h0M720.5 1433.5h0M766.5 1433.5h0M542.5 1434.5h0M553.5 1434.5h0M558.5 1434.5h0M564.5 1434.5h0M565.5 1434.5h0M567.5 1434.5h0M574.5 1434.5h0M577.5 1434.5h0M579.5 1434.5h0M582.5 1434.5h0M583.5 1434.5h0M585.5 1434.5h0M587.5 1434.5h0M588.5 1434.5h0M589.5 1434.5h0M591.5 1434.5h0M592.5 1434.5h0M593.5 1434.5h0M594.5 1434.5h0M595.5 1434.5h0M596.5 1434.5h0M597.5 1434.5h0M598.5 1434.5h0M600.5 1434.5h0M601.5 1434.5h0M603.5 1434.5h0M606.5 1434.5h0M607.5 1434.5h0M608.5 1434.5h0M610.5 1434.5h0M612.5 1434.5h0M613.5 1434.5h0M618.5 1434.5h0M619.5 1434.5h0M620.5 1434.5h0M624.5 1434.5h0M630.5 1434.5h0M690.5 1434.5h0M691.5 1434.5h0M700.5 1434.5h0M704.5 1434.5h0M722.5 1434.5h0M747.5 1434.5h0M533.5 1435.5h0M556.5 1435.5h0M559.5 1435.5h0M560.5 1435.5h0M568.5 1435.5h0M571.5 1435.5h0M572.5 1435.5h0M573.5 1435.5h0M574.5 1435.5h0M575.5 1435.5h0M576.5 1435.5h0M579.5 1435.5h0M580.5 1435.5h0M581.5 1435.5h0M583.5 1435.5h0M586.5 1435.5h0M587.5 1435.5h0M588.5 1435.5h0M589.5 1435.5h0M590.5 1435.5h0M592.5 1435.5h0M593.5 1435.5h0M598.5 1435.5h0M599.5 1435.5h0M600.5 1435.5h0M602.5 1435.5h0M603.5 1435.5h0M606.5 1435.5h0M609.5 1435.5h0M610.5 1435.5h0M611.5 1435.5h0M612.5 1435.5h0M613.5 1435.5h0M614.5 1435.5h0M615.5 1435.5h0M616.5 1435.5h0M618.5 1435.5h0M619.5 1435.5h0M622.5 1435.5h0M628.5 1435.5h0M632.5 1435.5h0M636.5 1435.5h0M637.5 1435.5h0M668.5 1435.5h0M673.5 1435.5h0M684.5 1435.5h0M703.5 1435.5h0M744.5 1435.5h0M533.5 1436.5h0M534.5 1436.5h0M537.5 1436.5h0M543.5 1436.5h0M546.5 1436.5h0M552.5 1436.5h0M553.5 1436.5h0M557.5 1436.5h0M559.5 1436.5h0M562.5 1436.5h0M563.5 1436.5h0M566.5 1436.5h0M567.5 1436.5h0M568.5 1436.5h0M571.5 1436.5h0M576.5 1436.5h0M579.5 1436.5h0M580.5 1436.5h0M581.5 1436.5h0M584.5 1436.5h0M585.5 1436.5h0M586.5 1436.5h0M590.5 1436.5h0M591.5 1436.5h0M592.5 1436.5h0M593.5 1436.5h0M594.5 1436.5h0M595.5 1436.5h0M599.5 1436.5h0M600.5 1436.5h0M602.5 1436.5h0M603.5 1436.5h0M604.5 1436.5h0M605.5 1436.5h0M606.5 1436.5h0M608.5 1436.5h0M609.5 1436.5h0M611.5 1436.5h0M612.5 1436.5h0M613.5 1436.5h0M618.5 1436.5h0M620.5 1436.5h0M621.5 1436.5h0M626.5 1436.5h0M629.5 1436.5h0M630.5 1436.5h0M634.5 1436.5h0M639.5 1436.5h0M642.5 1436.5h0M680.5 1436.5h0M697.5 1436.5h0M744.5 1436.5h0M757.5 1436.5h0M532.5 1437.5h0M538.5 1437.5h0M545.5 1437.5h0M560.5 1437.5h0M563.5 1437.5h0M564.5 1437.5h0M567.5 1437.5h0M571.5 1437.5h0M572.5 1437.5h0M573.5 1437.5h0M576.5 1437.5h0M578.5 1437.5h0M580.5 1437.5h0M581.5 1437.5h0M584.5 1437.5h0M586.5 1437.5h0M587.5 1437.5h0M588.5 1437.5h0M590.5 1437.5h0M591.5 1437.5h0M595.5 1437.5h0M597.5 1437.5h0M598.5 1437.5h0M599.5 1437.5h0M601.5 1437.5h0M602.5 1437.5h0M604.5 1437.5h0M606.5 1437.5h0M608.5 1437.5h0M609.5 1437.5h0M610.5 1437.5h0M613.5 1437.5h0M614.5 1437.5h0M615.5 1437.5h0M621.5 1437.5h0M624.5 1437.5h0M626.5 1437.5h0M638.5 1437.5h0M693.5 1437.5h0M710.5 1437.5h0M744.5 1437.5h0M537.5 1438.5h0M542.5 1438.5h0M548.5 1438.5h0M553.5 1438.5h0M556.5 1438.5h0M557.5 1438.5h0M562.5 1438.5h0M564.5 1438.5h0M566.5 1438.5h0M567.5 1438.5h0M569.5 1438.5h0M573.5 1438.5h0M580.5 1438.5h0M584.5 1438.5h0M588.5 1438.5h0M591.5 1438.5h0M593.5 1438.5h0M594.5 1438.5h0M596.5 1438.5h0M598.5 1438.5h0M600.5 1438.5h0M608.5 1438.5h0M610.5 1438.5h0M612.5 1438.5h0M615.5 1438.5h0M617.5 1438.5h0M618.5 1438.5h0M621.5 1438.5h0M627.5 1438.5h0M630.5 1438.5h0M638.5 1438.5h0M640.5 1438.5h0M697.5 1438.5h0M733.5 1438.5h0M737.5 1438.5h0M742.5 1438.5h0M793.5 1438.5h0M546.5 1439.5h0M559.5 1439.5h0M567.5 1439.5h0M568.5 1439.5h0M569.5 1439.5h0M572.5 1439.5h0M573.5 1439.5h0M574.5 1439.5h0M576.5 1439.5h0M579.5 1439.5h0M582.5 1439.5h0M584.5 1439.5h0M586.5 1439.5h0M589.5 1439.5h0M590.5 1439.5h0M592.5 1439.5h0M594.5 1439.5h0M595.5 1439.5h0M597.5 1439.5h0M599.5 1439.5h0M601.5 1439.5h0M602.5 1439.5h0M603.5 1439.5h0M604.5 1439.5h0M605.5 1439.5h0M608.5 1439.5h0M610.5 1439.5h0M611.5 1439.5h0M613.5 1439.5h0M614.5 1439.5h0M617.5 1439.5h0M621.5 1439.5h0M625.5 1439.5h0M628.5 1439.5h0M629.5 1439.5h0M632.5 1439.5h0M640.5 1439.5h0M659.5 1439.5h0M670.5 1439.5h0M679.5 1439.5h0M694.5 1439.5h0M699.5 1439.5h0M743.5 1439.5h0M749.5 1439.5h0M531.5 1440.5h0M547.5 1440.5h0M554.5 1440.5h0M569.5 1440.5h0M570.5 1440.5h0M574.5 1440.5h0M579.5 1440.5h0M580.5 1440.5h0M581.5 1440.5h0M583.5 1440.5h0M590.5 1440.5h0M592.5 1440.5h0M595.5 1440.5h0M597.5 1440.5h0M598.5 1440.5h0M599.5 1440.5h0M603.5 1440.5h0M611.5 1440.5h0M614.5 1440.5h0M629.5 1440.5h0M630.5 1440.5h0M638.5 1440.5h0M644.5 1440.5h0M648.5 1440.5h0M654.5 1440.5h0M676.5 1440.5h0M538.5 1441.5h0M539.5 1441.5h0M544.5 1441.5h0M548.5 1441.5h0M549.5 1441.5h0M552.5 1441.5h0M555.5 1441.5h0M563.5 1441.5h0M565.5 1441.5h0M572.5 1441.5h0M575.5 1441.5h0M576.5 1441.5h0M577.5 1441.5h0M578.5 1441.5h0M579.5 1441.5h0M582.5 1441.5h0M583.5 1441.5h0M587.5 1441.5h0M592.5 1441.5h0M594.5 1441.5h0M595.5 1441.5h0M598.5 1441.5h0M599.5 1441.5h0M600.5 1441.5h0M602.5 1441.5h0M603.5 1441.5h0M605.5 1441.5h0M609.5 1441.5h0M612.5 1441.5h0M621.5 1441.5h0M622.5 1441.5h0M623.5 1441.5h0M625.5 1441.5h0M629.5 1441.5h0M638.5 1441.5h0M644.5 1441.5h0M659.5 1441.5h0M673.5 1441.5h0M724.5 1441.5h0M726.5 1441.5h0M549.5 1442.5h0M557.5 1442.5h0M562.5 1442.5h0M565.5 1442.5h0M572.5 1442.5h0M573.5 1442.5h0M577.5 1442.5h0M578.5 1442.5h0M579.5 1442.5h0M585.5 1442.5h0M588.5 1442.5h0M589.5 1442.5h0M591.5 1442.5h0M593.5 1442.5h0M596.5 1442.5h0M598.5 1442.5h0M603.5 1442.5h0M607.5 1442.5h0M611.5 1442.5h0M613.5 1442.5h0M614.5 1442.5h0M617.5 1442.5h0M619.5 1442.5h0M622.5 1442.5h0M630.5 1442.5h0M643.5 1442.5h0M658.5 1442.5h0M694.5 1442.5h0M698.5 1442.5h0M733.5 1442.5h0M534.5 1443.5h0M535.5 1443.5h0M536.5 1443.5h0M544.5 1443.5h0M550.5 1443.5h0M555.5 1443.5h0M562.5 1443.5h0M573.5 1443.5h0M574.5 1443.5h0M576.5 1443.5h0M578.5 1443.5h0M579.5 1443.5h0M581.5 1443.5h0M582.5 1443.5h0M583.5 1443.5h0M584.5 1443.5h0M585.5 1443.5h0M589.5 1443.5h0M590.5 1443.5h0M592.5 1443.5h0M593.5 1443.5h0M595.5 1443.5h0M602.5 1443.5h0M604.5 1443.5h0M605.5 1443.5h0M608.5 1443.5h0M609.5 1443.5h0M613.5 1443.5h0M624.5 1443.5h0M626.5 1443.5h0M633.5 1443.5h0M661.5 1443.5h0M668.5 1443.5h0M697.5 1443.5h0M703.5 1443.5h0M717.5 1443.5h0M537.5 1444.5h0M551.5 1444.5h0M556.5 1444.5h0M566.5 1444.5h0M573.5 1444.5h0M574.5 1444.5h0M579.5 1444.5h0M581.5 1444.5h0M582.5 1444.5h0M589.5 1444.5h0M591.5 1444.5h0M593.5 1444.5h0M594.5 1444.5h0M596.5 1444.5h0M599.5 1444.5h0M600.5 1444.5h0M603.5 1444.5h0M604.5 1444.5h0M609.5 1444.5h0M611.5 1444.5h0M616.5 1444.5h0M620.5 1444.5h0M627.5 1444.5h0M685.5 1444.5h0M763.5 1444.5h0M764.5 1444.5h0M546.5 1445.5h0M554.5 1445.5h0M557.5 1445.5h0M559.5 1445.5h0M561.5 1445.5h0M564.5 1445.5h0M569.5 1445.5h0M574.5 1445.5h0M576.5 1445.5h0M577.5 1445.5h0M582.5 1445.5h0M585.5 1445.5h0M587.5 1445.5h0M589.5 1445.5h0M591.5 1445.5h0M593.5 1445.5h0M597.5 1445.5h0M599.5 1445.5h0M600.5 1445.5h0M601.5 1445.5h0M602.5 1445.5h0M603.5 1445.5h0M606.5 1445.5h0M610.5 1445.5h0M619.5 1445.5h0M620.5 1445.5h0M626.5 1445.5h0M641.5 1445.5h0M717.5 1445.5h0M726.5 1445.5h0M730.5 1445.5h0M565.5 1446.5h0M567.5 1446.5h0M577.5 1446.5h0M580.5 1446.5h0M581.5 1446.5h0M582.5 1446.5h0M587.5 1446.5h0M591.5 1446.5h0M593.5 1446.5h0M596.5 1446.5h0M598.5 1446.5h0M612.5 1446.5h0M623.5 1446.5h0M634.5 1446.5h0M636.5 1446.5h0M637.5 1446.5h0M676.5 1446.5h0M685.5 1446.5h0M734.5 1446.5h0M540.5 1447.5h0M549.5 1447.5h0M551.5 1447.5h0M552.5 1447.5h0M555.5 1447.5h0M558.5 1447.5h0M561.5 1447.5h0M569.5 1447.5h0M570.5 1447.5h0M573.5 1447.5h0M575.5 1447.5h0M579.5 1447.5h0M580.5 1447.5h0M591.5 1447.5h0M592.5 1447.5h0M597.5 1447.5h0M600.5 1447.5h0M615.5 1447.5h0M626.5 1447.5h0M633.5 1447.5h0M634.5 1447.5h0M641.5 1447.5h0M663.5 1447.5h0M698.5 1447.5h0M705.5 1447.5h0M564.5 1448.5h0M566.5 1448.5h0M567.5 1448.5h0M572.5 1448.5h0M574.5 1448.5h0M576.5 1448.5h0M578.5 1448.5h0M585.5 1448.5h0M588.5 1448.5h0M592.5 1448.5h0M593.5 1448.5h0M594.5 1448.5h0M597.5 1448.5h0M599.5 1448.5h0M600.5 1448.5h0M602.5 1448.5h0M603.5 1448.5h0M604.5 1448.5h0M605.5 1448.5h0M606.5 1448.5h0M614.5 1448.5h0M616.5 1448.5h0M647.5 1448.5h0M701.5 1448.5h0M532.5 1449.5h0M539.5 1449.5h0M548.5 1449.5h0M562.5 1449.5h0M568.5 1449.5h0M579.5 1449.5h0M608.5 1449.5h0M616.5 1449.5h0M622.5 1449.5h0M677.5 1449.5h0M536.5 1450.5h0M543.5 1450.5h0M570.5 1450.5h0M581.5 1450.5h0M583.5 1450.5h0M586.5 1450.5h0M588.5 1450.5h0M592.5 1450.5h0M593.5 1450.5h0M594.5 1450.5h0M597.5 1450.5h0M606.5 1450.5h0M610.5 1450.5h0M616.5 1450.5h0M618.5 1450.5h0M620.5 1450.5h0M623.5 1450.5h0M632.5 1450.5h0M710.5 1450.5h0M712.5 1450.5h0M737.5 1450.5h0M746.5 1450.5h0M557.5 1451.5h0M571.5 1451.5h0M572.5 1451.5h0M587.5 1451.5h0M588.5 1451.5h0M589.5 1451.5h0M599.5 1451.5h0M606.5 1451.5h0M625.5 1451.5h0M658.5 1451.5h0M662.5 1451.5h0M525.5 1452.5h0M540.5 1452.5h0M563.5 1452.5h0M583.5 1452.5h0M588.5 1452.5h0M593.5 1452.5h0M595.5 1452.5h0M599.5 1452.5h0M605.5 1452.5h0M618.5 1452.5h0M620.5 1452.5h0M626.5 1452.5h0M655.5 1452.5h0M708.5 1452.5h0M725.5 1452.5h0M728.5 1452.5h0M568.5 1453.5h0M576.5 1453.5h0M578.5 1453.5h0M580.5 1453.5h0M581.5 1453.5h0M592.5 1453.5h0M602.5 1453.5h0M607.5 1453.5h0M621.5 1453.5h0M643.5 1453.5h0M718.5 1453.5h0M547.5 1454.5h0M556.5 1454.5h0M572.5 1454.5h0M606.5 1454.5h0M620.5 1454.5h0M717.5 1454.5h0"/>
<g stroke="#000" stroke-width="1.8" fill="none">
<rect x="489.6" y="1149" width="327.5" height="327.6"/>
<path d="M648 1149V1476.6M489.6 1339.3H817.1"/>
<path stroke-width="1.6" d="M489.6 1476.6v8M526.2 1476.6v8M624.8 1476.6v8M720.8 1476.6v8M817.1 1476.6v8M504.2 1476.6v5M546.8 1476.6v5M563.8 1476.6v5M577.8 1476.6v5M588.8 1476.6v5M596.8 1476.6v5M604.2 1476.6v5M610.5 1476.6v5M615.8 1476.6v5M620.8 1476.6v5M653.8 1476.6v5M670.7 1476.6v5M682.7 1476.6v5M692 1476.6v5M699.7 1476.6v5M706.1 1476.6v5M711.7 1476.6v5M716.6 1476.6v5M749.8 1476.6v5M766.7 1476.6v5M778.7 1476.6v5M788 1476.6v5M795.7 1476.6v5M802.1 1476.6v5M807.7 1476.6v5M812.6 1476.6v5M489.6 1149h-8M489.6 1237.8h-8M489.6 1326h-8M489.6 1408.3h-8M489.6 1442.3h-8M489.6 1476.6h-8M489.6 1211.1h-5M489.6 1195.4h-5M489.6 1184.3h-5M489.6 1175.7h-5M489.6 1168.7h-5M489.6 1162.8h-5M489.6 1157.6h-5M489.6 1153.1h-5M489.6 1299.4h-5M489.6 1283.9h-5M489.6 1272.9h-5M489.6 1264.4h-5M489.6 1257.4h-5M489.6 1251.5h-5M489.6 1246.3h-5M489.6 1241.8h-5M489.6 1383.5h-5M489.6 1369h-5M489.6 1358.8h-5M489.6 1350.8h-5M489.6 1344.3h-5M489.6 1338.7h-5M489.6 1334h-5M489.6 1329.8h-5M489.6 1411.8h-5M489.6 1415.2h-5M489.6 1418.6h-5M489.6 1422h-5M489.6 1425.4h-5M489.6 1428.8h-5M489.6 1432.2h-5M489.6 1435.6h-5M489.6 1439h-5M489.6 1445.8h-5M489.6 1449.2h-5M489.6 1452.6h-5M489.6 1456h-5M489.6 1459.4h-5M489.6 1462.8h-5M489.6 1466.2h-5M489.6 1469.6h-5M489.6 1473h-5"/>
</g>
<g font-family="Liberation Sans" fill="#000">
<text x="526.2" y="1504.6" font-size="17" text-anchor="middle">0</text>
<text x="627.3" y="1504.6" font-size="17" text-anchor="middle">10<tspan font-size="12" dy="-6.5">4</tspan></text>
<text x="723.3" y="1504.6" font-size="17" text-anchor="middle">10<tspan font-size="12" dy="-6.5">5</tspan></text>
<text x="819.6" y="1504.6" font-size="17" text-anchor="middle">10<tspan font-size="12" dy="-6.5">6</tspan></text>
<text x="0" y="0" font-size="17" text-anchor="middle" transform="translate(474.3 1442.3) rotate(-90)">0</text>
<text x="0" y="0" font-size="17" text-anchor="middle" transform="translate(474.3 1409.8) rotate(-90)">10<tspan font-size="12" dy="-8.5">3</tspan></text>
<text x="0" y="0" font-size="17" text-anchor="middle" transform="translate(474.3 1327.5) rotate(-90)">10<tspan font-size="12" dy="-8.5">4</tspan></text>
<text x="0" y="0" font-size="17" text-anchor="middle" transform="translate(474.3 1239.3) rotate(-90)">10<tspan font-size="12" dy="-8.5">5</tspan></text>
<text x="0" y="0" font-size="17" text-anchor="middle" transform="translate(474.3 1150.5) rotate(-90)">10<tspan font-size="12" dy="-8.5">6</tspan></text>
<text x="653.4" y="1525.1" font-size="16.8" text-anchor="middle">Annexin V FITC-A</text>
<text transform="translate(453.3 1312.8) rotate(-90)" font-size="17.5" text-anchor="middle">PI PE-A</text>
<g font-size="16.8">
<text x="495.6" y="1171">Q1-UL(0.17%)</text>
<text x="811.1" y="1171" text-anchor="end">Q1-UR(8.21%)</text>
<text x="495.6" y="1465.6">Q1-LL(85.65%)</text>
<text x="811.1" y="1465.6" text-anchor="end">Q1-LR(5.96%)</text>
</g></g>
<text x="232.9" y="1611.6" font-family="Liberation Sans" font-weight="bold" font-size="33.4" text-anchor="middle">Normal</text>
<path fill="#ff8080" d="M100 1962.2 100.7 1962.8 101.4 1962.8 102.1 1962.3 102.8 1961.8 103.5 1962.4 104.2 1962.6 104.9 1962.8 105.6 1961.6 106.3 1961.5 107 1962.5 107.7 1962.3 108.4 1962.8 109.1 1962.4 109.8 1961.8 110.5 1961.6 111.2 1962.8 111.9 1961.5 112.6 1961.1 113.3 1960.9 114 1961.5 114.7 1961.4 115.4 1961.1 116.1 1961.2 116.8 1961.3 117.5 1961.4 118.2 1961.5 118.9 1960.7 119.6 1959.2 120.3 1960.3 121 1958.7 121.7 1959 122.4 1957.9 123.1 1958.5 123.8 1957.6 124.5 1957.1 125.2 1957.8 125.9 1954.2 126.6 1953.4 127.3 1950.4 128 1949.8 128.7 1949.2 129.4 1947.1 130.1 1946.1 130.8 1944.5 131.5 1942 132.2 1942.2 132.9 1939.3 133.6 1940.9 134.3 1936 135 1935.2 135.7 1932.1 136.4 1931.1 137.1 1926.8 137.8 1926.8 138.5 1922.9 139.2 1922.8 139.9 1918.1 140.6 1911.5 141.3 1903.9 142 1901.2 142.7 1894.8 143.4 1892.1 144.1 1882.7 144.8 1880.4 145.5 1875.6 146.2 1870.4 146.9 1865.5 147.6 1860.2 148.3 1852.4 149 1845.7 149.7 1839.6 150.4 1834 151.1 1828.6 151.8 1817.4 152.5 1800 153.2 1769.2 153.9 1754.9 154.6 1744.3 155.3 1740.3 156 1739.4 156.7 1719.2 157.4 1710 158.1 1721.4 158.8 1702.9 159.5 1717.6 160.2 1722.2 160.9 1702.9 161.6 1721.9 162.3 1711.8 163 1694.8 163.7 1693.4 164.4 1696.1 165.1 1701.7 165.8 1719.7 166.5 1729.4 167.2 1738.2 167.9 1739.8 168.6 1737.3 169.3 1740.2 170 1721.6 170.7 1736.7 171.4 1769.2 172.1 1789.8 172.8 1791.1 173.5 1803.5 174.2 1816.7 174.9 1825.9 175.6 1837.8 176.3 1832.5 177 1840.4 177.7 1846.8 178.4 1848.3 179.1 1847.4 179.8 1864.4 180.5 1875.6 181.2 1878.7 181.9 1877.6 182.6 1878.7 183.3 1880.1 184 1885.8 184.7 1880.7 185.4 1879.2 186.1 1886.4 186.8 1891 187.5 1903.7 188.2 1907.3 188.9 1915 189.6 1915.2 190.3 1914.8 191 1911.7 191.7 1915.5 192.4 1919.2 193.1 1928 193.8 1933.7 194.5 1935.3 195.2 1938.1 195.9 1938.6 196.6 1941.3 197.3 1942 198 1943.1 198.7 1945 199.4 1946.8 200.1 1948.7 200.8 1949 201.5 1950.7 202.2 1951.3 202.9 1954.6 203.6 1955.6 204.3 1955.5 205 1956.4 205.7 1957.1 206.4 1959.1 207.1 1960.2 207.8 1962.4 208.5 1961.7 209.2 1961.1 209.9 1960.3 210.6 1962.4 211.3 1961.8 212 1960.8 212.7 1961.8 213.4 1960.9 214.1 1962.8 214.8 1962.4 215.5 1962.1 216.2 1961.8 216.9 1960.8 217.6 1961.9 218.3 1961.2 219 1962.3 219.7 1960.9 220.4 1961.6 221.1 1962.7 L221.1 1962.8 L100 1962.8Z"/>
<path fill="#ff4040" d="M221.8 1962.8 222.5 1961.5 223.2 1961.4 223.9 1962.7 224.6 1962.7 225.3 1961.8 226 1962 226.7 1962 227.4 1961.8 228.1 1962.1 228.8 1962.8 229.5 1962.8 L229.5 1962.8 L221.8 1962.8Z"/>
<path stroke="#ff0000" stroke-width="1.3" fill="none" d="M221.6 1962.8V1962.8"/>
<path stroke="#ff0000" stroke-width="1.6" fill="none" stroke-linejoin="round" d="M77.4 1962.8L100 1962.2 100 1962.2 100.7 1962.8 101.4 1962.8 102.1 1962.3 102.8 1961.8 103.5 1962.4 104.2 1962.6 104.9 1962.8 105.6 1961.6 106.3 1961.5 107 1962.5 107.7 1962.3 108.4 1962.8 109.1 1962.4 109.8 1961.8 110.5 1961.6 111.2 1962.8 111.9 1961.5 112.6 1961.1 113.3 1960.9 114 1961.5 114.7 1961.4 115.4 1961.1 116.1 1961.2 116.8 1961.3 117.5 1961.4 118.2 1961.5 118.9 1960.7 119.6 1959.2 120.3 1960.3 121 1958.7 121.7 1959 122.4 1957.9 123.1 1958.5 123.8 1957.6 124.5 1957.1 125.2 1957.8 125.9 1954.2 126.6 1953.4 127.3 1950.4 128 1949.8 128.7 1949.2 129.4 1947.1 130.1 1946.1 130.8 1944.5 131.5 1942 132.2 1942.2 132.9 1939.3 133.6 1940.9 134.3 1936 135 1935.2 135.7 1932.1 136.4 1931.1 137.1 1926.8 137.8 1926.8 138.5 1922.9 139.2 1922.8 139.9 1918.1 140.6 1911.5 141.3 1903.9 142 1901.2 142.7 1894.8 143.4 1892.1 144.1 1882.7 144.8 1880.4 145.5 1875.6 146.2 1870.4 146.9 1865.5 147.6 1860.2 148.3 1852.4 149 1845.7 149.7 1839.6 150.4 1834 151.1 1828.6 151.8 1817.4 152.5 1800 153.2 1769.2 153.9 1754.9 154.6 1744.3 155.3 1740.3 156 1739.4 156.7 1719.2 157.4 1710 158.1 1721.4 158.8 1702.9 159.5 1717.6 160.2 1722.2 160.9 1702.9 161.6 1721.9 162.3 1711.8 163 1694.8 163.7 1693.4 164.4 1696.1 165.1 1701.7 165.8 1719.7 166.5 1729.4 167.2 1738.2 167.9 1739.8 168.6 1737.3 169.3 1740.2 170 1721.6 170.7 1736.7 171.4 1769.2 172.1 1789.8 172.8 1791.1 173.5 1803.5 174.2 1816.7 174.9 1825.9 175.6 1837.8 176.3 1832.5 177 1840.4 177.7 1846.8 178.4 1848.3 179.1 1847.4 179.8 1864.4 180.5 1875.6 181.2 1878.7 181.9 1877.6 182.6 1878.7 183.3 1880.1 184 1885.8 184.7 1880.7 185.4 1879.2 186.1 1886.4 186.8 1891 187.5 1903.7 188.2 1907.3 188.9 1915 189.6 1915.2 190.3 1914.8 191 1911.7 191.7 1915.5 192.4 1919.2 193.1 1928 193.8 1933.7 194.5 1935.3 195.2 1938.1 195.9 1938.6 196.6 1941.3 197.3 1942 198 1943.1 198.7 1945 199.4 1946.8 200.1 1948.7 200.8 1949 201.5 1950.7 202.2 1951.3 202.9 1954.6 203.6 1955.6 204.3 1955.5 205 1956.4 205.7 1957.1 206.4 1959.1 207.1 1960.2 207.8 1962.4 208.5 1961.7 209.2 1961.1 209.9 1960.3 210.6 1962.4 211.3 1961.8 212 1960.8 212.7 1961.8 213.4 1960.9 214.1 1962.8 214.8 1962.4 215.5 1962.1 216.2 1961.8 216.9 1960.8 217.6 1961.9 218.3 1961.2 219 1962.3 219.7 1960.9 220.4 1961.6 221.1 1962.7 221.8 1962.8 222.5 1961.5 223.2 1961.4 223.9 1962.7 224.6 1962.7 225.3 1961.8 226 1962 226.7 1962 227.4 1961.8 228.1 1962.1 228.8 1962.8 229.5 1962.8"/>
<path stroke="#ff0000" stroke-width="1.2" d="M77.9 1962.8V1934.8"/>
<g stroke="#000" fill="none">
<rect x="76.4" y="1634" width="328.1" height="328.8" stroke-width="1.4"/>
<path stroke-width="1.3" d="M76.4 1962.8v8M96.2 1962.8v5M107.7 1962.8v5M115.9 1962.8v5M122.3 1962.8v5M127.5 1962.8v5M131.9 1962.8v5M135.7 1962.8v5M139 1962.8v5M142 1962.8v8M161.8 1962.8v5M173.3 1962.8v5M181.5 1962.8v5M187.9 1962.8v5M193.1 1962.8v5M197.5 1962.8v5M201.3 1962.8v5M204.6 1962.8v5M207.6 1962.8v8M227.4 1962.8v5M238.9 1962.8v5M247.1 1962.8v5M253.5 1962.8v5M258.7 1962.8v5M263.1 1962.8v5M266.9 1962.8v5M270.3 1962.8v5M273.3 1962.8v8M293 1962.8v5M304.6 1962.8v5M312.8 1962.8v5M319.1 1962.8v5M324.3 1962.8v5M328.7 1962.8v5M332.5 1962.8v5M335.9 1962.8v5M338.9 1962.8v8M358.6 1962.8v5M370.2 1962.8v5M378.4 1962.8v5M384.7 1962.8v5M389.9 1962.8v5M394.3 1962.8v5M398.1 1962.8v5M401.5 1962.8v5M404.5 1962.8v8M76.4 1962.8h-8M76.4 1937.6h-5M76.4 1912.3h-5M76.4 1887.1h-5M76.4 1861.8h-5M76.4 1836.6h-8M76.4 1811.4h-5M76.4 1786.1h-5M76.4 1760.9h-5M76.4 1735.6h-5M76.4 1710.4h-8M76.4 1685.2h-5M76.4 1659.9h-5"/>
</g>
<g font-family="Liberation Sans" fill="#000">
<text x="78.9" y="1990.8" font-size="17" text-anchor="middle">10<tspan font-size="12" dy="-6.5">2</tspan></text>
<text x="144.5" y="1990.8" font-size="17" text-anchor="middle">10<tspan font-size="12" dy="-6.5">3</tspan></text>
<text x="210.1" y="1990.8" font-size="17" text-anchor="middle">10<tspan font-size="12" dy="-6.5">4</tspan></text>
<text x="275.8" y="1990.8" font-size="17" text-anchor="middle">10<tspan font-size="12" dy="-6.5">5</tspan></text>
<text x="341.4" y="1990.8" font-size="17" text-anchor="middle">10<tspan font-size="12" dy="-6.5">6</tspan></text>
<text x="407" y="1990.8" font-size="17" text-anchor="middle">10<tspan font-size="12" dy="-6.5">7</tspan></text>
<text x="0" y="0" font-size="17" text-anchor="middle" transform="translate(61.4 1962.8) rotate(-90)">0</text>
<text x="0" y="0" font-size="17" text-anchor="middle" transform="translate(61.4 1836.6) rotate(-90)">200</text>
<text x="0" y="0" font-size="17" text-anchor="middle" transform="translate(61.4 1710.4) rotate(-90)">400</text>
<text x="240.4" y="2011.3" font-size="17" text-anchor="middle">ROS FITC-A</text>
<text transform="translate(39 1798.4) rotate(-90)" font-size="17" text-anchor="middle">Count</text>
</g>
<path stroke="#ff1a1a" stroke-width="1.6" fill="none" d="M221.6 1699.8H396M221.6 1691.8v16M396 1691.8v16"/>
<text x="221.6" y="1679.5" font-family="Liberation Sans" font-size="17.3" fill="#ff1a1a">P2(1.16%)</text>
<text x="643.2" y="1611.6" font-family="Liberation Sans" font-weight="bold" font-size="33.4" text-anchor="middle">OGD4h/R0h</text>
<path fill="#ff8080" d="M515.8 1960.4 516.5 1961.1 517.2 1960.6 517.9 1960.2 518.6 1960.8 519.3 1960 520 1959.6 520.7 1960.5 521.4 1959 522.1 1958.3 522.8 1957.9 523.5 1958.2 524.2 1958.7 524.9 1958.6 525.6 1958.5 526.3 1958.7 527 1958.4 527.7 1957.5 528.4 1957.7 529.1 1957 529.8 1956 530.5 1956.7 531.2 1955.9 531.9 1955.5 532.6 1956.8 533.3 1955.8 534 1954.7 534.7 1954.8 535.4 1956.3 536.1 1954.3 536.8 1954.8 537.5 1954.5 538.2 1954.3 538.9 1954.1 539.6 1953.1 540.3 1952.9 541 1953 541.7 1952.6 542.4 1953.3 543.1 1951.6 543.8 1946.3 544.5 1944.4 545.2 1939.6 545.9 1936.7 546.6 1934 547.3 1931.2 548 1927.7 548.7 1921.9 549.4 1925.2 550.1 1920 550.8 1916.8 551.5 1916.3 552.2 1911.5 552.9 1907.3 553.6 1908.2 554.3 1903.7 555 1896.4 555.7 1895.4 556.4 1889.7 557.1 1881.2 557.8 1884 558.5 1874.8 559.2 1861.4 559.9 1857.1 560.6 1846.9 561.3 1841 562 1823.3 562.7 1824 563.4 1814.9 564.1 1803.7 564.8 1789.7 565.5 1779.9 566.2 1763.2 566.9 1754.2 567.6 1744.3 568.3 1751.7 569 1746.8 569.7 1738.3 570.4 1730.7 571.1 1721.8 571.8 1689 572.5 1693.6 573.2 1689 573.9 1691.8 574.6 1698.2 575.3 1704.7 576 1689 576.7 1699.5 577.4 1700.2 578.1 1689.3 578.8 1714.3 579.5 1720.6 580.2 1733.7 580.9 1740.3 581.6 1758.4 582.3 1771.7 583 1790.3 583.7 1797.9 584.4 1815.6 585.1 1800.3 585.8 1803.8 586.5 1807.6 587.2 1807.1 587.9 1822.7 588.6 1828.6 589.3 1830.9 590 1845.7 590.7 1858.7 591.4 1860.4 592.1 1870.4 592.8 1872.8 593.5 1883.2 594.2 1881.5 594.9 1882.9 595.6 1886.1 596.3 1895.4 597 1893.4 597.7 1902.9 598.4 1897.4 599.1 1902.6 599.8 1904.9 600.5 1906.3 601.2 1909.6 601.9 1913.6 602.6 1913.5 603.3 1914.6 604 1921.5 604.7 1923.9 605.4 1922.8 606.1 1926.3 606.8 1924.2 607.5 1931.2 608.2 1930.1 608.9 1933.2 609.6 1938.4 610.3 1936.4 611 1939 611.7 1938.5 612.4 1938.3 613.1 1939.8 613.8 1942 614.5 1941.1 615.2 1942.5 615.9 1944.5 616.6 1944.3 617.3 1943.9 618 1947.3 618.7 1946.7 619.4 1948.5 620.1 1947 620.8 1949.9 621.5 1947.9 622.2 1948.1 622.9 1949.8 623.6 1950.4 624.3 1951.5 625 1951.4 625.7 1952.9 626.4 1953.9 627.1 1953 627.8 1953.1 L627.8 1962.8 L515.8 1962.8Z"/>
<path fill="#ff4040" d="M628.5 1953.7 629.2 1954.5 629.9 1954.3 630.6 1953.3 631.3 1952.7 632 1953.2 632.7 1953.8 633.4 1952.4 634.1 1953.8 634.8 1952.8 635.5 1952.7 636.2 1951.8 636.9 1953.2 637.6 1952.1 638.3 1950.7 639 1952.4 639.7 1951.2 640.4 1952.3 641.1 1951.4 641.8 1950.6 642.5 1951.2 643.2 1950.9 643.9 1950.7 644.6 1951.5 645.3 1952.3 646 1951.8 646.7 1951.8 647.4 1951.6 648.1 1952.6 648.8 1952.5 649.5 1953.2 650.2 1952.9 650.9 1954.3 651.6 1951.6 652.3 1952.9 653 1953.5 653.7 1953.9 654.4 1952.2 655.1 1952.6 655.8 1953.6 656.5 1954.5 657.2 1954.7 657.9 1952.9 658.6 1954.5 659.3 1955.7 660 1955.2 660.7 1954.9 661.4 1955.5 662.1 1955.5 662.8 1957.6 663.5 1957.1 664.2 1957.4 664.9 1957.5 665.6 1958.3 666.3 1958.3 667 1958.6 667.7 1959.6 668.4 1959.9 669.1 1960.7 669.8 1960.9 670.5 1961.9 671.2 1961.3 671.9 1961.6 672.6 1961.6 673.3 1961.2 674 1962.3 674.7 1961.5 675.4 1961.1 676.1 1962.6 676.8 1962.4 677.5 1961.9 678.2 1962.8 678.9 1962.8 679.6 1962.8 L679.6 1962.8 L628.5 1962.8Z"/>
<path stroke="#ff0000" stroke-width="1.3" fill="none" d="M627.9 1962.8V1953.7"/>
<path stroke="#ff0000" stroke-width="1.6" fill="none" stroke-linejoin="round" d="M482.8 1962.8L515.8 1960.4 515.8 1960.4 516.5 1961.1 517.2 1960.6 517.9 1960.2 518.6 1960.8 519.3 1960 520 1959.6 520.7 1960.5 521.4 1959 522.1 1958.3 522.8 1957.9 523.5 1958.2 524.2 1958.7 524.9 1958.6 525.6 1958.5 526.3 1958.7 527 1958.4 527.7 1957.5 528.4 1957.7 529.1 1957 529.8 1956 530.5 1956.7 531.2 1955.9 531.9 1955.5 532.6 1956.8 533.3 1955.8 534 1954.7 534.7 1954.8 535.4 1956.3 536.1 1954.3 536.8 1954.8 537.5 1954.5 538.2 1954.3 538.9 1954.1 539.6 1953.1 540.3 1952.9 541 1953 541.7 1952.6 542.4 1953.3 543.1 1951.6 543.8 1946.3 544.5 1944.4 545.2 1939.6 545.9 1936.7 546.6 1934 547.3 1931.2 548 1927.7 548.7 1921.9 549.4 1925.2 550.1 1920 550.8 1916.8 551.5 1916.3 552.2 1911.5 552.9 1907.3 553.6 1908.2 554.3 1903.7 555 1896.4 555.7 1895.4 556.4 1889.7 557.1 1881.2 557.8 1884 558.5 1874.8 559.2 1861.4 559.9 1857.1 560.6 1846.9 561.3 1841 562 1823.3 562.7 1824 563.4 1814.9 564.1 1803.7 564.8 1789.7 565.5 1779.9 566.2 1763.2 566.9 1754.2 567.6 1744.3 568.3 1751.7 569 1746.8 569.7 1738.3 570.4 1730.7 571.1 1721.8 571.8 1689 572.5 1693.6 573.2 1689 573.9 1691.8 574.6 1698.2 575.3 1704.7 576 1689 576.7 1699.5 577.4 1700.2 578.1 1689.3 578.8 1714.3 579.5 1720.6 580.2 1733.7 580.9 1740.3 581.6 1758.4 582.3 1771.7 583 1790.3 583.7 1797.9 584.4 1815.6 585.1 1800.3 585.8 1803.8 586.5 1807.6 587.2 1807.1 587.9 1822.7 588.6 1828.6 589.3 1830.9 590 1845.7 590.7 1858.7 591.4 1860.4 592.1 1870.4 592.8 1872.8 593.5 1883.2 594.2 1881.5 594.9 1882.9 595.6 1886.1 596.3 1895.4 597 1893.4 597.7 1902.9 598.4 1897.4 599.1 1902.6 599.8 1904.9 600.5 1906.3 601.2 1909.6 601.9 1913.6 602.6 1913.5 603.3 1914.6 604 1921.5 604.7 1923.9 605.4 1922.8 606.1 1926.3 606.8 1924.2 607.5 1931.2 608.2 1930.1 608.9 1933.2 609.6 1938.4 610.3 1936.4 611 1939 611.7 1938.5 612.4 1938.3 613.1 1939.8 613.8 1942 614.5 1941.1 615.2 1942.5 615.9 1944.5 616.6 1944.3 617.3 1943.9 618 1947.3 618.7 1946.7 619.4 1948.5 620.1 1947 620.8 1949.9 621.5 1947.9 622.2 1948.1 622.9 1949.8 623.6 1950.4 624.3 1951.5 625 1951.4 625.7 1952.9 626.4 1953.9 627.1 1953 627.8 1953.1 628.5 1953.7 629.2 1954.5 629.9 1954.3 630.6 1953.3 631.3 1952.7 632 1953.2 632.7 1953.8 633.4 1952.4 634.1 1953.8 634.8 1952.8 635.5 1952.7 636.2 1951.8 636.9 1953.2 637.6 1952.1 638.3 1950.7 639 1952.4 639.7 1951.2 640.4 1952.3 641.1 1951.4 641.8 1950.6 642.5 1951.2 643.2 1950.9 643.9 1950.7 644.6 1951.5 645.3 1952.3 646 1951.8 646.7 1951.8 647.4 1951.6 648.1 1952.6 648.8 1952.5 649.5 1953.2 650.2 1952.9 650.9 1954.3 651.6 1951.6 652.3 1952.9 653 1953.5 653.7 1953.9 654.4 1952.2 655.1 1952.6 655.8 1953.6 656.5 1954.5 657.2 1954.7 657.9 1952.9 658.6 1954.5 659.3 1955.7 660 1955.2 660.7 1954.9 661.4 1955.5 662.1 1955.5 662.8 1957.6 663.5 1957.1 664.2 1957.4 664.9 1957.5 665.6 1958.3 666.3 1958.3 667 1958.6 667.7 1959.6 668.4 1959.9 669.1 1960.7 669.8 1960.9 670.5 1961.9 671.2 1961.3 671.9 1961.6 672.6 1961.6 673.3 1961.2 674 1962.3 674.7 1961.5 675.4 1961.1 676.1 1962.6 676.8 1962.4 677.5 1961.9 678.2 1962.8 678.9 1962.8 679.6 1962.8"/>
<path stroke="#ff0000" stroke-width="1.2" d="M483.3 1962.8V1936.8"/>
<g stroke="#000" fill="none">
<rect x="481.8" y="1634.7" width="328.1" height="328.1" stroke-width="1.4"/>
<path stroke-width="1.3" d="M481.8 1962.8v8M501.6 1962.8v5M513.1 1962.8v5M521.3 1962.8v5M527.7 1962.8v5M532.9 1962.8v5M537.3 1962.8v5M541.1 1962.8v5M544.4 1962.8v5M547.4 1962.8v8M567.2 1962.8v5M578.7 1962.8v5M586.9 1962.8v5M593.3 1962.8v5M598.5 1962.8v5M602.9 1962.8v5M606.7 1962.8v5M610 1962.8v5M613 1962.8v8M632.8 1962.8v5M644.3 1962.8v5M652.5 1962.8v5M658.9 1962.8v5M664.1 1962.8v5M668.5 1962.8v5M672.3 1962.8v5M675.7 1962.8v5M678.7 1962.8v8M698.4 1962.8v5M710 1962.8v5M718.2 1962.8v5M724.5 1962.8v5M729.7 1962.8v5M734.1 1962.8v5M737.9 1962.8v5M741.3 1962.8v5M744.3 1962.8v8M764 1962.8v5M775.6 1962.8v5M783.8 1962.8v5M790.1 1962.8v5M795.3 1962.8v5M799.7 1962.8v5M803.5 1962.8v5M806.9 1962.8v5M809.9 1962.8v8M481.8 1962.8h-8M481.8 1936.7h-5M481.8 1910.6h-5M481.8 1884.5h-5M481.8 1858.4h-5M481.8 1832.3h-8M481.8 1806.2h-5M481.8 1780.1h-5M481.8 1754h-5M481.8 1727.9h-5M481.8 1701.8h-8M481.8 1675.7h-5M481.8 1649.6h-5"/>
</g>
<g font-family="Liberation Sans" fill="#000">
<text x="484.3" y="1990.8" font-size="17" text-anchor="middle">10<tspan font-size="12" dy="-6.5">2</tspan></text>
<text x="549.9" y="1990.8" font-size="17" text-anchor="middle">10<tspan font-size="12" dy="-6.5">3</tspan></text>
<text x="615.5" y="1990.8" font-size="17" text-anchor="middle">10<tspan font-size="12" dy="-6.5">4</tspan></text>
<text x="681.2" y="1990.8" font-size="17" text-anchor="middle">10<tspan font-size="12" dy="-6.5">5</tspan></text>
<text x="746.8" y="1990.8" font-size="17" text-anchor="middle">10<tspan font-size="12" dy="-6.5">6</tspan></text>
<text x="812.4" y="1990.8" font-size="17" text-anchor="middle">10<tspan font-size="12" dy="-6.5">7</tspan></text>
<text x="0" y="0" font-size="17" text-anchor="middle" transform="translate(466.8 1962.8) rotate(-90)">0</text>
<text x="0" y="0" font-size="17" text-anchor="middle" transform="translate(466.8 1832.3) rotate(-90)">200</text>
<text x="0" y="0" font-size="17" text-anchor="middle" transform="translate(466.8 1701.8) rotate(-90)">400</text>
<text x="645.9" y="2011.3" font-size="17" text-anchor="middle">ROS FITC-A</text>
<text transform="translate(444.4 1798.8) rotate(-90)" font-size="17" text-anchor="middle">Count</text>
</g>
<path stroke="#ff1a1a" stroke-width="1.6" fill="none" d="M627.9 1699.1H801.4M627.9 1691.1v16M801.4 1691.1v16"/>
<text x="627.9" y="1679.5" font-family="Liberation Sans" font-size="17.3" fill="#ff1a1a">P2(4.58%)</text>
<text x="1039.8" y="1606.8" font-family="Liberation Sans" font-weight="bold" font-size="33.4" text-anchor="middle">OGD4h/R4h</text>
<path fill="#ff8080" d="M920 1960.5 920.7 1961.3 921.4 1960 922.1 1959.4 922.8 1960.5 923.5 1960.6 924.2 1960.5 924.9 1960.5 925.6 1960.1 926.3 1959.8 927 1959.6 927.7 1959.9 928.4 1959.8 929.1 1960.5 929.8 1960.2 930.5 1959.1 931.2 1960.2 931.9 1959.7 932.6 1960.4 933.3 1960.5 934 1959.9 934.7 1958.5 935.4 1959.9 936.1 1958.6 936.8 1960.4 937.5 1959 938.2 1959.2 938.9 1960.4 939.6 1958.2 940.3 1959.2 941 1958.5 941.7 1958.8 942.4 1958.6 943.1 1959.4 943.8 1958.7 944.5 1958.9 945.2 1958.8 945.9 1957.1 946.6 1958.7 947.3 1957.4 948 1956.3 948.7 1956.6 949.4 1957.4 950.1 1957.2 950.8 1955.8 951.5 1956.1 952.2 1955.9 952.9 1956.2 953.6 1955.1 954.3 1955.6 955 1954 955.7 1953.9 956.4 1954.2 957.1 1951.1 957.8 1947.3 958.5 1944.7 959.2 1942.9 959.9 1942.7 960.6 1942.3 961.3 1940.9 962 1940.5 962.7 1938.3 963.4 1937.4 964.1 1934.5 964.8 1936.9 965.5 1935.7 966.2 1933.2 966.9 1924.9 967.6 1921.8 968.3 1916.6 969 1909.2 969.7 1908.3 970.4 1903.1 971.1 1891.7 971.8 1889.7 972.5 1887.1 973.2 1873.5 973.9 1873.6 974.6 1869.7 975.3 1864.7 976 1847.3 976.7 1841.3 977.4 1838.9 978.1 1835.9 978.8 1819.3 979.5 1814.3 980.2 1804.4 980.9 1803.1 981.6 1783.5 982.3 1777.9 983 1767.4 983.7 1759.6 984.4 1744.3 985.1 1733.9 985.8 1730.2 986.5 1716.4 987.2 1694.8 987.9 1690.6 988.6 1700.5 989.3 1694.2 990 1689.8 990.7 1693.5 991.4 1715.8 992.1 1691.7 992.8 1699.1 993.5 1702.3 994.2 1700.5 994.9 1717.9 995.6 1722.5 996.3 1726.4 997 1722 997.7 1751.4 998.4 1765.3 999.1 1774.4 999.8 1766.6 1000.5 1786 1001.2 1786.1 1001.9 1796.7 1002.6 1801.2 1003.3 1805.6 1004 1819.6 1004.7 1821.8 1005.4 1832.4 1006.1 1829.9 1006.8 1839 1007.5 1850.6 1008.2 1853 1008.9 1855.7 1009.6 1861.4 1010.3 1868.5 1011 1876 1011.7 1884.1 1012.4 1888.7 1013.1 1896.1 1013.8 1897.1 1014.5 1896.3 1015.2 1899.7 1015.9 1899.3 1016.6 1898.2 1017.3 1899 1018 1900.2 1018.7 1899.5 1019.4 1899.1 1020.1 1902.8 1020.8 1902.5 1021.5 1906 1022.2 1905 1022.9 1907.8 1023.6 1909.4 1024.3 1909.5 1025 1912.2 1025.7 1911.9 1026.4 1913.8 1027.1 1917.4 1027.8 1918 1028.5 1918.8 1029.2 1918.9 1029.9 1922.7 1030.6 1926.1 1031.3 1921.5 1032 1928 1032.7 1928.6 1033.4 1931.5 1034.1 1933.3 1034.8 1932.2 1035.5 1937.4 1036.2 1936.3 L1036.2 1962.8 L920 1962.8Z"/>
<path fill="#ff4040" d="M1036.9 1938.3 1037.6 1939.6 1038.3 1939.2 1039 1939.9 1039.7 1939.4 1040.4 1939.2 1041.1 1940.7 1041.8 1939.8 1042.5 1942.8 1043.2 1941.9 1043.9 1943 1044.6 1940.1 1045.3 1939.2 1046 1938.9 1046.7 1940.8 1047.4 1939.8 1048.1 1941.5 1048.8 1939.5 1049.5 1939.5 1050.2 1941.2 1050.9 1940.4 1051.6 1941.5 1052.3 1941.6 1053 1941 1053.7 1939.2 1054.4 1939.5 1055.1 1942.9 1055.8 1940.1 1056.5 1940.6 1057.2 1940.3 1057.9 1940.1 1058.6 1939.9 1059.3 1940.3 1060 1942 1060.7 1942.1 1061.4 1947.2 1062.1 1947.1 1062.8 1947.6 1063.5 1950.8 1064.2 1952.5 1064.9 1952.4 1065.6 1953.9 1066.3 1955.7 1067 1955.2 1067.7 1955.4 1068.4 1956.1 1069.1 1955.6 1069.8 1955.7 1070.5 1957.3 1071.2 1956.3 1071.9 1956.6 1072.6 1957.4 1073.3 1957.3 1074 1956.7 1074.7 1959 1075.4 1958 1076.1 1959.4 1076.8 1958.9 1077.5 1958.3 1078.2 1960 1078.9 1959 1079.6 1958.7 1080.3 1959.3 1081 1958.1 1081.7 1959.8 1082.4 1959.2 1083.1 1959.6 1083.8 1959.3 1084.5 1960.3 1085.2 1960.2 1085.9 1960.8 1086.6 1961.2 1087.3 1960.5 1088 1960.5 1088.7 1960.7 1089.4 1960.2 1090.1 1960.4 1090.8 1961.3 1091.5 1960.5 1092.2 1960 1092.9 1961 1093.6 1961.4 1094.3 1962.2 1095 1961.2 1095.7 1961.2 1096.4 1961.9 1097.1 1961.9 1097.8 1962.2 1098.5 1962 1099.2 1962.5 1099.9 1962.2 L1099.9 1962.8 L1036.9 1962.8Z"/>
<path stroke="#ff0000" stroke-width="1.3" fill="none" d="M1036.8 1962.8V1938.3"/>
<path stroke="#ff0000" stroke-width="1.6" fill="none" stroke-linejoin="round" d="M892.3 1962.8L920 1960.5 920 1960.5 920.7 1961.3 921.4 1960 922.1 1959.4 922.8 1960.5 923.5 1960.6 924.2 1960.5 924.9 1960.5 925.6 1960.1 926.3 1959.8 927 1959.6 927.7 1959.9 928.4 1959.8 929.1 1960.5 929.8 1960.2 930.5 1959.1 931.2 1960.2 931.9 1959.7 932.6 1960.4 933.3 1960.5 934 1959.9 934.7 1958.5 935.4 1959.9 936.1 1958.6 936.8 1960.4 937.5 1959 938.2 1959.2 938.9 1960.4 939.6 1958.2 940.3 1959.2 941 1958.5 941.7 1958.8 942.4 1958.6 943.1 1959.4 943.8 1958.7 944.5 1958.9 945.2 1958.8 945.9 1957.1 946.6 1958.7 947.3 1957.4 948 1956.3 948.7 1956.6 949.4 1957.4 950.1 1957.2 950.8 1955.8 951.5 1956.1 952.2 1955.9 952.9 1956.2 953.6 1955.1 954.3 1955.6 955 1954 955.7 1953.9 956.4 1954.2 957.1 1951.1 957.8 1947.3 958.5 1944.7 959.2 1942.9 959.9 1942.7 960.6 1942.3 961.3 1940.9 962 1940.5 962.7 1938.3 963.4 1937.4 964.1 1934.5 964.8 1936.9 965.5 1935.7 966.2 1933.2 966.9 1924.9 967.6 1921.8 968.3 1916.6 969 1909.2 969.7 1908.3 970.4 1903.1 971.1 1891.7 971.8 1889.7 972.5 1887.1 973.2 1873.5 973.9 1873.6 974.6 1869.7 975.3 1864.7 976 1847.3 976.7 1841.3 977.4 1838.9 978.1 1835.9 978.8 1819.3 979.5 1814.3 980.2 1804.4 980.9 1803.1 981.6 1783.5 982.3 1777.9 983 1767.4 983.7 1759.6 984.4 1744.3 985.1 1733.9 985.8 1730.2 986.5 1716.4 987.2 1694.8 987.9 1690.6 988.6 1700.5 989.3 1694.2 990 1689.8 990.7 1693.5 991.4 1715.8 992.1 1691.7 992.8 1699.1 993.5 1702.3 994.2 1700.5 994.9 1717.9 995.6 1722.5 996.3 1726.4 997 1722 997.7 1751.4 998.4 1765.3 999.1 1774.4 999.8 1766.6 1000.5 1786 1001.2 1786.1 1001.9 1796.7 1002.6 1801.2 1003.3 1805.6 1004 1819.6 1004.7 1821.8 1005.4 1832.4 1006.1 1829.9 1006.8 1839 1007.5 1850.6 1008.2 1853 1008.9 1855.7 1009.6 1861.4 1010.3 1868.5 1011 1876 1011.7 1884.1 1012.4 1888.7 1013.1 1896.1 1013.8 1897.1 1014.5 1896.3 1015.2 1899.7 1015.9 1899.3 1016.6 1898.2 1017.3 1899 1018 1900.2 1018.7 1899.5 1019.4 1899.1 1020.1 1902.8 1020.8 1902.5 1021.5 1906 1022.2 1905 1022.9 1907.8 1023.6 1909.4 1024.3 1909.5 1025 1912.2 1025.7 1911.9 1026.4 1913.8 1027.1 1917.4 1027.8 1918 1028.5 1918.8 1029.2 1918.9 1029.9 1922.7 1030.6 1926.1 1031.3 1921.5 1032 1928 1032.7 1928.6 1033.4 1931.5 1034.1 1933.3 1034.8 1932.2 1035.5 1937.4 1036.2 1936.3 1036.9 1938.3 1037.6 1939.6 1038.3 1939.2 1039 1939.9 1039.7 1939.4 1040.4 1939.2 1041.1 1940.7 1041.8 1939.8 1042.5 1942.8 1043.2 1941.9 1043.9 1943 1044.6 1940.1 1045.3 1939.2 1046 1938.9 1046.7 1940.8 1047.4 1939.8 1048.1 1941.5 1048.8 1939.5 1049.5 1939.5 1050.2 1941.2 1050.9 1940.4 1051.6 1941.5 1052.3 1941.6 1053 1941 1053.7 1939.2 1054.4 1939.5 1055.1 1942.9 1055.8 1940.1 1056.5 1940.6 1057.2 1940.3 1057.9 1940.1 1058.6 1939.9 1059.3 1940.3 1060 1942 1060.7 1942.1 1061.4 1947.2 1062.1 1947.1 1062.8 1947.6 1063.5 1950.8 1064.2 1952.5 1064.9 1952.4 1065.6 1953.9 1066.3 1955.7 1067 1955.2 1067.7 1955.4 1068.4 1956.1 1069.1 1955.6 1069.8 1955.7 1070.5 1957.3 1071.2 1956.3 1071.9 1956.6 1072.6 1957.4 1073.3 1957.3 1074 1956.7 1074.7 1959 1075.4 1958 1076.1 1959.4 1076.8 1958.9 1077.5 1958.3 1078.2 1960 1078.9 1959 1079.6 1958.7 1080.3 1959.3 1081 1958.1 1081.7 1959.8 1082.4 1959.2 1083.1 1959.6 1083.8 1959.3 1084.5 1960.3 1085.2 1960.2 1085.9 1960.8 1086.6 1961.2 1087.3 1960.5 1088 1960.5 1088.7 1960.7 1089.4 1960.2 1090.1 1960.4 1090.8 1961.3 1091.5 1960.5 1092.2 1960 1092.9 1961 1093.6 1961.4 1094.3 1962.2 1095 1961.2 1095.7 1961.2 1096.4 1961.9 1097.1 1961.9 1097.8 1962.2 1098.5 1962 1099.2 1962.5 1099.9 1962.2"/>
<path stroke="#ff0000" stroke-width="1.2" d="M892.8 1962.8V1920.8"/>
<g stroke="#000" fill="none">
<rect x="891.3" y="1634.7" width="328.1" height="328.1" stroke-width="1.4"/>
<path stroke-width="1.3" d="M891.3 1962.8v8M911.1 1962.8v5M922.6 1962.8v5M930.8 1962.8v5M937.2 1962.8v5M942.4 1962.8v5M946.8 1962.8v5M950.6 1962.8v5M953.9 1962.8v5M956.9 1962.8v8M976.7 1962.8v5M988.2 1962.8v5M996.4 1962.8v5M1002.8 1962.8v5M1008 1962.8v5M1012.4 1962.8v5M1016.2 1962.8v5M1019.5 1962.8v5M1022.5 1962.8v8M1042.3 1962.8v5M1053.8 1962.8v5M1062 1962.8v5M1068.4 1962.8v5M1073.6 1962.8v5M1078 1962.8v5M1081.8 1962.8v5M1085.2 1962.8v5M1088.2 1962.8v8M1107.9 1962.8v5M1119.5 1962.8v5M1127.7 1962.8v5M1134 1962.8v5M1139.2 1962.8v5M1143.6 1962.8v5M1147.4 1962.8v5M1150.8 1962.8v5M1153.8 1962.8v8M1173.5 1962.8v5M1185.1 1962.8v5M1193.3 1962.8v5M1199.6 1962.8v5M1204.8 1962.8v5M1209.2 1962.8v5M1213 1962.8v5M1216.4 1962.8v5M1219.4 1962.8v8M891.3 1962.8h-8M891.3 1934.4h-5M891.3 1906h-5M891.3 1877.6h-5M891.3 1849.2h-5M891.3 1820.8h-8M891.3 1792.4h-5M891.3 1764h-5M891.3 1735.6h-5M891.3 1707.2h-5M891.3 1678.8h-8M891.3 1650.4h-5"/>
</g>
<g font-family="Liberation Sans" fill="#000">
<text x="893.8" y="1990.8" font-size="17" text-anchor="middle">10<tspan font-size="12" dy="-6.5">2</tspan></text>
<text x="959.4" y="1990.8" font-size="17" text-anchor="middle">10<tspan font-size="12" dy="-6.5">3</tspan></text>
<text x="1025" y="1990.8" font-size="17" text-anchor="middle">10<tspan font-size="12" dy="-6.5">4</tspan></text>
<text x="1090.7" y="1990.8" font-size="17" text-anchor="middle">10<tspan font-size="12" dy="-6.5">5</tspan></text>
<text x="1156.3" y="1990.8" font-size="17" text-anchor="middle">10<tspan font-size="12" dy="-6.5">6</tspan></text>
<text x="1221.9" y="1990.8" font-size="17" text-anchor="middle">10<tspan font-size="12" dy="-6.5">7</tspan></text>
<text x="0" y="0" font-size="17" text-anchor="middle" transform="translate(876.3 1962.8) rotate(-90)">0</text>
<text x="0" y="0" font-size="17" text-anchor="middle" transform="translate(876.3 1820.8) rotate(-90)">200</text>
<text x="0" y="0" font-size="17" text-anchor="middle" transform="translate(876.3 1678.8) rotate(-90)">400</text>
<text x="1055.3" y="2011.3" font-size="17" text-anchor="middle">ROS FITC-A</text>
<text transform="translate(853.9 1798.8) rotate(-90)" font-size="17" text-anchor="middle">Count</text>
</g>
<path stroke="#ff1a1a" stroke-width="1.6" fill="none" d="M1036.8 1699.1H1210.9M1036.8 1691.1v16M1210.9 1691.1v16"/>
<text x="1036.8" y="1679.5" font-family="Liberation Sans" font-size="17.3" fill="#ff1a1a">P2(6.97%)</text>
<text x="227.4" y="2092.3" font-family="Liberation Sans" font-weight="bold" font-size="33.4" text-anchor="middle">OGD4h/R12h</text>
<path fill="#ff8080" d="M120 2444.2 120.7 2444.1 121.4 2442.8 122.1 2442.4 122.8 2443.4 123.5 2443.8 124.2 2443.2 124.9 2442.5 125.6 2443 126.3 2444 127 2442.4 127.7 2443.7 128.4 2443.3 129.1 2443.2 129.8 2443.4 130.5 2442.6 131.2 2442.8 131.9 2443.8 132.6 2442.5 133.3 2442.5 134 2441.9 134.7 2442.3 135.4 2443 136.1 2443.2 136.8 2442.8 137.5 2442.8 138.2 2442.7 138.9 2442.5 139.6 2442.8 140.3 2442.2 141 2442.8 141.7 2442.1 142.4 2441.2 143.1 2441.3 143.8 2441.8 144.5 2440.6 145.2 2439.2 145.9 2438.4 146.6 2438.1 147.3 2437.3 148 2436.6 148.7 2434.4 149.4 2434.4 150.1 2433.9 150.8 2432.4 151.5 2432.6 152.2 2429.9 152.9 2429.5 153.6 2428.9 154.3 2427.5 155 2427.1 155.7 2426.5 156.4 2425.5 157.1 2424.2 157.8 2423.5 158.5 2423 159.2 2420.7 159.9 2421.7 160.6 2419.5 161.3 2419.6 162 2417.9 162.7 2418 163.4 2413.4 164.1 2409.6 164.8 2405 165.5 2402.3 166.2 2400.8 166.9 2391.2 167.6 2390.8 168.3 2384.7 169 2377.8 169.7 2370.2 170.4 2371.2 171.1 2362.2 171.8 2358.8 172.5 2349.5 173.2 2342.9 173.9 2343.4 174.6 2337.5 175.3 2329.1 176 2324.4 176.7 2322.3 177.4 2312.1 178.1 2306.9 178.8 2301.2 179.5 2294.1 180.2 2282.2 180.9 2268.7 181.6 2270.2 182.3 2258.6 183 2252.5 183.7 2263.1 184.4 2243.9 185.1 2244.1 185.8 2237 186.5 2227.7 187.2 2221.5 187.9 2217.5 188.6 2209.8 189.3 2195.6 190 2195.2 190.7 2201.3 191.4 2193.8 192.1 2182.8 192.8 2183 193.5 2172.5 194.2 2168.9 194.9 2169.3 195.6 2181.4 196.3 2173.6 197 2177.2 197.7 2202.2 198.4 2210.3 199.1 2229 199.8 2241.8 200.5 2243.3 201.2 2255.9 201.9 2261.2 202.6 2278.3 203.3 2275.2 204 2284.5 204.7 2300.4 205.4 2292.4 206.1 2302.7 206.8 2307.8 207.5 2312.7 208.2 2315.6 208.9 2322.3 209.6 2321.6 210.3 2325 211 2321.7 211.7 2330.4 212.4 2328.7 213.1 2340.8 213.8 2340.8 214.5 2347.8 215.2 2347.6 215.9 2353.6 216.6 2356.8 217.3 2361 218 2362.3 218.7 2364.2 219.4 2367.7 220.1 2370.1 220.8 2372.6 221.5 2375.1 L221.5 2444.9 L120 2444.9Z"/>
<path fill="#ff4040" d="M222.2 2376.7 222.9 2385 223.6 2381 224.3 2381.7 225 2387.2 225.7 2387.3 226.4 2387.9 227.1 2391.6 227.8 2395 228.5 2392.6 229.2 2398.9 229.9 2399.8 230.6 2403.1 231.3 2402.9 232 2408.6 232.7 2410.2 233.4 2407.6 234.1 2413.9 234.8 2414.3 235.5 2411.2 236.2 2413.7 236.9 2413.4 237.6 2414.3 238.3 2413.3 239 2415.5 239.7 2416 240.4 2415.3 241.1 2415.7 241.8 2414.1 242.5 2417.1 243.2 2415.4 243.9 2417.2 244.6 2416.6 245.3 2420.9 246 2418.3 246.7 2420.8 247.4 2420.4 248.1 2421.6 248.8 2423.7 249.5 2424.1 250.2 2427.7 250.9 2426.5 251.6 2429.4 252.3 2428.2 253 2429.7 253.7 2432.2 254.4 2431.7 255.1 2434.8 255.8 2434.2 256.5 2434.3 257.2 2436 257.9 2434.9 258.6 2435.2 259.3 2434.4 260 2435.4 260.7 2437 261.4 2436.3 262.1 2438.7 262.8 2439.3 263.5 2439.5 264.2 2438.7 264.9 2439.7 265.6 2439.6 266.3 2440.9 267 2441.2 267.7 2440.5 268.4 2440.7 269.1 2440.9 269.8 2441.2 270.5 2440.3 271.2 2440.4 271.9 2441.4 272.6 2441.3 273.3 2441.4 274 2441.2 274.7 2441.7 275.4 2441.5 276.1 2441 276.8 2442.4 277.5 2442.1 278.2 2441.4 278.9 2441.5 279.6 2441.2 280.3 2440.9 281 2441.1 281.7 2441 282.4 2441.5 283.1 2442.1 283.8 2441.9 284.5 2441.2 285.2 2442 285.9 2441.8 286.6 2441.6 287.3 2442.9 288 2441.8 288.7 2442.9 289.4 2441.5 290.1 2442.7 290.8 2442.2 291.5 2443.2 292.2 2442.9 292.9 2442.3 293.6 2443.2 294.3 2443.6 295 2443.8 295.7 2444 296.4 2443.1 297.1 2444.6 297.8 2443.3 298.5 2443.7 299.2 2443.1 299.9 2443.9 L299.9 2444.9 L222.2 2444.9Z"/>
<path stroke="#ff0000" stroke-width="1.3" fill="none" d="M221.8 2444.9V2376.7"/>
<path stroke="#ff0000" stroke-width="1.6" fill="none" stroke-linejoin="round" d="M77.4 2444.9L120 2444.2 120 2444.2 120.7 2444.1 121.4 2442.8 122.1 2442.4 122.8 2443.4 123.5 2443.8 124.2 2443.2 124.9 2442.5 125.6 2443 126.3 2444 127 2442.4 127.7 2443.7 128.4 2443.3 129.1 2443.2 129.8 2443.4 130.5 2442.6 131.2 2442.8 131.9 2443.8 132.6 2442.5 133.3 2442.5 134 2441.9 134.7 2442.3 135.4 2443 136.1 2443.2 136.8 2442.8 137.5 2442.8 138.2 2442.7 138.9 2442.5 139.6 2442.8 140.3 2442.2 141 2442.8 141.7 2442.1 142.4 2441.2 143.1 2441.3 143.8 2441.8 144.5 2440.6 145.2 2439.2 145.9 2438.4 146.6 2438.1 147.3 2437.3 148 2436.6 148.7 2434.4 149.4 2434.4 150.1 2433.9 150.8 2432.4 151.5 2432.6 152.2 2429.9 152.9 2429.5 153.6 2428.9 154.3 2427.5 155 2427.1 155.7 2426.5 156.4 2425.5 157.1 2424.2 157.8 2423.5 158.5 2423 159.2 2420.7 159.9 2421.7 160.6 2419.5 161.3 2419.6 162 2417.9 162.7 2418 163.4 2413.4 164.1 2409.6 164.8 2405 165.5 2402.3 166.2 2400.8 166.9 2391.2 167.6 2390.8 168.3 2384.7 169 2377.8 169.7 2370.2 170.4 2371.2 171.1 2362.2 171.8 2358.8 172.5 2349.5 173.2 2342.9 173.9 2343.4 174.6 2337.5 175.3 2329.1 176 2324.4 176.7 2322.3 177.4 2312.1 178.1 2306.9 178.8 2301.2 179.5 2294.1 180.2 2282.2 180.9 2268.7 181.6 2270.2 182.3 2258.6 183 2252.5 183.7 2263.1 184.4 2243.9 185.1 2244.1 185.8 2237 186.5 2227.7 187.2 2221.5 187.9 2217.5 188.6 2209.8 189.3 2195.6 190 2195.2 190.7 2201.3 191.4 2193.8 192.1 2182.8 192.8 2183 193.5 2172.5 194.2 2168.9 194.9 2169.3 195.6 2181.4 196.3 2173.6 197 2177.2 197.7 2202.2 198.4 2210.3 199.1 2229 199.8 2241.8 200.5 2243.3 201.2 2255.9 201.9 2261.2 202.6 2278.3 203.3 2275.2 204 2284.5 204.7 2300.4 205.4 2292.4 206.1 2302.7 206.8 2307.8 207.5 2312.7 208.2 2315.6 208.9 2322.3 209.6 2321.6 210.3 2325 211 2321.7 211.7 2330.4 212.4 2328.7 213.1 2340.8 213.8 2340.8 214.5 2347.8 215.2 2347.6 215.9 2353.6 216.6 2356.8 217.3 2361 218 2362.3 218.7 2364.2 219.4 2367.7 220.1 2370.1 220.8 2372.6 221.5 2375.1 222.2 2376.7 222.9 2385 223.6 2381 224.3 2381.7 225 2387.2 225.7 2387.3 226.4 2387.9 227.1 2391.6 227.8 2395 228.5 2392.6 229.2 2398.9 229.9 2399.8 230.6 2403.1 231.3 2402.9 232 2408.6 232.7 2410.2 233.4 2407.6 234.1 2413.9 234.8 2414.3 235.5 2411.2 236.2 2413.7 236.9 2413.4 237.6 2414.3 238.3 2413.3 239 2415.5 239.7 2416 240.4 2415.3 241.1 2415.7 241.8 2414.1 242.5 2417.1 243.2 2415.4 243.9 2417.2 244.6 2416.6 245.3 2420.9 246 2418.3 246.7 2420.8 247.4 2420.4 248.1 2421.6 248.8 2423.7 249.5 2424.1 250.2 2427.7 250.9 2426.5 251.6 2429.4 252.3 2428.2 253 2429.7 253.7 2432.2 254.4 2431.7 255.1 2434.8 255.8 2434.2 256.5 2434.3 257.2 2436 257.9 2434.9 258.6 2435.2 259.3 2434.4 260 2435.4 260.7 2437 261.4 2436.3 262.1 2438.7 262.8 2439.3 263.5 2439.5 264.2 2438.7 264.9 2439.7 265.6 2439.6 266.3 2440.9 267 2441.2 267.7 2440.5 268.4 2440.7 269.1 2440.9 269.8 2441.2 270.5 2440.3 271.2 2440.4 271.9 2441.4 272.6 2441.3 273.3 2441.4 274 2441.2 274.7 2441.7 275.4 2441.5 276.1 2441 276.8 2442.4 277.5 2442.1 278.2 2441.4 278.9 2441.5 279.6 2441.2 280.3 2440.9 281 2441.1 281.7 2441 282.4 2441.5 283.1 2442.1 283.8 2441.9 284.5 2441.2 285.2 2442 285.9 2441.8 286.6 2441.6 287.3 2442.9 288 2441.8 288.7 2442.9 289.4 2441.5 290.1 2442.7 290.8 2442.2 291.5 2443.2 292.2 2442.9 292.9 2442.3 293.6 2443.2 294.3 2443.6 295 2443.8 295.7 2444 296.4 2443.1 297.1 2444.6 297.8 2443.3 298.5 2443.7 299.2 2443.1 299.9 2443.9"/>
<path stroke="#ff0000" stroke-width="1.2" d="M77.9 2444.9V2406.9"/>
<g stroke="#000" fill="none">
<rect x="76.4" y="2116.7" width="328.1" height="328.2" stroke-width="1.4"/>
<path stroke-width="1.3" d="M76.4 2444.9v8M96.2 2444.9v5M107.7 2444.9v5M115.9 2444.9v5M122.3 2444.9v5M127.5 2444.9v5M131.9 2444.9v5M135.7 2444.9v5M139 2444.9v5M142 2444.9v8M161.8 2444.9v5M173.3 2444.9v5M181.5 2444.9v5M187.9 2444.9v5M193.1 2444.9v5M197.5 2444.9v5M201.3 2444.9v5M204.6 2444.9v5M207.6 2444.9v8M227.4 2444.9v5M238.9 2444.9v5M247.1 2444.9v5M253.5 2444.9v5M258.7 2444.9v5M263.1 2444.9v5M266.9 2444.9v5M270.3 2444.9v5M273.3 2444.9v8M293 2444.9v5M304.6 2444.9v5M312.8 2444.9v5M319.1 2444.9v5M324.3 2444.9v5M328.7 2444.9v5M332.5 2444.9v5M335.9 2444.9v5M338.9 2444.9v8M358.6 2444.9v5M370.2 2444.9v5M378.4 2444.9v5M384.7 2444.9v5M389.9 2444.9v5M394.3 2444.9v5M398.1 2444.9v5M401.5 2444.9v5M404.5 2444.9v8M76.4 2444.9h-8M76.4 2412.6h-5M76.4 2380.3h-5M76.4 2348h-5M76.4 2315.7h-5M76.4 2283.4h-8M76.4 2251.1h-5M76.4 2218.8h-5M76.4 2186.5h-5M76.4 2154.2h-5M76.4 2121.9h-8"/>
</g>
<g font-family="Liberation Sans" fill="#000">
<text x="78.9" y="2472.9" font-size="17" text-anchor="middle">10<tspan font-size="12" dy="-6.5">2</tspan></text>
<text x="144.5" y="2472.9" font-size="17" text-anchor="middle">10<tspan font-size="12" dy="-6.5">3</tspan></text>
<text x="210.1" y="2472.9" font-size="17" text-anchor="middle">10<tspan font-size="12" dy="-6.5">4</tspan></text>
<text x="275.8" y="2472.9" font-size="17" text-anchor="middle">10<tspan font-size="12" dy="-6.5">5</tspan></text>
<text x="341.4" y="2472.9" font-size="17" text-anchor="middle">10<tspan font-size="12" dy="-6.5">6</tspan></text>
<text x="407" y="2472.9" font-size="17" text-anchor="middle">10<tspan font-size="12" dy="-6.5">7</tspan></text>
<text x="0" y="0" font-size="17" text-anchor="middle" transform="translate(61.4 2444.9) rotate(-90)">0</text>
<text x="0" y="0" font-size="17" text-anchor="middle" transform="translate(61.4 2283.4) rotate(-90)">200</text>
<text x="0" y="0" font-size="17" text-anchor="middle" transform="translate(61.4 2121.9) rotate(-90)">400</text>
<text x="240.4" y="2493.4" font-size="17" text-anchor="middle">ROS FITC-A</text>
<text transform="translate(39 2280.8) rotate(-90)" font-size="17" text-anchor="middle">Count</text>
</g>
<path stroke="#ff1a1a" stroke-width="1.6" fill="none" d="M221.8 2181.9H396M221.8 2173.9v16M396 2173.9v16"/>
<text x="221.8" y="2162" font-family="Liberation Sans" font-size="17.3" fill="#ff1a1a">P2(12.29%)</text>
<text x="628.7" y="2092.3" font-family="Liberation Sans" font-weight="bold" font-size="33.4" text-anchor="middle">OGD4h/R24h</text>
<path fill="#ff8080" d="M520 2443.7 520.7 2443.5 521.4 2443.5 522.1 2443.1 522.8 2443.5 523.5 2443.3 524.2 2443.9 524.9 2442.6 525.6 2444.6 526.3 2441.3 527 2443.1 527.7 2443.5 528.4 2442.8 529.1 2442.4 529.8 2442.8 530.5 2443.1 531.2 2443.4 531.9 2441.8 532.6 2442.7 533.3 2442.1 534 2443.1 534.7 2442.1 535.4 2442.4 536.1 2442.9 536.8 2442 537.5 2442.3 538.2 2441.6 538.9 2441.9 539.6 2440.8 540.3 2441.4 541 2441.5 541.7 2441.4 542.4 2443 543.1 2440.3 543.8 2440.3 544.5 2441.7 545.2 2441.9 545.9 2441.5 546.6 2442.1 547.3 2442.6 548 2441 548.7 2440.4 549.4 2441.1 550.1 2441.8 550.8 2441.3 551.5 2440.9 552.2 2441.1 552.9 2441.1 553.6 2439.7 554.3 2441 555 2440.2 555.7 2440.5 556.4 2440.3 557.1 2440.6 557.8 2441.1 558.5 2440.3 559.2 2440.5 559.9 2440.7 560.6 2440.1 561.3 2439 562 2439.6 562.7 2438.5 563.4 2438.2 564.1 2438.2 564.8 2438.8 565.5 2436.7 566.2 2436.7 566.9 2436.8 567.6 2435.7 568.3 2436 569 2436.5 569.7 2433.9 570.4 2434.9 571.1 2434 571.8 2435.8 572.5 2434.1 573.2 2433.3 573.9 2431.9 574.6 2430.3 575.3 2430.4 576 2429.9 576.7 2428.8 577.4 2429.7 578.1 2427.9 578.8 2425.5 579.5 2425.2 580.2 2425.1 580.9 2422.7 581.6 2422.9 582.3 2421.7 583 2421.7 583.7 2418.7 584.4 2414.4 585.1 2413.6 585.8 2407.6 586.5 2406.2 587.2 2400.1 587.9 2396.8 588.6 2393.9 589.3 2390.9 590 2389.8 590.7 2381.7 591.4 2384.9 592.1 2375.2 592.8 2378 593.5 2371.6 594.2 2366.4 594.9 2361.7 595.6 2349.8 596.3 2343 597 2335 597.7 2337.6 598.4 2316.8 599.1 2321.1 599.8 2305.5 600.5 2296.7 601.2 2290.6 601.9 2291.7 602.6 2275.8 603.3 2262.9 604 2260.2 604.7 2248.5 605.4 2243.3 606.1 2220.2 606.8 2227.5 607.5 2216.8 608.2 2194.7 608.9 2190.9 609.6 2191.5 610.3 2181.2 611 2183.8 611.7 2177.2 612.4 2168.9 613.1 2168.9 613.8 2168.9 614.5 2170.5 615.2 2168.9 615.9 2180.4 616.6 2191.2 617.3 2185.3 618 2196.8 618.7 2205.5 619.4 2209.9 620.1 2204.6 620.8 2213.2 621.5 2223.9 622.2 2235.1 622.9 2237.2 623.6 2251.5 624.3 2267.5 625 2268.8 625.7 2281.1 626.4 2286.8 627.1 2300.9 627.8 2310.4 628.5 2315.1 629.2 2313.7 629.9 2312.9 630.6 2326.5 631.3 2314.6 632 2323.7 632.7 2325.7 633.4 2331.5 634.1 2338.4 634.8 2341.6 635.5 2360.1 636.2 2361.6 L636.2 2444.9 L520 2444.9Z"/>
<path fill="#ff4040" d="M636.9 2363.5 637.6 2359.2 638.3 2355.7 639 2362.4 639.7 2360.8 640.4 2359 641.1 2361.1 641.8 2358.8 642.5 2355.6 643.2 2356.4 643.9 2362.5 644.6 2365.8 645.3 2369 646 2370.1 646.7 2371 647.4 2371.5 648.1 2376.7 648.8 2379.1 649.5 2378.4 650.2 2379.8 650.9 2383.1 651.6 2384.1 652.3 2388.8 653 2388.2 653.7 2393.3 654.4 2393.4 655.1 2398 655.8 2403.4 656.5 2398.2 657.2 2401.1 657.9 2405.7 658.6 2404.1 659.3 2403.7 660 2405.1 660.7 2404.6 661.4 2403.7 662.1 2402.8 662.8 2406.5 663.5 2407.5 664.2 2410.8 664.9 2410.4 665.6 2409.3 666.3 2414 667 2413.7 667.7 2418.7 668.4 2417.9 669.1 2422.1 669.8 2423.2 670.5 2424.5 671.2 2428 671.9 2428 672.6 2426.9 673.3 2430.5 674 2430.2 674.7 2431.6 675.4 2433.1 676.1 2434.4 676.8 2434.9 677.5 2434.9 678.2 2436.1 678.9 2436.7 679.6 2438.3 680.3 2439 681 2440.8 681.7 2440 682.4 2441.2 683.1 2441.8 683.8 2441.1 684.5 2440.8 685.2 2441.7 685.9 2440.6 686.6 2441.2 687.3 2442.1 688 2441.8 688.7 2441.4 689.4 2441.5 690.1 2441.5 690.8 2442.8 691.5 2443.2 692.2 2443 692.9 2442.2 693.6 2442.5 694.3 2441.9 695 2441.9 695.7 2443 696.4 2443.1 697.1 2442.1 697.8 2442.3 698.5 2443.3 699.2 2442.4 699.9 2443.9 700.6 2444.1 701.3 2442.9 702 2443.4 702.7 2444.1 703.4 2444.2 704.1 2443.7 704.8 2443.6 705.5 2443.6 706.2 2444.1 706.9 2444.1 707.6 2443.7 708.3 2443.6 709 2443.8 709.7 2443.8 L709.7 2444.9 L636.9 2444.9Z"/>
<path stroke="#ff0000" stroke-width="1.3" fill="none" d="M636.8 2444.9V2363.5"/>
<path stroke="#ff0000" stroke-width="1.6" fill="none" stroke-linejoin="round" d="M492.3 2444.9L520 2443.7 520 2443.7 520.7 2443.5 521.4 2443.5 522.1 2443.1 522.8 2443.5 523.5 2443.3 524.2 2443.9 524.9 2442.6 525.6 2444.6 526.3 2441.3 527 2443.1 527.7 2443.5 528.4 2442.8 529.1 2442.4 529.8 2442.8 530.5 2443.1 531.2 2443.4 531.9 2441.8 532.6 2442.7 533.3 2442.1 534 2443.1 534.7 2442.1 535.4 2442.4 536.1 2442.9 536.8 2442 537.5 2442.3 538.2 2441.6 538.9 2441.9 539.6 2440.8 540.3 2441.4 541 2441.5 541.7 2441.4 542.4 2443 543.1 2440.3 543.8 2440.3 544.5 2441.7 545.2 2441.9 545.9 2441.5 546.6 2442.1 547.3 2442.6 548 2441 548.7 2440.4 549.4 2441.1 550.1 2441.8 550.8 2441.3 551.5 2440.9 552.2 2441.1 552.9 2441.1 553.6 2439.7 554.3 2441 555 2440.2 555.7 2440.5 556.4 2440.3 557.1 2440.6 557.8 2441.1 558.5 2440.3 559.2 2440.5 559.9 2440.7 560.6 2440.1 561.3 2439 562 2439.6 562.7 2438.5 563.4 2438.2 564.1 2438.2 564.8 2438.8 565.5 2436.7 566.2 2436.7 566.9 2436.8 567.6 2435.7 568.3 2436 569 2436.5 569.7 2433.9 570.4 2434.9 571.1 2434 571.8 2435.8 572.5 2434.1 573.2 2433.3 573.9 2431.9 574.6 2430.3 575.3 2430.4 576 2429.9 576.7 2428.8 577.4 2429.7 578.1 2427.9 578.8 2425.5 579.5 2425.2 580.2 2425.1 580.9 2422.7 581.6 2422.9 582.3 2421.7 583 2421.7 583.7 2418.7 584.4 2414.4 585.1 2413.6 585.8 2407.6 586.5 2406.2 587.2 2400.1 587.9 2396.8 588.6 2393.9 589.3 2390.9 590 2389.8 590.7 2381.7 591.4 2384.9 592.1 2375.2 592.8 2378 593.5 2371.6 594.2 2366.4 594.9 2361.7 595.6 2349.8 596.3 2343 597 2335 597.7 2337.6 598.4 2316.8 599.1 2321.1 599.8 2305.5 600.5 2296.7 601.2 2290.6 601.9 2291.7 602.6 2275.8 603.3 2262.9 604 2260.2 604.7 2248.5 605.4 2243.3 606.1 2220.2 606.8 2227.5 607.5 2216.8 608.2 2194.7 608.9 2190.9 609.6 2191.5 610.3 2181.2 611 2183.8 611.7 2177.2 612.4 2168.9 613.1 2168.9 613.8 2168.9 614.5 2170.5 615.2 2168.9 615.9 2180.4 616.6 2191.2 617.3 2185.3 618 2196.8 618.7 2205.5 619.4 2209.9 620.1 2204.6 620.8 2213.2 621.5 2223.9 622.2 2235.1 622.9 2237.2 623.6 2251.5 624.3 2267.5 625 2268.8 625.7 2281.1 626.4 2286.8 627.1 2300.9 627.8 2310.4 628.5 2315.1 629.2 2313.7 629.9 2312.9 630.6 2326.5 631.3 2314.6 632 2323.7 632.7 2325.7 633.4 2331.5 634.1 2338.4 634.8 2341.6 635.5 2360.1 636.2 2361.6 636.9 2363.5 637.6 2359.2 638.3 2355.7 639 2362.4 639.7 2360.8 640.4 2359 641.1 2361.1 641.8 2358.8 642.5 2355.6 643.2 2356.4 643.9 2362.5 644.6 2365.8 645.3 2369 646 2370.1 646.7 2371 647.4 2371.5 648.1 2376.7 648.8 2379.1 649.5 2378.4 650.2 2379.8 650.9 2383.1 651.6 2384.1 652.3 2388.8 653 2388.2 653.7 2393.3 654.4 2393.4 655.1 2398 655.8 2403.4 656.5 2398.2 657.2 2401.1 657.9 2405.7 658.6 2404.1 659.3 2403.7 660 2405.1 660.7 2404.6 661.4 2403.7 662.1 2402.8 662.8 2406.5 663.5 2407.5 664.2 2410.8 664.9 2410.4 665.6 2409.3 666.3 2414 667 2413.7 667.7 2418.7 668.4 2417.9 669.1 2422.1 669.8 2423.2 670.5 2424.5 671.2 2428 671.9 2428 672.6 2426.9 673.3 2430.5 674 2430.2 674.7 2431.6 675.4 2433.1 676.1 2434.4 676.8 2434.9 677.5 2434.9 678.2 2436.1 678.9 2436.7 679.6 2438.3 680.3 2439 681 2440.8 681.7 2440 682.4 2441.2 683.1 2441.8 683.8 2441.1 684.5 2440.8 685.2 2441.7 685.9 2440.6 686.6 2441.2 687.3 2442.1 688 2441.8 688.7 2441.4 689.4 2441.5 690.1 2441.5 690.8 2442.8 691.5 2443.2 692.2 2443 692.9 2442.2 693.6 2442.5 694.3 2441.9 695 2441.9 695.7 2443 696.4 2443.1 697.1 2442.1 697.8 2442.3 698.5 2443.3 699.2 2442.4 699.9 2443.9 700.6 2444.1 701.3 2442.9 702 2443.4 702.7 2444.1 703.4 2444.2 704.1 2443.7 704.8 2443.6 705.5 2443.6 706.2 2444.1 706.9 2444.1 707.6 2443.7 708.3 2443.6 709 2443.8 709.7 2443.8"/>
<path stroke="#ff0000" stroke-width="1.2" d="M492.8 2444.9V2350.9"/>
<g stroke="#000" fill="none">
<rect x="491.3" y="2116.7" width="328.1" height="328.2" stroke-width="1.4"/>
<path stroke-width="1.3" d="M491.3 2444.9v8M511.1 2444.9v5M522.6 2444.9v5M530.8 2444.9v5M537.2 2444.9v5M542.4 2444.9v5M546.8 2444.9v5M550.6 2444.9v5M553.9 2444.9v5M556.9 2444.9v8M576.7 2444.9v5M588.2 2444.9v5M596.4 2444.9v5M602.8 2444.9v5M608 2444.9v5M612.4 2444.9v5M616.2 2444.9v5M619.5 2444.9v5M622.5 2444.9v8M642.3 2444.9v5M653.8 2444.9v5M662 2444.9v5M668.4 2444.9v5M673.6 2444.9v5M678 2444.9v5M681.8 2444.9v5M685.2 2444.9v5M688.2 2444.9v8M707.9 2444.9v5M719.5 2444.9v5M727.7 2444.9v5M734 2444.9v5M739.2 2444.9v5M743.6 2444.9v5M747.4 2444.9v5M750.8 2444.9v5M753.8 2444.9v8M773.5 2444.9v5M785.1 2444.9v5M793.3 2444.9v5M799.6 2444.9v5M804.8 2444.9v5M809.2 2444.9v5M813 2444.9v5M816.4 2444.9v5M819.4 2444.9v8M491.3 2444.9h-8M491.3 2414.8h-5M491.3 2384.7h-5M491.3 2354.6h-5M491.3 2324.5h-5M491.3 2294.4h-8M491.3 2264.3h-5M491.3 2234.2h-5M491.3 2204.1h-5M491.3 2174h-5M491.3 2143.9h-8"/>
</g>
<g font-family="Liberation Sans" fill="#000">
<text x="493.8" y="2472.9" font-size="17" text-anchor="middle">10<tspan font-size="12" dy="-6.5">2</tspan></text>
<text x="559.4" y="2472.9" font-size="17" text-anchor="middle">10<tspan font-size="12" dy="-6.5">3</tspan></text>
<text x="625" y="2472.9" font-size="17" text-anchor="middle">10<tspan font-size="12" dy="-6.5">4</tspan></text>
<text x="690.7" y="2472.9" font-size="17" text-anchor="middle">10<tspan font-size="12" dy="-6.5">5</tspan></text>
<text x="756.3" y="2472.9" font-size="17" text-anchor="middle">10<tspan font-size="12" dy="-6.5">6</tspan></text>
<text x="821.9" y="2472.9" font-size="17" text-anchor="middle">10<tspan font-size="12" dy="-6.5">7</tspan></text>
<text x="0" y="0" font-size="17" text-anchor="middle" transform="translate(476.3 2444.9) rotate(-90)">0</text>
<text x="0" y="0" font-size="17" text-anchor="middle" transform="translate(476.3 2294.4) rotate(-90)">200</text>
<text x="0" y="0" font-size="17" text-anchor="middle" transform="translate(476.3 2143.9) rotate(-90)">400</text>
<text x="655.4" y="2493.4" font-size="17" text-anchor="middle">ROS FITC-A</text>
<text transform="translate(453.9 2280.8) rotate(-90)" font-size="17" text-anchor="middle">Count</text>
</g>
<path stroke="#ff1a1a" stroke-width="1.6" fill="none" d="M636.8 2181.9H810.9M636.8 2173.9v16M810.9 2173.9v16"/>
<text x="636.8" y="2162" font-family="Liberation Sans" font-size="17.3" fill="#ff1a1a">P2(18.76%)</text>
</svg></body></html>
